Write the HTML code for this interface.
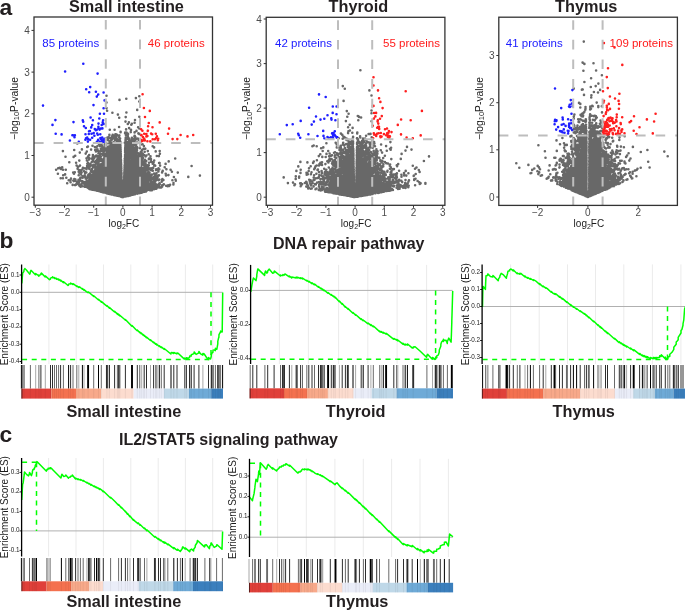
<!DOCTYPE html>
<html><head><meta charset="utf-8"><style>
html,body{margin:0;padding:0;background:#fff;overflow:hidden;}
svg{display:block;will-change:transform;font-family:"Liberation Sans",sans-serif;}
</style></head><body>
<svg width="685" height="611" viewBox="0 0 685 611">
<rect width="685" height="611" fill="#fff"/>
<text x="-0.5" y="14.6" font-size="22.8" font-weight="bold" fill="#231f20">a</text>
<text x="-0.5" y="248.4" font-size="22.8" font-weight="bold" fill="#231f20">b</text>
<text x="-0.5" y="441.8" font-size="22.8" font-weight="bold" fill="#231f20">c</text>
<text x="69.0" y="11.5" font-size="16.3" font-weight="bold" fill="#231f20">Small intestine</text>
<text x="328.5" y="11.5" font-size="16.3" font-weight="bold" fill="#231f20">Thyroid</text>
<text x="555.0" y="11.5" font-size="16.3" font-weight="bold" fill="#231f20">Thymus</text>
<text x="273.0" y="249.1" font-size="16" font-weight="bold" fill="#231f20">DNA repair pathway</text>
<text x="119.0" y="444.9" font-size="16" font-weight="bold" fill="#231f20">IL2/STAT5 signaling pathway</text>
<text x="66.4" y="417.0" font-size="16.3" font-weight="bold" fill="#231f20">Small intestine</text>
<text x="325.8" y="417.0" font-size="16.3" font-weight="bold" fill="#231f20">Thyroid</text>
<text x="552.5" y="417.0" font-size="16.3" font-weight="bold" fill="#231f20">Thymus</text>
<text x="66.4" y="607.0" font-size="16.3" font-weight="bold" fill="#231f20">Small intestine</text>
<text x="326.0" y="607.0" font-size="16.3" font-weight="bold" fill="#231f20">Thymus</text>
<clipPath id="cv0"><rect x="34" y="17" width="178.5" height="188.2"/></clipPath>
<g clip-path="url(#cv0)" fill="none" stroke-linecap="round" stroke-width="2.6">
<path stroke="#686868" d="M132.8 181.5h0m-14.3 13.6h0m8.6-37.5h0m-11.6 36.8h0m-11.9-25.1h0m12 9h0m6.7 15.1h0m-1.4-14.5h0m-1.3 5.6h0m-9.1 4.1h0m13.8-4.1h0m1.9-10.2h0m-7.7 17.1h0m-4.4-20.1h0m17.7 8h0m-15.2-23.7h0m30.6 17.6h0m-32.1-9.6h0m3.9 6h0m-14 17.5h0m-0.5-19.7h0m0.4 11h0m51.4 10.3h0m-46.6 4.5h0m25.8-5.5h0m-28.8-6.7h0m9.8-10.9h0m-7.5-12.7h0m30.8 35.1h0m-35.6-13h0m22.3-26.1h0m-9.7 32.9h0m-9.5 2.1h0m4.3-3.7h0m5.3 9.3h0m11.9-10.9h0m-10.3-2.5h0m14.4-41.1h0m-7.8 48.3h0m-21.6 1.5h0m31.7-5.5h0m-22.9-16h0m-0.3 23.3h0m-2.5-10.6h0m8.4 2.1h0m-2.7 7.1h0m21.6-33.9h0m-12.9 37.2h0m-25.4-9.3h0m22.2 8.2h0m4.5-27.7h0m15.1 24.4h0m-12.3-25.6h0m-2.3-16.2h0m3.3 45.8h0m-35.3-5.5h0m-15.4-3.4h0m29.3-5.2h0m10.7-8.2h0m15.4 15.6h0m17.5-2.1h0m-9.7 5.3h0m-29.3-19.7h0m-9.2-7.6h0m7.3 23.4h0m7.1 6.3h0m-4.6 2.5h0m14.2-35.5h0m-6.5 23.6h0m4.4 12.4h0m6.8-16.6h0m-7.7 8.7h0m-3 2.3h0m-22.4 0.7h0m29.3 2.6h0m-12.5 0.8h0m1.2-5.6h0m12.9-19.8h0m0.2 22.7h0m-19.2-27h0m28.5 26.3h0m-1.5 0.2h0m-21.9-30.3h0m4.3 17.4h0m1-2.9h0m0.9 15.6h0m-17.8-31.3h0m34.6 16.6h0m-37.6-9.7h0m23.4 14.4h0m-5.1-28h0m-9.1 33.4h0m28.4-10.9h0m-20.2 15.6h0m19.1-4.5h0m-13.3-4.8h0m19 9h0m-9.7-3.9h0m-20.6 5.1h0m12.3-15.4h0m-21.7 5.2h0m13.6-17h0m20.5 30.2h0m-45.5-32h0m43.7 5.4h0m-15.9-22.4h0m-1.8 24.4h0m-27.7 14.9h0m47.4 2.5h0m-5.9-32.2h0m-47.8 14.1h0m46.6 9.8h0m-9.9 10.5h0m-22.6-13.1h0m27.5 10.4h0m-16.9 4.4h0m29.7-3.3h0m-14.2-10h0m9.1 1.7h0m-7.6-2.1h0m-8.1-24.7h0m-2.5 11.7h0m13.4 7.1h0m-2.8 2.7h0m1.2-0.3h0m9 10h0m-13.6 13.4h0m-14-7.9h0m-15.9-3.4h0m0.1-0.8h0m21.3 0.3h0m7.4 10.4h0m-1.3-6h0m-16.2-10.3h0m21.8-33.3h0m-5.9 36.6h0m-8.2-18.5h0m9.4-7h0m18.4 23.1h0m-46.9 5.3h0m25.2-13.4h0m16.4 17.7h0m7-9.3h0m-22.2-21.7h0m23 33.6h0m-23.6-14h0m-5.5-7.5h0m-14.3 17.6h0m36.9-35.3h0m-0.2 35.4h0m0.9-27.4h0m-21.3 15.9h0m1.2-10.2h0m23 23.5h0m-40.8-17.5h0m29.9 23h0m-6.8-8h0m2.9 2.3h0m-17.4-9.4h0m0-10.4h0m21.5 7.5h0m0.7 17.1h0m21.3-35.9h0m-18.9 36.3h0m-30.3-8.5h0m23.5-9.8h0m-5.6 10.8h0m-8.8-12.5h0m21.1 1.1h0m-65.4-6.3h0m69 10.5h0m-8.4 15.6h0m13.7-27.7h0m-28.9 20.5h0m14.3-8.3h0m0.1-14.4h0m-12.2 27h0m24.1-23h0m14.7 20.2h0m-25.3-20.6h0m-8.7 23.3h0m-12.1-9.7h0m2.4 6.3h0m1.7-4.5h0m2.7-10.3h0m7.1 16.5h0m-34.9-19.1h0m49.9 2.5h0m-8.4 7.1h0m-0.4-26.2h0m-12.1 9.7h0m20.4 17.8h0m10.6-10h0m-35.9 16.3h0m17-2.8h0m3.4 6.2h0m-47.6-11.5h0m30 3.3h0m8.7-12.5h0m0.4 20h0m-0.3-22.7h0m14.4 24.3h0m-9.2-9.3h0m4.8 6h0m-26.4-10.2h0m17 7h0m5.4-24.2h0m-35.9 18.8h0m6.3-1.8h0m11.3-22.8h0m46.6 31.4h0m-41.1-30.6h0m15.2 24.5h0m7.1-27h0m-47.5 27h0m36.8-11.4h0m-8.9-15.2h0m10.6 5.7h0m-12.7 0.9h0m20.6 19.5h0m-13.8-0.6h0m32.7 7.6h0m-28.4 6.8h0m14.8-7.2h0m-0.4-3.3h0m-12.9 7.7h0m-9.9 1.8h0m1.1-41h0m7.5 22.5h0m1-27.1h0m-18.6 34.5h0m10.8-14h0m-53.6-12.7h0m61.1 14.7h0m-10.5-22.3h0m1.9 40.8h0m12.6-3.2h0m-6.5 0.4h0m-6.4-8.1h0m6.3 10.3h0m4.2-30.5h0m-9.4 18.3h0m16.8-33h0m-26 19.3h0m-15.8 9.1h0m4.1 3.2h0m7.9 14.8h0m9.9-18.1h0m-6.2 17.6h0m10-41h0m9.8 45.8h0m0.5-5h0m-20.1-17.5h0m-9.9-21.1h0m14.8 25h0m11.4-1.4h0m5.6 17.5h0m-6.8-12.7h0m-13.7 13.1h0m20-7h0m-16-33.3h0m-7.3-2.4h0m5.2 29.5h0m27 4.3h0m-26.7 1.3h0m2.5 6h0m13.8-0.4h0m-6.1 4.5h0m21.4-11.4h0m18.5-3.8h0m-50.4-21.3h0m-5.1-19.5h0m20.4 55.9h0m-28.6-12.4h0m37.4 9.9h0m-20.6-18h0m15.8 14.6h0m-11.9-46.9h0m-2.1 17.9h0m14.2 9h0m-10.9 15.8h0m-13.7-3.2h0m31.8-2.6h0m0.5-3.4h0m-57.6 0.5h0m41.3 19.9h0m0.7-14.7h0m-9.9 10.1h0m-0.3-54h0m10.3 40.3h0m7.4 5.4h0m-35.4-2.1h0m32.6-13.3h0m-9.2 10.2h0m3.7 17.7h0m0.5-7.7h0m-9.8-3.7h0m15.8-43.5h0m-20.8 22h0m16.1-5.9h0m14.6 35.6h0m-22-16.7h0m-6.9 9.5h0m8-42.6h0m-5 1.9h0m-19.2 19.7h0m23.2 20.6h0m14.7 5.3h0m-21-22.1h0m18.8 1.9h0m-6.7 22.9h0m-4.4-2.5h0m-8.5-37.4h0m20.6 37.5h0m-21-0.1h0m17.4-29.1h0m-7.7 25.8h0m12.7-25h0m2.3 3.7h0m6.2 12.6h0m-30.8 2.7h0m10.8 1h0m-1 2.1h0m10.4-20h0m-1 26.1h0m-22.8-22.6h0m9.1 25.9h0m27-14.8h0m-25.2-6.7h0m0.2-11h0m11.9 19.7h0m4.2-6.1h0m21.3 4.9h0m-48.6-0.3h0m26.4 11.5h0m-13 1.9h0m-22-5.7h0m34.3 6h0m-14.4-5.2h0m15.2-29.8h0m-1.5 20.5h0m-32.3-3.5h0m-0.9 7.1h0m-12.5-13.1h0m35.3 19.9h0m-21.8-29.1h0m-0.5 10.8h0m33.6 11.8h0m-16.3-3.8h0m2.8-24.2h0m12.3 39.7h0m1-6.9h0m-42.6-1.7h0m43.3-11.6h0m-22.8 19h0m-33.2-11h0m42 13.9h0m5.6-31.5h0m11 14.7h0m-38.6-7.1h0m19.5 14h0m8.8-17.2h0m9.6-20.5h0m-35.1 28.6h0m16.6 9.9h0m28.1-14.2h0m-28.3 22.8h0m-7.4-19.5h0m-14-9.5h0m33.7 25.1h0m-3.4-10.3h0m-13.3-12.5h0m-0.4 0.9h0m-3.8 22.9h0m12.6 3.3h0m15-10.5h0m-14.7-13.8h0m-6.7 16.8h0m6.8-21.9h0m5.6 7.2h0m-2.3 11.3h0m5.8-7.8h0m-15.2-2.8h0m5.8 21.8h0m4.6-34.4h0m13.3 21.8h0m-24-19.5h0m27.2 28.3h0m-12.3-3.2h0m-0.4 3.6h0m-18.2-6.1h0m19.2-7.6h0m-15.6-1.3h0m1.5 10.9h0m4.7-15.4h0m17.4 6.9h0m-18.2-10.4h0m16.9 5.3h0m-25.5 6.8h0m-0.1-24.3h0m37.4 7.7h0m-14.4 11.8h0m-2.6 3h0m18.4 6h0m-30.1 1.6h0m-2.5-3.2h0m3.6 9.5h0m0-29.3h0m-3.1-13.7h0m-5.8 25.1h0m-8.8-23.2h0m22.1 32h0m-13.9-1.5h0m20.1-28.8h0m-11.6 35.3h0m21.6-9h0m-7.2-3.7h0m-9.7 17.8h0m19.9-6.2h0m-58.3-30.5h0m45.6 1h0m21.8 28.6h0m-67.1-36.3h0m15.3 35h0m16.2-13.7h0m6.2 3.6h0m17.4 4.3h0m-27.2 12.9h0m-2.2-35.3h0m-6 28.3h0m6.2-10.5h0m0-6.3h0m6.2 25.6h0m-9.8-28.2h0m18.4 22.1h0m-19.3 3.5h0m16-1.2h0m0.9-1.9h0m-24.9-4.6h0m4.6 3.3h0m42.5-23.2h0m-55.8 15h0m22.8 10.4h0m9.3 4.1h0m8-1.7h0m-29.3-2.9h0m30.4-41.7h0m-36.2 22.8h0m22 9.2h0m-6.6 11.8h0m-2.2-15.6h0m-3.1-9.9h0m26.8 3.1h0m-1.6 20.2h0m5.3-32.2h0m-16.1 15.6h0m-40 1h0m31-0.1h0m-5.1 16.4h0m28.4-27.9h0m-19.1 21.2h0m20.4 4.8h0m-17.8 5.8h0m-0.2-1.2h0m1.9-36.6h0m-12.6 32h0m30.2-3.2h0m2.1-9.9h0m-10.7-15.8h0m4.5 28.8h0m-20.4-17h0m24.6-5.5h0m-23.8 23h0m6.9-12.6h0m-0.9-28.4h0m-13.3 25.3h0m27.2-1.4h0m0.3 15.5h0m-2-15.6h0m-12.4 17.2h0m-21.9-10.4h0m13.3 13.2h0m13.3-1.6h0m-21-15.8h0m24.4 6.8h0m-20.6-3h0m1.8 12.7h0m1.8-36.3h0m21.8 22.8h0m-13.8 6.2h0m26.6-8.8h0m-22 11.7h0m-13.9-6.6h0m26.8-4h0m-50.2 4.7h0m40.7-6.9h0m14.1 8.8h0m-33.7 4.4h0m-12.5-37.3h0m13.9 21.7h0m9.6 23.4h0m-2.3-0.1h0m51.2-8.7h0m-44.1 7h0m9.7 0.2h0m9.7-3.1h0m-7-2.9h0m-6.4 0.4h0m22.1-4.1h0m-18.5 0h0m-39.1 1.7h0m27.6-2.2h0m-6.4-17.5h0m15.2-17.4h0m4.7 44h0m-10.8-1h0m10.7-31.5h0m7.8 28.7h0m-36.5-19.3h0m-6 13.5h0m20.3-6.6h0m-31.4-17.8h0m26.7 2.6h0m15.1-18.4h0m-11.1 1.3h0m5.3 5.1h0m-10.7 42.6h0m19.3-10.1h0m-8.6-25.1h0m-3.8 28h0m14.9-2.5h0m-21.2-0.4h0m-4.7-18.7h0m-15.9 11h0m29.5 20.5h0m35.3-24.9h0m-47.2 11.6h0m-2.2 11.7h0m9.8-25.2h0m-11.1 19.9h0m30.7-8.5h0m-68.6 1h0m56-3.9h0m-8.9 7.9h0m-4.5-8.8h0m17 17.6h0m-9.5 2.3h0m0.2-7.3h0m3.4 8.9h0m-9-7.3h0m40.6-3.7h0m-19.9 6.3h0m-4-22.8h0m-22.5 24.7h0m15.6-15.8h0m-65.5-10h0m78.7-8.6h0m-19.9 32.9h0m-8.4-19.8h0m11.2 17h0m14.6-25.7h0m-22 10.5h0m42.1-4.1h0m-21.3-4.5h0m-10.8 26.2h0m-5.5 3.3h0m6.3-27.8h0m-4.4-6.9h0m4.3 15.5h0m-18-32.3h0m21.9 43.6h0m12.1-14.2h0m2 8h0m-25.8 12.8h0m26.4-4.5h0m-54.9-2.1h0m42 6.9h0m-14.6-9.2h0m1.9-2.7h0m1.5-31.3h0m-6.8 30.9h0m3.9 10.7h0m-11.6-16.4h0m16-9.8h0m0.3 25h0m6.1-31.8h0m-6.1 5.5h0m-2.5 6.1h0m-10.2 12.7h0m-17.5 2h0m27.7-19.9h0m-10 17.6h0m15.7 1h0m-16.6-7.2h0m5.1 6.6h0m5.9 8.1h0m2.4-25.5h0m-12.3 13.3h0m-6.4-33.9h0m26.4 36.6h0m2.7 8h0m-14.1 5.3h0m8.8-14.2h0m-7.2-9.6h0m13 12.2h0m-13.2-7.8h0m-41.3-33h0m34.8 38.3h0m76.2-4.8h0m-62.8 17.4h0m20.6-3.2h0m-27.4-14.8h0m11.1-8.3h0m-10.6-15.5h0m6.6 27.5h0m-18.3 9.2h0m-3.3-25.4h0m20.4 29.7h0m-5.6-4h0m17.9-27.7h0m-7 24.6h0m-10.9 5.9h0m-14.1-0.9h0m20.6-31.1h0m-1.1 32.6h0m6.5-2.7h0m-4.9-21.9h0m-4.8 4.4h0m28.9 17h0m-33.6-14.3h0m7.9-3.2h0m6.7 16.5h0m13.6-37h0m-27.7 29.6h0m-1-6.2h0m2.7 8.9h0m-3.5 1.3h0m19.6 0.1h0m-3.5-6.9h0m-25.2 12.2h0m-12.7-4.2h0m18.3 6.6h0m1.5-14.3h0m36.5 5.6h0m-69-14.2h0m29.9-1.4h0m13.3 19.7h0m-13.3 4.6h0m49.1-9.2h0m-43.6-13.3h0m-11.4-7.3h0m6.7 25.9h0m13.2 0.9h0m-35.3-4h0m27.4-28.7h0m13.7 35h0m-5.6-12.4h0m12.4-12.1h0m1.3 4.2h0m-29.7 21.5h0m17.6 1.8h0m-0.1-47.9h0m-2 26.6h0m3.1 15.4h0m0.7-55.4h0m-21.7 56.3h0m24.6-17h0m-17.6-1.3h0m4.6 19.3h0m-2.4-18.8h0m6.4 18.3h0m34.2-21.6h0m-15-0.7h0m-33.7 6h0m32.2-17h0m-11.2-13.4h0m-9 49.4h0m-29.5-7.2h0m34-4.8h0m-28.6 1.5h0m37 8.9h0m-35.4-19.8h0m5.1 13.2h0m13.1 4.3h0m15.6-45.2h0m-5.5 13.2h0m-9.7 32h0m2.4-0.6h0m-8.7-28.8h0m-40.6 19.9h0m57.1 11.9h0m-7.8-18h0m17.6-1.5h0m-15.1-19.7h0m-1.7 27.2h0m-13.5-31.2h0m13 35h0m15.1 1.4h0m-13.4 0.4h0m7.5-42.1h0m-16.1 41.3h0m-31.7-3.9h0m45.4-22.8h0m2.7 27.5h0m-18.8 4.2h0m26.7-28.5h0m-40.9 27.2h0m25.8 7.5h0m-11.2-9h0m-1.6 3.7h0m19.4-20.6h0m-16.2 16h0m22.3 7h0m-6.8-58.8h0m-28.9 52.7h0m37-21.4h0m1.2 23.9h0m-3.6-3.5h0m-19.3 4.3h0m-3.5-14.7h0m-0.2 2.3h0m22.4 15.5h0m-21.9-52.1h0m6.2 17.1h0m6 37.9h0m-7.1-3h0m-10.5-38.9h0m17 41.8h0m5-26.3h0m1.4 23.8h0m-14.5-1h0m19.2-20.2h0m8.9 18.7h0m6.3-4.8h0m-26.4-8.3h0m13.6 13.1h0m-2.9-19.8h0m10.5-0.1h0m-49.6-14.5h0m19.5 36.9h0m-14.4-7h0m-1.9-11.5h0m28.6-5h0m-22.6 21.1h0m9.9-15.3h0m22.9-12.8h0m-10.5 16.5h0m9.8 8.1h0m-12.2 4.1h0m-29.4-46.3h0m12.2 46h0m30.6-5.4h0m-9.3-44.6h0m-10.5 50.2h0m6.4 4.7h0m-17.9-7.5h0m20.3-7h0m-21.7-0.4h0m-17.9 3.9h0m52.4-5.5h0m-20.2-35.4h0m6.6 51.1h0m7.3-1.5h0m-2.9-12.7h0m-15.8-45.4h0m-7.8 53h0m35.1-2h0m4.1 4.4h0m-36-14.7h0m31.3-8.7h0m-28.2-18.4h0m25.2 38.1h0m7.1-17h0m-4.8-17.5h0m-18.5 38.7h0m21.7-9.4h0m-26.9-18.2h0m19.9 22.7h0m-2.6-32.7h0m-11.5 34.2h0m-23-6.2h0m30.7 0.1h0m-4.1 8h0m-0.1 0.9h0m-22.8-6.6h0m-6.9 2.9h0m16.4 0.8h0m29.7 2.8h0m-11.5-13.1h0m-2.2-16h0m3.2 8.5h0m-9.4-18.4h0m-0.1 31h0m0.9-13.8h0m-12.5-0.9h0m5.9 20.5h0m23.4 1.3h0m0 0.1h0m-28.2-16.4h0m3.2 13.7h0m-7.8 1.8h0m7.6-32.7h0m6.7 7.3h0m2.5 24h0m5-18.5h0m-23.5-10.2h0m27 15.9h0m5.6 2.1h0m-16.5-42h0m13.8 31.1h0m-8.5 0h0m-17.4 4.6h0m4.8-18.1h0m0.7 26.6h0m-15.6 3.7h0m-8.5-16.2h0m22.9 25.6h0m19.7-0.7h0m-14-19.9h0m12.3 18h0m4-24.1h0m17.5 2.2h0m-31.2 17.2h0m-19 6.2h0m39.6-22.9h0m-6.1 10.4h0m4.3 4.8h0m-14.5 5.2h0m-12.6-25.7h0m17.4 21.8h0m8.3-3.8h0m-37.5 1.7h0m3.9-33.8h0m31.7 3.4h0m-28.2 40h0m-46.5-14.7h0m64.2 14.8h0m-17.6-0.9h0m11.2 3.2h0m-11.1-20.4h0m16.4 16.4h0m-5.2-4h0m-2.1-3.2h0m16.5 3h0m-12.1-13.1h0m3.8 19.8h0m-16.3-18h0m5.7-18.8h0m45.1 22.5h0m-32.7-12.3h0m17.7 23.9h0m-19-27h0m-14 7.3h0m29.4 21.2h0m-28-10.9h0m46.4 5.1h0m-46.4 3h0m3.2-36.7h0m9.7 12.9h0m-18.1 8.5h0m18.5 19.4h0m-1.3-18.8h0m-17 3h0m3.7 1.7h0m14.2-5.6h0m5.6 16.2h0m-10.1-22.8h0m13.3 23h0m-12.9-3.4h0m0.2-3.5h0m6.6-7.6h0m-9.5-20.6h0m13.5 23.8h0m-26.4 13.5h0m-3.5-11h0m19.1 4.4h0m3.9 10.2h0m-37.2-10.1h0m42.6 9h0m-13.9-0.5h0m22.9-9.7h0m-19.3-12.1h0m-30.6 6.9h0m42.3-5.9h0m-18.4 16.8h0m-2.6-36h0m39.1 20.4h0m1.1 11.6h0m-38-7.6h0m23.9 4.4h0m-22.5-34.6h0m4.1 22.2h0m-30.5 16.7h0m9.6-5.1h0m32.7-7.5h0m-18.9 6h0m27 7h0m-23 2.4h0m-5.6-0.4h0m58.6-28.9h0m-41 6.1h0m-2.5 20.2h0m28.5-10.7h0m-37.5 7.2h0m0.9-19.1h0m12 7.8h0m-13.9 16.8h0m9.1-13h0m-18.7 10.8h0m11.3-52.8h0m6.6 61.5h0m-26.6-36.6h0m4.3 17.6h0m48.9 11.8h0m-52.2-25.2h0m31.1 2.4h0m-26.2 25.8h0m20.8 3.2h0m4.7-11.9h0m-8.5-42.6h0m4.3 46.5h0m7.2-19.5h0m-31.6-6.8h0m19 33.9h0m-8.7-10.3h0m27-6.9h0m-32.8-4.6h0m41.4 15.8h0m-16.8-16.8h0m31.3-6.4h0m-38.4 21.4h0m3.2-17.6h0m-11.9 13.7h0m15.6 7.5h0m6.6-21.3h0m-24.2 10.1h0m-3.8 3h0m14.3-5.6h0m-10.9-12.4h0m0.3-13.3h0m24.1 31.8h0m-9.2 12.3h0m-5.5-1.5h0m3.9 2.4h0m13-14.6h0m7.2 9.8h0m-1.7-5.9h0m-24.4-1.4h0m2.6-2.6h0m-16.1-3.8h0m13.9 11h0m12.9-22.4h0m11.2 19.5h0m-8.2-5.5h0m-6.4 7.9h0m-23.6 3.4h0m-6.9-29.4h0m-1.1 10.6h0m24.1-1.5h0m5.2-33.2h0m-12.7 47.4h0m-5.8-1.2h0m34.1 8.5h0m-34.2-9.4h0m21.7-6h0m-17.7 15h0m21.6-21.3h0m-24.6-13.7h0m-1.3 15.8h0m-14.8 13.4h0m-12.2-20.9h0m65.5-2.1h0m-29.2 29.8h0m10.3-48h0m22.5 42.4h0m-45.1-18.1h0m9.4-6h0m-19.6 12.2h0m24.8 5.9h0m2.6 14.4h0m-6.4-6.5h0m20-10.7h0m-38.8 0.2h0m33.2-6.2h0m-12.6 22.4h0m-5.3-19.9h0m-4.5 15.5h0m13.6-2.7h0m-9.7 4.3h0m-18.6-23.4h0m74.3 0.1h0m-40.3 7.4h0m9.3 13.8h0m-1.2 3.1h0m22.5-8.4h0m-45.4-6.5h0m21.1 12.6h0m-11.7-0.8h0m-16.9-10.9h0m-9.2-22.9h0m22.3 10.5h0m10.7 22h0m-11.2-25.7h0m-14.2 17.2h0m45.9 6.1h0m-53.1-4.7h0m29.3 5h0m-13.1-19.7h0m42.9-19.9h0m-40 18.5h0m1.7 17.9h0m-2.9-6.1h0m18.2-14.1h0m5.4 6.5h0m8.4 6.3h0m-12.3 14h0m-8.6-1.9h0m25-12.2h0m-28.1-12.7h0m-7.1 28.3h0m10.6 2.5h0m11.6-12.1h0m-20.6 7h0m-4.2-2.4h0m13.7 5.8h0m-7.6-22.3h0m-14.6-7.4h0m5 24.7h0m16.6 8.3h0m-12.4-30.8h0m9.6 20.6h0m-11.5-3.8h0m8.6-5.5h0m13.2 12.8h0m-17.2-34.5h0m15.8 20.9h0m8.3 0.9h0m-0.4 15.9h0m-17.9-3.5h0m-23-4.8h0m35.4 10.6h0m-11.6-27.5h0m8.6 18.2h0m7.1-36.1h0m-37 6h0m33 32.2h0m-40.4-1.6h0m32.9 1.6h0m-8.4-2.7h0m-1.1 5.9h0m24.4 1.3h0m-4.3 0.4h0m-9.1-0.5h0m-24-16.4h0m44.1 10.5h0m-6-22.3h0m9.6 24.7h0m-33.4-18.1h0m21.7 22.5h0m-30.1-23h0m9.6-0.3h0m5.9 5.9h0m13.4 3.7h0m-43.6-21h0m6.9 7.1h0m27 28.2h0m1.2 0.7h0m-8.7-34.7h0m-12.4 17.8h0m-5-2.2h0m46.5 11.9h0m-20.6 0.5h0m-28.3-13.5h0m40.1 14.1h0m-31.2-4.1h0m18.3-19.2h0m7.9 24.6h0m-4.4-9.5h0m-23.5 11.3h0m-19.6-10.5h0m36.9-21.7h0m-15.2 29.5h0m8.3-3.2h0m-16.9-5.5h0m37.6-3.8h0m-7.7 11h0m-16.1-46.7h0m9.2 42.9h0m-9.7 10.7h0m0.3-30.2h0m2.5-7.4h0m25.9 18.2h0m-31 7.1h0m-11.6-9.2h0m24.1 9.9h0m-18 3.2h0m14.7 6.7h0m-12.9-17.6h0m15.4 12.8h0m5.8 7.1h0m-20.8-9.5h0m-6.3-7.1h0m13.7 1.8h0m9.3-21.4h0m6.2-17.4h0m-34.1 42.6h0m11 8.7h0m-5.3-4.3h0m30.8-6.8h0m0 2.2h0m-10.2 3.8h0m-0.2 7.5h0m37.9-9h0m-39.6 11.2h0m-13.5-24.9h0m-0.2 6.7h0m43 11.5h0m-44.5-3.8h0m66.4-3.3h0m-56.7 3.1h0m11.1-22.8h0m-10.3 11.6h0m-11.1 7.4h0m12.1 5.4h0m-3.6-10.1h0m-5.9 10.4h0m18.5-4.5h0m-8.1 12.4h0m-17.4-6.9h0m32.9-32.5h0m-26.9-8.2h0m14.4 45.6h0m-8.7-8.8h0m-15.6 5.6h0m39.9-13.7h0m-20.8-15.4h0m-3.6 28.1h0m2.2-43.7h0m-50.8 28.4h0m64.2 9.8h0m-21.3 3.4h0m-5.4 3.5h0m2.7-26.9h0m-14.1 10.8h0m18.5 13.3h0m20.6-24.7h0m-21-17.2h0m10.9 10.7h0m-25.5 31.8h0m32.8 2.5h0m-6.5-26.7h0m-5.9 21.7h0m12.1-12.8h0m-16.1-8.7h0m-8.3-4.7h0m16.3 21.1h0m-31.1-13.9h0m42.9 26.6h0m-0.4-10h0m-22.9 7.4h0m12.6 3.6h0m24.4-5.2h0m-23.7-6.6h0m3.2 3h0m-23-6.8h0m12.1 14.4h0m29.2-39h0m-22.9 29.8h0m-61.6-10.8h0m33.4 10.9h0m44.2-2.7h0m-44.4-1.4h0m20.5 10.1h0m14.5-3.1h0m-21.9-3h0m-19.8 0.1h0m42.3-1.5h0m-13.8-26h0m4.7 35.9h0m0.1-19.3h0m-15.8 5.3h0m5.6 9.6h0m30.4-2.6h0m-25.3 7.1h0m14.2-11.2h0m-37.3 0.1h0m16.8 8.2h0m6.6-40h0m22.3 28.9h0m-2.7-32.7h0m-4.2 37.7h0m17.7-15.7h0m-29.7 23.6h0m7.9-10.2h0m-3.6-21.1h0m-21.7 27.9h0m22.6-8.8h0m9.1-10.7h0m1.4 6.7h0m-6.8-18.2h0m13.3 11.5h0m-4.1 3.6h0m3.8 4.2h0m-17.3-4h0m6.2 0.5h0m0.5 7.2h0m-3.2-4.5h0m1.9 14.4h0m23.3-4.8h0m-8-29.4h0m-33.8-8.4h0m17.1 28h0m9.1-2.1h0m-9.3 17.1h0m2.5-1.1h0m5.9 2.3h0m-20.7-5.1h0m0.7-2.6h0m9.8 12.6h0m4.8-9.9h0m-0.1-9.9h0m-2.4-3.8h0m34.4 13.6h0m-93.3-9.3h0m58.9-0.2h0m-5 16.3h0m3.9-2.2h0m1.2-10.3h0m42.9 3.9h0m-29 5.7h0m-34.3-14.3h0m35.2-0.6h0m-13-17.5h0m-1.8-7h0m12.5 21.5h0m-7.9-8.2h0m-58.9 13.6h0m65.4 14.6h0m-25.5-6.3h0m20.2 6.5h0m0.9-1.1h0m-18.1-5.9h0m40.1-9.6h0m-77.4-11.2h0m61.1 14.1h0m-26-7.7h0m-13.8-15.8h0m27.9 26.4h0m-21 2.1h0m-12.4-5.5h0m34.8 11h0m-16.7-17.6h0m0.8-9h0m-21.7 0.9h0m24.7 18.9h0m19.2-7.4h0m17.9 6h0m-37.1-16.6h0m9.8 16.5h0m-16.3 4.2h0m13.1 7.8h0m-15.3-3.8h0m-5.4-1h0m4.2-28.7h0m1.7 32.4h0m-4.9-12.6h0m34.6-19.6h0m-18.8-17.4h0m-36.7 34.8h0m43.7 10h0m-26.4-1.6h0m40.1-1h0m-16.1-1.4h0m3.6-23.4h0m-24.9 25.1h0m11.9 0.7h0m6.2-26h0m8-0.6h0m-32.8 28.4h0m21.8 5.8h0m18.1-5.8h0m5.4-24.2h0m-46.1 10.9h0m19.9-1.2h0m7-19.8h0m7.1 13.8h0m-14.9-29.8h0m16.5 57.5h0m9.1-30.4h0m-1.9 10.3h0m-21.7-8.1h0m24.6 17.8h0m-17.1 0.5h0m4 5.9h0m-21.8-30.4h0m15.7 25.2h0m6.1-0.5h0m30.1-0.2h0m9.2-18.1h0m-43.4 11.8h0m-0.3 4.3h0m-3-8.2h0m-10.3 12.2h0m21.2-36.7h0m-17.5 20.6h0m14.8-22.6h0m-5.6 29.3h0m-2.6 7.1h0m2.5-37.5h0m-3.6 32.7h0m-0.6 3.6h0m7.6 1.7h0m-4.3 5.7h0m17.4-4h0m-12.6-14.5h0m-10.1 7.3h0m-12.9 5.8h0m17 6.6h0m12.8-25.1h0m24.5 16.6h0m-14.5-8.3h0m-17.6 20.4h0m-16.3-5.3h0m13.8-14.5h0m-0.6 0h0m18.7 2.6h0m-22.6 16h0m23.7-40.5h0m9.3 24.4h0m-12.5 6.3h0m-24.6 3h0m-5.5-48.6h0m29 44.3h0m-21.8-4.6h0m10.1-3.6h0m-8.8 19.2h0m10.1-43h0m-11.5 36.4h0m22.7-26h0m-31.1 29.8h0m25.3-10.6h0m-26.4-4.4h0m28.2-9.9h0m-11.4 17.2h0m3.9 9.4h0m6.8-51.1h0m22.9 38.5h0m-30.2-22.5h0m-4 8.8h0m24.5 21.2h0m-27.7-45h0m21.2 43.5h0m-23.4-5.1h0m13.9 4.2h0m0.5-28.9h0m-12.6 34.1h0m19.5-27.6h0m-3 16h0m7.2-15.4h0m2 22.6h0m-36.9-21.4h0m-7.5-1h0m28.9 29.4h0m1.7-65.9h0m-17.4 43.3h0m7.2 16.2h0m-49.6-25.4h0m85.1 17.1h0m-19.6-5.1h0m-21.9 18h0m35.8-37.9h0m-32.7-4.7h0m33.9 28.2h0m-18.2 6.8h0m0 6.8h0m-14.8 3.4h0m-2-17.7h0m-7.9 12.4h0m36.9-15.4h0m-29.1 1.4h0m4.2-19.5h0m-5 36.2h0m11.3-17.3h0m-0.5 13.2h0m-14.2-7h0m-20.5 8.1h0m20.9-22.1h0m15.8 17.3h0m-28.6 2.1h0m20.7-23.2h0m-0.3 29h0m3.2-6.8h0m8-35.2h0m3.6 43.7h0m-28.6-18.9h0m25.1 5.6h0m18.3 5.5h0m-30.8 8.9h0m10.9-27.2h0m-15.2-12.8h0m2.3 34.4h0m11.3-1h0m19.1-12.9h0m-48.4 6.8h0m30.8 12.4h0m-20.2-4.6h0m20.5-5.6h0m-3.2 10.1h0m3.2-0.7h0m-26.1-7h0m39.8-37h0m-22.1 35h0m12.2 0h0m-10.1 9.5h0m-1.8-11.1h0m14.3 1.2h0m-19.8 4h0m15.8-42.7h0m-15.4 4.9h0m-15.2 13.7h0m33.8 19.7h0m-30.5-2.8h0m11.8-1.7h0m43.7-4.3h0m-40-20.4h0m-19.2 32h0m15.7 6.5h0m10.5-49.4h0m3.6 43.2h0m6.3-4h0m-5.2 2.6h0m-43.6-8h0m46.8 16.5h0m-12.9-7.4h0m-15.6-29.8h0m-13.6 31h0m29.3-15.5h0m-23.9 5.9h0m36.2-0.6h0m-23.5 11.8h0m15.9-42.3h0m-16.2 26.5h0m-11 1h0m50.1 5.7h0m-11.4 11.1h0m5.9-23.4h0m-27.8 5.8h0m18 12.6h0m-14.5-21.8h0m5.5 18.4h0m-25.7-14.8h0m29.3 18h0m-41.1-9h0m27.4 10h0m14.1-8.5h0m4.5-13.3h0m-27.7 16.9h0m2.3-19h0m-29.1 3.1h0m52.1 2.8h0m18.5 13.7h0m-56.7-17.7h0m32.7 11.2h0m-37 5.5h0m33.3 6.6h0m-6.9-30.2h0m5 27h0m-3.9 8.3h0m5.8 0.9h0m-3-2.1h0m0.6-21.8h0m2.5 25h0m-11.3-34h0m-18 9.5h0m23.7-19.3h0m-14.2 28.5h0m33.6 7.1h0m-71.9-12.5h0m82.1 16.1h0m-19.6-18.2h0m-8.8 16.6h0m18.3 2.9h0m-20.9-2.5h0m13-7h0m-22.3-2.7h0m11.1-23.6h0m12.5 19.7h0m10.2 12.8h0m-52-8.6h0m41.5 6.9h0m-26.8-3.3h0m11.8-10.5h0m26.8 18.7h0m-18.9-17.4h0m7.4-12.8h0m-15.5 24.4h0m-38.9-36.8h0m54.5 45.3h0m-18.3-12.1h0m1.8-30.8h0m-13.5 28.8h0m22.4-2.1h0m-15.1-2h0m18.8 15.9h0m8.5-39.1h0m-38.8 33.6h0m24.2-9.3h0m9.2 14.6h0m-12.4-35h0m20.8 19.6h0m-19.3-12.2h0m21.1 13.6h0m-15.7 14.3h0m0.9 1.6h0m-8.3-48.1h0m-11.7 18.8h0m11 6h0m19.4-11.6h0m2.1 19.1h0m-1-42.9h0m-13.7 28.9h0m10.6-24.2h0m-22.1 37.7h0m18.3 16.4h0m-7.1-35h0m27 29h0m-35.6-17.2h0m-11.8 14.3h0m-4.5 1.3h0m28.1-0.3h0m0 3.5h0m12.4-5.6h0m-11.6 10.5h0m5.9-5h0m-9.5-10.8h0m-8-9.3h0m29.5-14.7h0m-38.5 23.8h0m32.1-14.7h0m-10.1 2.9h0m-4.3 27h0m23.8-10h0m-16-1.2h0m11.1 6.2h0m-11.6-6.7h0m-21.2-7.7h0m23.5 12.5h0m-13.5-1.5h0m2-20.8h0m4.3 8.8h0m-0.2 11.4h0m-24.6-24.3h0m36.8 31h0m-7.1 0.8h0m-19.3 0.6h0m16.8-7h0m-8.1-21.4h0m9.4 26.6h0m4-13.1h0m-10.1 11.7h0m-14.1-19.4h0m17.6-4.4h0m-5.9 28.8h0m-4.5-5h0m21.4-1.5h0m-48.4-23.4h0m14 7h0m22.1 17h0m-16.6-6.2h0m8.2 3.5h0m18.9-9h0m-6.4 17.7h0m-22-40.4h0m15.1 32.6h0m16-25.5h0m-16.9 12.9h0m-20-7.5h0m39.4 21.7h0m-21.2-4h0m2.8-10.4h0m11.2 7.5h0m-30.3-5.6h0m31 5.7h0m-21.4-16.6h0m6 10.5h0m34.1-1.8h0m-43.1 8.8h0m-15.3-24.7h0m37.7 32.1h0m-38.1-30.7h0m1.5 21h0m24.9-25h0m7.3 22.9h0m-11.2-7.7h0m37-7.5h0m-27.3 3.9h0m28.9 21.4h0m-50.4-19.2h0m9.9-17.5h0m-1.3 40.5h0m12.7-32.5h0m-9.3 29h0m10-1.2h0m13.9-1.7h0m-1.5 1.8h0m-33-29.5h0m14.5 20.9h0m5.7 0.7h0m-0.8-12.4h0m-4.4 24.4h0m7.3-40.5h0m-48.3 20.8h0m57.4 8.4h0m-9.3 10.8h0m-25.4-20.2h0m15 8.5h0m-7.6-22.7h0m-2 17.6h0m27 3.5h0m-31.8 3.6h0m-3.1-7.6h0m22.1 8h0m1.7 13.5h0m21.8-14.6h0m-21.2 7.9h0m7.8-10.7h0m-1.2 2.6h0m-9.3 15.1h0m10.4-18.8h0m2.6 16.7h0m-24.1-10.1h0m26.6 7.9h0m-14.8-6.1h0m-14.8 3.4h0m28.8 0.8h0m1.9-15.6h0m-37-4.9h0m19.7 25.7h0m-5.9-22.3h0m-10.5 14.7h0m6.8-28h0m36.5 17.2h0m-28.2-0.1h0m16.9-8.6h0m-41.8-6.6h0m25.9 34.1h0m-4.4-8.3h0m-0.9-7.5h0m20 3.2h0m12.3 4.8h0m-49.9-4.8h0m37.9-29.9h0m-16.4 11.9h0m-14.1 25.3h0m-1.9-9.8h0m35.5 2.3h0m-9.4-23.4h0m-3.2-2.7h0m-11.5 7.7h0m13.9 9h0m-15.9 9.4h0m29.4-10h0m-14.5 15.4h0m-10.6-9.5h0m7.6 4.8h0m-1.8 12.4h0m14-11.1h0m-11.1 5.5h0m-26.1-33.2h0m13.4 34.4h0m-15-42.4h0m57.3 35.9h0m-34.2-21.4h0m-2.1 15.4h0m10.7-2h0m7.5 5.5h0m-8.6 4.2h0m4.8 3.8h0m-17.4-8.1h0m-18.4 6.6h0m14.8-30.1h0m31.4 17h0m-14.5 18.8h0m4.3-9.2h0m-33.7-7.7h0m20.4 3.4h0m15.2 11.1h0m-27.3 0.8h0m16.7-11.5h0m8.8 9h0m-14.5-9.1h0m-12.8 7.6h0m29.1-41.2h0m-8.8 31.3h0m-18.2 9h0m-35.3-3.5h0m64.9-4.6h0m-9.4-36.2h0m13.5 42.7h0m-2.5-2.2h0m-19.5-26h0m-22 1.4h0m-5.2 16.1h0m28.3-15h0m-15.6 30.1h0m24.4 4.2h0m-6-3.9h0m-4.7 1.3h0m2.5-17.7h0m12.1-25.1h0m4.3 37.3h0m-23.7 3.2h0m-16.4-6.7h0m22.9-21.1h0m7.4 21.5h0m-14.2-27h0m13.5 14.6h0m-2.3 10.4h0m-27.9-18.8h0m-1.4 25.8h0m36.4-16.8h0m-41.6 5.4h0m43.3 16.2h0m-53.7-15.1h0m44.5-0.8h0m-6.4 12.3h0m-12-30h0m14.2-8.7h0m-1.6 36.5h0m40.2-8.1h0m-42.2 7.7h0m16.6-1h0m-20.4-2.8h0m3.1 10.4h0m32.8-19h0m-23.7-20.4h0m9.2 11.8h0m0.3 9.7h0m4.3 7h0m-3.7-9.8h0m-22.1 4.6h0m14-6.6h0m-24.8 14.2h0m-0.5 2.8h0m27.6-14.7h0m0.7 17h0m-23.2-30h0m-39.8 22.2h0m78.1-12h0m-27 16.7h0m21.1-4.8h0m-48.1-4.2h0m6.9-2.1h0m4.9 3.2h0m34.4 12.7h0m-42.3-36.2h0m9 26.9h0m42-15.2h0m-25.7 16.5h0m13.8-17.5h0m-17.4 21.2h0m-6.7-35.6h0m-52 15.4h0m57.1 22h0m11.2 3.8h0m-19.8-23h0m24.7 12.2h0m8.9 8.8h0m-19.6-34.3h0m-22.5 29.8h0m25.6 3.3h0m-10.1 3.5h0m21.8-14.4h0m-34.2-3.6h0m28 7.3h0m-13.7-8.5h0m-7.4 7.3h0m18.1-4.8h0m-4.7 6h0m22.9 1.2h0m-44.4-11.7h0m32.6-14.5h0m-35 28.8h0m14.3 6h0m-0.5-27.8h0m5.9 20.4h0m15.5-10.6h0m-1 12.6h0m2.5-51.5h0m-33.8 53.6h0m9.6 0.9h0m10.5-33.6h0m-0.5 30.3h0m-5.8-14.6h0m-13.2-12.3h0m27.8 31.6h0m-39.1-8.9h0m27.4 1.4h0m3.4 2.2h0m4.9 6.7h0m10.2-21.1h0m-18.2 9.1h0m20.6-17.6h0m-17.3 16.7h0m5.7-19.8h0m-22.3 10.4h0m-7.7 10.5h0m-6.2-18.3h0m20.6 22.1h0m-4.4 2.9h0m18.6-1.3h0m5.6-7.2h0m-9.4-2h0m11.2-35.7h0m-21 46.6h0m28.3 3.1h0m-30.4-26.6h0m0 21.1h0m30.9-3.8h0m-13.9 9.3h0m-23.8-7.5h0m29.5-22.2h0m-4.8-6.3h0m-9.5 18.1h0m1.5-11.4h0m7.1 23.3h0m1-38.6h0m-16.2 39h0m24.3 2.7h0m-20.3 3.7h0m-19-6.2h0m29.4-2.3h0m-21.6-6.6h0m24.7-32.2h0m-14.7 38.4h0m6.3-38.5h0m22.1-1.3h0m0.2 47.5h0m-18.9 0.9h0m-1.9-3.5h0m-31.4-4.6h0m20.4-21.1h0m17.9-12.9h0m-1.5 23h0m-13.1 16h0m-9.9-2.5h0m10.9 1.6h0m-37.6-19.9h0m40.7 13.8h0m5.6 8.5h0m-19.3-8.9h0m12.6-16.4h0m11.8 14.9h0m-5.4 15.1h0m-4.5-0.3h0m7.9-41.6h0m-21.9 25.4h0m-16.8 7.3h0m47.1-5.7h0m-31.9-10.3h0m7.3 21.1h0m33.6-28h0m-19.6 21.1h0m24.2 3.7h0m-43.6 1.7h0m8.2-35.6h0m-0.7 16.5h0m30.7 3.2h0m1.3 12.4h0m-4.6-1.2h0m-10.6-2.4h0m-9.4-6h0m-7.7-7.3h0m44.7 8.3h0m-39.4 13.5h0m-8.4-18.5h0m9.7-1.9h0m14.8-20.6h0m-8.9 5.8h0m10.1 21.1h0m-23.5 11.9h0m-10.9-15.6h0m7.1-18.6h0m29 3.1h0m-13.5 37.8h0m-2.6-8.9h0m8.3-15.7h0m-7.2 22.1h0m11.2 0.1h0m-22.5-11.5h0m27.2-4.4h0m-12.9 0.3h0m-10.7-2.5h0m3.5 17.4h0m-8.4-5.9h0m38.8 2.1h0m-35.9-35h0m23.7 27h0m11-0.4h0m-0.7-6.1h0m-26.4 8.6h0m21.9 7.3h0m-26-6.6h0m9.1-13.8h0m-18.9 9.1h0m-14.9-14h0m30.7 22.7h0m2.6-1.7h0m29.6-3.5h0m-33.9 13.2h0m9.2-14.2h0m1.8-51.9h0m-24.5 49.3h0m3.4 1.4h0m23 9.5h0m-5.9 4.6h0m-6.3-34.4h0m26.7 28.5h0m-32.5-28.5h0m3.4 25.3h0m20.8 4.3h0m3.2-15.1h0m-16.6-8.3h0m19.6 24.2h0m-18.5-15.2h0m-12.8 4.3h0m15.1-10.6h0m15.2 2.3h0m-4.5 18.2h0m-13.2-25.8h0m-12 19.6h0m-25.5-25.4h0m45.7 26.7h0m-22.4-17.7h0m53.2-3.2h0m-20 15h0m-37-12.7h0m-9.2 19h0m26.5-18.5h0m31.7 18.5h0m-29.3 3.6h0m-10.2-33.5h0m-29.4 20.6h0m38.6-33.9h0m-10 18.8h0m2.2 12.4h0m-21.8 11h0m-2.1-3.2h0m5.2-1.7h0m31.9-18.4h0m-30.6 7.1h0m-0.9 16.4h0m19.4-1.9h0m12.1-10.2h0m-8.7 23.1h0m4.2-17h0m-15.4 14.1h0m15-24.7h0m-6.3 18.6h0m-11.7-19.6h0m-28.9 17.7h0m43.9-17.5h0m17.8 13.3h0m-23.7 15.2h0m10-6h0m15.9-9.4h0m-47.9-9.3h0m5.3 8.7h0m32.6-25.7h0m-1.6 15.5h0m-17.8-34.9h0m-6.4 30.8h0m12.5 14.4h0m7.7 13h0m10.5-1.2h0m-10.8-11.1h0m-41.7 0.7h0m36.6 10.4h0m-7.5-32.4h0m15.1 8.5h0m-32.8 0.7h0m14.1-6.9h0m31.9 0.5h0m-14.3 25.4h0m6.8-23.5h0m-36.3-5.1h0m20.1 12.3h0m0.7 10.3h0m-3.4-17.4h0m-4.7 17.1h0m6.7 14.3h0m-25.4-8.7h0m-3.9-2.8h0m31.2 12.1h0m-9.6-2.7h0m18.6-9.7h0m3.2 3.7h0m-0.9-13.2h0m-25.6 7.3h0m10.4 13.2h0m17.4-13.8h0m-14.2-1h0m2.6 9h0m0.2-6.9h0m1.2-32h0m12.5 24.5h0m-28.1-19.9h0m16.4 40.3h0m-13.7-5.9h0m4.9-9.2h0m11.6-36.5h0m14.6 5.7h0m-24.4 20.9h0m2 14.7h0m-13.3-35.4h0m16.6 27.9h0m-5.2-14.5h0m-17-15.2h0m28.1 6.1h0m6.1-1.4h0m-5.3 39.7h0m-51.4-38.9h0m39.4 0h0m1.6 40.4h0m-17.8-1.4h0m25.2-1.9h0m-2.4-44.9h0m-34.7 4.8h0m33.9 8.9h0m-4.5-8h0m-23 25.9h0m28.1-37h0m5 51.4h0m-36.8-18.4h0m-5.6-16.2h0m13-11.6h0m-0.4 36h0m-7.7 4.4h0m15.6-2h0m21.9-16.3h0m4.1 23.3h0m-7.9-7h0m4.3 1.5h0m-22.7 7.3h0m-0.9-6.2h0m13-31.5h0m-21.4 30.1h0m31.8-13.6h0m-17.7 19.5h0m3.6-5.9h0m20.8-2.8h0m-7.5-24.9h0m1.2 38.2h0m-26.4-17.4h0m20.7 17.9h0m-37-18.5h0m44.8 17.8h0m-2.6-5.9h0m7.3 1h0m-23.9 1.5h0m5.4 4.1h0m4.4 1.1h0m-2.8-21.7h0m-5 14.1h0m8-5h0m13.6 9.4h0m-33.5-10.9h0m7.5-5.9h0m-1.8 11.5h0m9.7 0h0m-21.9-23.1h0m-8.5 16.5h0m24.2 13.6h0m16.5-20.3h0m-30.3 5.4h0m-4.1-1h0m42.1-21.5h0m-18.3 32.9h0m-3.9-1.9h0m44-5.2h0m-34.4-16.1h0m-14.3-26.5h0m7.5 36.9h0m-17.5-28.4h0m14.5 20.7h0m-8.6 5.3h0m4.7-1h0m1.8-1.6h0m-19.3-1.3h0m20.2 7.3h0m16.3 8.4h0m-10.3-12.8h0m16.1 8.6h0m-53.9 0.2h0m25.3-2.2h0m31.9 11h0m-12.6-0.7h0m2.1-6.9h0m-8.7-36.8h0m7 33.7h0m-4.1 15.2h0m-5-31.4h0m2.8-1.6h0m-17.5 26.3h0m29 3.4h0m0.9-4.6h0m-39.2-1.2h0m36.7-18.6h0m-9.6 26.1h0m-0.7-43.6h0m3.9 22.5h0m-5.1 19.8h0m8.1-4.6h0m-12 5.3h0m40.2-8h0m-23.5-22h0m-11.5 15.3h0m5.7 16.8h0m0.2-6.8h0m-13.5 0.9h0m-6.8-46.6h0m18.8 52.1h0m8.2-12.9h0m-0.4-25.4h0m22.8 20.8h0m-35.5 16.6h0m0.8-10.2h0m29.8 5.7h0m-24 4.5h0m-21-15.7h0m28 14.8h0m-7.6-2.8h0m17.2-26.1h0m-31.9-16.7h0m2.5 33.8h0m-18.3 2.9h0m34.2-30h0m0.1 8.6h0m-26.7 28.3h0m12.5-0.7h0m-4.5-19.3h0m-0.8 21.1h0m-31.8-21.2h0m55.6-4.7h0m-23.8 5.9h0m2.5-4.1h0m21.3 18.3h0m-7-10.7h0m1.3 8.4h0m-10.8 1.5h0m4-3.1h0m2.3-2.2h0m-14.7-8h0m1.6-7.8h0m14.4-15.5h0m7.1 37.9h0m1.2 0.7h0m-9.8 3h0m-18.6-2.8h0m10.8-1.9h0m4 8.9h0m4.4-17.8h0m-4.9 3.1h0m-32.3-17.1h0m49.1 13.7h0m2.1 2.1h0m23.6-7.2h0m-43.3-12.7h0m-1.1 10.4h0m-0.7 7.9h0m-54.1-26.9h0m68.7 23.9h0m7-6.5h0m-26.7-18.2h0m-16.1 37.7h0m21.6-2.1h0m16.8 8.2h0m-32.9-12.2h0m23.5 5.1h0m-23.9-15.3h0m22.9 21.1h0m9.2-13.4h0m0.8 11.3h0m-31.4-13.6h0m-2 8.6h0m0.4-2.1h0m29.8-6.7h0m-15-29.2h0m-6.7 17h0m-2.8 12.1h0m19.2 5h0m8.5-17.9h0m-17.5 4.9h0m5.1 5.6h0m12.4 8.2h0m-13.8-33.9h0m-3.5 29h0m17.6 9.2h0m-22.3 4.1h0m12.7-7.4h0m0.8 12h0m6.3-6.6h0m15.7-2.4h0m-38.9-32.8h0m3.1 27h0m12.7 8.2h0m6.6-16.1h0m-9 21.7h0m15.6-41.4h0m-25.9-10.5h0m-11.4 30.5h0m29.2-14.3h0m2 24.4h0m-13.4-4h0m25.4-15.2h0m-22.4-4.6h0m4.1 3h0m-14.3 31.5h0m10.9-8h0m6.3 5h0m-7.1-13.3h0m4-14.9h0m-5.2 11.9h0m-29.4 7.3h0m34.4-2.6h0m1.7 5.3h0m-51.5-12.5h0m61.4 14.1h0m-9.6 7.6h0m-25.2-17.3h0m11-2.3h0m-0.4-4.5h0m23.3 21.1h0m1.8-23.6h0m-4.8 3.6h0m-13.4 23h0m-12.2-15.7h0m10.6-24.3h0m-3.8 35.4h0m-2.2-17.3h0m8.8 0.8h0m6-0.7h0m-12.9 22.2h0m18.9-13.7h0m16.1 8.3h0m-14.9 1.2h0m-11.2 2.3h0m-25.7-6.7h0m42.1-15.9h0m4 18.8h0m-17-6.2h0m-18.6-23.9h0m17.9 10.8h0m5.3 13.5h0m-8.8-0.2h0m-2.2 13.4h0m19.7-12.2h0m17.5-4.2h0m-36.6-36.1h0m7.2 28.9h0m-16.6 5.7h0m16.2 16.8h0m9.2-7.3h0m-25.7-3h0m10.6-16.1h0m7.9 25.6h0m-15.3-18.5h0m-8.4 13.6h0m34.8-21.9h0m-83.5 2.4h0m60.6 21h0m1.8 2.5h0m-8-19.5h0m22.6-9.9h0m-12.7 24.3h0m14.9-2.8h0m-8.3 0.8h0m-10.6 8.3h0m9.7-25.9h0m14.2 15.2h0m-20.2 11.1h0m4.8-16.7h0m-4.8 14.4h0m5.3 1.9h0m7.5-24.1h0m-17-2.9h0m17.5 25.3h0m1.8-8.6h0m-3.7-30.7h0m-1.4 22.9h0m-5.2-5.1h0m-10.2 23.9h0m8.9-0.6h0m-6.4-1.9h0m-5-42.1h0m40.6 20.2h0m-53.5 4.5h0m22.1-0.7h0m4.5 19.6h0m-24.5-17.8h0m30.7 13.3h0m-22.5-6.4h0m-0.7-7.5h0m7.5-28.4h0m-6.4 43.7h0m20.8-10.3h0m-4.9-35.9h0m17.6 32.7h0m-11-5.4h0m-18.8 20.7h0m-0.9-19.3h0m40.4-5.6h0m-46.1 1.7h0m24 14.4h0m8.3-4.7h0m-11.9-2.4h0m-0.1 16h0m-26.5-16.2h0m34.2 14h0m-17.4-12.8h0m3.2-2h0m11.6-15.6h0m-26.3 21.7h0m-10.8-12h0m15.6-14h0m0.8 25.7h0m33.8 3.4h0m-20.3 2.3h0m26.8-17.1h0m-37.2 17h0m24.8-12.6h0m3.9 1.1h0m-19.7 16.4h0m-9.9-34.4h0m31.6-1.3h0m-46.7 29.6h0m32.8 7.3h0m-6.6-32.7h0m-1.6 32.4h0m-9.1-9.3h0m-27-23.3h0m24.9 22.2h0m4.4-24.4h0m16.8 34.2h0m2.2-0.4h0m14.7-7.7h0m-15.8 9.6h0m-0.8-23.1h0m-8.5-16.8h0m-15.5 31.1h0m42.2-23.1h0m-30.3 27.6h0m3.7-44.6h0m7.6 28.3h0m-39.4 8.3h0m13.7 10.4h0m26.6-46.5h0m-40.8 28.5h0m5.6 16.1h0m21.4-51.6h0m-6.4 40.7h0m-15.1 6.2h0m0.9-8.6h0m44.5 12h0m5.4-16.2h0m-34.4-1h0m4.7 10.6h0m30.2 7.9h0m-46.2 0.5h0m10.2 1.3h0m0.8-16.9h0m22.5-7h0m-35.4 18.1h0m9.6-13.4h0m13.2 5.2h0m-20.7 7.4h0m38.3 4.9h0m0.7-32.4h0m-26.2 6.1h0m13.7-0.8h0m-10.5 32.1h0m37.7-18.1h0m-32.1 15.4h0m-18.3-32.4h0m18.4 33.4h0m-23.3-25.5h0m-0.2 14.5h0m34.1-19.1h0m-14.9 20h0m-1.3 7.4h0m-4.5-30h0m28.9 30.4h0m-20.8 2.5h0m-10.3-5.9h0m29.5-1.2h0m-15.3-15.7h0m-13.8-23.4h0m-0.9 24.8h0m20.3-17.9h0m-20.1 18.5h0m0.1 16.6h0m-16.8-34h0m34.3-12.1h0m-25.4 45.2h0m11.2 5.5h0m9.7-15.5h0m19.9-17.7h0m-17.9 32.5h0m7.2-56.4h0m-14.5 38.8h0m-17.5 12.2h0m2.3-1.3h0m31.6 1.5h0m-23.7-8h0m-8.9 5.4h0m50.6-20h0m-27.4 27.4h0m-49.9-11.6h0m49.5 13.4h0m-17.3-6.1h0m32-2.6h0m-10.9-24.2h0m2.6 21.3h0m-9.8 11.9h0m10.6-5.3h0m-42.3-12.6h0m32.4 15.8h0m6.7-0.8h0m-19-18.1h0m22.7 12.1h0m-5.5-31.1h0m-2.3 35.8h0m-16.4-27.1h0m10.5 15.1h0m27.5-2.3h0m-16.4 17h0m16.4-7.8h0m-1.9-6.5h0m-15.5 11.5h0m3.7-24.4h0m-22.4-20.6h0m31.4 18.9h0m-32 19.5h0m-12-14.3h0m44.8 21.6h0m-29.7-8.1h0m-24.3-5.3h0m49 8.9h0m-13.4-4h0m-1.8-21.1h0m7.6 1h0m1.8 15.7h0m-14.8-9.7h0m5.2-3.3h0m10.8 8.5h0m7.3 13.8h0m-28.8 4.1h0m19.3-24h0m-19.1-5.3h0m11.9 13.7h0m16.4-16.7h0m-29.2 21.4h0m4.8-25.6h0m-0.8 30.9h0m17.7-3.9h0m18.9 5.3h0m-55.2-0.8h0m19.8-33h0m5.7 31h0m0.4-8.1h0m-30.8 1.2h0m13.7 14.7h0m25.5-36.6h0m-2.8 6.9h0m5.7 14h0m-27.3-10h0m8.5 21.3h0m17.6-20.4h0m0.9 23.1h0m-14.8-35.3h0m-1.6 3.3h0m-8.6 34.4h0m6.2-50h0m8.8 47.4h0m-14.2-46h0m9.3 15h0m33.2 20.3h0m-43.5 10h0m30.1-7h0m28.8 2.6h0m-34 8h0m-21.5-36.8h0m33 19.1h0m-3 0.9h0m-15.7-14.6h0m8.3 23.1h0m-20.7 7.1h0m10-2.2h0m-17.5-1.6h0m8-20.1h0m22.9 13.2h0m-38.5-24.7h0m20.9 34.1h0m33.8-3.5h0m-30.7-4.7h0m1.2 0.2h0m-37.6-0.7h0m37.5 11.6h0m-5.7-45.3h0m-4.2 40.8h0m-15.4-0.3h0m24.8-23.9h0m0.4 6.7h0m7.7 7.4h0m16.7 0.6h0m-38.9-1.5h0m-25.9-1.9h0m48.4-1.1h0m24.9-4.4h0m-63.5-4.3h0m24.2 20.7h0m-17.9 2.9h0m1.5 1.3h0m2-18.4h0m14.7 13.7h0m3.4 8.9h0m-9.2-2.2h0m-8.8-8.7h0m-4.6-13.2h0m42.7 4.9h0m-16.2 10.8h0m13.7-1.3h0m-24.2 0.8h0m28.1-0.1h0m-35.1-36.8h0m56.5 23.3h0m-44.5 7.2h0m-11-0.5h0m9.7 0.8h0m-23.2-0.4h0m16.8-30.5h0m11.3 30.3h0m-9.2 4.3h0m-20.8-11.6h0m27 10.4h0m11.2-7.2h0m3.2 13.3h0m-13.9 3.1h0m9.5-35.5h0m-1.3 28.6h0m-3.6-2.7h0m-0.6-44.3h0m14.3 5.5h0m-32.5 45h0m18.6 0.1h0m2.4-30.7h0m-17.6 24.9h0m0.1 8.4h0m29.8-12.4h0m-21.6 6.5h0m8.4 1.8h0m-55-15.6h0m62.2 19.1h0m-14.4-21.9h0m9.3-4h0m-29.4-19.5h0m24.1 34.3h0m-23.8-10.8h0m-3 7.7h0m34.7-17.4h0m-30.9 17.5h0m36 2.1h0m-13.4-6.2h0m28.6 12.1h0m-27.5-2.6h0m-11 1.9h0m31.3 5.8h0m-48.6-2.2h0m46.4-5h0m-2.1 0.5h0m-20.6-10.5h0m6.1-5.1h0m-5.4 18.7h0m-36.1-33.4h0m48.1 34.8h0m-50.2-5.8h0m43.7-25.9h0m0.1 1.9h0m-15.7 34.3h0m12.8-0.6h0m21.1-6.4h0m-44.5-1h0m14.2 9.3h0m35.6-35.3h0m-25.5 35h0m11.8-13.9h0m-10.8-6h0m-8.2-12.7h0m-6.4 4.3h0m-4.3-15h0m-1.5 34.4h0m38.5 6.5h0m-26-8.6h0m2.8 10h0m-4.5 2.2h0m0.2-49.5h0m-6.4 31.6h0m-1.5-0.6h0m31.6-11.4h0m-32.6 21.8h0m6.8-3.5h0m-4-24.7h0m13.2 37h0m-16-44.5h0m6.8 38.4h0m11.5-10.3h0m-33 2.1h0m26.3-35.1h0m-4.9 23.8h0m-2.5 2.2h0m7.1 11.2h0m-23.6-15.8h0m16.4-2.3h0m10.5 30.7h0m18.9-43.8h0m-23.3 30h0m-1.9-16.6h0m27.1 22.2h0m-41.9-5.5h0m35.9 1.6h0m-6.7-5.4h0m11.3-1.7h0m-45.1 13.7h0m11.4-14.1h0m28.6 8.8h0m-24.5-39.1h0m2.8 36.2h0m-32-0.5h0m35.6-0.9h0m-0.9 8.6h0m14.2-2.9h0m-14.7-34.9h0m-10.3 26.7h0m13.3-29.7h0m-2.7 39.2h0m-8.7-24.4h0m30.2-29.9h0m-7.9 46.2h0m-30.1 4.8h0m19.8-13h0m-0.1-7.7h0m-9.4 1.2h0m4.1 14.8h0m-5.9-16.7h0m-14.2 10.3h0m33.4 20.2h0m-25.9-5.9h0m23.7 4.5h0m-14.2 0.7h0m15.9-5.4h0m-12.3-8.7h0m13.9 9.9h0m22.6-42.8h0m-26.4 26.4h0m-1-1.3h0m10.8 21.4h0m7.8-3.5h0m-19.4-19.4h0m-24.9 2.2h0m44.3 5.4h0m-24.9-41.8h0m-5.1 48.2h0m2.7-1.9h0m9 5.4h0m-5.6 6.6h0m-0.3-36.5h0m-16.1 32.9h0m21.7-24.8h0m2.1 29h0m1.6-35.5h0m-8.1 19.4h0m-28.8 5.2h0m48.2-22.7h0m-25-8.3h0m-1.7 16.2h0m5.6 5.8h0m11.9 18.2h0m-15.9-25h0m2.5 20.5h0m24.8 0.5h0m-33.4-20.8h0m17.8 26.2h0m-25.4-13h0m17.7-20.3h0m-10.5 18.8h0m19.4-2h0m22.5 9.2h0m-16.1 2.8h0m-4.3-16.7h0m-16.3 21.7h0m-5.2-2.8h0m16.4-41.2h0m-10.5 32.7h0m4.8-4.4h0m-15.7 9.7h0m10.2-8.3h0m13.8-9.6h0m17 14.4h0m-27.6-8.6h0m-1.4 1.8h0m-4.2 12h0m12.9-14h0m4.2 6.8h0m-6.5 9.6h0m-19.7-4.4h0m6.9-2.1h0m3.7 1.7h0m-0.6-40.2h0m-3.3 34h0m26.2 2.1h0m-9.6-26.4h0m-4.6 36.9h0m-31.8-13.2h0m35.9-29.8h0m-12 1.5h0m7.5-1.4h0m-16.4 2.7h0m12.7 31.1h0m-2.4-36.5h0m11.1 29.9h0m-28.3-12.4h0m43.9 18h0m-17.3 6.1h0m-25.5-8.1h0m13.1 1.8h0m0.8-1.1h0m30.8 4h0m-11.5-5.7h0m-21-17.8h0m16.4-11.4h0m-20 31.1h0m8.2 7.8h0m-1.6-2.6h0m7.1 1.4h0m7.7 1h0m-10.1 2.1h0m27.6-12.9h0m-43.2-5.2h0m22.5-18.3h0m-12.5 27.2h0m32.3-35h0m-6.2 37.8h0m-3.6 5.4h0m-23.5-13.7h0m19.3 12.7h0m-29.8 0.1h0m-22.7-10.8h0m45.6-0.3h0m5.2 14.6h0m-20-28.4h0m41.6-4.3h0m-21.1 25.7h0m-22.7 2.1h0m6.8-21.3h0m6.8 5.3h0m8.4-24.9h0m7.7 23h0m-19.2-22.7h0m36.3 35.5h0m-50.3 5.6h0m29.2-35h0m-36.5 14.3h0m12.8 7.2h0m23.2-24h0m11.1 28.3h0m-19.4 8.2h0m2.3 0.6h0m-28.9-43.7h0m1 40.8h0m20.6 6h0m-31.1-30.1h0m48.7 30.6h0m-31.9-22.1h0m12.2-2.5h0m-2.8-10.3h0m6.5 37.5h0m7.5-0.3h0m3.2-5.3h0m-18.4-19.5h0m14.6-8.2h0m-7.2 30h0m8.8-0.9h0m-2.8-2.7h0m-6.3-40.5h0m-3.5 36h0m7.2 8.5h0m-48.7-7.9h0m60.7 8.5h0m-13.6-0.3h0m7.3-41.1h0m-23.2 40.5h0m18.9-8.2h0m-4.5-31.1h0m13.5-2h0m-5.1 41.7h0m-21.6-23.7h0m38.8 16.3h0m-31.7 8.2h0m23.3-21h0m-6.2 20.7h0m5.4-2.3h0m-6.1-38h0m-3.7 1.9h0m-20.5 36h0m29.5-0.8h0m21.9-5.6h0m-22.6 1.2h0m-30.7 6h0m28.4-14.5h0m-39.8 8.6h0m49.3 1.2h0m-14.6-7.9h0m-29.9-12.7h0m38.7-16h0m-4.3 43.2h0m-28.9-5.3h0m3.6-1.1h0m7.9-19.6h0m5.1 24.7h0m0.4-28.3h0m-4.6 22.2h0m4.5-26.1h0m-6.7 18.9h0m-6.5 4.4h0m-11.8 0.3h0m46.1 6.9h0m-34.3 1.7h0m-5.8-6h0m14.9-9.8h0m-26.3 6.1h0m4 4.5h0m41.9-11.7h0m-25.5 17.2h0m11.7 2.7h0m-15.8-4.8h0m4.1-33.9h0m-13.4 11.5h0m31.5 25.9h0m-14.5-0.9h0m16.7 1.1h0m-3.3-5.6h0m-15.7-1.2h0m12.6-18.1h0m-30.9 13.7h0m33.6-13.8h0m23.5 17.5h0m-24.5-0.6h0m-1.5-14.5h0m-21.3-17.4h0m22.4 0.4h0m-22.7 0.1h0m1.9 36.1h0m19.6-14.2h0m-27.7 2.7h0m37-23.3h0m-4.5 37.1h0m-2.9 2.7h0m4.3-14.1h0m-21.1 11h0m3.3 1.2h0m5.1-6h0m-14.7-34.5h0m3.8 31.4h0m0.5-25.4h0m1.6 32h0m30.9-1h0m0.5-31.9h0m-28.4 15.1h0m5.6 14.5h0m13-21.6h0m-22.7 23.5h0m11.2-7.4h0m2.1 5.5h0m-4.2-8.2h0m12.7 11h0m-13.1-0.1h0m-11.2-2.4h0m29.8-14.7h0m-1.2-0.1h0m-7.3-5.9h0m-15.1 24.4h0m22.7-40.7h0m-24.8 21.7h0m18.3 14.1h0m31.3 0h0m-26.7-5.1h0m0-8.4h0m13.3 9.3h0m-25.1-22.7h0m-30.8 15.6h0m40.6-2.6h0m-39.6 11h0m2.1-19.3h0m35.8-3.6h0m-14.9 25h0m10.9-6.4h0m1.3-6.4h0m-1-22.6h0m-14.7 42.7h0m17.7-8.5h0m-7.2-4.8h0m15.5 2.5h0m-10.5-2.6h0m-12.4 9.7h0m23.9 0.4h0m-36.1-22.5h0m24.3 26.8h0m-15.4-25.1h0m10.3 17.8h0m-22.4 2.4h0m17.7-1.7h0m11.8-50.6h0m-11.5 48.4h0m16.5 5.5h0m1.7-56h0m4.6 25.5h0m-47 10.8h0m50.4 1.6h0m-25.4 21.8h0m2.9-47.2h0m-7.1 12.1h0m13.8 26.8h0m-7.5-34.4h0m-36.6 25.1h0m33.7 8.7h0m-1.7-3.1h0m-15.8-9.2h0m3.9 3h0m22.6-0.4h0m7.5-0.9h0m-15.8-1.1h0m4.4-1.5h0m8.7-12.9h0m-10.3 24.6h0m-8.6-0.6h0m-13.4-5.4h0m23.3 4.6h0m-6.2 7.5h0m11.3 3.5h0m19.8-21h0m-15.8 6.8h0m-16.6-31.5h0m-1.5 23.8h0m-19.5-0.2h0m55.6 1.8h0m-48.1-28.1h0m20.8 32.6h0m5.8-14.7h0m-7.4-13.3h0m-18.4 27.9h0m5.8-3.8h0m17.2 14.8h0m4.4-2.4h0m-23.7-31.8h0m9 19.3h0m-25.8 7.5h0m40-27.3h0m-2.3 37.4h0m2.2-4.6h0m24.7 1h0m-53-7.4h0m35.1-49h0m-52.4 37.1h0m27.5 17.1h0m5-6.5h0m-6.4-6.2h0m10.8-5.2h0m-0.1 20.2h0m22.2-33.2h0m-25.3 34.4h0m1.4-19.6h0m13.9 13.7h0m13.7 6h0m-24-3.9h0m-23.2 2h0m7.1-43.6h0m26.5 37h0m13.4 1.8h0m-24-22.6h0m26.5 23.2h0m-17.3 3.1h0m-5.6-5.9h0m3.6 10.1h0m-37.2-3.5h0m29.3-39.2h0m4.2 43h0m-13.6-34.5h0m25.6 26.5h0m2.5-2.3h0m-21.5 8.5h0m16.3 1.8h0m-21.6-12.4h0m0.9 2.6h0m18.3 2.7h0m8.1-13.2h0m-9.7 19.8h0m6.9-2.7h0m-8.5-29.2h0m-2.3 29.9h0m-0.9-23.1h0m-14.8 2.9h0m15.2 17.1h0m10.6-8.4h0m5.6 4.1h0m-28.1-15.7h0m-3.6 22.4h0m-4.4-39.3h0m19.7 16.1h0m-22.5 13.2h0m10.3 13h0m-1-18.5h0m0.1-27h0m-31.2 40.7h0m52.2 0.5h0m-27.3-19.4h0m11.3-1.6h0m38.9-14.8h0m-23.9-0.1h0m-18.5 37h0m32-39.5h0m-18.2 39.7h0m-22.8-14h0m38.6 8.6h0m-27.8-7.7h0m11.6-21.9h0m-7.9 39.1h0m-1.1-0.5h0m-17.2-41h0m6.5 16.6h0m18.5 13.2h0m-20.4 10.7h0m32.1-17.8h0m-19.5 10.5h0m7.8-43.4h0m2.3 49.1h0m-18.4-9.4h0m16.3-37.7h0m-23.2 42.9h0m-2.5-25.9h0m46.4 29.5h0m-17 6h0m6.8-2.5h0m-17.7-30.7h0m19.3 20.9h0m-25.9 8.8h0m12-4.1h0m11.1-47.2h0m3.8 26h0m-22.6 21h0m10.5-10.6h0m6.5-18.4h0m-6.1 26.2h0m-16.4 6.3h0m51.2-11h0m-40.6-9.7h0m-20-11.3h0m11.1-8.3h0m12.1 20.3h0m-0.6 15.6h0m-11.3 6.1h0m12.3-21.8h0m14.4 16.4h0m-18.5 8.3h0m-18.1-23.4h0m13 18h0m-7.2 3.2h0m27.6-27.6h0m-11.5 18.9h0m-10 7.7h0m-0.6-36.9h0m6.2-10.1h0m-6.6 40.5h0m21.5-2.1h0m-27.9 7.5h0m-0.3-6.4h0m10.3 8.9h0m9.4-10.6h0m-7 3.8h0m7.5 5.2h0m-30.7-19.2h0m39.4 3h0m-5.6 12.2h0m-4.6-47.7h0m-7.1 40.1h0m2.2-21.9h0m11.8 20.8h0m-6.6-42.1h0m-8.9 45.9h0m-3.7-12.2h0m29.9 14.1h0m-11.6-1.8h0m3.8-3.7h0m-31.3 9.8h0m11.9-54h0m-8.4 56.6h0m18.7-45.1h0m-23.6 44.4h0m10.4-32.9h0m29.9 18.3h0m-24.3-0.8h0m-16.5-10.1h0m22 17.8h0m10.8 7.9h0m-17.1-12.8h0m6.9 9h0m0.1 7.9h0m-9.1-16.2h0m14.2-6.5h0m-14.3 7.9h0m1.4 10.3h0m-11.8-5.8h0m-0.6 6.5h0m24-17.8h0m-6.4 21.6h0m-10.6-20.6h0m30.9 8.5h0m-66.4 0.9h0m45-16.3h0m-9.2 24.1h0m-3-2h0m10.5-16.8h0m23 14h0m-49.6-20h0m38.7 18.2h0m-21.4-5.5h0m29.4-18.5h0m-1.9 15h0m-1.1-1.1h0m-27.3-32.3h0m-3.3 47.1h0m10.8-19h0m25.3-1.5h0m-13.6 24.9h0m-17-18.8h0m29.1-1.7h0m-38.3 14.4h0m8.9-15.6h0m9.1 22.4h0m23.7-18.3h0m-11.5-1.8h0m-4.3-2.4h0m-26-4.2h0m7.6 24.6h0m-10.8-16.4h0m19.5 14.1h0m6.9 3.3h0m-3.2 1.7h0m-4.4-52.6h0m-9 22.7h0m18 26.2h0m-11.5-1h0m20.4-1.3h0m-26.1-31.3h0m7.2 31.4h0m25.3-3.8h0m-5.8 5.4h0m-27.1-14.1h0m25.9 7.8h0m-0.9-23.1h0m-13.6 28.3h0m28.8-3.1h0m-37.1-0.9h0m-8.2-17.3h0m14.7-5.4h0m-33.7 9h0m59.7 12.8h0m-26.3 8.7h0m-2.6 0.2h0m39.9-17.8h0m-64.3-11.6h0m35.3-10.6h0m1.7 34.7h0m9.4-6.3h0m-24.6-18.6h0m6.5 19.4h0m5.7-6h0m18 9.6h0m-13.2-41.5h0m7.6 14.5h0m-2.4-0.6h0m-13.9 22.3h0m-0.8-7.8h0m0.9 12.1h0m-17-8.2h0m3.4-6.2h0m26.9 14.5h0m-37.1-6.7h0m43.7-28.7h0m-15.8 25.8h0m-13.9 7.4h0m-10.7-2h0m15.5-2.3h0m8.4-16.6h0m-19.4 25.7h0m13.6-5.7h0m-11.9 0.9h0m21.6 8.3h0m-8.3-38.3h0m-17.8 31.6h0m17.8-34.9h0m-11 42.3h0m6.9-58.8h0m5.1 59.2h0m-18.3-1.8h0m16.5-14.4h0m26.3 4.4h0m-11.3-31.2h0m-27.6 42.5h0m10.7 0.4h0m3.3-21.2h0m4.1-27.4h0m-6.4 46h0m-7.6 3.2h0m-3.8-39h0m29.6 36.1h0m-59.3-8.2h0m28.7-21h0m-2.2-3.4h0m21.9 5.5h0m-5.4 7.5h0m-24.6 1.6h0m15-10.4h0m18 9.9h0m-22.6 9.2h0m4.6 1.9h0m17 11.8h0m-16.3-38.8h0m30.5 33.2h0m-40.9-26.5h0m30.7-0.3h0m2.8 28.3h0m5.2-9.9h0m-24.7 6.3h0m-9.9 2.7h0m31.5-2.5h0m-42-3.5h0m37.4-11.7h0m-7.3 0.6h0m-31.5 2.6h0m14.2-1.7h0m48.8-18.7h0m-45.9 32h0m4.2 2.2h0m-19-1.3h0m-4.2-7.7h0m15.5-1.1h0m31.2-7.1h0m-24.5 3.9h0m1.1 14.5h0m6.5-0.7h0m-2.8-39.8h0m0.2 35h0m17 5.9h0m-11.9 1.7h0m-27.6-22h0m46.6 16.9h0m-35.6 1.7h0m19.5-3.4h0m8.9 4.7h0m-10.4-33.2h0m20.2 32.1h0m-19.9 2.9h0m-11.9-16.2h0m7.3 15.3h0m-2.4-9.8h0m-11.5 6.3h0m13.6-14h0m19.4 9.8h0m-14.7-40.7h0m-22.2 48.2h0m43.8-7.5h0m-35 8.1h0m25.3-7.4h0m-16.7 3.7h0m3.8 5.7h0m15.1-1.7h0m-7.8-17.7h0m0.4-4.7h0m-18.4 18.8h0m31.3-12.2h0m-4.4 15.6h0m3.1-12.2h0m-32-30.3h0m1.7 38.9h0m6-13.9h0m-13.3-7.7h0m7.5 19.6h0m4-19.5h0m-35 0.2h0m44.1 9h0m-38.6 7h0m32.7 6.3h0m-21.9-0.4h0m42.3-22.5h0m-18.2 29.7h0m-34.7-20.3h0m32.8 0.1h0m5.5 18.2h0m-29.7-38.5h0m58.3 32h0m-18.1-31.4h0m-18.9 26.8h0m8.6-13.8h0m3 19.1h0m-30.1-8h0m26.6-12.5h0m-25.6 7.3h0m29.4 17.4h0m-28-23.9h0m24.6 24.8h0m-5.6-10.6h0m-0.9 0.8h0m-9.6 1.2h0m4.4 2.5h0m18.6-16.2h0m-19.2 13.7h0m12.1-4.5h0m-4.9 6.1h0m-8.7 6.7h0m4.8-9.2h0m13.2-22h0m-21.5 9.5h0m49.3 13.6h0m-31.5-16.6h0m-19.7 0.6h0m15.3 26.1h0m8.9-15.7h0m-10.4 9h0m-31.7-1.5h0m14.8 1.9h0m21.1-7h0m4.7 5.1h0m9.8-34.3h0m-25.3 7.5h0m-9.9 26.8h0m15.7 2.8h0m14.7 3.2h0m-3.6-56h0m-15.3-1.6h0m26.2 55.9h0m-14-3.3h0m-19.7-41.3h0m-16.4 34.2h0m63.3-1.2h0m-21.4 6.3h0m-22.6 4h0m13.1-0.4h0m27.8-12.3h0m-34.2-1.4h0m6.3-11.8h0m6.9 29.8h0m-1.7-15.3h0m-19-11h0m10.7 20.1h0m7.7-0.8h0m4.2-3.5h0m10.6 5.2h0m-57.7-10.9h0m33.9-1h0m6-28.5h0m-6.8 6h0m-12.5 24.4h0m37.9-14.4h0m-2.4-11.3h0m3.1 34.2h0m-40-10.6h0m23.6 12h0m2.8 2.4h0m-20-55.2h0m0.8 57.4h0m11-8.6h0m15.8-14.3h0m-28.2 9.1h0m26.6-16.5h0m-9.9 10.3h0m13.6 8.8h0m-21.9-18.9h0m-1.6 16.5h0m14.1-10.6h0m-50.2 12.7h0m38.9-13.8h0m4.2 21.7h0m-10.4-11.4h0m25.5-0.9h0m-15.3 0.7h0m7.6 3h0m-31.8 6.9h0m45.5-10.1h0m-53.1 7.5h0m47.1 0.6h0m-15.8-22.3h0m5.1 7.1h0m5.2-14h0m-23.7 32h0m-4.3-42.6h0m6.8 45.1h0m-12.7-11.7h0m20-0.2h0m6.9 4.5h0m-3.5-0.1h0m8.5 0.8h0m-20.7-2.7h0m-10.3-13.9h0m-21.7 16.2h0m15.3-3.8h0m8.1 11.5h0m16-36.6h0m-14.5 35.8h0m15.1-4.4h0m-5.5 0.2h0m22.2 5h0m-5.3-52.7h0m0.2 22h0m-7.3 23.8h0m-11.7-14.9h0m19.4-0.4h0m-3.7 18.1h0m5.3-1.5h0m15.2-18.6h0m1.7 19h0m-33 0.2h0m28.7-5.6h0m-48.1 8.9h0m6.8-20h0m6.4-25.9h0m18.9 40.9h0m-9.9 2h0m18.2-6.5h0m-27.6 12.2h0m13.1-4.3h0m-12.9-3.4h0m14.1-42.7h0m10.9 39.6h0m-12 0.7h0m-6.8-19.9h0m-18 10.7h0m4.4-4.3h0m-0.4-17.6h0m-8.5 28.5h0m47.7 10.4h0m-11.4-1.3h0m-10.5-13.6h0m-10.9-8.2h0m18.6 23.1h0m-5.5 4.5h0m-17.1-3h0m37.6-1.9h0m-56.5-43.8h0m27.8 42.5h0m-9.4-1.9h0m-7.2-34.3h0m-11.5 24h0m12.1 5.3h0m20.8-5.3h0m5.2-15.9h0m19.1 9.2h0m-12.9-0.7h0m-16.5-0.4h0m5.8-0.6h0m10.4 18.5h0m-16.2-1.2h0m27.2-1.4h0m-23.9-13.2h0m-3.1 13.3h0m13.9-31.3h0m-19.4 35h0m38.1 1.4h0m-6.4-2.6h0m-36.9-1h0m23.1-1.4h0m-0.6 5.9h0m-13.3-11.3h0m23.5-12.8h0m35.5 13.4h0m-39 1.3h0m19 7h0m-18.6-4.6h0m-44.2-7.3h0m16.1-13.6h0m18.8 27.5h0m-14.9-12.9h0m31.7 13.6h0m-22.6-4.7h0m6.6-16.1h0m-8.2-2.6h0m13.7 2.9h0m15.5-9.6h0m-17.1 22h0m-8.8-35.2h0m-8.5 35.7h0m14.4-4.1h0m37.1 5.3h0m-67.1 3.6h0m36.6-17.8h0m-11.9-6.5h0m-3.6 14.6h0m0.1 3.6h0m1.5 7.2h0m-6.3 4.6h0m5.3-0.3h0m13.3-17.1h0m-38 1.4h0m6.9 2.8h0m4.6 9.3h0m26.3-39.8h0m-3.2 41.5h0m4.3-23.6h0m-7.1-16h0m48.3 32.2h0m-41.9-10.4h0m-15.4 15.7h0m4.4-13.3h0m-3.9-5.4h0m5.1 13.7h0m32.5-24.2h0m-33.1 8.1h0m-11.6 18.6h0m11.5 7.8h0m-4.5-24.2h0m-14.6 18.4h0m33-5.2h0m-18.1-29.2h0m-2.6 11.8h0m13.1-1.9h0m-6.6-9h0m6.5-0.7h0m-2.8 28.1h0m-6.3 7.6h0m22.6-11h0m-8.6 6.8h0m-4.7 7h0m4.9-3.6h0m4.6-42.1h0m-40.7 41.4h0m57.2-26.3h0m-44.9 27.8h0m-0.2-31.9h0m9.4 34.5h0m-4.2-14.8h0m-6.5 14.5h0m27.9-41.6h0m-1.6 38.8h0m3.7-18.8h0m-33.8 3h0m5.3-25.6h0m12.3 27h0m7.1 12.6h0m-24.8 2.9h0m18.3-18.7h0m0.3 13.2h0m6.2 3.1h0m-17.3 0.6h0m31.6-11.2h0m-38.1 9.6h0m11.2-8h0m-31.8 1.7h0m75-2.2h0m-33.1 1.8h0m-15.1 10.1h0m29.1-21.4h0m-4.3 3.9h0m7.1 4.1h0m-35.2-40.3h0m21.5 47.7h0m4.2 6.6h0m7.2-19.9h0m-4.6 19.7h0m-16.1-33.4h0m20 28.2h0m-20.4-1.1h0m-10-3h0m21.9 10.9h0m-11.4-45.8h0m25.1 42.7h0m-8.4-21.6h0m-36.7-4.5h0m43.8 20.5h0m-3.9-9.1h0m8.6-24.5h0m-5.3 29.7h0m-19.1 13.7h0m-11.2-18h0m-16.1-20.1h0m28.2 33.6h0m-0.5 2.4h0m-19-38.5h0m0.8 35.7h0m22-16.7h0m-16 15.8h0m17.9-33.9h0m3.7 25h0m-19.2 6.6h0m10.1-3.5h0m-3.7 6.3h0m-6.4 0.8h0m34.7-0.5h0m-38.8-4.1h0m-12.6-29h0m57 27.9h0m-30.2-4.5h0m-2.3 10h0m26.7-6.2h0m-29.6 10.2h0m-15.2-11.8h0m11.8-15.9h0m9.1 12.7h0m-13.7 6h0m24.9-1.9h0m-9.6-19.2h0m-13.4 27.2h0m-0.3-7.1h0m22.8-0.6h0m-24.1-20.4h0m13.3 20h0m14.1-15.6h0m-7.5 6.3h0m-11.7 1.5h0m-18.6 6.8h0m0.8-9.4h0m14 20.9h0m4.9-2.4h0m-0.6 5.2h0m-3.6-10.3h0m-3.8-7.9h0m22.5-2.2h0m11.1 8.9h0m-15.2-12.3h0m-4.2 22.2h0m2-27.4h0m-8.3-17.1h0m41.3 31.7h0m-25.6 7.1h0m3-0.7h0m-29.1-3.7h0m0.2-2.8h0m-1 11.5h0m7.8-13h0m4.3-7.3h0m-5.1 11.1h0m-5.1 1.3h0m9.1-12.8h0m4.8 19.2h0m-1.4 2h0m7.4-44.1h0m-10.2 33.8h0m-12.5-46h0m18.8 26.4h0m1.4 29.4h0m-36.3-3.4h0m27 3.2h0m-2.6-33.2h0m13.4 31.4h0m-4.3-5.4h0m-9.4 9.8h0m20.7-26.9h0m-26 23.6h0m24.1-28h0m-24.1 28.1h0m5.2-10.1h0m-8.3-19.9h0m26.7 24.9h0m-29.8-17.2h0m15.1 15.9h0m18.9-10h0m-21.2-30.2h0m18.5-6.5h0m-15 55.8h0m-31.6-8.7h0m21.5-7.5h0m15.1-10.8h0m5.1-13h0m18.3 34.9h0m-25.3-5.2h0m-13.5 0.2h0m10.4 6.3h0m9.4-19.6h0m4.8 22.2h0m-9.7-40.6h0m-4.3 33.9h0m-4.3-6.7h0m0.1-4.4h0m-3.2 11.8h0m7.1 7.5h0m-19.7-6.3h0m20.5 1.8h0m-7.2-20.3h0m-5.6-0.4h0m6.8-9h0m0.7 31.9h0m-22.3-10.5h0m22.1 2.1h0m-25.5 1.5h0m44.1-30.3h0m-23.4 25.2h0m20.3 12.7h0m-7.3-17.3h0m18.1 0.5h0m-17.8 18.7h0m12.2-26h0m-3 9.1h0m14.6-6.9h0m-34.9 5.3h0m7.7 3h0m5.8 15.9h0m6.6-5.8h0m-15.3-3.9h0m17-42.9h0m-4.8 41.2h0m-2.9 1.9h0m14.4-29.2h0m-15.8 21h0m-37.2-9.6h0m27 19.9h0m-0.9-10.5h0m5.5-0.2h0m-43.9 4.3h0m47.5 6.6h0m-8.9-37.2h0m6.1 33.3h0m11.1-19.8h0m-1.8 4.1h0m9.8 13.9h0m-41.4 5.5h0m26.1-12.4h0m-30.9 1.1h0m42.6-34.3h0m-31.1 45h0m-6.1-31.3h0m1.1 16.9h0m15.4-3.7h0m10.2 13.4h0m-2-10.4h0m-12.3 6.6h0m9 1.2h0m13.1 4h0m-21.6 2.6h0m0.8-4.9h0m16.9 7h0m-16.8 3.4h0m7.9-11.5h0m-35 1.8h0m23.7-4.5h0m-2.5 10.1h0m0.3 1.8h0m20.7-45.8h0m11.2 30h0m-1.4 12.7h0m-34-10.5h0m17.1 4.4h0m7.6-0.3h0m15.9 10.5h0m-28-24.1h0m7.6-6.8h0m-2.9 31.3h0m12.7-1h0m-8.9-4.1h0m7.4 4.9h0m-1-3.3h0m-7.1-29.4h0m-4.5 2.1h0m-17.6 15.1h0m11.8-0.6h0m6.2-14.2h0m-7.6 20.4h0m-1.6-20.4h0m14.7-16.2h0m1.6 36.6h0m-9.8 13h0m19.9-38.7h0m-28.1 5.8h0m-13 15.6h0m38.1 15.7h0m6.9-16.5h0m-37.1-14.9h0m40.6 18.9h0m-7.3-9.7h0m-11.5-17.8h0m-6.5 34.1h0m-18.7-11.9h0m25.8 19.8h0m7.8-20h0m-10.2-15.4h0m11.3 11.7h0m-15.2 10.6h0m15.9-13h0m-23.6 8.6h0m-3.9 9.3h0m8.3 3.6h0m-25-11.2h0m62.2-4.5h0m-34.1-21.2h0m3.1 35.3h0m0.7-21.3h0m-29.9 16.6h0m32.8 10.8h0m-27.3-6.5h0m34.6-20h0m-7.1 12.1h0m-7-0.2h0m14.1 8.6h0m-38.6-15.8h0m17.2 0.8h0m-8 8.3h0m60.6-6.9h0m-52.7 16h0m19.7 1.7h0m30.8-9h0m-52.8 9.9h0m21-10.1h0m-31.8-9.9h0m-2.5 10.1h0m-11.4 1.3h0m49.5 1.8h0m-16-1.8h0m-2-25.7h0m-13.9 26.4h0m3.3 5.3h0m32-13.7h0m-24.2 14.7h0m4.4-6.5h0m-8.5-18.1h0m16.7 27.8h0m-5.9-4.7h0m1 5.7h0m-2.9-10.1h0m-26-2.4h0m15.5-16.1h0m44.5 8.9h0m-27.2 0.2h0m-16.6 9.4h0m33 4.5h0m-36.3-9.4h0m17.9-7.9h0m-0.3 10.8h0m-6.8 6.7h0m-7.3-7.9h0m17.4-19.4h0m-18.7 19.9h0m19.2 9.5h0m-16-11.9h0m27.9 8.2h0m-49-12.6h0m29.1-35.9h0m17 52h0m-20.8-23h0m24.3 14.1h0m-12.8 7.6h0m-17.7-28.5h0m18.3 29.7h0m4.6-5.3h0m3-41.9h0m8.7 29.8h0m-26.1 18.1h0m18.1-16h0m-17 15.7h0m-8.8-30.5h0m18.5 29.9h0m-21.7-6.6h0m17.7-34.1h0m-10.5 37h0m-14.6-1h0m-1-16.5h0m31-2.6h0m-26.8 22.9h0m36.5-2.3h0m-4.6 4.4h0m-8.6-32.5h0m-7.7 21.2h0m-6.3-34.5h0m5 39.9h0m-2.9-10.9h0m16.7-19.7h0m-33.1 31.8h0m1.5-0.4h0m6.4 3.3h0m-27.1-7.9h0m27.7-3.5h0m29.5-0.2h0m-15.2 5.5h0m22.6 0.6h0m-23.2-22.1h0m9.3 14.6h0m-26.6-5.2h0m-3.9 12.7h0m15.8-0.3h0m13.1-38.9h0m0.2 36h0m-7.8-16.7h0m5.2 29.1h0m-17.3-42.3h0m4.8 18.6h0m-21.8-13.7h0m17.5 8.4h0m35 17.3h0m-33.4 0.5h0m-47.8-15.1h0m24.5 17.8h0m49.8-8.2h0m-16 5.4h0m13.3-9.3h0m5.5-27.2h0m-12 42.7h0m-4 3.6h0m-0.1-4.7h0m16-12.3h0m-14.5 15.3h0m-20.4-30.4h0m16.5 24h0m11.1-24.5h0m-12.1 26.5h0m-28.6-13.2h0m15.5 14.3h0m36.8 2.2h0m-15.4-53.3h0m-13 51h0m3.6-48.9h0m-22 38.1h0m23.2-2.4h0m-2.8 5.1h0m5.9 9.9h0m-18.8-7.5h0m-8.6 4.5h0m6.4 1.8h0m2-10.7h0m35.2 5.1h0m-10.4-25.9h0m-24 3.1h0m17.7 35.1h0m3.2-2.3h0m0.6-24.5h0m-5.6 14.6h0m-0.6-16.3h0m-3.6-20.3h0m32.3 39.9h0m-23.1-0.6h0m-27.9 1.5h0m19.9-1.7h0m-40-7.1h0m34.8-27.6h0m-1.4-6.4h0m32.7 42.8h0m-32-40.4h0m-2.2 0.8h0m6.5-7.8h0m-12.8 29.3h0m-6.7 10.2h0m39.3 11.3h0m-17.5-31.1h0m23.2 30.8h0m-13.7-35.2h0m-16.2 32h0m45.9-1.5h0m-40.8-8.9h0m-9.1 15.2h0m10.9-20.2h0m8.2-13.1h0m-38.7 25.8h0m29.3 1.8h0m-12.5-18.5h0m48.6-3.8h0m-27 21.4h0m-48.6-11.5h0m39.6-5h0m-19.1 3.7h0m21.5 1.1h0m16.3-32.6h0m-11.3 45.2h0m-7-3.8h0m-19.6 4.7h0m15.4 2.2h0m1.8-13.3h0m4.1 13.8h0m16-6.8h0m-23.2 8.6h0m-24.1-33.7h0m20.8 10.8h0m81.7-4.2h0m-71.1-9.1h0m-7.3 27h0m14.3-6.3h0m-28.2 7.8h0m-36.4-7.1h0m51.8-29.5h0m-8.3 44.3h0m25.8-3h0m8.6-2.8h0m-36.9-22.8h0m36.3 1.3h0m-18.1 28.6h0m4.2-40h0m-24.3 27.7h0m8.3-16.7h0m7.6 17.6h0m23-2.8h0m-1.6-5.2h0m-22.9 16.2h0m32.4-32.1h0m-27.6 32.1h0m0.1-11.9h0m-32.3 7.7h0m30.9-27.7h0m-6.2 6.3h0m6.3 8.7h0m5.5-9h0m-12.3 5.9h0m-9.3 2.3h0m21.2 18.2h0m9.1-4.5h0m-28.2 1h0m-15.3-10.7h0m27.6-6h0m0.1-14h0m-8.9 35.5h0m-11.4-11.1h0m14.2-18.4h0m6.6 9.2h0m-0.3 12.3h0m14.2-5.5h0m9.4-10.4h0m-5.3 13.5h0m-15.4 10.1h0m-3.2-29.5h0m16.1 2.5h0m-8.4 13.5h0m-4.8-6.6h0m18.2 16.9h0m-5.7-6.7h0m-3-17.9h0m-4.1 17.2h0m-2.5 1.8h0m8.3-15.3h0m-21.8 15.4h0m-9.3 2.8h0m24.8-20.9h0m-5.9 6.7h0m-12.7-16.5h0m13.8 18.2h0m14.8 14.8h0m-16.1 1.5h0m1.1 4.6h0m14.6-19.9h0m-26.5-27.6h0m-8.2 8.6h0m32.2 25.1h0m-27.4-32.2h0m7.9 38.7h0m-2.3-17.4h0m37.9 5.5h0m-12.7 0.2h0m-21.4-0.5h0m3 16.9h0m33-4.9h0m-32.9-39.2h0m-3.4 5.2h0m27.8 6.2h0m-16.3 33.4h0m-5.1 3.1h0m-0.3-35.8h0m-17.1 19.9h0m-9.9-0.7h0m31.2-15.5h0m-50.9 14.7h0m34.6-0.7h0m24.2-11.8h0m0.1 0.1h0m-12.8 20.6h0m-4.3 4.2h0m-1.5-0.6h0m38.7-13h0m-60.1 5h0m48.4-9.6h0m-16-30h0m-49.5 19.5h0m34.4 13h0m14.6-20.4h0m10.4 37.8h0m-27.5-16.5h0m35 11.5h0m-1.2-5.7h0m-16.5-5h0m-3.9 6.5h0m0.3-0.4h0m-6.7-7.6h0m0.8-23.9h0m11.9 40.5h0m1.1-10.4h0m-15.8-0.9h0m6.6-0.7h0m14.8-3.4h0m-2.8 16.3h0m-12.7 1.2h0m-11.5-7.2h0m17.5-9.7h0m-7.6 10.7h0m-4.9-5.6h0m4.9 8.9h0m-9-23h0m-2.3 21.4h0m23.9-18.2h0m-49-0.3h0m43.7-1.7h0m18.2 16.4h0m-14.8-27.5h0m12.3 29.7h0m-16.4 1.4h0m-7.2-27.1h0m20.7 25.4h0m-24.7-44.9h0m2.3 35.2h0m28.9 9.5h0m-25.1-18.8h0m2.3 17.6h0m17.4-7.5h0m-0.7-2.8h0m-24.1 18.4h0m0.9-58.4h0m18.5 23.2h0m-48.4 15.6h0m36.4-4.9h0m10-22.4h0m-11.4-1.8h0m16.6 39.8h0m-24.6-33h0m15.5 42.3h0m-21.3-15.9h0m22.1-7h0m-25.4 17.9h0m37.7-2.2h0m-34.6-16.2h0m32.5 10.9h0m-27.6 2.2h0m4 8.9h0m-6.2-0.9h0m-33-13.5h0m50.1-19.6h0m22.3 20.9h0m-21.5-34.5h0m1.5 32.9h0m-9.7 11.3h0m-18.6-2.9h0m25-11h0m-31-11.7h0m40.5 23.2h0m-10.4 7.1h0m-0.1-1.9h0m-23.8-9.2h0m6.8-10.8h0m33.7-3.1h0m-24.7 19.5h0m-4.4-3.7h0m17.3-3.6h0m-13.1 12.5h0m1-23.7h0m-7.6 21.8h0m18.1-1h0m-10.4-8.2h0m1-24.3h0m6.8 23.1h0m3.4 12.5h0m19.8-24.7h0m-20.1 4.7h0m11.9 13.9h0m-23.2-21.3h0m3.6 26.8h0m1.3-3.2h0m-9.3-22.1h0m24.7 19.8h0m-27.7 3.1h0m-7.7-0.8h0m60.3-3.8h0m-56-6.9h0m29.5-30.3h0m-9.3 33.3h0m1.2-23.6h0m-23.2 20.2h0m24.3-35.3h0m-16.5 42.5h0m22.9-48.4h0m-26.8 29h0m5 23.6h0m-8.5-44h0m21.4 17.7h0m-12.9 9.3h0m30.3-3.3h0m-39 17.1h0m30-10.9h0m-59.8 3.6h0m47.4 11h0m-5.8 1.5h0m6.9 3.3h0m6.4-19.2h0m-29.7 11.7h0m29.4 6.3h0m-9.5-16h0m25.9-1h0m-23.3 3.3h0m-13 11.7h0m4.1-12.8h0m35.3 2.2h0m-3.6-7.9h0m-15.9 14.2h0m-37.7-7.2h0m48.8 4.6h0m-29.2-3.7h0m-4.7-5.3h0m15.6-4h0m-3.3 10h0m2 0.7h0m1.7 2.8h0m5.2-36.7h0m6.3 38.1h0m-20.4 0.2h0m5.6-34h0m-20.2 31h0m33.1 8.3h0m-3.7 0.8h0m-11.2-10.9h0m3.3-26.2h0m12.3 32.2h0m-0.8-8h0m-17.5 10.8h0m26.9-12.3h0m-8.8-16.5h0m-25.6-13.6h0m39.5 38.9h0m-31.6 4h0m22.8-46.6h0m-34.1 37.9h0m0.5-16.6h0m27.1 24.6h0m-13.5 2.3h0m-9.7-17.5h0m12.8-0.1h0m19.1 13.8h0m-14.5-19.6h0m-6 22.3h0m9.5 1.2h0m-11-29.4h0m-16.4 7.7h0m-14.8 9.3h0m38.8-13.7h0m-32.4 13.4h0m32.8-2.3h0m7.7 14.1h0m-35.6-6.3h0m35.7 5.8h0m-22.6-10.4h0m16.5 7.4h0m3.1-22.4h0m-35.3 15.1h0m23.5-29.6h0m28.5 13.2h0m-31.3 20.5h0m16.6 4.8h0m-4.4-30.1h0m-10.3 7.4h0m16.1-22h0m-15.9 22.5h0m-31 2.4h0m32.8-14.8h0m-1.3 30.7h0m19.1 2.5h0m-16.9 0.2h0m-5.6-19.5h0m20.9 5h0m8.1 14.7h0m-27.7-16.4h0m43.2-18.8h0m-48.6 34.4h0m-6.8-28.4h0m11.2 23.7h0m-3.3-1.4h0m15.1-24.6h0m-47.3 22.2h0m39.7 5.4h0m1.7-37.6h0m-14.8 37.2h0m-19.7-18.6h0m57.3 2.5h0m-29.3 18.3h0m12.3 2.1h0m4.6-6.9h0m-13.5 4.7h0m22.7-1.3h0m-23.5 4.9h0m-11.7-2.9h0m12.5-19.1h0m6.7 14.5h0m9.2-3.2h0m-8 8.3h0m-0.4 2.4h0m-7.1-16.5h0m-9.4 5.7h0m-2.8 1.3h0m6.3-27.7h0m45.9 31h0m-16.6-5h0m-21.2-25.8h0m-11.7 9.8h0m7.7 5.8h0m9.2-11.8h0m-1.4 33.4h0m8.5-3.5h0m42.8-30.9h0m-59.3 25.4h0m-16.9-19h0m30.6 11.4h0m-5.1 12.6h0m-2.8-2.6h0m3.1-1.1h0m3-6.2h0m-12.8 11.4h0m12.6 4.8h0m10-52.1h0m-8.2 9.3h0m-21.5 34.3h0m43-1.4h0m-26.5-2.2h0m-6.4-27.2h0m14 17.3h0m19.4 2h0m-15.1 10.3h0m-11.5-8.5h0m-4.3 6.1h0m-0.1 7.5h0m-14.2-4.9h0m33.8-19.5h0m-0.3-4.6h0m3.7 19.6h0m-9 10.1h0m-21 2.9h0m11.7-39.7h0m30.1 28.7h0m-28.4-13.7h0m-2 1.1h0m-27.3 7.8h0m60 9h0m-33-15.1h0m3.4-18h0m-14.4 18h0m29.7-3.4h0m4.1 20.1h0m-35.7-2.7h0m23.5 1.5h0m-37.2-13.3h0m19.9 9.8h0m-2.7 5.2h0m-3.4 1.6h0m12.9-0.8h0m-4.5-1h0m-30.6-20.5h0m29.4-24.2h0m29.4 39.5h0m-24.3 5.7h0m4.8-3.5h0m7.7-15.5h0m-16-14.9h0m-5.9 7.6h0m20 12.9h0m-13.7-4.6h0m-16.4 2h0m0.7-4h0m6.4 23.1h0m36.7-15.8h0m-15 14.9h0m-0.1-42h0m-18.4 40.7h0m28.6-3.4h0m-32-1.6h0m8.2-5.7h0m32.1 8.2h0m-20.4 0h0m-14.7-8h0m-13.9 9.9h0m9.3 4.3h0m17.7-6.9h0m-9.3-12h0m-5.2-21h0m-10.8 15.3h0m4.9 22.8h0m68.5-20h0m-61.9 0.5h0m25.4 16h0m-15.1-10h0m-26.8 5.2h0m3.7 8h0m23.7-4.2h0m-14.1 0.4h0m26.8-20.4h0m-30.2 22.6h0m35.5-18.6h0m-24.5 17.5h0m5.4-10h0m-4.6 10.7h0m5.8-23.2h0m-19.3 14.2h0m9.6 3.8h0m20 0.8h0m-41.7-6.7h0m8.3-2.7h0m33.9-5.4h0m-43.7 6.9h0m35.2-27.4h0m-4.2 20.1h0m-24.5 18.8h0m20.3-35.4h0m3.6 28.6h0m0.7 11.6h0m-13.9-4.2h0m4.1-21.9h0m-5 9.2h0m-3.6-7.4h0m10.8-2.5h0m-14 2.4h0m24.5 23.9h0m-9.3-1.1h0m17.2-10.4h0m-6.7 2h0m-13.8-4.6h0m10.6 9.6h0m16.8-1.3h0m-21.8-7.2h0m12.8 8.6h0m5.9 2.8h0m-20.2-3.7h0m-2.5 1.7h0m8.8-41.9h0m-12.3 19.1h0m-2.5 4.5h0m4.7 4.1h0m-36.5 5h0m29.3-22.2h0m10.9 9.5h0m-37.8 4.1h0m42.8 20.8h0m-2.8-12h0m-16.3 6.8h0m38.7-17.7h0m-16.7 7.8h0m4.5 2.3h0m14.6-24.8h0m-47.4 14h0m-2-0.5h0m27.5 17.1h0m-3.9-28.7h0m1.1 34h0m-12.9-3.4h0m18.9 0.4h0m-8.7-15.8h0m20.3 17.4h0m-23.4-16h0m11.1 0.3h0m-14.6-14.7h0m15-25.4h0m-0.1 53.2h0m-9.3-6.5h0m-20.4-19.2h0m3.8 10.5h0m0.8 3.7h0m18.6-6.3h0m-0.3-0.6h0m-6.2-6.9h0m6.8 14.7h0m21.3-20.2h0m-22.1 26.2h0m-8.7 10.4h0m14.3-11.5h0m-1.4-3.1h0m-11.3 14.2h0m21.9-10.1h0m-1.4 0.1h0m-24.7-15.9h0m29.7 23.5h0m2.8 2.1h0m-16.9-17.2h0m14.8 14.6h0m-0.3-31.6h0m-17.9 32.2h0m-17.4-4.4h0m34.7-1.7h0m-34.9-13.8h0m13.5 16.6h0m16.1-2h0m-6.9 4.7h0m-22.1-15.5h0m23.8 12.4h0m-13.2-24.2h0m-4.9-21.3h0m9 40.1h0m-6.8 6.3h0m-4.8-5.7h0m-22.6 1.3h0m17.8-5.5h0m29.4 10.3h0m5.6 2.4h0m8.9-16.6h0m-4.8-12h0m-32.1 5.7h0m-5.3 21.5h0m36.9-5.6h0m-20.3 8h0m-14.2-2.9h0m-8.9-5.8h0m38.3-12.7h0m-37 3.3h0m10-2.6h0m16.2-6.9h0m17.2 21.5h0m-16.9-30.2h0m7.4 33.2h0m10-5.2h0m-40.1 6.6h0m22.7-12.2h0m4.2 14.6h0m-10.6-0.4h0m-17.8-14h0m1.7 6.9h0m-5.2-13.4h0m8.5 11.1h0m9.8-10.7h0m19.3 17.1h0m0-38h0m4.2 16.3h0m-12.9 11.9h0m8.7 9.1h0m-10.9 6.7h0m0.9-14.1h0m32.6 4h0m-32.2 3.3h0m-5-31.6h0m-24.9-5h0m39.5 17.4h0m-18.7 24.6h0m12.1-0.9h0m7.7-4.2h0m-4.5 3.3h0m8.3-5.8h0m-19.5 6.5h0m-2.3-43h0m18.8 33.4h0m-41.1-12.7h0m12.8 11.3h0m17.5-8.2h0m-23.1-11.2h0m26-0.2h0m-9.4-8.4h0m4.5 24.4h0m-3.6 15.2h0m8.7-8.4h0m-12.7-13h0m16.7 21.1h0m-25.5-19.1h0m16.3 7.5h0m4.7 9.8h0m-4.8-11.4h0m2.6-10.5h0m2.9 8.4h0m-14.3 6h0m-2.5 9.6h0m34.2-7.3h0m-76.6-3.4h0m40.1-1.5h0m32.7-3.5h0m-16.7 1.1h0m-0.7-17.5h0m32.5 23.8h0m-31-35.1h0m-12 21.1h0m20.5-6.6h0m-20.2 20h0m5.1 2.6h0m11.8-18h0m-2.7-7.5h0m-1.9 5.9h0m-28.6 2.6h0m15.2 6.7h0m7.1 15.9h0m-0.8 2.5h0m19.4-10.3h0m-25.2-46.8h0m-11.3 39.6h0m31 1.9h0m-19.9 13.8h0m17.3-20.7h0m-10.8 18h0m-17.8-2.5h0m52.1-11.9h0m-31.2 6.7h0m-16.4-31.2h0m1.9 42.1h0m16.8-8.7h0m-14.5-16.5h0m27.8 20.4h0m-25.2 5.4h0m20.7-35.3h0m-8.7 37.1h0m-5.7-23.5h0m1.9 22.8h0m6.5-38.1h0m-0.5 13.7h0m2.6 18.6h0m0.5-31.7h0m-34.5-6.9h0m38.6 36.3h0m-15.2-1.8h0m3.4-13.5h0m-2.8 19.8h0m2.8-6.8h0m-40 1.9h0m20.3 1h0m6.8 0.8h0m28.3 0.3h0m-7.7-43h0m-5.1 29.6h0m-16.8 14.6h0m-11.8-22.8h0m34.3 11.5h0m-8.1 8.6h0m-28.3-40.1h0m49.2 37.3h0m-34.4-8.6h0m25.3 15.4h0m-11.9-8.8h0m-25.7 3.2h0m33.2 1.9h0m-8.2 8.3h0m4.5-4.2h0m-17.3-8.7h0m-7.7 4.6h0m23.6-24h0m27.8 23.9h0m-44.1 1.4h0m10.9-6h0m-0.9-3.8h0m4.7-3.3h0m-1.1 12.8h0m-28.8 1.7h0m52-22.2h0m-50.4 21.5h0m24.2 0h0m4-29.6h0m-6.1 28.5h0m-9-6.1h0m19.8-12.8h0m-10.9-13.5h0m16.5 2h0m-25.4 33.2h0m16.7-10h0m5.8 2.2h0m-19.4 5.3h0m19.3-25.2h0m-2.8 4.2h0m-17.4 21.9h0m4.8-17.3h0m8.3-13.2h0m4.5 32h0m-21.5-21.2h0m0.9-17.6h0m15 35.3h0m12-20.7h0m-4.3-10.8h0m-20.4 11.1h0m30.1 16h0m-43.2-16.4h0m41.4-23.3h0m-14.4 38.9h0m0.1-10.5h0m-22-16.4h0m30.8 25.3h0m-19.2-6.5h0m-15.3 6.3h0m31.8 8.6h0m-15.1-8.6h0m3 12.8h0m12-4.6h0m-14.8-41.1h0m14.9 3h0m-1.3 35.5h0m-18.7 4.9h0m12.7-21.2h0m6.4 11.7h0m4.9 7h0m-30.7-29.4h0m20.7 19.5h0m-5.5 7.4h0m4.9 5.6h0m-10.9-7.7h0m26.7-29.6h0m-13.2 37.8h0m22.2-5.9h0m-26.4 4.3h0m28.9-6.9h0m3.8-10.4h0m-40.3 13.6h0m19.3 7.1h0m-19.4 0.9h0m20.9-34.7h0m-10.2 27h0m-20.5 3h0m12.2-50.2h0m-17 40.8h0m16.4-27.9h0m-12.8 6.1h0m19.3 17.4h0m-8.9 7.2h0m-8.2-2.5h0m-2.5-2.1h0m22.9 16.1h0m4.4-13.7h0m-24 5.9h0m5.3-14.4h0m-21.6 10.7h0m7.5 1.9h0m17.8 2.2h0m-13.3-0.9h0m33.6-4.3h0m20.5 3h0m-47.6 4.9h0m-4.8-44.2h0m48.8 27.3h0m-66.3-27h0m29.4 48.2h0m4.4-14.3h0m-2.9-14.4h0m8 26.6h0m9.1-47.3h0m-25.9 11.4h0m-9.8 27.2h0m24-0.6h0m-16.5-16.2h0m16.6 18.9h0m10.2-23.1h0m-21.1 8.5h0m4.5 14.7h0m1.5 7.7h0m-3.9-5.5h0m9.3-0.5h0m15.7-0.8h0m-15-9.9h0m19.3 14.3h0m-14.5-5.9h0m-22.8-19.2h0m26.1-15.5h0m-20.5 11.7h0m25.1 24.7h0m-6.7 3.7h0m-17.6 2.5h0m16.5-6.9h0m8-17.3h0m-46.7 16.8h0m52.3 5h0m-30.9-3.5h0m13.4-43.6h0m-2 35.1h0m5.7-11.4h0m-37 21h0m15.5 0.9h0m11.6-45.7h0m-12.5 39.8h0m-8.5 7.5h0m-1.8-13.1h0m37.4 13.8h0m19.5-6.5h0m-25.3-4.7h0m-19.2-2.9h0m4-19.1h0m-4.6 14.5h0m-3.3-13h0m25.1 31.7h0m-3.6-5.9h0m4 7.8h0m18.1-20.8h0m-7 12.4h0m-15.1 7.1h0m10.3-21.4h0m-1.6 6.3h0m-24.5 15.6h0m-1-1.5h0m16.3-44.5h0m-2.2 48.8h0m-23.8-13.2h0m25.8 6.3h0m-28.8-0.9h0m23.1-18.2h0m-18 0.1h0m4.3-2h0m14.1 21.9h0m27.5-5.5h0m-41.8 4h0m48.9-0.8h0m-35.1-24.4h0m5.2 26.4h0m-0.8-1.6h0m-12.4-19.7h0m-0.5 26h0m23.7-15h0m-36.2 11.4h0m15.6 4.3h0m-10.6-4.2h0m19.9-9.5h0m-13.1-12.1h0m-19.9 9.9h0m9.6-2.9h0m18 5.2h0m29.5-18.5h0m-21.6 29.9h0m-3.6-2h0m-14.8 0.2h0m35.8-11.6h0m-39.2-33.7h0m10.1 46.9h0m-6.4-35.8h0m10.4 38.6h0m-0.4-10.5h0m33.4-2.7h0m-32.3 10.6h0m4.2-4.1h0m-13.3-10.4h0m-3.5 3.2h0m2.5-5.6h0m7.2 9.1h0m3.9-1.3h0m10.5-32.6h0m-30.9 37.6h0m28.1-1.2h0m-0.2-25.6h0m16.9 24h0m-14.9-5.3h0m4.4-26.2h0m11.9 35.5h0m-26.6-36.6h0m-15.5 12.6h0m-0.3-21.7h0m-0.3 40.2h0m2.1-31.4h0m43.6 26.3h0m-8.6-14.7h0m-16 30.8h0m-14-31.4h0m7 19.3h0m34.4 0.6h0m-46.6-13.9h0m8.2 21.6h0m-11.8-22.3h0m32.3 6.2h0m-17.4 3.7h0m1.9 0h0m7.4 7.2h0m-6-18.9h0m-16.6 3.2h0m13.5-4h0m11.4 3.5h0m-21.1 18.1h0m25.4-2.8h0m-2.9 9.1h0m-20.3-1.3h0m17.2-28.7h0m3.7-0.4h0m-9.1 31h0m16.8-41.1h0m-15.3 37.6h0m1.7-27.5h0m-0.2-5.7h0m-11.2 20.2h0m23.1 7.6h0m0.2 4.1h0m-26.8-27.4h0m3.9-13.7h0m20.2 40.5h0m4.5-12.3h0m-28 7.1h0m8.4 1.2h0m4.2 5.9h0m-16.6 1.6h0m8.2-6.5h0m-8.6-13.5h0m14.3-11h0m-12.5-13.8h0m30.6 37.5h0m-18.2-16.2h0m11.5-0.3h0m-13.9 10.5h0m0.3 3.6h0m11.8-5.6h0m-19.6 15.5h0m9.8-20.8h0m5.8 13.6h0m-20.1-47.8h0m2.4 23.2h0m50.7 1.4h0m-61.7 12.9h0m32 8.5h0m-17.2-25.5h0m15.3 26.2h0m6.9-40.7h0m-35.5 28.5h0m19.7 18.9h0m-8.1-12.3h0m17.4 8.3h0m-53.2-32h0m27.5 29.6h0m14.6 10.1h0m8.3-7.5h0m-19.5 4.7h0m12.1-0.3h0m27.3-5.9h0m-21.5-4.2h0m10.6 1h0m-10-14.3h0m14.6 21.6h0m-8.6 0.2h0m-4.4 4.4h0m-6.2-20.7h0m-17.3 13.4h0m4.2-11.4h0m0.9 14h0m11.5-3.4h0m-41.5-20.4h0m44.1 24.6h0m-20.6-2.1h0m28 6.4h0m-19.8-14.4h0m30.8-6.9h0m-2.8 6.5h0m-5.5-2h0m-1.9-7.8h0m7.5 20.8h0m-9-14.5h0m14.4 12.8h0m-9-6.9h0m-21.6 8.1h0m1.6-4.4h0m7.4-4.9h0m-14 4.8h0m14.1 3.7h0m-7.3 1.8h0m22.1-13.8h0m-3.1 3.5h0m-41.2 2.4h0m32.1-0.7h0m-2.7 3.6h0m19.8-23.4h0m-52.2 24.6h0m56.3-5.8h0m-18 4.9h0m-1.8 3.1h0m-9.5 0.1h0m9.2-40.9h0m-5.4 26.7h0m-2.8 8.9h0m18.4 8.5h0m-25.3-13.1h0m29.4 11.7h0m-36.1-12h0m23.5-38.8h0m9.1 31h0m-35.7 18.1h0m5.5-19.9h0m36.4 9.8h0m-46.8-12.6h0m40.2 16.1h0m-23.9-4.2h0m13.6-5.6h0m-7.7-25.4h0m-17.4 17.4h0m45.4 15.7h0m-47.8-4.3h0m11.4-0.2h0m30.2 4.4h0m-2-8h0m-47.8 2h0m78.8-1h0m-28.9 11.4h0m-5.1 7.2h0m-4.1-28h0m25.2 23.1h0m-25.1 6.3h0m-42.7-10.7h0m44.7 3.8h0m-28.5-0.6h0m33.1-3.6h0m-45.2-22h0m27.8 6.2h0m1.8 6.8h0m3.1-0.6h0m-12.7 1.8h0m17.2 6.9h0m-55.7-2.6h0m47.4-2.2h0m4.4 11h0m-6.4-8.1h0m21.3 3.4h0m-8.5 0.8h0m-6.5 7.2h0m-20.1-0.9h0m10.8-18.2h0m17.5 14.8h0m-14.7 4.9h0m-0.3-0.5h0m25-4.9h0m-31.8-6.4h0m-6.2 6.7h0m15.7-20.1h0m19 11.8h0m-29.6 2.3h0m19.6-24.4h0m0.4 34.8h0m-6.2-11.8h0m8.8-4.3h0m0.4 7.6h0m-7.3 2h0m7-12.8h0m-16 15.3h0m20.6-18.7h0m-10 14h0m-7.9-40h0m0.6 3.7h0m1.4 40h0m-8.2-5.8h0m11.8-5.4h0m10.7-2h0m-10.9 20.2h0m22-9.5h0m-9.2-17.4h0m-35.4 3.8h0m20.1 24.8h0m7.6-19.9h0m-8.5 7.3h0m5.1 6.5h0m-30.8-29h0m28.5 27.1h0m2.5-20.9h0m6.3 24.4h0m-17.3-13.6h0m-6.2 15.5h0m19.3-52.6h0m9.4 39.9h0m1.2-3.5h0m-9.6-6.5h0m-4.9-15.8h0m7.5-10.5h0m-3 46.9h0m-16.6-31.4h0m31.7 20.2h0m-11-15.7h0m-21.2 10.3h0m-21.5 10.4h0m47.3-2h0m-56.5-33.9h0m53.6 3.9h0m-31.3 29.1h0m16.5 10.8h0m0.9-11.1h0m3.1 6.8h0m-27.4-2.6h0m17.1-27.5h0m-7.4 26.1h0m31.9 7.9h0m-38.7-8.6h0m6.7 2.2h0m25.2-35.4h0m-3.1 33.7h0m-26.2-30.6h0m9.3 33.7h0m-23.2-13.6h0m27.9-35.4h0m13.6 26.3h0m-31.3 7.6h0m26.5-14.4h0m3.7 15.4h0m-19.9 20.2h0m16.8-27.7h0m-29 13.7h0m46.5 11.2h0m-17.1 1.8h0m-7.2-47.7h0m-1.7 14.7h0m-0.6 25.3h0m0.8-25.9h0m-1.1 13.6h0m-0.9 17.8h0m20.8-4.2h0m-0.9-1.3h0m6.4-23.5h0m-15.1-7.8h0m-19.7 28.1h0m34.2 4.8h0m-21.9-4.9h0m15.5 8h0m-15-44.3h0m-0.2 13h0m17.8-20h0m-29.2 37.2h0m28.7-14.3h0m-12.1 33.6h0m-10.9-37.1h0m-2.4 32.2h0m-4.4-25.4h0m3 8h0m-0.1 19.5h0m4.1 2.1h0m3.3-6.9h0m0.3-10.4h0m39.7 8.8h0m-32.5-1.3h0m0.4-36.1h0m-7.8 26.8h0m-21.1-24.5h0m29.8 41.2h0m-5.5-24.5h0m-20.8 3h0m45.8 12.3h0m-41.3-1.5h0m6.6 7.9h0m13.6 1.8h0m27.5-2.5h0m-56.1-10.3h0m36.9-2.8h0m-17.1-37.9h0m11.7 18.5h0m-20.4 5.8h0m32.1-13.9h0m-14.6 32.4h0m-5.2-26.8h0m-4.4 19.3h0m11.6-0.1h0m-0.3 6h0m23.9-0.5h0m-46.9-8.2h0m12.6-3.7h0m-11.9 18.2h0m16-31.6h0m-20.5 17.5h0m59.8-19.3h0m-25.2 39.4h0m2.6-2.5h0m-7.1 4.4h0m-11.4-5h0m6.7 5.5h0m-0.5-12.7h0m4.8 1h0m-10.3 0.7h0m8.7-38.6h0m8.4 47.4h0m-19.8 1.8h0m-0.7 2.7h0m-10.3-5.3h0m19.1 5.5h0m-1.1 1.3h0m1.7-18.5h0m-14.2 4.6h0m12.9 9.3h0m-5.9 3.1h0m-18-29.8h0m25 9.9h0m-14.2 18.2h0m13.4-0.9h0m-3.4-31h0m-26.2 28.1h0m31.1-26.1h0m-12.8-1.6h0m20.8 8h0m-21.4 14.6h0m-1.5 8h0m-2.9-16.1h0m9.1-11.6h0m-9.3 12.9h0m9-20.3h0m-2.9 34.9h0m-4.1-20.4h0m26.4 11h0m4.4 8.2h0m-11.4-9.3h0m15.4-5.1h0m-38.4 6.8h0m7.1 8.5h0m14.3-41.7h0m-3.6 38.9h0m-3.2-14.2h0m-2.8-16.7h0m14.7 34.3h0m-22.9-0.3h0m26-37.7h0m-0.7 24.9h0m-45.7 9.4h0m4.9-5.7h0m42.5-7.5h0m-15.9-14h0m-14.5 31.1h0m4.8-8.4h0m33.5-11.5h0m-7.9-6.8h0m-30 25.9h0m51.6-12h0m-47.9 5.1h0m13.9 6.5h0m3.6-9.5h0m-7.8-26.1h0m-12.5 17.8h0m11.6 7.8h0m-14.1-1h0m7.1-32.2h0m4.8 25.8h0m19.4 5h0m6.8-16.1h0m-12.4 18.6h0m-24.2-29h0m32.4 16.3h0m-3.1 5.8h0m-1 2.9h0m5.3-2.6h0m-9.9-32.3h0m-1.6 50.8h0m19.7-5.9h0m-35.4-11.2h0m34.1 12.4h0m-27.8 4.6h0m13.2-1.3h0m-29.9-27.6h0m69.2 7.1h0m-31 20.4h0m-14.9-8.7h0m1.3 8.9h0m0.3-8.6h0m3.2 9.1h0m-0.8-10.8h0m-9.9 9.3h0m0.2-5.1h0m-9-1.9h0m27.7-0.5h0m-12.6 10.9h0m-0.2-34.5h0m10.5 32.2h0m-32.9-2.2h0m28.9-6.9h0m-1.1-40.2h0m-19 50.1h0m8.7-8.2h0m-19.1-19.8h0m24.2 19.4h0m-10.9-4.6h0m4.7-30.1h0m-13.2 29.4h0m11.8-32.2h0m56.7 32.3h0m-48.6 0.4h0m-30.6 10.2h0m27.4 1.4h0m-7.8-30.2h0m-3.3 22.6h0m18.5 7.6h0m-21.8-25.6h0m25.8 13.8h0m-17.7 15.4h0m-2.2-18.3h0m23.3-2.1h0m-1.8-4.2h0m10 16.1h0m-55.1-10.1h0m40.9-1.4h0m-46.3 11.6h0m43.9 7.4h0m5.5-6.9h0m-10.6-23.9h0m16.1 19.4h0m-6.5-15.7h0m-16.9 22.9h0m25.9-7.9h0m-16.9 8.7h0m3.1-5.7h0m-13.5 3.5h0m2.7 7.1h0m20.2-16.5h0m-27.1 14h0m2.5-18.2h0m18.5-11.6h0m-18.5 31.8h0m9.9-6.3h0m-24.1 0.4h0m26.6 0.5h0m-16.2-9.3h0m29 12.7h0m-14.5-14h0m-31 10.1h0m42.1-11.7h0m10 9.6h0m-17.2 5.7h0m7.8-9.7h0m-1.2-2.3h0m-19.8 9.7h0m29.7-21h0m-24.2 12.7h0m-7.8-2.9h0m-15 8.9h0m24.5 7.3h0m-11.2-35.4h0m24.2 30.7h0m-15.8-14.7h0m-36.3-4.8h0m44-33.1h0m2 51h0m-56.1-15.5h0m43.3 1.6h0m-16.4-0.1h0m3.3 15.6h0m20.6-26.5h0m-0.3 16.9h0m8.9 0.7h0m-0.3 9.7h0m14.1-1.7h0m-39.7-23.4h0m21.5-21.2h0m30.9 8.4h0m-41.6 22.5h0m-20.1-13.3h0m4.4 26.3h0m21.8 5h0m18.2-39.7h0m-41.6 10.3h0m-1 26.5h0m16.5-0.6h0m-0.5-7.8h0m28.5-12.8h0m-28.2 13.7h0m22 4.1h0m-19.2-34.8h0m14.1-1.1h0m-16.2-8.9h0m8.3 26.1h0m1.4 25.1h0m-15.9-55.9h0m8.6 46.8h0m-17.9 1.8h0m32.9-11.8h0m-3.5 18.7h0m-27.2-18.8h0m30.6 15.6h0m-22-34.8h0m4.8 33.1h0m3.1-21.1h0m-7.3 10.1h0m36.2 1.4h0m-24.2 4.6h0m15.1 8.2h0m2.8-4.5h0m-11.9-39.5h0m-0.4 40.3h0m-22.7-29.2h0m19.6 16.8h0m-6.9-21.4h0m-5.5 34h0m-11.1-17.1h0m11.8 23.2h0m20.6-13h0m-20.4 9.9h0m-13.9 0.3h0m11 2.4h0m2.1-13.4h0m0.9 3.6h0m1-28.4h0m21.5 28.6h0m-17.8-8.7h0m-6.1 14.1h0m10.1-4.6h0m-8.9-1.9h0m16.2 6.3h0m-8 3.4h0m-30.7-12.6h0m18.2-32.6h0m16.9 33.6h0m-9.8 11.9h0m-4.9-4.8h0m-5.2-5.6h0m3.9-43.8h0m19.8 54.9h0m-20-39.1h0m-4-15.1h0m25.1 45h0m-5.1-3.8h0m4.2 12.1h0m-6.7-6.4h0m8.4-4h0m-26.6 9.4h0m19.7-12.1h0m-20.2-13.4h0m44.1 9.6h0m-37.7 17.2h0m8-2.5h0m4.4-39.9h0m-7.9 32.8h0m12.8-5.9h0m-12.4-19h0m3.2 29.7h0m3.5-28.5h0m8.3 27.2h0m8.4-5h0m-8.9-17h0m-6.5 20.9h0m-26.5-5.1h0m21-7.4h0m-3.1-5.2h0m4.1 22.5h0m-16.6-10.1h0m5.4-3h0m26.9-0.5h0m-11.4 17.1h0m-24.9-5.3h0m20.4-9.2h0m10.2 7.6h0m-26.6-31.6h0m23.2 24.8h0m1.5-2.7h0m-29.5 11.8h0m3.5-5.2h0m-8.7 3.1h0m55.6-0.4h0m-32 0.6h0m1.7 6.2h0m-19.7-34.9h0m23.9 32.2h0m1.5-4.1h0m7.5 5.6h0m-1.9-6.6h0m-6.4 2.6h0m-5.1-5.6h0m4.2 4.6h0m19.1-7.5h0m-35-21.4h0m11.9-3.8h0m-5 27.5h0m-27-5.8h0m40.1 14.5h0m-46.1-9.2h0m4.2 0.8h0m75.7-4.4h0m-27.7-5.8h0m-20.2 19.5h0m9.6-2.5h0m11.6 2.4h0m-33.9-7.4h0m11.8-33h0m36.9 4h0m-48.6 14.6h0m-2.1 6.8h0m9.8-12.6h0m12.2 31.8h0m-22.7-22.2h0m42-0.5h0m5.4 11.7h0m-56.4-12.6h0m41.6-24.2h0m17.8 20.2h0m-16 17.7h0m-9.9 7.1h0m-27.1-5.6h0m17.9-19.9h0m3.9 25.2h0m18.8-1.6h0m-8.3-11.9h0m-13.5-1.8h0m-10.2-4.8h0m22.6 14.3h0m-5.2 8.7h0m-32.6-14.4h0m30.3 0.9h0m-12.2-13.9h0m13.2 26.3h0m6.5-9.3h0m-13.5 5.6h0m-9.3-10.9h0m16.4-10.2h0m9.6 20h0m-15.5 4.1h0m43.1-26.6h0m-27.4 22h0m9.3-16.6h0m-4.8 16h0m-23.3-27.2h0m17.9 26.5h0m26-1.6h0m-35.6-12.9h0m7.3 20.3h0m2.2-10.8h0m-14.1-16.9h0m-20.7 2.2h0m35.5 14.7h0m-9-0.2h0m-1.1-10.1h0m0.6 13.8h0m-1.6 3.8h0m15.2-15h0m-10.8 14.4h0m-28.9-1.5h0m48.7-43.2h0m-31.6 17.6h0m1 22.3h0m33.4-0.9h0m-43 4.9h0m12.5-17.2h0m3.5 19.8h0m5.8 3.7h0m8.8-40.8h0m-24.7 37.3h0m21.6-0.2h0m14.2-24.4h0m-59.8 10.4h0m56.6 4.4h0m-21.9-28.1h0m-3.2 21.4h0m-1.8-2.4h0m-17.7 12.3h0m15.4 7.9h0m6.2-56.8h0m12.1 54.3h0m-20.6-7.5h0m4.9 5.4h0m1-0.5h0m-25.2-4.3h0m61.4-0.7h0m-23-6.2h0m-20.3 14.6h0m30.7-24.8h0m-25.3 24.4h0m-25.3-12.6h0m-16-6.1h0m57.2-15.6h0m-4 34.6h0m-11.3-5h0m-4.1 0h0m-9.6 2.9h0m33.9 2.6h0m-11.5-1.3h0m-3.2 3.6h0m0.1 1h0m-12.5-5.9h0m18.4-43.5h0m-1.6 21.4h0m13 20.9h0m-29-19h0m22.5 18.3h0m-22.3-14.2h0m8.5 12.4h0m-1.3 9.2h0m0.8-4.2h0m3.9-13.9h0m2.8 12.2h0m22.9-12.7h0m0 13.2h0m-42.6-2.1h0m24.3-2.1h0m22.7-6.7h0m-23.7 9h0m-34.9-7.6h0m39.7-15.8h0m-7.9 28.3h0m-30-26.4h0m31.9-4.2h0m-12.3 12h0m-2.5 8.3h0m33.4-9.9h0m-17.3-28.3h0m-3.5 41.4h0m-40.1-4.1h0m40.6 12.9h0m6.5-24.1h0m-15.4-6.4h0m-1.3 15.2h0m15.9-24.8h0m18.7 19.3h0m-33.5 13.1h0m17.1-26h0m-3.8 29.3h0m9.5-50.4h0m8 36.4h0m-12.9 8.9h0m-19.7 7.8h0m-0.3-18.8h0m6.5-31.9h0m5.7 51.4h0m18.9-18.5h0m-20.5 17h0m26.9-4.2h0m-30.9-32.6h0m11.9 36.8h0m1.4-16h0m-12.1 4h0m-23 6h0m22.4 8.3h0m-3.8-0.1h0m12.4-7.4h0m3.5 5.6h0m-22.2-3h0m6-44.4h0m9.7 47.9h0m-26.5-24.2h0m37.4 10.9h0m-19.7 9.1h0m10.5-4.2h0m-16.9-1.3h0m20 3.8h0m-4.5-6.2h0m22.2-22.7h0m-17.7 15.8h0m-25.8-7.4h0m15.2-0.7h0m-0.4-9.7h0m-2.5 13.9h0m9.6 3h0m6.5 14.3h0m-57.3-3.6h0m28.8-19.1h0m15.9 20.6h0m11.6 2.8h0m-28.9-23.2h0m6 14.6h0m-2.1 11.6h0m-10.6-6.2h0m33.7-9.4h0m-10.7 4.8h0m5.9-3.2h0m2.7 2.5h0m-0.6 11.8h0m-7.9-26.8h0m3.8 20.8h0m19-13.1h0m-23.8 15.8h0m-16.4-7.2h0m26.1 9.7h0m4.2-7.4h0m0.9-6.1h0m65.6-1.8h0m-74.4 10.5h0m-10-7.2h0m-5.6 12.5h0m27.6-13.8h0m-48.6 3.4h0m69.3-5.4h0m-43.1 10.7h0m17.1-4.3h0m0.1-19.2h0m3.1 13.3h0m-21.1 13.7h0m-6.1-7.9h0m21.9 5.4h0m-15.2 3.5h0m-12.5-3.6h0m16-16h0m-16-1.7h0m30 2.2h0m-3.5 5.4h0m-41.3 5.3h0m42.9 10.2h0m-12.4-38.8h0m-20.2 13.2h0m43.8 17.7h0m-1.1-4.2h0m1.2 7.3h0m-30.2-3.8h0m-22.9 2.7h0m3.2-2.4h0m55.4-9h0m-27.7 4.8h0m0.9-14.6h0m6.7 26.5h0m-36.9-3.7h0m55 1.4h0m-23.8-4h0m-23.8 2.7h0m38.2-17.2h0m-28.1-33.7h0m2.5 43.6h0m18.1-36.5h0m-39.3 31.9h0m42.7-22.2h0m-50.2 30.5h0m70.8 1.5h0m-33.3-9h0m13.2 9.3h0m-22.1-0.7h0m-15.4-6.3h0m30 14.7h0m-3.1-5.6h0m-13-11.8h0m25.4-2.1h0m-33-14.9h0m11.7 8.2h0m19.9 16.6h0m-22.3 3.5h0m-11.9 2.1h0m-3.1-1.6h0m2.6-6.5h0m48.8 8.6h0m-42-25.7h0m13.1-15.2h0m9.2 40.1h0m-29.7-1.2h0m72.7-4h0m-39.1 0.9h0m5.6-9.6h0m-19-22.4h0m14.4 8.6h0m-3.5 13.6h0m-14.1-10.2h0m-20.5 24h0m20.8-25.5h0m29.4-9.1h0m-35.4-2.5h0m24.8 37.1h0m-15.2-1h0m-2.1-44.7h0m9 39.4h0m17.9-2.8h0m-16.1 12h0m-22.6-11.8h0m2.2 11.7h0m44.5-3.3h0m-12.5-3.8h0m-31.1 1.9h0m10.8 3.4h0m0.5 5.2h0m20.5-13.5h0m-14.5-21.4h0m15.2 14.4h0m-6.9 8.7h0m21.6-18.9h0m-45.8-1.6h0m18.2 26.3h0m-19.6 2.1h0m21.4-5.8h0m-3-8.7h0m18.6 13.9h0m-39-5.3h0m2.8 7.1h0m1.6-0.4h0m39.9-17.5h0m-24.9 10.9h0m-19.7-11.6h0m-44.3-5.7h0m53.4 16.6h0m21.6-15.7h0m-31.8 5.9h0m14.9 16.8h0m-20.6-7.6h0m41-28.7h0m-11.9-2.1h0m48.3 26.6h0m-35.4-8.7h0m-16.3 23.4h0m-2.9-21.5h0m-15.1-24.9h0m55.9 36.6h0m-31.8-7.7h0m-24.3 5.7h0m18.7-9.4h0m-31.4 6.3h0m28.6 10.1h0m-1.7 5.5h0m-6.5-59.4h0m15.5 57.8h0m-13.8-10.8h0m-14.7-29.8h0m41.2 38h0m-33.9-3.3h0m9.5-24.8h0m9.3 25.3h0m24-1.3h0m-59.8-16.9h0m28.5 24.9h0m-7.5-14.4h0m23.6 3.6h0m-11.6 7h0m22.4-3h0m-42.3-37.9h0m21.1 31.3h0m-6.8-12.4h0m11.2 23.6h0m12.5-3.2h0m-13.1-30.9h0m-0.3 36.2h0m-7.9-11.8h0m-2.7 9.8h0m12.4-37.7h0m-13.8 13.7h0m24-17.3h0m-30.8 23.3h0m37.5 6.1h0m-51.8-12.9h0m10.1-2.2h0m23.6 24.2h0m2.1-1.1h0m-23.6-4.3h0m40.3-3.1h0m-25.3 14.2h0m-15.7-4.1h0m12.7-4.2h0m-7.2-14.6h0m26.3 4.2h0m-5.8 9h0m-4.6 4.9h0m-2.1-14.8h0m-16.3 10.2h0m-0.5 0.2h0m-7.1-7.7h0m22.8 7.2h0m-45.9-1.3h0m52.8-18.8h0m-31.1 22.2h0m12.2 0.7h0m23.6-36.2h0m16.8 9h0m-34.1 5.9h0m-4.4 13.8h0m35.4-12.8h0m-26.5 15.8h0m8.2-2h0m-15.3 12.4h0m-10.1-16.1h0m15.3 15.6h0m10.5-1.3h0m3.1-2.8h0m-29.8-2.2h0m-4.8-1.8h0m17.2-9.6h0m9.9 13h0m-16.3 0.5h0m25.2-13.2h0m-8.3 11h0m4.3-22.8h0m6.7-12h0m-6.5 40h0m0.7-11h0m4.4 6.7h0m-25.9 4.1h0m8.7-4.3h0m0.1 2.1h0m4.6-22.6h0m-23.9 16.9h0m19.4 8.5h0m-17.7-30.6h0m27.4-10.3h0m-5.1 38h0m2.8-36.1h0m18.1 15.2h0m-11.2-8.3h0m30.4 23.5h0m-69.2-7.3h0m42.8-10.6h0m-33.3 13.5h0m21 2.5h0m4.2-9.5h0m-17.3 7.7h0m-7.4-1.8h0m18-15.3h0m-7.5 28.6h0m0.5-13.8h0m6.9-2.5h0m9.2-18.4h0m-0.5 7.2h0m-0.9 20.1h0m14.9-19.1h0m-5.3-6.4h0m-21.2 23.3h0m3.1 7.2h0m-23.1-26.9h0m18.8 10.6h0m-5.4 5.8h0m-19.5 7.4h0m17.4 4.7h0m7-0.9h0m5.4-26.2h0m-21.7 4.9h0m22.3-23.4h0m-32.4 30.9h0m26 10.1h0m7.9-21.4h0m-30.4 22.2h0m34.9-5.3h0m-2.7-15h0m-25.9 0.9h0m28.3 17.9h0m-19.4-12.3h0m1.6-15.7h0m-32.7 12.5h0m28.8-9h0m4.9 24.6h0m10.9-7.9h0m0.1-9.5h0m-12.2-12.7h0m4.3-3.9h0m9.8 3h0m1.6 19.5h0m-18.1-0.7h0m16.3 16h0m-5.6-16h0m23.1-8.1h0m-16.6-24.8h0m4.5 30.7h0m-1.9 8.5h0m-19.6-12.9h0m-11.6-24.4h0m25 42.2h0m8.4 4.2h0m-8.7 2h0m-9-16.2h0m9.3 4.9h0m-22.6 7h0m37.5-6.2h0m-37-14.2h0m28.9 24.2h0m-19.1 1.8h0m-1.9-4.1h0m-2.6-5.2h0m-19.3 2.2h0m-7-2.1h0m24.3-10.1h0m22.1 19.1h0m8.7-7h0m1.8-16.2h0m4.9 17h0m-18-16.1h0m-6.7-29.5h0m-4.4 14.7h0m7.3 6.9h0m-15.6-13.8h0m18.9 31.3h0m6.9-23.4h0m4.5 31.1h0m-24.4-3.2h0m13.3-15.8h0m-2.5 25.8h0m5.5-47h0m7.3 17.6h0m-2.9 8.9h0m-6.3 19.3h0m-7.9-10h0m13.6 3.3h0m-18.9-1.1h0m6.9 7.3h0m39.6-30.9h0m-83.6 17.8h0m50.4-45.7h0m9.3 29.3h0m-24.1 12.2h0m-5.9-5.5h0m20.4-24.7h0m-5.9 48.6h0m-4.9-6.3h0m6-8.9h0m-9-9.3h0m14.3-22.5h0m-9.2 44h0m0.9-22.6h0m22 22.6h0m-22.3-21.6h0m4.7 26.4h0m-15.8-7.3h0m30.2-2.5h0m-11.1 9.2h0m19.1-18.9h0m-37.4-4.8h0m24.2-24.4h0m14.2 40.7h0m-12.3-35.7h0m-7.7-7h0m-9.7 38.6h0m12.4-41.9h0m-7.7 16.2h0m-10.7 11.2h0m26.3-2.4h0m-10.4-16.8h0m1.9 31h0m4.3-7.3h0m-14.9 4.1h0m7.2 9.5h0m-3.1-19.2h0m0.1 24.5h0m7-43.8h0m-6.9 28.3h0m-2.7 10.7h0m16.1-4h0m-30.9 0.9h0m13 8.9h0m-16.4-20.8h0m18.7 6h0m13.3 14.1h0m-18.3-27.7h0m5.8-16.2h0m-3 38.7h0m-0.2 3.6h0m16.8-24.9h0m-15-27.8h0m9.1 48.6h0m-13 4.5h0m25.6-2.5h0m-23.1-36.4h0m7.5 23h0m12.4 4.4h0m-3.3-38.1h0m-19.1 28.2h0m36.1-1.2h0m-16.8-3.9h0m1.1 13.5h0m-7.3 3.8h0m16.2-0.8h0m-1.2 6h0m5.6-21.2h0m-7.2 13.6h0m-11.4-23.4h0m-5.3 28.4h0m-22.1-35h0m17.4 38.2h0m-31.4-32h0m40.7 22.1h0m1 14.1h0m-15.8-30.9h0m-6.6-10.4h0m19.3 37.8h0m-2.4-3.7h0m-16.8 4.6h0m18.3-32h0m-27.6 31.6h0m6.8-6.7h0m-1.4 7.6h0m16.5-27.9h0m-7.5 28.3h0m8.9-3.7h0m5.2-3.1h0m-13 8h0m-6.4-1.8h0m19.1 3.7h0m-7.6-0.4h0m5.2-14.8h0m-3.9 5.7h0m14.8 6.6h0m-2.2-33.8h0m0.7 1.3h0m-7.6 22.4h0m-27.7-19.1h0m6.4 18.1h0m19.7-8.9h0m-50.9-15.1h0m27.8 7.9h0m-13.8-7.3h0m37.5 39h0m-12-21.5h0m-7.1-4.7h0m10.5 8.9h0m2 11.1h0m6.3-24.9h0m-42.6 20.9h0m48.3 2.6h0m-12.1 2.7h0m-10.8-9.1h0m0.1 7.3h0m-18.5-34.7h0m39.1 26.8h0m17.1-1.9h0m-4.9-8.4h0m-23.2 12.7h0m3.8 9.9h0m0.3-15.1h0m-4.9 4.6h0m8.7 12.3h0m-0.9-9.5h0m-5.5 6h0m7.3-3.4h0m-12.2-25.2h0m13.9 30.3h0m-30.5-23.7h0m26.2 23.7h0m-19.5-17.8h0m6.5-11.4h0m19.7 21.5h0m-10.5-20.7h0m0.6 24.1h0m-7.7-5h0m6.5 4.7h0m0.4-24.1h0m-3.4 20.6h0m-1.8 7.6h0m-0.6-0.1h0m11.1-26.3h0m5.4 27.6h0m-3.9-32.6h0m-0.6 20.9h0m6.3-24.4h0m-11.8 32.9h0m-1.6 2.9h0m8.6-20.8h0m-10.5 21h0m-0.7-7.4h0m14 2.2h0m-25.1-1.6h0m19.8 7.8h0m-25.9-12.6h0m27.7 5.3h0m-5.4-18.5h0m-1.3 24.7h0m13.7-5.3h0m15.4 0.3h0m-41-5.2h0m16.8-16.6h0m6.5 18.4h0m-23.1-4.5h0m24.2-21.1h0m-7.4 12.5h0m3.5 22.1h0m-12.4-0.1h0m-26.9-18.6h0m22.5-1.5h0m9.6 15.1h0m12 3.1h0m-6.2-13.4h0m-6.6-33.4h0m7 31.6h0m-15.8 10.7h0m32.1 0.9h0m-26.4-13.9h0m-21.3 0.3h0m21.2-2.9h0m11.9 12.1h0m-4.2-9.4h0m-35.1-9.1h0m49.2 13.9h0m-11.4-2.8h0m15.6 11.7h0m-14.4-15.3h0m-3.7-19.1h0m-3.1 34.4h0m8.8 0.4h0m12.1 1h0m-38.3-17.6h0m12.2 6.4h0m7.8 10.8h0m-30.5-17.1h0m14.1 20.1h0m12.2-11.7h0m-27.5-26.8h0m26.2 36.5h0m-4.1-40.7h0m20.1 22.3h0m-10.1-11.8h0m11 27.6h0m2.6 0.7h0m-24.9-0.2h0m13.5-10.2h0m11.7 8.8h0m-18.4 6.5h0m-33.4-28.5h0m44.6 7.6h0m-20.1 17.5h0m-20.2-4.8h0m5.6-17.4h0m20.7 16.9h0m-6.2-1.2h0m8.7 1.7h0m-10.6 5.2h0m14 1.2h0m3.3-0.8h0m-15 0.5h0m-10.7-10.1h0m20.7 10.2h0m12.1 1.1h0m-48.4-9.3h0m54.9-2.2h0m-16.3-4.2h0m5.3 6.4h0m-5.8 8.9h0m-13.8 0h0m-4.6-43.7h0m19.7 38.8h0m-37.1-13h0m-8.6-14.8h0m24 1.1h0m23.5 30.8h0m18.3-32.7h0m-34.9 32.4h0m0.6-6.2h0m-0.9-29.4h0m-3.4 31.3h0m6.9-6.2h0m24.4 0h0m-19.7 10.9h0m17.3 1.2h0m-14.1-16.3h0m27.3 6.6h0m-17.5-34.3h0m-2.7 33h0m-17-1.1h0m13.1-1.4h0m17.9 6.4h0m-11.9-14.8h0m0 15.5h0m-27.6-39.6h0m14.2 42.7h0m2.7-8.5h0m27.1 8.4h0m-4.1-6.1h0m-18.9 0.3h0m-46.8-0.7h0m54.1-0.4h0m-15.7-12.5h0m1.8 14.6h0m-2.1-20.2h0m20.1 12.2h0m-40.4-5.2h0m7.5 19.7h0m-10.4-14.9h0m17.7-8.1h0m-0.1-4.7h0m-4.4 24.3h0m18.9-0.4h0m19-12.4h0m-30.5 13.4h0m5.6 5.6h0m6.3-1.7h0m15.7-29.5h0m-11.8-1.7h0m-10.1 30h0m-24.2-2.1h0m41.8-0.6h0m3.2-5.1h0m2.5 8.4h0m1.2-10.7h0m-14.8 0.4h0m8.3 1h0m3.5 5h0m-11.5 5.4h0m-16.5-1.6h0m-0.4-6.3h0m13.3-14.4h0m-3.9-15.9h0m3.9 32.5h0m4.9-1.5h0m-19-27.4h0m43.8 14.6h0m-27 14.1h0m-3.2-4.6h0m-17.6 1.6h0m23.2-0.2h0m-14.6 4.3h0m-7-17.4h0m9.2 12.3h0m-5.6 0.4h0m1.4-33.2h0m-11.1 35.1h0m9.5-4.4h0m6.7-18.3h0m14.6 1.4h0m-20.1 19.9h0m19.2 6.6h0m18.1-4.2h0m-31.2-5.8h0m-12.4-14h0m6.6 9.8h0m1.4 6.7h0m24.8 4.1h0m-26.9-5.1h0m28.7 1.9h0m-15.3-42.8h0m13.3 50.8h0m-44.1-3.1h0m27 5.1h0m-0.6 0.8h0m8.1-37.1h0m-21.9 33.3h0m10.3-18.4h0m6.4 3.7h0m4-38.2h0m5.8 53.8h0m-30.7-8.2h0m26 9.7h0m-8.6 2.5h0m-18.2-10.7h0m5-2.3h0m-14.2-4.1h0m33.2-19.1h0m-5.6 21h0m-1 4.4h0m-41.1-15.8h0m33.6 22h0m-50.3-24.8h0m51.2-2.9h0m24.4 17.4h0m-0.9 6.1h0m-25.2 4.6h0m-15.2-18.8h0m15.1 13.3h0m-16.7-39.9h0m5.2 26.9h0m29.5 0.2h0m16.4 17.4h0m-30.9-34.3h0m15.9 28.6h0m-25.1 1h0m-3.2-8.1h0m-8.2 8.6h0m30-15h0m26.4 9.1h0m-26 5.3h0m8.9 6.8h0m-31.4-4.2h0m22.5-20.2h0m4.7 0.4h0m8.8 17h0m-29.8 6.5h0m2-33.3h0m51.6 26.9h0m-65.6 0.2h0m20.5-16.7h0m-17.3 9.5h0m29.9-4.7h0m-5-8.8h0m45.9 3.6h0m-53.1-6.5h0m-24.7-5.6h0m8.2 22.5h0m6.2 5.8h0m-4.4-36.3h0m-0.7 33.4h0m-14.2 4.5h0m29 4.3h0m21.2-3.1h0m12.8-29h0m-36 15.1h0m26.5 1.7h0m-32-12.5h0m22-1.9h0m-14.8 3.2h0m8.5-3.2h0m-10.5-26.5h0m2.2 11.3h0m26 36.2h0m-31.7-37.3h0m9.1 8.1h0m37.4 15.5h0m-52.5 13.1h0m9.9 8.4h0m-12.6-4.8h0m39.7-7.6h0m-25.8-21.6h0m-6.6 0.1h0m-2.7 36h0m6.9-21.7h0m-21.8 0.1h0m40.3 19.2h0m-16.3-27.8h0m13 24.2h0m-24.9 4.6h0m24.5 3.1h0m-22.3-9.4h0m19.5-12.9h0m-0.9-8.6h0m-18 24.7h0m55.7-17.6h0m-28.8 12.6h0m-3.6 11.9h0m-2.4-22.1h0m-10.1 18.8h0m2-15h0m8.8 0.8h0m2.1 15h0m-32.5-34.2h0m30.8 35.2h0m-16.4-16.8h0m14.6 15.3h0m-13.6-4.6h0m24.3 1.1h0m-16.8-15.3h0m3.3 3.2h0m-2.6 16.1h0m24.5-26.1h0m-45.2 20.1h0m56 0.4h0m-53.2-0.8h0m-7.7 0.2h0m31.4-9.2h0m7.3 10.3h0m-15.1-45.7h0m8.3 41.9h0m-8.6 8.8h0m8.5-7h0m-20.2-19h0m-21.7 11.6h0m39.1-30.4h0m-0.5 27.6h0m-44 2.1h0m43.9 10.6h0m6.9-8.4h0m-1.3-12.1h0m-3.5-11.4h0m-18 25.3h0m-18.3 6.5h0m33.3 4.3h0m-4-21.5h0m13.6-2.3h0m-31.7 14h0m14 8.3h0m-1.9-26.7h0m17.2 27.5h0m-3.1 1.7h0m-6.4-2.5h0m-9.2 2.4h0m7.6-2.5h0m54.1-13.9h0m-37.9-28h0m-9.3 45.6h0m-11.5-11.6h0m28.4 2.7h0m-27.6 8.9h0m-0.5-10.9h0m-14.1-39.4h0m34.7 27.5h0m4.7 17.8h0m-7.2-28.5h0m-46.7-0.6h0m48.6 19.2h0m-11.2-1.8h0m4.4 14h0m0.2 3h0m-21.6-11.6h0m20.3 2.6h0m19.3-9.1h0m-16.7-20.6h0m21 27.5h0m-43.4-36.2h0m23.9 23.7h0m-4.2-5.4h0m-10.1 20.1h0m3.9 10.3h0m-12.6-8.4h0m1.6 5.7h0m30.6-27.9h0m-46.1 21.7h0m-6.2-11.4h0m27.8 7.7h0m11.2-22.1h0m15.9 29h0m-32.3-42.4h0m16.2-1.6h0m-31.3 16.9h0m8.5 19.5h0m19.4 5.2h0m4.5 5.7h0m-2.8-55.9h0m-4.6 32.2h0m-8 0.1h0m7.6 0.3h0m-7.4 9.5h0m8.9 14.9h0m7.5-3.8h0m0.9-3.9h0m-16.5-6.4h0m6.6 11.7h0m9.6-9.4h0m-26.6-34.4h0m37.1 3h0m-14.4 40.2h0m-2.5-5.3h0m11.7-28.2h0m-0.9 29.9h0m2.3-12.4h0m-33.6 2h0m3.1-82.1h0m5.9 16.9h0m12.7 20.6h0m-5.9-15.6h0m8.7 18.5h0m11.4-39.9h0m-21.4 18.3h0m-4.4 27.8h0m22.4-44.3h0m-4.6 26.6h0m0.3 14.3h0m7.7-37.5h0m-32.2 9.2h0m19.4 21.8h0m8.5-12.5h0m-0.4 2.7h0m-9.5 10.6h0m10.3 4.3h0m3-4.2h0m-13.6 9.3h0m-18.3-34.6h0m10.9 32.9h0m7.8-8.4h0m-15.8 2.3h0m0.4-5.1h0m16.5-31h0m-5.7 32.9h0m-4.7 4.9h0m16-12.9h0m4.6 7.2h0m-19.7 8.4h0m20.4-29.4h0m-30.7 28.2h0m13-38.2h0m8.3 24.1h0m3 8.1h0m-16.9 5.8h0m1.2 0.9h0m4-11.8h0m10.1 13h0m-22.7-37.5h0m6.2 32.4h0m8.3 8h0m4.5-21.3h0m13.8-4.8h0m-1.2 10.4h0m-28.4 10.6h0m16.4-8.4h0m-0.4-12.3h0m2.3 16.7h0m-1.6-21.3h0m2.2 30.1h0m0.3-20.2h0m-14.3 7.4h0m24.7-1.3h0m-20.6 14.2h0m20.6-3.3h0m0-5.3h0m-5.3 7.5h0m-13.4-9.4h0"/>
<path stroke="#1f1fff" d="M98.5 128.4h0m-12.7-0.4h0m-20.7-56.5h0m27.1 66.2h0m-6-48.4h0m2.6 44.7h0m8.8-60.4h0m-22.7 61.7h0m15-4.3h0m8.3-36.5h0m6.1 45.8h0m-2.6-15.3h0m-13.6 14h0m-4.8-75.3h0m21.3 36.7h0m-18.6 37.8h0m4.1 1.6h0m-20.2 0.7h0m34.1-0.9h0m-3.6-1.6h0m0.4 0.9h0m-6-9.8h0m-11.6-7.4h0m-4.4 20.2h0m12.4-14.5h0m5.4 2.5h0m-44.1-5h0m21-2.8h0m31.2 17.3h0m-7.8 2.4h0m6.7-49.3h0m-14.4-0.3h0m3.7 28h0m-20.5 15h0m13.1-1h0m-42.5-28.6h0m41 20.7h0m5 5h0m14.6 10h0m-48.2-21.2h0m48.2 3.8h0m-0.3-0.2h0m-5.2 16.2h0m5.9-26.1h0m-2.1 27h0m-27.4-3.5h0m19.9-1.5h0m6.9 2h0m-3.5-3h0m-9.9 6.8h0m15.7-33.3h0m-6.4 25.2h0m4.1 6h0m-28.4-4.2h0m20.8-2.2h0m-10.9-12.7h0m2.6 19.4h0m-29.7-6.1h0m45.8 5.9h0m-2.2-21.1h0m4.8 23.3h0m-1-21.5h0m-2.8 13.9h0m-0.4-20.4h0m-0.2 28.1h0m-3.8-50.1h0m5.2 47.4h0m1.1-1.7h0m-10.7-3.7h0m4.3-3.5h0m-3.6-5.2h0m-2-38h0m8.2 39.8h0m2.5 1.6h0m1.8-6.1h0m-0.3 6h0m-3.9-4.8h0m-1.7-27h0m7.7 42.2h0m-17.3-1.2h0m6.3-32.5h0m-31.9 29.3h0m29-16.9h0m9 12.1h0m2.6 12.4h0"/>
<path stroke="#ff1f1f" d="M142.4 130.8h0m1.5-22.8h0m49.3 27h0m-43.4-24.1h0m-3.4 23.2h0m-1.4-17.1h0m5.3 24.4h0m-1.5-18.4h0m9.4 15.7h0m-10.8 2.6h0m40.1-4.9h0m-46-1.3h0m-0.4-5.8h0m18.6-6.9h0m-16.8 14.7h0m0.7 2.7h0m12.6-1.7h0m-11.4 2.4h0m-4-0.6h0m7-9h0m29.5 8.2h0m-25.1-4.9h0m-5.8 2.2h0m34.2-1.4h0m-11.5-6.4h0m-21-2.4h0m19.9 7.6h0m-23.5 5.7h0m-2.3 1.4h0m10.3-13.7h0m-11.5 14.6h0m15.9-5.5h0m-9.5-0.2h0m-5.6 4.6h0m10.9-1.5h0m-4.8-8.4h0m-5.3-36.6h0m12.3 45.1h0m17.7-0.2h0m-31.4-3.9h0m2.9 3.3h0m-0.6 1.8h0m7.6-6.7h0m6.8 6.7h0m-13.7-6.5h0m11.6 0h0"/>
</g>
<line x1="105.8" y1="20" x2="105.8" y2="205.2" stroke="#bdbdbd" stroke-width="2" stroke-dasharray="9.6 10"/>
<line x1="140.0" y1="20" x2="140.0" y2="205.2" stroke="#bdbdbd" stroke-width="2" stroke-dasharray="9.6 10"/>
<line x1="34" y1="142.9" x2="212.5" y2="142.9" stroke="#bdbdbd" stroke-width="2" stroke-dasharray="9.6 10"/>
<rect x="34" y="17" width="178.5" height="188.2" fill="none" stroke="#333" stroke-width="1.3"/>
<line x1="31.5" y1="197.2" x2="34" y2="197.2" stroke="#333" stroke-width="1"/>
<text x="29.7" y="200.8" font-size="10" fill="#4d4d4d" text-anchor="end">0</text>
<line x1="31.5" y1="155.5" x2="34" y2="155.5" stroke="#333" stroke-width="1"/>
<text x="29.7" y="159.1" font-size="10" fill="#4d4d4d" text-anchor="end">1</text>
<line x1="31.5" y1="113.8" x2="34" y2="113.8" stroke="#333" stroke-width="1"/>
<text x="29.7" y="117.4" font-size="10" fill="#4d4d4d" text-anchor="end">2</text>
<line x1="31.5" y1="72.1" x2="34" y2="72.1" stroke="#333" stroke-width="1"/>
<text x="29.7" y="75.7" font-size="10" fill="#4d4d4d" text-anchor="end">3</text>
<line x1="31.5" y1="30.4" x2="34" y2="30.4" stroke="#333" stroke-width="1"/>
<text x="29.7" y="34.0" font-size="10" fill="#4d4d4d" text-anchor="end">4</text>
<line x1="35.3" y1="205.2" x2="35.3" y2="207.7" stroke="#333" stroke-width="1"/>
<text x="35.3" y="216.4" font-size="10" fill="#4d4d4d" text-anchor="middle">−3</text>
<line x1="64.5" y1="205.2" x2="64.5" y2="207.7" stroke="#333" stroke-width="1"/>
<text x="64.5" y="216.4" font-size="10" fill="#4d4d4d" text-anchor="middle">−2</text>
<line x1="93.7" y1="205.2" x2="93.7" y2="207.7" stroke="#333" stroke-width="1"/>
<text x="93.7" y="216.4" font-size="10" fill="#4d4d4d" text-anchor="middle">−1</text>
<line x1="122.9" y1="205.2" x2="122.9" y2="207.7" stroke="#333" stroke-width="1"/>
<text x="122.9" y="216.4" font-size="10" fill="#4d4d4d" text-anchor="middle">0</text>
<line x1="152.1" y1="205.2" x2="152.1" y2="207.7" stroke="#333" stroke-width="1"/>
<text x="152.1" y="216.4" font-size="10" fill="#4d4d4d" text-anchor="middle">1</text>
<line x1="181.3" y1="205.2" x2="181.3" y2="207.7" stroke="#333" stroke-width="1"/>
<text x="181.3" y="216.4" font-size="10" fill="#4d4d4d" text-anchor="middle">2</text>
<line x1="210.5" y1="205.2" x2="210.5" y2="207.7" stroke="#333" stroke-width="1"/>
<text x="210.5" y="216.4" font-size="10" fill="#4d4d4d" text-anchor="middle">3</text>
<text x="123.9" y="227.2" font-size="10" fill="#1a1a1a" text-anchor="middle">log<tspan font-size="7" dy="2">2</tspan><tspan dy="-2">FC</tspan></text>
<text transform="translate(17.8,108.5) rotate(-90)" font-size="10.3" fill="#1a1a1a" text-anchor="middle">−log<tspan font-size="7.5" dy="1.5">10</tspan><tspan dy="-1.5">P-value</tspan></text>
<text x="42.3" y="47.0" font-size="11.5" fill="#1a1aff">85 proteins</text>
<text x="147.8" y="47.0" font-size="11.5" fill="#ff1a1a">46 proteins</text>
<clipPath id="cv1"><rect x="266.2" y="17.3" width="178.7" height="188.0"/></clipPath>
<g clip-path="url(#cv1)" fill="none" stroke-linecap="round" stroke-width="2.6">
<path stroke="#686868" d="M347.7 171.2h0m-1 2.2h0m-20.2 14.8h0m39.7-36.9h0m16.9 31.4h0m-22.4 7.7h0m4.7-25.8h0m-1.3-22.3h0m-11.1 30.9h0m16.7 13.6h0m-22.6-1.6h0m32.2-27.3h0m-15.3 22.3h0m26.1 3.2h0m-16.4-5.4h0m-22.4 10.1h0m24.6 4.7h0m-32.1-4.7h0m3.6-9.5h0m14.4-13.4h0m-8 12.3h0m0.1 7.3h0m-34.3 3.8h0m21.4 1.3h0m19.9-14.8h0m-12.5 19.4h0m8-11.4h0m16.8 4.1h0m-15.9-31.4h0m-3.9-0.2h0m-21.4 8h0m34.8 29.2h0m26.2-9.6h0m-41.5 10.3h0m-12.9-7.4h0m13.9-5.9h0m63.2-6.2h0m-52.9 12.2h0m4.1 6.1h0m-24.2-12.5h0m26.2 12.8h0m-9.4-5.2h0m6 4.4h0m-23-9.7h0m4.3 6.8h0m-6.6-14.3h0m13.1 10.4h0m-0.8-16.4h0m0.2-14h0m49.5 27.5h0m-53-0.4h0m34.8 8.2h0m-35.2 2.8h0m28.3-17.1h0m-24 20.7h0m9.6-10.1h0m42.5-3.1h0m-72.1-19.9h0m37.9-1.3h0m-12.6 3.3h0m-20.3 19.6h0m2.8-30.3h0m17.2 38.8h0m-13-40.4h0m-3.5 27.2h0m3.4 2.1h0m11.3 6h0m-28.7-8.6h0m39.7 14.2h0m-15.9-2.6h0m10.3-5.4h0m-16 0.8h0m10.8-2.1h0m1.5 11.5h0m-8.9-27.2h0m4.6 21.3h0m-3.6-4.6h0m8.4-11.3h0m1.1 20.8h0m-14.7-4.1h0m13.1-16.2h0m-22.5 15.4h0m6.7-35.8h0m8.3-10.5h0m16 51h0m-15.8-13.3h0m-18.5-9.5h0m20.8-30.6h0m0.9 38.5h0m-0.3-1.2h0m8.6 5.3h0m-9.2-22h0m-12.6 3.8h0m-12.4 11.4h0m32-2.9h0m-13.5 12.3h0m-16.1-17h0m18.2 24.7h0m-33.1-5.1h0m54.4-46.6h0m-1 23.3h0m-34.5 17h0m48.1 4.5h0m-12.7-43.4h0m-26.3 20h0m1.4 16.9h0m18.1 7.5h0m1.9 5.1h0m-11.5 0.8h0m-2.5-2.1h0m-2.2-50.3h0m22.8 51.9h0m-15.3-5.8h0m-10.2-37.5h0m10.9 21.5h0m-13.2 14.4h0m20.1-8.3h0m-23.9 1.5h0m23.8 12h0m-14.8 0.9h0m10.8-7.2h0m1 6.6h0m-32.1-16.1h0m-7.9 14.6h0m35.8-2.5h0m3.9 7.7h0m8.1-3.2h0m-0.6-8.2h0m-7.7 5.9h0m-23.4-26.5h0m9.4 20.9h0m4.9-10.8h0m1-18.4h0m-29.6 34.1h0m20.9-1.7h0m-6.7-23h0m24.3 6.5h0m6.7 9.6h0m-20.9 11.2h0m6.1-34.3h0m-13.1 36.1h0m29-0.2h0m-3.7-24.1h0m-5.4 18.7h0m-25.2-13.5h0m11.7 14.2h0m4.8-6.3h0m-11.2 2.1h0m19.6 3.1h0m-3 2.6h0m-8 3.5h0m10.4-23.5h0m4.1-9.1h0m17.4 14h0m-16.1 9.9h0m-25.1 8.3h0m5.1-4.6h0m23.8 0.4h0m-11.2 7.1h0m-18.9-26.6h0m7.4 0.8h0m18.5 2.6h0m-11.4 15.6h0m-4 6.3h0m-29.6-39h0m78.1 21.4h0m12.1 2.7h0m-36.6 0.8h0m-18.3 14.5h0m4.9-4.6h0m-9.1 3h0m23.6-40.3h0m-9.4 12h0m-7-18.5h0m6.1 45.2h0m-16.4 2.7h0m6.3-2.5h0m-38.1-8.5h0m33.7 10.3h0m-14.9-25h0m-21.2 13.9h0m49.2-13.7h0m-12.7-20.8h0m-12.4 39.7h0m25.8 0.9h0m18.1-19.9h0m-42.9 11.4h0m27.4 12.5h0m-6.5-22.7h0m-14.8 5.5h0m29.3-12.7h0m-22.9 19.2h0m-13.1-20h0m6 28.3h0m26-5.2h0m6.4-15.4h0m3.3 22.1h0m-33.6-16.6h0m35.3 9.4h0m-29 5.6h0m17.3-20.5h0m17.5 19.1h0m-32.6 6.7h0m3.2-31.5h0m4.5-3h0m-32.4 15.4h0m9.4 7.7h0m12.7 11.6h0m4.1 0.2h0m37.7-6.5h0m-28.7-20.3h0m-25 15.2h0m40.8-7.5h0m-8-10.2h0m2.4-23.7h0m-15.4 20.3h0m3.1 13.3h0m-4.8-25h0m44.3 1.8h0m-42.6 33.9h0m-0.4-4.3h0m-11.6-13.8h0m-5.2 13.3h0m22.1-3.2h0m2.7 7.6h0m-14.8 7.9h0m11.6-18.7h0m17 7.9h0m-10.3-18h0m4.2 26h0m23.6-12h0m-53-19h0m-2.4 8.4h0m9.2-7.1h0m-8.5 0.6h0m26.2 9.5h0m-31.5 17.6h0m19-7.8h0m-0.3-9.4h0m-4.6 7.3h0m4.6-7.8h0m18.6 15h0m-26.6-43.9h0m-4.5 28.5h0m17.8 2.8h0m5.8-11.7h0m-21.7 26.5h0m13-25h0m-0.2 9.4h0m-6.4-30.2h0m-6.1 46.2h0m15-12.9h0m37.4 4h0m-46.4-12.9h0m1.4 7.8h0m5.2 15.5h0m-65.9-9.3h0m59-5.3h0m-44 8.2h0m50.8-43.9h0m-6.1 43.2h0m29.1-17.4h0m-30.7 13.9h0m7.7 13.1h0m31.1-25.6h0m25.2 16.4h0m-28.3-34.5h0m-90.4 20.2h0m14.5 3.3h0m39.5 15.8h0m-1.8-13.5h0m20.1 5.2h0m-6.8-34.5h0m8.7 25.7h0m-0.5 15.6h0m-4.3-34.5h0m-9.3 29h0m10.8-14.5h0m-2.2-6.2h0m-19.5-5.6h0m31.2 32.7h0m-14.6-0.4h0m16.3-13.9h0m-13.3 3h0m-18.8 11.7h0m22.9-4.5h0m0 7.7h0m-4.3 0.8h0m-12-10.4h0m-40.7-1.7h0m41.7 4.2h0m-6.3-11.6h0m-7.9 5.6h0m-7.1 7.2h0m13.5-2.4h0m10.7 3.9h0m26.2-9.7h0m8.7 10.7h0m-16.6-0.7h0m-8.3-31.2h0m-12.4 35.7h0m2.8 1.8h0m-1.4-1.8h0m35.6-22.5h0m-25.5 5.9h0m-22.1-7.6h0m7.7-25.7h0m-2.4 38.8h0m11.2 10.9h0m9.4-3.5h0m26.5-7.6h0m-42.3 12h0m-36.9-11.5h0m59.7-16.9h0m-32.1 25.6h0m5.9-13.3h0m17.6 14.7h0m10-20.3h0m-25.6-19.1h0m-0.1 37.6h0m9-35.8h0m-9.7 38.9h0m-7.8-15.1h0m12.1 13.7h0m1.6-49.8h0m-15.2 40.9h0m25.6 3.9h0m-11.3-28h0m14.4 25.5h0m-7.7-25.2h0m3.3 13.3h0m49.7-5.7h0m-62.5 20.8h0m-7.2-30.1h0m-2.6 6h0m7.3 27.8h0m25.6-5h0m-46.5-8.8h0m22.3-4.7h0m11 15.3h0m-35.7-10.5h0m28.9-2.9h0m7.9 17.5h0m-7.4-25.6h0m-10.9 24.4h0m14.6-4.5h0m29.7-4.6h0m-20.7 4.8h0m6.6 0.5h0m-52.5 1.3h0m18.7 4.3h0m7.8-22.2h0m-2.7-8.6h0m16.2 30.8h0m-18.2-27.2h0m-0.8 1.4h0m25.1 22.7h0m4 2.6h0m-5.6-1.4h0m-21-7.8h0m12.2-5.5h0m0.3 17.7h0m-10.6-5.4h0m-2.9-3.4h0m6.4-20.4h0m-4.2 27.5h0m11-24.5h0m-12.7-6.5h0m6.6 23.9h0m3.6-19.8h0m20.2 14.5h0m-22.5 14.3h0m-2.6-2.1h0m0.7-23.1h0m4.9 24h0m-10.2-16h0m19.1 4.1h0m-13.6-6.8h0m17.1 18.1h0m-1.8-21.4h0m-4.5 16.9h0m-1.4-2.9h0m-22.1 0.8h0m21.1-33.5h0m6.6 29h0m-16.5 13.3h0m7.6-10.8h0m-6.6-18.8h0m19.2-27.1h0m-18.5 36.8h0m6.8 14.1h0m-12-2.5h0m-5.1 4.5h0m17-11.7h0m2.9 5.9h0m3.9-17h0m3.6 0.4h0m-10.3 12.1h0m-2.8-13.7h0m-16.6 11.3h0m8.3-19h0m13.9 33.1h0m-11.6-5.6h0m5.7-35.3h0m0.4 13.2h0m-0.5 26.8h0m-5.7-14.9h0m19.5-8.9h0m2.6 17.1h0m-1.8-2.8h0m-8.2 8.6h0m5.4-30.4h0m21.9 23.4h0m-26.9 6.6h0m-5 0.9h0m-1.8-1.5h0m-19.1-12.3h0m13.5 9.4h0m-9.8-38.8h0m9.2 30.4h0m-1.4-22.7h0m7.5 24.8h0m6.2 10.5h0m-11.4-28.2h0m26 24.4h0m-34.5 6.1h0m26.9-61.1h0m-10 46.5h0m13.6 7h0m-22.7 3.4h0m14.1-18.9h0m6.7 18.3h0m-19.8-11.7h0m15.2-13.1h0m-36.5 15.3h0m55.4 1.7h0m-8.7 7.4h0m-31.9-1.8h0m7.4-36.8h0m-23.1 31.3h0m1.9-9.1h0m16.6 16.2h0m23-52.4h0m-10.4 51.2h0m21.4-0.5h0m19.7-1.5h0m-60.7 6.3h0m11.2-27.4h0m14.7 28.1h0m-9-13.4h0m-44.9-2.4h0m18.8 1.6h0m-2.8-6.7h0m41.9 19.4h0m-4.1-6h0m-30.6 6.7h0m14.8-4.8h0m2 7.7h0m2.6-10.6h0m8.8-3.2h0m-26.3 2.2h0m24.2 7h0m7.8-32.8h0m-10.2 37h0m-7.1-4.5h0m25-2.5h0m-29.5-3.3h0m10.7-31.6h0m-3.8 40.1h0m26.7-22h0m-19.6 1.6h0m-25 14.4h0m29 7.2h0m1-42.7h0m-15.2 29.7h0m12 6.6h0m-5.3-15.3h0m-20.9 20h0m23.1-6.1h0m-1.3-24.8h0m7.7-2.8h0m-9.5 23h0m-32.1 8.1h0m26.6-33.6h0m16.3 3.3h0m-21.4 7.5h0m26.9 15.9h0m-30.9-3.6h0m46.3-5h0m-27.5-14.4h0m-17.4 31.6h0m15-9.2h0m1.9 10.5h0m-10-60.5h0m7.4 49.3h0m-14.2-4.9h0m22.1 14.6h0m-10.4-1.6h0m-11.6-6.6h0m7.3-20.1h0m-15.5 23.5h0m1 5.2h0m19.7-0.1h0m-7.1 3.8h0m10.2-9.4h0m14-14.2h0m-2.2-6h0m-5.6 24.6h0m-29.3-0.6h0m30.7-3.9h0m-38.2 1.9h0m31.2-5.5h0m2.4 9.9h0m-15.2-3.2h0m-41.6-27h0m46.4 24.8h0m10.6 0.6h0m-23.9-22.6h0m10.2 30h0m13.5-3.6h0m4.3-32.3h0m-6.1 8.7h0m7.2 25.4h0m-3.4-30.3h0m-33.7 26.6h0m47.4-9.4h0m-26.6-11.7h0m17.5 0.8h0m-13.1 22.4h0m9.4-15.2h0m10.2-19.3h0m-3.7 35.5h0m-10.8-9.2h0m3.1-38.2h0m-6 50.4h0m20.1-10.4h0m-23.5-3.5h0m-3.3-20.4h0m23.6 25h0m-3.1-35.6h0m-40.2 41.2h0m22.8-0.2h0m22.7-5.3h0m-1 1.6h0m-16 5h0m-17-11.8h0m25.4 9.2h0m-31.7-36.9h0m36.1 33.4h0m-2.9 1.8h0m-11.4-21.2h0m1.6-12.1h0m-7.6 40h0m7-1.7h0m-8.8-37.4h0m1.2 30.8h0m-3.7-22.4h0m-5.1 1.3h0m24.4 27h0m-9-4.5h0m-18 1.1h0m48.4-22.4h0m-14.9 21.3h0m-43.7-3.1h0m6.7-10.8h0m13.3 9h0m-10.3-14.6h0m3.2 16.6h0m6.1-20.1h0m-44.6 7.9h0m46.8 20.4h0m-10.5-6.7h0m13.4 0.4h0m-3.7-31.2h0m-0.3 36.6h0m-0.5-5.3h0m-6.6 6.6h0m9.2 1.4h0m11.6-1.9h0m-2.8-9.7h0m-4.8 7.6h0m31.5-43h0m-32-9.2h0m-0.8 52.8h0m-23-6.3h0m17.3 9.4h0m5-20.4h0m15.5 6.1h0m-10.2 10.4h0m-52.6-11.9h0m50.2 13.7h0m-34.8-18.9h0m42 17.5h0m-1.9 0.7h0m1.6 0.6h0m0.1-15.1h0m-26 14.5h0m12.2-17.1h0m7 11.2h0m-22.8 6.7h0m15.3-4.9h0m-15.1-4.3h0m16.4-6.1h0m3.6 6.6h0m11.7-3.2h0m-56.3 0.6h0m49.8 2.4h0m2.7-10.2h0m1.3-9.7h0m-18.7 30.9h0m4.9-7.7h0m-4.4-24.2h0m-26.4 7.4h0m35.8 17.8h0m-9.5-19.4h0m12.7 24.7h0m-10.2-9.2h0m-18.8 0.8h0m32.3 2.3h0m-7.2-24.6h0m24.5 27.6h0m-35 1.4h0m11-30.8h0m-6.6 24.3h0m45.8-8.1h0m-31.2-4.1h0m-13 4.9h0m0.6-6.7h0m30.9 11.5h0m-17.3-3.9h0m-13.1-24.7h0m-4 14h0m26.2-10.1h0m0.3 26.1h0m0.4-2.4h0m-18.7-2.9h0m-4.8 6.1h0m-10 0.7h0m16.7-18.1h0m-2.3-24.3h0m-8.3 51.3h0m32.8-33.9h0m-12.5 7.2h0m-7.3 20.9h0m1 6h0m3.8-38.8h0m-40.8 18.4h0m27.9 19h0m6.4-43.1h0m7.1 18.5h0m-6.5 17.7h0m-3.4 6.2h0m-4.4-38.1h0m-0.8 25.2h0m4.4 7h0m5.9-2.7h0m-28.3-2.9h0m7.9 12.8h0m-3.1-0.8h0m5.3-27.4h0m6.5 4.8h0m2.6 9h0m13.6-27.4h0m-27.6 6.1h0m-40.1 17.5h0m58.6 20h0m0.7-22.4h0m-10.9-8h0m0.6 21h0m18.6-14.3h0m0.6-21.4h0m-18.4 42.3h0m4.1-37.6h0m12.3 31.1h0m-4.4-7.1h0m0.8 11.1h0m6.7-8.9h0m-10.3-12.6h0m-13.8-3h0m12.8 3.8h0m-21.4-3.6h0m17.6 4.7h0m-17.4-0.1h0m15.6 15.6h0m1.3-2h0m8.3-38.2h0m19.3 29.7h0m-26.9 19h0m-8.3-1.3h0m11.3-18.3h0m4.4-14.1h0m7.4 10.3h0m-7.5-13.2h0m-7.3 13.1h0m-3.5 22.7h0m-6.5-2.1h0m4.6-11.4h0m19.3 2.6h0m-8.3 6h0m21.5-3.9h0m-59.5-1.7h0m62.2 2.1h0m-16.7-1h0m-13.7-25.7h0m17.2 27.8h0m-39.9-2.2h0m23.2-21.6h0m7.4 2.4h0m-1.8 22.1h0m-20.4-11.5h0m-2.6 13.2h0m20.4-16.5h0m-2.7 16.2h0m10.9-3.1h0m3-32.1h0m-14.4 19.3h0m-5.7 3h0m-15.2-5.7h0m8.3-20.5h0m-27.6 12.4h0m46.9 22h0m-6.4-15.2h0m-30.3 13.4h0m45.9-4.7h0m-33.2 0.9h0m16.1-11.6h0m0.8 24.7h0m15.4-44.6h0m3.7 45.3h0m-9.9-6.9h0m4.9 7.8h0m-10.4-7.9h0m20.1-12.1h0m-20.1 4.7h0m-1.7 17.1h0m11.5-12.7h0m-5.9-4h0m-1.1-16.8h0m-6.2 0h0m-5 17.5h0m12.5 1.8h0m-3.2 11.2h0m-14-36.4h0m28.3 23.2h0m-9.9-20.7h0m36.3 5.2h0m-39.1 19.4h0m-4.4 11.2h0m9.4-36.3h0m-14.8 5.6h0m-0.1 25.7h0m2.4-4.9h0m17.6-34.9h0m6 36.6h0m-29.2 8.3h0m7.7-3.3h0m-0.1 5.4h0m16.3-7.9h0m-16.1-12.3h0m14 14.1h0m7.8-7.8h0m-28-31.2h0m14.9 25.4h0m-28.9 15h0m37.9-5.8h0m-26.7-9.4h0m22.1 11.7h0m-16.9 0.6h0m-14.9-29.6h0m21.3 23h0m-8.4 9.2h0m-1.2-35.8h0m17.1 28.4h0m-3.5-27.4h0m5.6 14.4h0m1.3 18.6h0m-3.4-13.4h0m5.4 14.3h0m-25.2-1.7h0m15.9-1.3h0m2.9-27h0m-18 19.7h0m15.2 13.2h0m32-11.9h0m-33.8-34.6h0m-5 36.8h0m-1.7-1.6h0m41.4-5.6h0m-39.6 3.7h0m3.5 12.4h0m-0.3-7.5h0m-0.7 8.7h0m2.7 1.4h0m-11.7-2h0m17.3-3h0m-1.3-27.3h0m-9.7 21.3h0m-6.8-11.3h0m24-16.2h0m-19.6 37.8h0m26-17.3h0m-32-12.1h0m32.9 15.1h0m-13.2 14.4h0m-5.1-4.6h0m-15 3.3h0m4.4-37.3h0m15.7 33.5h0m11.9-16.7h0m-19.9 5.1h0m3.7 3.5h0m-26-2.7h0m16.4 12.9h0m-13.6-20.6h0m27.2 9.8h0m-11.5 0.1h0m-7.5 5.3h0m14.4-1h0m-11.2-45.8h0m3 53.7h0m2.2-4.5h0m-1.1-27h0m1.4 22.1h0m12.4 9h0m-16.7 0.7h0m3.4-13.8h0m6.3-10h0m22.1 21.4h0m-24.7-0.2h0m10.3-3.8h0m-17.8-7.8h0m23.2 11.7h0m2.2-1.2h0m-20.4 2.7h0m8.3-9h0m-22.2-8h0m21.5 13.2h0m-1.3-10.3h0m16.9-1.9h0m-18.4-4.5h0m-16.2 18.1h0m22.8-29.6h0m-6.6 22.7h0m-6.1-1.8h0m0.6 14.8h0m-14.8-42.9h0m29.4 30.6h0m19.8-20.8h0m-21.4 30.7h0m-5.6-36.2h0m7.7 35.1h0m2-6.8h0m-17-19.8h0m-0.1 14.4h0m-3.8-8.4h0m3.1 10.7h0m52.2 1.3h0m-86.2-7.4h0m33.2 19.3h0m0.3-1.4h0m7.5-26.8h0m-9.5-9h0m6.7 30.7h0m-19.6-14.7h0m19.3-2.7h0m2.1 22.6h0m6.3-9.8h0m-6.5-12.9h0m-23.4 10.6h0m8.5 1.1h0m18.8 7.6h0m-3.2-11.6h0m-5.7 4.5h0m-7.1-23.6h0m-5.3 30.6h0m36 0h0m13.2-6h0m-12.7 7h0m-20.2 1.4h0m-13.7-3h0m36-26.6h0m-34.6 30.8h0m15-17.1h0m6.3 14.2h0m-20.5-1.4h0m11.5-3.3h0m-13.1 7h0m18.2 0.4h0m-2.1-13.7h0m27.8-4h0m-32.1 17.8h0m-18.3-15.7h0m5.9 13.2h0m3.9-24h0m9.2 3h0m28.7 2.6h0m-37 0.2h0m12.1 7.2h0m-16.6-14.1h0m30.1-7h0m-8.3 17h0m-13.1-12.5h0m-3.5 11.5h0m7.1 3.5h0m-3.9 15.6h0m17.7-17.2h0m-3.1 6.9h0m52.7-1.4h0m-44.3-5.4h0m-18.8-5.3h0m-9.8 12.1h0m-3.6 6.2h0m21.8-19.3h0m-3.8 18.3h0m-1-7.7h0m-20.3-0.1h0m12.3 5.9h0m-0.8-6h0m9.3-17.3h0m-7.2 4.7h0m26.3 20.4h0m-39-3.7h0m15.3 9.1h0m-4.5-20.3h0m-3.7 9.7h0m14.9 0.3h0m-22.5-27.2h0m13.6 27.9h0m-28.3-3.6h0m14.5-3.6h0m9.5-2.1h0m2.1-6.8h0m2 17.7h0m7.6-21.7h0m-8.9-15.7h0m9.2 45.3h0m1.3-2.1h0m0.7-16.7h0m-15.7 5.2h0m-2.4-15.8h0m17.3 29.2h0m8.5-23.4h0m-18.4 21.4h0m21.4-5.2h0m-20.6-6.2h0m13.4 11.3h0m20.4-2.7h0m-33.6-2.7h0m7.5-13.8h0m-4.4-5.6h0m-6.7-8.9h0m-7 24.9h0m28.9-24.5h0m-20.4 8.7h0m-8.4 20.2h0m14.5 5.1h0m17.6-9.1h0m-25.5 10.5h0m-21-6.8h0m-7.7-13.1h0m18.4-0.1h0m16.8-8.1h0m-12.9 23.7h0m44.4-12.5h0m-39 15.1h0m4.6-9.7h0m7 9.7h0m-9.4-3.2h0m9.8-4.7h0m13.5 2.2h0m-18.3 3.4h0m7.9-52.2h0m11.5 50.3h0m-24.1-33.8h0m-9.7 27.8h0m17.9-0.4h0m-10.3 8.1h0m12.1-23.1h0m-5.1 22.4h0m-2.1 2.3h0m9.1-16.7h0m-12.5 10.3h0m11.4-6.8h0m-32 7.9h0m-5 2h0m37-6h0m-2.6 11.3h0m-29.8-12h0m19.7-18.1h0m4.5 26.8h0m9.8-10.5h0m-11.7-16.4h0m-27.3 7.3h0m11.6 12.8h0m29.2-9.6h0m-14.1-14.6h0m9.6-17.4h0m0.2 35.4h0m47 3.1h0m-56.6-4.6h0m7.5 3.1h0m37.5 5.4h0m-36.5 2.5h0m0.3 7.9h0m-11.7-3.2h0m5.3 3.2h0m3.5-11.6h0m-3.5 8h0m13.1 2.6h0m-18.1-12.7h0m28.5 5.4h0m-19.1-18h0m7.2-23.1h0m3.7 35.4h0m-25.9-37h0m4.8 17.2h0m13.6-21.1h0m-21.1 47.9h0m10.6-47.7h0m30.4 49.5h0m-12.9-6.8h0m1.4-6.3h0m1.8-18.8h0m-12.5 20.4h0m-19-9.8h0m26.9 22.8h0m-26.3-9.9h0m20.4 12.5h0m46.5-7.6h0m-44.3 8.2h0m-6.6-22.5h0m2.5 10.7h0m-17.3 5.2h0m32.4-35.8h0m-11.5 27.1h0m49.3-14.3h0m-52.9 27.8h0m-9.1 1.4h0m29.4-3.8h0m-32.1-9.8h0m2.1-16.1h0m1.3 9.9h0m5 20.6h0m-6.3-30.1h0m6.9 27.3h0m4.9 0.8h0m-10.5-19.5h0m6.8 12.4h0m-5.2-1.9h0m-1.3 10.5h0m-12-31.8h0m6.5 14.1h0m7.2 12.1h0m-0.6-28.3h0m-11 8.6h0m5 20.9h0m23.9-4.6h0m-6.3-1.3h0m-16.9 8.2h0m34.8-27h0m-16.7 27.5h0m-4-18.4h0m3.3 18.5h0m-22.9-4.8h0m1.2 0.1h0m10.6-1h0m-9.4 2.5h0m12.8-15.2h0m-0.3 15.8h0m1-33.9h0m-4.1 32h0m-5.6 6.2h0m56.1-8h0m-28.5-20h0m5 23h0m-36.9-4.8h0m18.1-5h0m-53.4-9.7h0m65 8.2h0m-31.2 1.1h0m10.3 15.6h0m11.3-5.4h0m-18.5-28.6h0m-38.5 22h0m92.1-4.2h0m-17.7 12.5h0m-24.8-18.3h0m4.3 16.7h0m-8-5.9h0m-5.9-16.4h0m18.5-12.1h0m-17.4 37.8h0m10.1-22.7h0m21.8 7.6h0m-26.4-4.5h0m-5 10.8h0m-4.8-21.8h0m10.3 29h0m-0.5-5.2h0m0.2 1.7h0m19 4.6h0m-37.7-32.6h0m17.9 22.3h0m30.1-25.2h0m-44.6 14h0m-16.1 6.6h0m35 13.1h0m-25-29.8h0m42.7 27.8h0m-18.2 1.3h0m-9.8-8.9h0m18.7 10.6h0m-6.6-12h0m-13.2 14.5h0m39.9-4.3h0m-11-13.4h0m-13.9 17.8h0m-22.8-6h0m15.6-4h0m6.1 2h0m-1 5.1h0m-22.7 0.6h0m-7.7-2.5h0m42.2 3h0m-14.3-13.2h0m-7.7-20.8h0m-5.4 17.8h0m24-25.3h0m-22.9 32.1h0m-14.9-30.6h0m23.8 21.6h0m-13.7-2.5h0m20.9 21.9h0m8.2-13.8h0m-20.5-24.7h0m8.9 35.7h0m1.3 3.7h0m-38.8-10.9h0m43.2 8.2h0m-6.2-24h0m-11.4 23.1h0m10.8 1.6h0m5.9-4.4h0m-21.6-41.6h0m12.6 31.1h0m-12.1-21.9h0m7.4 34.8h0m4.6-43.6h0m-5.7 33h0m-5.2 8.6h0m16 3.7h0m-21.7-15h0m26.6-27.9h0m12 41h0m-13.2-17.5h0m-28.8 6.4h0m24-5.1h0m5.9 19.7h0m-0.6-4.6h0m7.1-1.6h0m-16.8-2.2h0m4.7-25.6h0m9.8 6.8h0m-31.4 25.2h0m21.6-36.1h0m-26.6 28.6h0m46.6-10.2h0m-32.4 14.6h0m-3.4-30.4h0m16.1-3.6h0m0.7 29.9h0m-5.3-13.6h0m-9.1 18.9h0m4 5h0m5.1-35.1h0m6.2 10.3h0m-20.9-9h0m14.4 17.5h0m11.3-10.6h0m-43.1 12.9h0m5.3-7.9h0m31.9 10.8h0m10.6 7.3h0m-6.7 1.2h0m-16.4-29.6h0m12.1 8.5h0m3.9 13.6h0m-1-3.3h0m9.3 6.5h0m-22.5 2.6h0m12.3-10.5h0m-13.1-23.8h0m-0.5 31.7h0m18.4-43.7h0m0.3 40h0m-8-3.5h0m5.8 13.9h0m-5.5-24h0m0.9-6.3h0m-11.8 9.5h0m-5.9 17.2h0m6.6-3h0m10.5-29.8h0m-0.6 36.8h0m-9.3-10.6h0m-1.5-6h0m12.5-30.1h0m-6.9 19.8h0m-18.5 21h0m45.8 1.5h0m-10.6-8.3h0m0.2 7.2h0m-33.6-33.5h0m8.4 14.5h0m27.7 13.9h0m5.7 0.8h0m-17 0.9h0m16.8-37.8h0m-20.8 46.5h0m-6.7-25.2h0m7.4 19.6h0m-20.2 0.8h0m25.1-32h0m-53.4 15.2h0m64.3 11h0m-20 11.3h0m12.7-7.4h0m-22.5-9.7h0m29.2 8.1h0m-26.8-4.4h0m30.8-30.2h0m-14.7 15.3h0m-4 20.3h0m-47-6.8h0m66.6-3.5h0m-24.1-6.2h0m10.5-28.9h0m0.9 47.2h0m-13.2-23.5h0m11.2 23h0m3.8 4.4h0m-6.8-1.2h0m7-7.4h0m-6.4-42.8h0m-11.3 46.7h0m35.3 2.2h0m-24.6-17h0m60.6 7.5h0m-62.8 3.5h0m-15.7 4.4h0m24.6-0.6h0m-20.1-16.1h0m8.6 10.3h0m-6-31h0m3.8 4.8h0m24.7 12.8h0m-18.9 20.3h0m-4.7-10.5h0m24.9 10.3h0m-12.2-2.7h0m-49 0.8h0m49.4-8.4h0m10.2-28.1h0m-46.9 27.3h0m41.4 2.8h0m-32.7-28.4h0m10.9 7.4h0m-18.4 31.2h0m23.2 1.2h0m14.9-17.5h0m1.1-5.7h0m-16 15.7h0m23.8 6.5h0m-29.5-2.7h0m16.6 4.9h0m-25.3-1.1h0m12-6.6h0m27.8 1.4h0m-27.5 1.1h0m5.1-16.3h0m15.2 19.8h0m-18.4-38.2h0m-0.2 8.4h0m-27.6 19.8h0m37.1 10.8h0m-1.3-16.1h0m-0.2 9h0m-50.5 2h0m88.8-2.9h0m-42.5 3.9h0m-4.1-33.7h0m19.3 37.2h0m-65.6-10.9h0m56.9 11.5h0m-7.1-9.9h0m-8.8-39.9h0m4.6 23.8h0m1.1-16.3h0m4.7 40h0m0.7 2.6h0m-8.7-12.4h0m-4.2 10.5h0m-25.4-29.5h0m28.8 18.3h0m15.1-1.4h0m12.1 0.6h0m-15.5-16.6h0m-7.7-7.7h0m-12.2 30.8h0m1.2-5.4h0m47.2 9.5h0m-30.6-2.6h0m-15.2-22.3h0m5.2-11.2h0m1.9 34.7h0m2.6 3.9h0m-0.9-33.2h0m-21.4 20.6h0m48.2 11.3h0m3.7-1.8h0m-22.5-33.9h0m-6.7 27.7h0m-15 7.7h0m2.5-6.2h0m15.6-7.9h0m12-6.2h0m-11.8 5.5h0m-4.3 19.4h0m-24.4-7.7h0m42.6 5.7h0m-18.2 1.9h0m15.3-17.5h0m-17.3 16.5h0m-0.4-10h0m-2.6 6.8h0m27.4-27.9h0m-31.1 28.6h0m18.4-13.8h0m-16.6 15.5h0m13.9-19.8h0m-18.1 3.1h0m15.1 6.8h0m-26.2 5.9h0m47.3-3.1h0m-34.8-17h0m0.6 12h0m-16.3 6.8h0m39.5 3.8h0m-31.1-4.7h0m12.9-12.7h0m12.9 19h0m-13.9-16.2h0m30.2 8.9h0m-28.4 5h0m11-2.9h0m3.6-47.7h0m-7 27h0m11.3 21.6h0m-20.7-2.2h0m0.7 4.9h0m26-5.7h0m-12.6 1.9h0m10.3 2.7h0m-13.9 3.5h0m-0.2-21.6h0m14.7 16.9h0m-15.3 5.6h0m16.8-41.5h0m-17.6 27.2h0m24.3-0.6h0m32.9-5.4h0m-59.7 16.6h0m-4.9-20.1h0m-7.1 8.2h0m14.8-19.2h0m-6.4 34.2h0m26.6-15.4h0m-10.9-34.1h0m22.9 43.1h0m-44-3.6h0m-4.1-16.2h0m21.6-17.4h0m-5.2-19.4h0m12.3 59.3h0m-18.6-34.2h0m-2.4 10.5h0m-4 16.3h0m12.8-37.6h0m-1.3 44.1h0m11.3-4.1h0m-10.6 2h0m-3.1-10.8h0m0-4.3h0m-2.3 17.9h0m-9.5 2.7h0m17.1-7.4h0m-15.7 6.4h0m-2.5-32.7h0m32.7 28.1h0m-24.4-19.3h0m28.6 0.1h0m-28 25.4h0m15.7-34.4h0m-20.8 7.5h0m18.7 8.1h0m30.3-1.6h0m-50.1 16.7h0m-2.5-42.8h0m16.7 0.1h0m8.7 18.7h0m-5.6 26.5h0m-20.3-2.8h0m80.1-7.8h0m-83.2-1.7h0m19.9 6.5h0m-4.6-14.6h0m-12.2-16.1h0m25 15.9h0m-3.5 16.8h0m-0.2-3.8h0m9.6 2.4h0m-31.1-2.8h0m36.1-2.3h0m-30.6 1.1h0m10.4 7.8h0m32.1-8.3h0m-65.3-0.2h0m17.6-9h0m16.4-6.2h0m-8.2 22.7h0m9.1-3.1h0m-53-5.3h0m61.7-9h0m-2 16.9h0m-6.6-26.8h0m-10.8 26.4h0m13.2-37.3h0m-8 4.3h0m1.1 3.7h0m12.1 30.2h0m-7.9-16.4h0m-1.2 10.9h0m0-0.4h0m-11.3 2.8h0m39.9-8h0m-23-21.1h0m-12.7-9.8h0m29.2 38.9h0m-24.9-14.3h0m-3.9-12.7h0m31.6 8.2h0m-16-12.4h0m-25.5 32.4h0m17.3-20.8h0m-42.8 11.2h0m58.5-2.2h0m-40.7 5.2h0m27.3 12.1h0m5.5-12.8h0m-17.2-23.1h0m19.6 29h0m-18.3-13.7h0m-4.7-3.7h0m1.7 21.2h0m-0.2-23.2h0m34 1.5h0m-26.8 11.6h0m-2.2 9.9h0m-1.6-0.3h0m-2.9-13h0m23.4-23.8h0m-13 42.2h0m2.2-15.4h0m-24-0.7h0m5.4 7.2h0m11.5-4.3h0m-0.4-20.5h0m2.2 27.6h0m18.1-28.1h0m-11.2 13.8h0m-25.6 8.8h0m30.7 6.1h0m-26.2-17.1h0m9.1-32.1h0m-2.8 34h0m-2.2-14.1h0m6.3 5.8h0m-25.7 16.2h0m63.1-1.4h0m-18.4 2.9h0m-6.6-5.5h0m-2.3 6.8h0m-16.4-5.9h0m-16.9-6.7h0m22.1-23.8h0m8.7 43.8h0m7.3-16.9h0m-12.8 16.2h0m9.2 0.4h0m2.9-15.1h0m-36.7 5.6h0m29.8 0.4h0m-9.4 7.1h0m-39.6-3.5h0m27.6 2.6h0m-16.3-27h0m31.2 3.7h0m21.7 19.9h0m-23.9-17.9h0m13.3 13.4h0m14.4-26.9h0m-31.8 25.6h0m13.4-19h0m-13.9 30.6h0m38.2-40.8h0m-20.2 42.1h0m-4.3-23.2h0m-5.6 16.3h0m0.2 2.1h0m6.9-5.6h0m10.8 6.5h0m-40.5-4.9h0m-5.8-2h0m55.4-4.6h0m-3.2 3.8h0m-19.3 9h0m34.9-20h0m-4.3 11.8h0m-18.7-26.5h0m18.8 31.2h0m-22.7-2.2h0m0.5-25.7h0m-11.3 9h0m23.1 3.3h0m-23.6-23.8h0m3.4 34.5h0m-3.7 1.1h0m11-0.1h0m-15.5-5.4h0m-0.9-13.4h0m4.7 25.2h0m1.1-9.3h0m36.5 3.8h0m-49.1-0.1h0m10-0.4h0m20.6 7.5h0m-50-3.4h0m26.4-12.4h0m9.6 10.1h0m1.6-28.4h0m-9.7 15.4h0m47.7-0.5h0m-38.8 5.4h0m-3.7 16.7h0m22-12.5h0m-12.8 9.5h0m9-13.7h0m-13.7-2.1h0m24.1 14.6h0m-35.9-16.6h0m6.6-5.3h0m-9.7 20.2h0m-3.5-10.4h0m38 9.1h0m-24.6 1.8h0m-10.5 3.1h0m16.5-30.9h0m-2.3 32.2h0m24.9-32.9h0m-25.8 19.9h0m23.6 9.9h0m-10.3-17.3h0m-25.1 11.1h0m-4.9-9.6h0m13.2-18.9h0m4.7 27.6h0m-5.3-38.7h0m5.2-4.6h0m-10.6 39.8h0m22.8-6.8h0m-6.1 18h0m-34.5-13.1h0m14.4-3.6h0m6-4.1h0m19.6 21.2h0m-27.9-2h0m42.6-8.9h0m-30.7-22.1h0m-0.6 26.1h0m21.3-43.5h0m-28.7 14.8h0m-23.6 16.4h0m49.2-29.4h0m2.9 38.7h0m-19.7 10.4h0m4.8-22.9h0m-4.6 23.9h0m3.3-32.9h0m19.9 16.3h0m-21.1 1.2h0m-6.2 13.1h0m10.9-6.4h0m-17.4-0.7h0m0.9-36.1h0m7.7 16.7h0m-10.5 4.9h0m-6.3 17h0m12.9 6.2h0m3.1 1.8h0m13-2.7h0m3.1-1.1h0m-32.1-0.9h0m21.9-1.6h0m5.7-47.2h0m-4.3 14.2h0m-6.5-9.7h0m1 44.4h0m9.9-1.6h0m12.3-29.9h0m-26.9 13.2h0m-12.2-14.3h0m0.2 32.9h0m27.1 0.2h0m-2.5-1.7h0m13-4.8h0m-25.3-1.3h0m-6.6-3.2h0m-0.2-22.2h0m-1.8 24.2h0m8.2 3.8h0m19.4 0.9h0m-10.1-35.8h0m13.8 41.8h0m-20.2-2.9h0m12.1-1.7h0m-3-17.4h0m12.6 10.4h0m-15.2 7h0m-8.4-21.7h0m41.1 16.7h0m-49.2 1.9h0m12 7.5h0m-11.8-9h0m33 3.2h0m-45.2 4.9h0m24.3-2.5h0m-1-42.5h0m-2.1 32.6h0m19.1 0.2h0m3.1 5.5h0m-12.4-4.7h0m-14.9-0.6h0m-1.4-34.7h0m-4.4 46.1h0m5-8.3h0m1.8 11.8h0m14.5-0.1h0m3.9 0.4h0m-25.6-8.4h0m11.2-42.6h0m15.4 34.9h0m-6.5 5.2h0m-8.9-13.8h0m0 20.7h0m1 1.2h0m-14.5-29.5h0m16 28.5h0m8.1-2.1h0m-19.4-30.6h0m20.8 5.9h0m-5.6 5.7h0m-6.6 18.5h0m-2 4.9h0m-7-2.1h0m21.4-26.7h0m24.7 6.3h0m-49.4 14.7h0m12.9-15.6h0m30.6 3.2h0m-31.4 13.9h0m8.4 1.4h0m-14.2 1.6h0m12.4-3.9h0m2.5-16.8h0m-0.7 5.4h0m-11.7 20.8h0m17.2-25.2h0m-7 24h0m-16.3-28.8h0m-5.9 23.3h0m12.2 0.4h0m23.4 5.2h0m-30.6-7.3h0m64.4-0.2h0m-0.7-0.9h0m-62.5-10h0m15.2 10.2h0m-13.4-33.2h0m-5.5 12.3h0m28.1 27.8h0m-21.2-27h0m-35.3 2.3h0m39.3-2.8h0m21.3 25.3h0m-7-29.4h0m-3.8 25.7h0m14.2-26.4h0m2 29.8h0m-17.5-28.8h0m0.1 26.2h0m-45.9 0.6h0m83.1-5.8h0m-33.7 3h0m-24.6 2.6h0m32.7-9.6h0m21.5-28.9h0m-29.5 40.2h0m5.3 2.7h0m-9.7-21.2h0m-12.3 9.6h0m4.4 11.6h0m3.2-20.2h0m-34.2-2.9h0m40.4 6.9h0m-0.7 18.4h0m2.1-6.6h0m-17.6-0.9h0m20.7 3.4h0m-1 2.5h0m-2.9-8.9h0m24.2 7.1h0m-13.9-23.1h0m-36.5-6.9h0m29.2 24.9h0m-51.6-2.7h0m58.8 7.7h0m-41.5 0.5h0m25.4 3.5h0m5.9-12.8h0m45.2-7.2h0m-51 9.8h0m10-3.4h0m-6 8.7h0m15-48.6h0m-36.2 28.8h0m25.3-10.4h0m-13.1-7.1h0m-49.8 13.2h0m33.6 11.6h0m15.6-21.4h0m1.4 31.6h0m18.1-0.9h0m11.1 5.6h0m-25.9-2.5h0m9.5-31.7h0m-15.3 35.4h0m28.1-34.8h0m-26.8 7.8h0m60.7 6.2h0m-25 14.6h0m-34.5-5.7h0m-3.1-5.3h0m7.6 19.2h0m18.4-29.2h0m-3.5 21h0m-35.2-16.9h0m19.4 6.5h0m32.4 0.9h0m-26 15.4h0m-14.2-29.9h0m-7.7 27.6h0m22.1-32h0m-7.2 16.2h0m-12.9 3.1h0m6.5 15.9h0m-4.9-18.2h0m0-2.1h0m11.2-4.4h0m4.4 18.7h0m8.2 0.8h0m-19.4-9.7h0m-4.9 6.4h0m3.8-8.8h0m4.6 6.2h0m18.7-9.2h0m5.1-17.1h0m-10.6 3.9h0m4.5-9.4h0m-13.4 34.6h0m9.7 9.1h0m5.7-37.8h0m-16.6 36.4h0m-10.5-6.9h0m27.7-15.7h0m-7.5-10.4h0m-0.9 4.3h0m-18.9 28.8h0m23-8.7h0m-13.3 10.8h0m21.2-27.1h0m-15.6-9.1h0m-22.3 22.3h0m18.1-30.7h0m25.2 27.4h0m4.8 0.9h0m-31.2 15.6h0m7.3-5.5h0m-16.4-55.2h0m17.7 50.3h0m-19.4-0.8h0m6.4 0.7h0m53.5 1.5h0m-41.5-18.9h0m3.1 16.6h0m-4.4 9.8h0m12.8-6.3h0m-25.9-10.9h0m14.7-31.1h0m-1.7 50.2h0m18.1-39.5h0m-15.6-20.3h0m-38.2 50.6h0m35.7-0.8h0m7.5-5.3h0m-2.6 7.3h0m27.6-23.5h0m-39.4 13.9h0m28.7-9.2h0m-47.8-10.2h0m26.4 30.7h0m-12.6-12.1h0m3.6 1.2h0m-11.2 5.2h0m2.8 2.7h0m35.1 2.1h0m-12.3 0.1h0m-52.7-22.6h0m46.9-16.4h0m-58.5 27.8h0m52.9-10.8h0m-6.1 11.7h0m5.5 15.5h0m-2.2-51.1h0m23.5 32.5h0m-21.6-7.6h0m5.9 16.1h0m-7 0.4h0m14.5-14.1h0m-28.4 22.3h0m10.9-7.4h0m14-26.7h0m9.8 31.5h0m2.1-3.5h0m1.5-10.4h0m-17.5 15.9h0m-17.9-2.8h0m20.6-12.7h0m2.7 17.6h0m-31.9-9.4h0m22.4-40.2h0m-18.1 17.9h0m22.2 26.2h0m-9-32.6h0m14.2 25.7h0m-13 1.4h0m-12.7 10.5h0m32.1 0h0m-33.3-0.2h0m10.9-17.1h0m2.3-3.3h0m15.1-13.6h0m-30.1 33.8h0m20.8-0.9h0m2.9-32.6h0m-30.4 28.8h0m41.1-17.8h0m-10.2 7.6h0m6 12.7h0m-13.4 1.2h0m19.3-9.3h0m-23.9 9.8h0m17.8-11.1h0m7.3-3h0m1.8 6.5h0m29-8.3h0m-43.2-4.5h0m25.7 14.2h0m-9.2-0.1h0m-9.9-24.8h0m-19 23.5h0m10.7-0.3h0m19.3-2.3h0m-13.4 2.6h0m-5.5 4.9h0m-15-10h0m3.7 3.5h0m8.9 11.7h0m13.1-5.8h0m-15.6-45.6h0m4.3 50.7h0m5.7-38.2h0m2.9-9.5h0m-0.3 44.9h0m-3.3-16.1h0m-16.3 5h0m31.1 3h0m-15.3-0.1h0m21.3 2.9h0m-74.9-13.4h0m46.6 19.7h0m11.6-17.9h0m3.8-19.1h0m19.7 30.5h0m-48.7 7.3h0m36.5-3.4h0m-38.8-42.8h0m37.4 32.1h0m-17.5 9.2h0m17.8-5.1h0m-44.5 5.7h0m21.2 7.3h0m1.4-7.9h0m28.4 1.3h0m-29.2-12h0m-14.5 4.4h0m11 11.8h0m-0.2-26.1h0m29 14.6h0m-26.8 5.3h0m1.1-13h0m14.4 14.7h0m-22.1 0.5h0m18-3.6h0m7-20.7h0m-37.3 1.7h0m37 16h0m59.4-27.1h0m-76.1 34.1h0m17.6-1.8h0m-31-38.8h0m17.5 38.8h0m-19.7-1.7h0m-1.1-0.9h0m6.7 4.6h0m33-4.3h0m-46.3-27.6h0m44 11.4h0m-22.5 19.1h0m-8.5 1.3h0m11-21h0m4.1 12.2h0m6.9-25.4h0m-18.3 33h0m5.3 3.5h0m-6.8-55.3h0m11 56h0m18.5-22.7h0m-4.8 4.9h0m-12.4 4.5h0m15.5 11.7h0m-22.5-14.4h0m3.9 15.3h0m3.1 3.8h0m17.6-9.9h0m39.6-7.6h0m-73.2 8.3h0m17.5-1.6h0m17.8-10.1h0m-9.7 0h0m-7.4-11.1h0m-10.1 25h0m8.1-24.2h0m-4.5 0.9h0m-6.9-14.8h0m15.2 24.7h0m-16.5 3.4h0m2.9 14.8h0m2.1-42.5h0m-14.6 36.2h0m26.5-19h0m-7 24.6h0m-11.1-16.1h0m9 10.4h0m12.1-0.7h0m25.5-1.1h0m-26.1 6.6h0m-36.7-11.6h0m57-1h0m-30.4-2h0m8.7 1.5h0m-17.4 13.6h0m29.4-23.2h0m-17.8 17.6h0m14.4-12.9h0m-60 10.5h0m50.3-8.5h0m3.6-10.9h0m-11.3 15.1h0m13.7 2.6h0m-20.4-19.7h0m17.7-17.6h0m-12.8 28.4h0m6.5-27.6h0m4.1 44.3h0m-17.7-16.1h0m16.2 13.6h0m-25 2.1h0m30.5-7.2h0m-16.2 10.2h0m-2.6-10.6h0m-4.8-39.1h0m5.8 39.1h0m5.1-4.3h0m17.5-3.9h0m-45.6 2.6h0m35.1 15.6h0m16.4-5h0m-15.8 2.6h0m-7.9-25.4h0m-1.8 25.2h0m2.1 0.9h0m-6.1-23.8h0m-7.6 25.5h0m12.7-14.3h0m0.1 14.8h0m5.3-10.5h0m-15.8-2.6h0m-1.5 6.3h0m24.6 3.1h0m14.7-22h0m-9.4 19.3h0m-2.3-31.1h0m2.2 10.4h0m-12.3 11.4h0m-4.6 15.3h0m21-12.8h0m-16.6-15h0m14.4 19.5h0m8.5-16.2h0m-21.3-5.2h0m-1.2 13.7h0m-16.2-9.5h0m-0.2 0h0m26.5 25.1h0m-17-46.1h0m8.2 37.1h0m-1.8 1.1h0m-35-5.9h0m39.1 15.9h0m-5.6-2.7h0m17.3-49.5h0m-7.5 6.7h0m-9.7 31h0m3.3 4.2h0m-3.8 1h0m-15-13.3h0m4.3 22.4h0m22-3.1h0m-10.7-5.2h0m-17.9 6.5h0m-14.7-24.5h0m43.8 23.9h0m8.9-15.3h0m-23.9 18h0m0-24.9h0m3.9-13.1h0m6.3 9.5h0m-20.3 22.1h0m18.1 1h0m8.6 1.8h0m-24.6-23.2h0m12.1-0.2h0m16.4 24.3h0m-10.6-23.4h0m-41.8-21h0m30.5 44h0m0.9-26.8h0m0.5 22.8h0m3.9-14.6h0m-35.6 10.1h0m25.6-5.1h0m29.6 11h0m-41.2-21.9h0m21.9 9.8h0m-4.3-36.4h0m8.7 27.2h0m16.5-2.2h0m-18.3 3.7h0m-14.1-4.3h0m-14.1 5.9h0m20.8 18h0m-1-42.1h0m2.2 45.9h0m3.4-33.9h0m10.3 30.9h0m-13.5 0.6h0m-12-8.9h0m14.9 0.1h0m-23.7 9.9h0m27.3-4h0m-18.9-19.8h0m24.2-5.6h0m-19.7 31.6h0m2.9-7.2h0m36.1 1.2h0m-9.7 0.9h0m-9.1-53.4h0m-3.1 57.6h0m-8.9-3.6h0m-1.5-6.2h0m17.9-1.3h0m-1.3 0.1h0m-14.7 12.1h0m2.4-20.9h0m-16.2-27.7h0m8.4 18.5h0m7 26.4h0m-22.8-14.5h0m39.4 1h0m-22.4 17.8h0m10.5-11h0m-12.9-36.9h0m3.4 30.5h0m2.4 4.6h0m1.5 14.6h0m6.6-38.9h0m-12.4 32.2h0m16 0.5h0m-20.1-32.2h0m-11 34.1h0m17-19.8h0m22.2-27.2h0m-13.6 49.6h0m-4.2 1.4h0m7.3-13h0m4-15.2h0m-20.4 26.2h0m23.5-13.1h0m1.3 12.4h0m17.7-12.3h0m-31.5 10.5h0m-10.2-11.3h0m-15.8-4.9h0m31.4 10.2h0m-13.2-6.5h0m15.4 7.9h0m-1.9-19.9h0m-29.3-6.6h0m-6.9 11.2h0m36.6 0.7h0m17.2 14.4h0m-30.9-31h0m10.4 37.1h0m-15.3-34.3h0m2.9 9h0m22.1 13.8h0m-4.2-7.3h0m1.9-1.9h0m-15.6-31.5h0m-15.7 49.4h0m25.2 5.3h0m-23.2-2.7h0m28.2-10.1h0m-14.4-16.9h0m13.1 14.8h0m-3.2 6.4h0m-10.7-5.1h0m9.2 6.2h0m-0.1-6.8h0m-14.5 9h0m29.9 0h0m-19.9 0.9h0m1.4-2.4h0m-14 5.1h0m12.7-4.7h0m7.6-43.6h0m1.5 49.3h0m-20.5-1.2h0m11.9-28.9h0m-3.2 2h0m-7.5 27.5h0m12.1-11h0m-15.8 7.5h0m14.4 1.2h0m-8.8 0.7h0m3.9-13.6h0m-38.2 7h0m47.9-1.2h0m-18.5-8.4h0m52.4-2.6h0m-39.6 21.4h0m4.1-19.2h0m-10.3 17.8h0m2.9-3.8h0m10-14.7h0m-39.2-28.3h0m31.1 46.6h0m-3.7-42.6h0m3.2 44.6h0m3.3-21.6h0m11.5 19.3h0m-25.5-51h0m0.1 50.1h0m7.2-26.5h0m6.1 1.2h0m-5.8 16h0m5.4 1.7h0m-11.7-20.3h0m11.2 29.9h0m-2.3-41.4h0m9.6 5.6h0m7.4 35h0m11.7-15.9h0m-24.9-28.6h0m9.4 2.8h0m-16.6 23h0m6.9 3.2h0m-20.5 13.1h0m14.5-12.7h0m-11.3-1.6h0m0.5 2.7h0m22.7-4.5h0m2.6 3.6h0m-6.7 15.5h0m-17.1-2.2h0m11.8-6.2h0m17.3-34.1h0m-32.5 36.5h0m28.9-13.3h0m-5.8 18h0m-10-3.4h0m2.6-3.6h0m20.2-15.5h0m21.7 8.8h0m-95.1 6.7h0m83.5-0.3h0m-22.7-8.2h0m4.5 9.7h0m-26.5-16h0m24.7 0.7h0m-17.4 16.4h0m43.6-0.3h0m-44.9 1h0m6.1-14.3h0m12.2-7.7h0m-4.4 24.8h0m-2.3-20.8h0m27.3 14.9h0m-28.3 5.9h0m-4.9 4.4h0m-22.5-4.2h0m17.5-26.2h0m29.9 8.1h0m-16.1 20.8h0m-14.3-23.7h0m22.4 7.1h0m-3.5-22.1h0m-7.1 37.6h0m-3.7-13.4h0m-8.5 13.6h0m24 0.3h0m-26.5-10.8h0m6.9-6.8h0m11.6-27.9h0m-0.8 43h0m26.4-1h0m-15.1-0.5h0m-14-20.7h0m-14 10.9h0m5.6-3.2h0m16.6 7.2h0m-2.5-8.8h0m-0.8 18.2h0m-6.4-6.2h0m-15.9-0.7h0m-46-1.8h0m55.1 1.1h0m11.3-5.7h0m0.5-15.2h0m8 7.4h0m-7.8 19.2h0m-13.5 1.3h0m-12.3-2.9h0m-2.6-11.3h0m25.2 13.8h0m-12.6-22.6h0m11.3-5.1h0m15 23.6h0m-14.9 1.8h0m4.5-14.3h0m15 10.5h0m-23.5-27.6h0m4.6-20.2h0m4.7 53.3h0m-4.5-9.2h0m-16.5 6.3h0m3.5-5.7h0m56.5-9h0m-73.8 15.8h0m-18.8-3h0m39.1-5.3h0m22.1-7.7h0m-11.3 2h0m-8.6 15.7h0m3.6-16.4h0m14.6 4.7h0m3.6-12.6h0m-3.1 23.9h0m-4.2 2.2h0m-39.6-2.5h0m56.4-24.8h0m-27.5 20.5h0m18.8-3.9h0m6.3 6.8h0m-2.5-13.4h0m-38.4 15.3h0m18.4-18.8h0m-7.3 6.2h0m19.4-13.9h0m-15.4-6.8h0m19.5 28.1h0m-9.3 4.1h0m18.1-13.5h0m-20.4 14.2h0m4.6-6.4h0m-19.1 6.5h0m10-10.3h0m8.9-8.3h0m-5.5 16.6h0m-21-23.5h0m26 24.1h0m1.8 0.6h0m-16.8-22h0m-8.1 18.6h0m23.3-4.4h0m14.9 6.8h0m-53.7-46.8h0m15.2 20.4h0m-8.4 6.9h0m28.4 22h0m-9.2-22.8h0m0.9 6.5h0m53-0.6h0m-55.9 17h0m21-3.3h0m-1.3-43.5h0m-7.2 33.3h0m-17.4 14.7h0m37.5-18h0m-39.4-10.4h0m13.3-5.8h0m-5.2 20.8h0m6.6 8h0m5.7 6.5h0m23.9-6h0m1.2 0.4h0m-31.6-25.8h0m-10.2-5.3h0m20.2 16.2h0m-31.7 12.6h0m14.4-4.9h0m1.4 11.7h0m-9.6-9.7h0m16.8 12.2h0m-2.4-7.3h0m20.6-12.7h0m-14.2 4.7h0m-17.6 10.3h0m3.9-9.3h0m-19.2-4.5h0m11.4-16.2h0m9.8 30.5h0m7.2-9.1h0m-27.5-26.8h0m21.3 26.7h0m-7.7 5.4h0m56.2-3h0m-46.9 11.1h0m-20.7-32.4h0m11.3 20.4h0m22.5-12.4h0m32.3-0.9h0m-51.1 15.1h0m-1 2.8h0m9.9-34.3h0m-11.1 37.2h0m12.1-12.7h0m16 2.9h0m-27.8-1.5h0m5.5-5.2h0m40.3 13.9h0m-26 2.3h0m-5.1-8.4h0m23.7 5.1h0m-17.4 5h0m-4.7-20.9h0m3.8-11.9h0m-9.7 18.7h0m-10.7 7.3h0m19.6 7.5h0m-23.5-4.1h0m-58.2-12.2h0m50.6 1.4h0m14.6 10.3h0m15-13.2h0m-10.9-12.2h0m-8.8 17.3h0m21.3-3.8h0m7.3 14.6h0m-16.4-0.2h0m15.5-2.4h0m17.9-23.5h0m-33.6 24.7h0m-2.7-22.5h0m-8.5 21.5h0m15.6-31.5h0m21.6 2.8h0m-42.4-13.2h0m19.8 36h0m-5.7 3h0m-0.4 8.3h0m9.1-20.5h0m6-0.8h0m-21.4-3.5h0m-13.4 17.6h0m8.6-15.7h0m24.9 16.4h0m-28.1-3.7h0m37.1-7.5h0m8.1-5.3h0m-28.4 21.4h0m-2.4 2.3h0m-23.9-23.9h0m26.6 15.8h0m-4.1 7.4h0m-17.2-28.8h0m-22.6-19.7h0m39.1 46.3h0m10.2-13.4h0m-5.5 11.3h0m-30.5 0.7h0m18.5-16h0m6.4 12.8h0m9.3-8.2h0m-6 16.2h0m-14-18.5h0m44.2-0.1h0m-26.4 13.8h0m13.9-21.7h0m-9.7 23.6h0m-15.5-22h0m16.9 18.6h0m-19.4 2.3h0m15.7-10.4h0m-6.3 2.9h0m-9.5 7.8h0m26.2-11.5h0m2.3 7.9h0m-11.4-19.9h0m-7.1 14.1h0m8.5 6.6h0m-4.2-27.7h0m-12.1-1.3h0m10.6 7.5h0m-0.1 3.1h0m22.2 1.8h0m-25.2 12.5h0m-18.5-33.1h0m27.3 23.1h0m-9.3-4.4h0m17.8 14.9h0m-14.5 1.8h0m-5.1 4.5h0m66.4-11.2h0m-75.3-8.6h0m-3.8 14.9h0m-16.7-14.8h0m26.4 8.8h0m0.7 7.5h0m4.6-8h0m2.7 13.3h0m-8.9 0.3h0m44.6-17.1h0m-45.3 10h0m-3.8-37.5h0m14.9 28.8h0m1.1-32.7h0m1.6 48h0m0.8-18h0m-10.5 20h0m-4.6-3.5h0m7.3-22.5h0m27.1-8.7h0m-15.1-15h0m7.9 46.3h0m-10.5-27.7h0m-8.7 29h0m5.9-39.8h0m-14.4 28.9h0m2.8-11.8h0m15-1.3h0m-10.3 10.7h0m6.9 9.2h0m-15.9 4.8h0m13.1 0.2h0m-23.1-19.8h0m18.1 15.6h0m4.1-0.4h0m-8.4 5.2h0m9.6-17.6h0m-3.6 12.3h0m-26.3-13.4h0m22.8 19.6h0m3.3-12.6h0m-3.4 7.3h0m10.8-33.7h0m23.8 32.6h0m-21-0.3h0m-10.6-26.5h0m25.6 24.9h0m-20.2-25.8h0m-12.2 25.7h0m34.5 3.7h0m-29.4-8.7h0m33.6-1.4h0m-31.2 11.3h0m-20-39.9h0m31.4 0.7h0m-20 8.3h0m27.3 32.2h0m8.9-4.5h0m-12.6 1.7h0m20.6-10.1h0m-33 10.5h0m22.7-10.7h0m-9.6 11.4h0m-15.6 1.6h0m37.2-34.8h0m-47.8 20.5h0m12.9 8.7h0m-6.4 5.3h0m6.8-23.3h0m-68.9 12.8h0m85.5 7.9h0m-28.2-23.2h0m25.7 20.6h0m20.6 1h0m-7.2 0h0m-7.4-33.1h0m-10.9 37.8h0m-8.1-13.8h0m-0.8-20.4h0m13.2 28.2h0m-0.9-5.2h0m-21.8 1.4h0m10-13.3h0m-18.4 15.3h0m19.6 4.9h0m-6.3-7.8h0m17-27h0m-9.4-7.8h0m-11.7 38.1h0m-2-21h0m-1.4 26.2h0m11.7-10.5h0m-9.7 8.7h0m-5.6-25.6h0m8.8-2.1h0m-5.9 12.7h0m7.4 1.1h0m9.2-24.7h0m-13.9 33.5h0m10.4 11.7h0m-10.1-2.6h0m0.9-4h0m-4.3-17.6h0m15.1 21.8h0m5.6-10.7h0m-11.1 6.4h0m-1.7 2.6h0m-5.4 2h0m22.9-8.4h0m-15.4 1.4h0m-0.1 4.7h0m5.6 2.4h0m-19.8-34.1h0m17.9 32.4h0m25.1-4.6h0m-31-5h0m11.2 10h0m-20.1-1.2h0m32.7-38h0m-28 40.9h0m-3.1-13.4h0m13.4-24.2h0m25.4 16.5h0m-41.1 20.7h0m8.1-17.5h0m-15.1 15.6h0m54.7-13.8h0m-32.9-3.2h0m-0.2 18.1h0m-15.2-23.3h0m-3.7 17h0m19.8-38.8h0m-0.8 19.6h0m-28.3 13.1h0m28.9-5.4h0m21.5-0.8h0m-25.3 13.9h0m0 2.7h0m19.4-0.7h0m-19.9-38.1h0m-8.3 37.8h0m15.8-8h0m-14.2 7.1h0m-1.6-13.4h0m33-0.7h0m9.5 13.4h0m-49.2-3.4h0m10.9 0.4h0m11.3 5.7h0m-11.9-15.3h0m-4.7 15.7h0m13.1-1.9h0m1 2.5h0m9.6 1.1h0m-3.8-5.3h0m6.8-0.9h0m-6.8 3.9h0m2.2-5.1h0m1.2 6h0m-4.1-11.7h0m5.6-11.2h0m28.7-3.6h0m-90.8 20.4h0m58.3-13.2h0m-16.3-15.8h0m4.2 22.7h0m6.7 6.7h0m-14.7 3h0m8.7-34.9h0m7.9 26.9h0m0.2 9.6h0m-13.2-10h0m18.2-11.2h0m-4.2 23.9h0m-4.2-16.3h0m-4.7-18h0m-3.7 22.9h0m19.2 3.1h0m-2 3.1h0m19.1-5h0m-38.7 5.5h0m2.2-8.5h0m4.2 8.6h0m-7.2 1h0m13.1 1.8h0m-21.7-4.2h0m2.4-19.3h0m26.6 19.5h0m-17.9 3.2h0m15.5 3h0m-3.3-1h0m-13.2 1.6h0m23.9-17.4h0m-48.2 2h0m45.9-24.4h0m-12.9 23.1h0m2.9-19.7h0m9.1 17.7h0m-28.7-7.4h0m17-2h0m-6.3 10.5h0m19.7 14h0m-16.7-8.5h0m20.5-12.3h0m-26.2-24.7h0m9 29.2h0m1.5 20.4h0m-3.5 0.1h0m3.5-2.1h0m12-2.8h0m-18.3 3h0m-4.5-0.1h0m14.7-0.6h0m3.1-28.8h0m-8.5 31h0m-18-9h0m4.7-19.2h0m34.9 23h0m-29.3-45.6h0m-7.7 40.9h0m28.5-6.8h0m-2.5 5.7h0m-18.2 9.5h0m-15.9-12.6h0m50.4 5.7h0m-24-27.9h0m10.1 34.4h0m0.5-15.2h0m-7.6-27.7h0m1.4 14.1h0m-10.6 30.4h0m-11.8-1.5h0m5.2-2.5h0m5.5-14.9h0m17.7 16.1h0m-19.3-38.1h0m-18.3 33.5h0m32.6-15.9h0m-49.3 12.5h0m40.3 7.6h0m5.9-6.3h0m-40.2 2.5h0m30.3-2.4h0m-25.6 2.3h0m26.8-9.6h0m-3.3 14.7h0m22.4-0.8h0m-6.4-52.4h0m-13.8 49.9h0m1.4-15.2h0m19.7 17.5h0m-14.9 3.5h0m16.1-9.3h0m-33.3-13.4h0m42.6 14.5h0m-9.8 0h0m-23.3-23.2h0m-0.3 12.2h0m1.1-26.3h0m-12.2 29.8h0m17.6-9.2h0m6.8 9.7h0m-24.3 8.9h0m36.1 0.3h0m-34.7-19.2h0m4.1-4.4h0m53.7 14.5h0m-51 7.1h0m35.4-10.7h0m-11.6 13.4h0m-17.9-18.9h0m23.7 19.9h0m-19.3-5.5h0m2.7 5h0m6.3-18.8h0m-14-25.5h0m-12.5 40.8h0m16.2-8.4h0m-6.9 3.3h0m6.1 10.1h0m16.8-13.5h0m-24.4 12.7h0m-32.8-25h0m58.6 14.6h0m-38-5.3h0m16.3-9.6h0m-3.2 19.2h0m20.5-3.8h0m-25.1 5.2h0m39.7-5.8h0m-31.7-6.4h0m16.3-7.3h0m-17 17.9h0m24-4.2h0m-1.9-14.5h0m-16.1 13.8h0m-9.7-47.3h0m-1.2 17.3h0m6.1 4.6h0m-4.2 11.6h0m18.6 20.5h0m9.9-0.5h0m-47.6 1.6h0m27.1-4.9h0m17.3 3.1h0m-21.8 1.1h0m1-24.9h0m-17.2 8.3h0m18.2 24.4h0m3.3-49.6h0m-22.1 37.1h0m9.1 0h0m14.9 5h0m-7.4-7.6h0m-19.6 6.8h0m-7-12.8h0m27.9 9.7h0m4.7 5.8h0m7 3.8h0m7.7-28.9h0m-12.1 15.4h0m-7.5 0.1h0m8.5-35.5h0m16.6 46.4h0m-26.9-0.3h0m23.6-14.9h0m-15.4-3h0m-0.8-3.5h0m-8.2 11.9h0m16.9-8.1h0m-17.1 11.1h0m14.9-1h0m8.9-0.2h0m-13.7 9.3h0m2.7-1.7h0m6.2-34.5h0m-12.4 1.6h0m30.8 24.9h0m-31.4 1h0m-30.1-13.8h0m43.5-6.5h0m-17.2 22h0m-3.9-16.9h0m2.2 26.8h0m2.2-0.4h0m0.7-5h0m-27.6 0.2h0m22.1-15.1h0m33.8 16.6h0m-48.6-30.9h0m19.6 3h0m15.6-4.2h0m-5.7 16.6h0m34.7 4.8h0m-56.5 9.5h0m-27.5-44.8h0m22-2.7h0m41 16.6h0m-18.4 35.3h0m-11.4 0.9h0m30.3-7.3h0m-28.8-35.7h0m4.9 8.2h0m-3.1 19h0m-3 7.9h0m11.8 1.9h0m1.1-0.5h0m-6.5-22h0m2.1 27h0m4.3-2h0m-6.4-13.8h0m-24.6-5.5h0m48.3-21.7h0m-24 21.8h0m11.6-5.9h0m-3.8 14.6h0m-4.7 5.8h0m14.8 5.5h0m-11.3-13.1h0m-0.9-6.4h0m5.8 19.1h0m0.7-34.9h0m-0.5 11h0m-8.2 21.4h0m-61.1-11.1h0m46.3 4.3h0m18.4-8h0m-11.4-13.4h0m8.8 27.4h0m1.9-1.5h0m-10.4-2.2h0m11.7 0.7h0m7.5 6.7h0m-5.7 2.4h0m4.7-17.8h0m-32.1-10.4h0m8.3-2.7h0m-15.8-2.6h0m28.8 34.4h0m-11.2-14.6h0m7.5-14.7h0m-2.1 1.4h0m38.7 14.9h0m-29.3-0.5h0m-15.2 6.9h0m15.7 6.2h0m20-23.1h0m-30.7 22h0m33.1-28.3h0m-61.2-1.5h0m26.3 25.1h0m10.8 1h0m-8.2 3.8h0m5.7-11.5h0m-49.9-8.6h0m54.6-7.3h0m15.3 14h0m-9.4 4h0m-5.1 1.4h0m2.6-11h0m-42.4-18.9h0m34.4 19.4h0m0.3-26h0m-9.1-10.1h0m24.9 15.6h0m-11.8 37.7h0m-2.2-47.6h0m3.3 25.3h0m-20.3 21.4h0m21.2-24.4h0m-26.1 16h0m-2.6 6.2h0m51.5-15.3h0m-33.3 15.6h0m-4.3-1.7h0m-19.3-28.9h0m-27.6 25.1h0m44 2.8h0m20.8-25.9h0m-4.3 31h0m14.2-3.8h0m-28.5 4.6h0m17.6-7.4h0m-1.9 3.9h0m-9.7-28.3h0m19.2 29.6h0m-19.2-33.3h0m0.3 26.6h0m4-7h0m7.3 8.6h0m-22.1 8.1h0m1.9-0.3h0m5.6-23.4h0m12.5 19.5h0m-0.5 0.7h0m11.9-0.5h0m-58.4-12.5h0m15.4 2.9h0m32.1-12.1h0m2.8 14.1h0m52.5-13h0m-59.4-7.9h0m-18.9 30.4h0m7.6-21.8h0m-1.7 22.7h0m20-11.1h0m-3.4 6.6h0m27.4-46.9h0m-32.3 4.7h0m0.5 41.4h0m-5.3-10.7h0m-11.2-23.4h0m-6.7 35.5h0m18.2-12.4h0m-10.6 7.4h0m11 3.9h0m-0.1-1.9h0m-17-6.8h0m29.8-12.3h0m-10.3 23.8h0m0.9-1.5h0m-14.6 4.6h0m10.9-24.9h0m-9.1-10.1h0m39 29.1h0m-15.6-0.5h0m-30.1 2.8h0m19.1-19.1h0m-5.7 22.4h0m10.2-52.1h0m-14 12.8h0m10.3 18.1h0m-4.7 17.6h0m-21.8-5.9h0m6-29.9h0m13.3 1.1h0m16.6 34.8h0m-43.5-13.6h0m41.4-24.9h0m-20.8 7.3h0m-15.1-3.2h0m23.6 37.8h0m10-27.1h0m-9.3 28.6h0m14.1-13.6h0m-3.5 6.1h0m-47.3-41.7h0m39.9 22.5h0m6.2 0.6h0m-9.5-13h0m9.3 26h0m-23.2-19.1h0m-17.4-1.1h0m31.4 14.2h0m23.8 9.9h0m-36.5 7.3h0m19.1-26.9h0m4.1 28h0m-10.7-8.7h0m5-15.9h0m-13.6 21.8h0m46.5-44.1h0m-30.3 27h0m-14.6-0.2h0m5.6-11.5h0m-17.8 23.6h0m11.1-2.3h0m11.5-16.9h0m-15.1 25.9h0m28.4-5.6h0m-23.3 5.3h0m17 1.7h0m-27.9-18.9h0m24.9 3.8h0m2.1 6.7h0m-33.5 2.9h0m-0.3 0.8h0m33.2 1.1h0m-0.1-7.5h0m-6.4 10.5h0m9.9-5.2h0m-11.5 5.8h0m19.7-8.4h0m-8.2-6.9h0m26-3h0m-47.7 13.3h0m7.7-28.9h0m3 34.1h0m-8.1-0.5h0m7.9 0.7h0m3.8-9.8h0m-35.1 3.8h0m30.4-20.7h0m36.8 8.5h0m-46.3 16.6h0m10-5.3h0m18.7-19.8h0m4.1-13.5h0m-20.2 31.4h0m-3.3-8.9h0m6.1-14.2h0m13.1 7.8h0m-16.2 23.1h0m7.7-7.7h0m8.5-7.9h0m-28.5-17.1h0m26.9 17h0m-8.7-30.2h0m-10.4 42.9h0m18.3-3h0m-55.1-20.1h0m41.5 14.8h0m9.8 0.1h0m-3.4-7.2h0m-2.2 19.4h0m-11.7-18.6h0m7.1 18h0m-1.1 1.9h0m8.7-16.1h0m-6.9 9.9h0m10.4-9h0m-4.4 2.8h0m20.9 7h0m-19-39h0m-10 43.3h0m-1.4-13.3h0m9.7-16.9h0m3.5 2.8h0m-14 4.3h0m20.8 9.1h0m-38.7 10.9h0m19.2-2.4h0m7.3-5.5h0m-23.7 7h0m8.5-9.1h0m17-18.2h0m-5.6 12.8h0m8.8 17.5h0m-23.6-4.3h0m8.4-5.8h0m-11.2 9h0m25.8-28.5h0m-17.6 29.3h0m23.1-1.5h0m-4.8-18.7h0m-1 5.5h0m-51.9-16.7h0m57.1 5.3h0m-16.8 27h0m27.3-44.7h0m-23.8 25.9h0m-12.1 3.1h0m-7-24.1h0m3.4 10.5h0m22.8 6.8h0m-20 12.7h0m6.2 7.4h0m-4.3-25.8h0m44.8 7.5h0m-33.4 9h0m-20.4-8.2h0m23.4 14.7h0m-3.7 5.1h0m26.5-29h0m-26.6 11h0m-3.5 11h0m-7.1-20h0m7.6 5.2h0m12.2 22.1h0m-17.7-14.8h0m8.4 5.8h0m-0.1-8.6h0m8.7 15h0m-11.6-24.5h0m-7.2 4.3h0m-4.8 10.4h0m16.2 13h0m-9-17.6h0m4.1 14.8h0m-6.3-12.3h0m-2.2 7.4h0m18.2-27h0m-8.1 33.5h0m14.4-6.8h0m-6.5-5.9h0m-13.3 12h0m4.1-24.4h0m-1.1 6.2h0m1.9 17.6h0m6.5 1.7h0m21.9-3.3h0m-40.8-8.9h0m18.5 8.7h0m11.5-7.4h0m-18.1-10.7h0m-7.3 21.7h0m-17.4-21.2h0m37.3 17.9h0m-15-31.9h0m6 9.6h0m-17.9 2.8h0m-10 6.8h0m28.1 9.5h0m28.3 1.7h0m-51.7-1h0m9.1 3.8h0m-16.2-9.1h0m14.7 7.4h0m17.2-12.3h0m5.1 10.4h0m-6.3-11.3h0m4.2 10.1h0m-20.6-9.9h0m16.5 7.8h0m35.1-5.9h0m-27.7 6.5h0m-2.3-33.7h0m-1.2-2.8h0m13 39.1h0m-26.2-7.5h0m27-19.2h0m-36.3-2.5h0m42.5 16.2h0m-28.3-21.4h0m3.8-4.9h0m9.7 37.2h0m3.1 5.4h0m-17.9 0.2h0m0.9 1.6h0m0.8-14.9h0m2.7 13.3h0m-19.5-48.4h0m28.6 24.7h0m-18.8 11h0m21.5 4h0m-3 1.1h0m-20.2 9.3h0m43.1-6.7h0m-47.1-36.2h0m18.3 44.2h0m10.7-17.6h0m24.1 8.1h0m-12.8-41.9h0m-12.6 48.8h0m23.7-18.8h0m-57.6 11.7h0m52.8-2.5h0m-15.5-9.3h0m-20.8 0.3h0m13.7-15.7h0m-18.7 1.5h0m17.5 30.6h0m-15.7-4.5h0m-10.7 0.1h0m35.2 5.6h0m-4.6-33.3h0m-8 33h0m29.8-3.9h0m-7.4-10h0m-26.1 16.3h0m-11.6-1.3h0m2.7 1.3h0m16-3.4h0m2.2 2.9h0m-16.4-3.3h0m21.1-25.9h0m-16.9 2.9h0m18.4 14.6h0m-21.5 5.9h0m10.7-37.2h0m8.1 43.5h0m14.5-30.1h0m-36.5 27.8h0m30.5-38.4h0m4.4 18.4h0m-40.2 22.6h0m15.4-29.8h0m22.8 15h0m-48.5 12.1h0m25.3-1.5h0m-40.2-16.8h0m32.6-13.6h0m66.5 18.6h0m-61.7 6h0m4.1 11.8h0m30.4-14.9h0m-10.8-18.4h0m-9.4 27.7h0m5.4 1.7h0m10-3.4h0m-30-4.3h0m11 9.5h0m-18.1-12.4h0m-2.2-9.6h0m31.1-5.6h0m-17.8-8.2h0m-4.9 37.8h0m25.5-7.5h0m-19.7 7.2h0m0.2-7.5h0m-9.4-11.2h0m18.5 5.1h0m-27.6-7.8h0m18.7-18.8h0m-41.3 14.1h0m35.8-20.9h0m33.8 37.3h0m-29.1-28.2h0m8.3 19.4h0m-4.1 5.9h0m-20.9 4.4h0m2.4-15.4h0m0.3 18.9h0m22.1-24.6h0m-34.7 25.7h0m19.2 3.3h0m8.6-38.3h0m-3 29.6h0m17.7-16.6h0m-22.8 0h0m-7.9 6.5h0m3.2 12.1h0m15.3 5.7h0m-2.6 0.8h0m-34.2-17.1h0m2.1-5.7h0m50.5 14.9h0m14.1 1.2h0m-51.9-1.2h0m5.1 6h0m2-26.8h0m4.1 27h0m5.8-18.6h0m-24.2 9.3h0m27.6-1.8h0m2.3 1.9h0m2.6-6.8h0m-13.9-15.5h0m12.9 21.4h0m-22.5-25.5h0m16 18.2h0m-5.5 1.3h0m-33-5.7h0m71.6 18.3h0m-9 0.6h0m-17.1-3.6h0m-36.8-5.8h0m17.3 11.2h0m27.1 0.8h0m-17.7 0.6h0m-2.8-0.9h0m-2.7-9.4h0m8.4 6.8h0m-24.7-16.3h0m13 3.5h0m6.1 8.7h0m4.8 2.7h0m6.1-23.6h0m2.9 7.3h0m6.1 4.1h0m-5.1 9.5h0m-5.8-6.3h0m2.9 13.3h0m-10.9-14h0m12.4 10.1h0m-8.7-9.9h0m-7.1 13.2h0m12.3-19.6h0m1.2 13.5h0m-6-14.8h0m-5.9-8.1h0m8.1 23.5h0m-23.2-1.8h0m38.4 4.9h0m0.4-28.7h0m-15 2.7h0m4.3 26.4h0m-12.4-15.9h0m4.9 1.2h0m-7.4-13.7h0m8.7-4.6h0m16 28.3h0m-2.2-11.2h0m-30.8 19.4h0m7.8-8.4h0m-7-14.5h0m-11.3 2.3h0m13.9 8.3h0m4.8 10.8h0m-2.6-6.4h0m-3.6-33.9h0m10.7 38.8h0m0-21.6h0m-14.2-12.9h0m17.2 34.1h0m14.2-12.9h0m-17.1 3.6h0m-31.5 7.2h0m40.5-13.2h0m-27.5-9.8h0m18.4 25.4h0m22.6-5.1h0m-23.9-8h0m25.8-10.9h0m-9.1 14.1h0m-25.9-20.5h0m35.6 27.2h0m-29.1 0h0m-18.4-7.4h0m13.8-10.7h0m0.6-13.1h0m37.4 19.8h0m-26.3 12.4h0m20.1-11.9h0m-38.8 11.4h0m25.3-42.3h0m-12.1 35.1h0m21.6 5.9h0m-19.4-30.9h0m9.4 17.5h0m31.2 7.6h0m-43.9 6.1h0m-2.2 0.4h0m16.6-13.9h0m-19 9.5h0m41-20.4h0m-26.2 5h0m16.6-7.8h0m-50.8 31h0m52.5-2.4h0m-5-17.1h0m-13.7 4h0m2.2 15.2h0m-9.4-12.8h0m-0.7 0h0m5.4 3.3h0m21.4-17.3h0m-21.9 16.9h0m-5.1 10.7h0m4.9-21.6h0m-19.6-17.2h0m20-0.8h0m25.8 36.8h0m-22.8-2.5h0m-14 8.5h0m-6.5-5.7h0m17.6-27.3h0m24.6 0.2h0m-25 27.4h0m-7.4-10.1h0m-6.8-11.3h0m-41.7 1.3h0m19.6-5.3h0m36 30.9h0m5.1-14.4h0m2.2-27.6h0m37.2 5.6h0m-46.9 23.9h0m0 10.7h0m7-0.5h0m1.8-6.7h0m10.6-13.4h0m-1-16.5h0m-18.6 36.2h0m12-7.1h0m-27.9-9h0m31.1-0.4h0m-16.3 9.3h0m16.9-6.8h0m20.1 1.4h0m-19.7 1.8h0m-6.6-17.9h0m-24.1 12.7h0m19.9 18.9h0m-2.2-8.4h0m0.7 0.3h0m-12.1-13.1h0m8.1 1.5h0m-2.6 18.1h0m10.4 0.3h0m-39.1-11.9h0m29.1 5.8h0m35.1-6.4h0m-12.1-5.8h0m-10.5-23.3h0m-2.8 28.4h0m17.5-5.2h0m-22.2 12.9h0m-55.9-15.8h0m51.5-32.5h0m4.8 19.8h0m35.6 29.3h0m-42.8-5.5h0m75.8-0.9h0m-68.3-23.2h0m-0.2 15.2h0m26.6 8.8h0m-26.9-1.8h0m-13.2 3.2h0m15 10.2h0m-13-6h0m7.5-6.9h0m5 5.7h0m-8.5-6.9h0m-17.6 10.4h0m18-10.5h0m10.7 8.9h0m-3.5-3.2h0m-13.2 4h0m18.7-27.6h0m34.9 22.9h0m-36.5-8.1h0m-35.6 11h0m80.4-18.3h0m-57.3 10.6h0m0.9-21.4h0m8.9 25.8h0m8.5-11.5h0m-16.3-15.9h0m17.3 19.1h0m-10.5-39.4h0m-0.8 42.2h0m-10.6 2h0m-6.3-13.3h0m0.4 17.9h0m19.1-23.2h0m9.5 12.8h0m-9.9 5h0m22.5 0.3h0m-17.6 2.1h0m8.5-5.8h0m-27.6 14.9h0m16.3-19.4h0m-10.5 11h0m-2.1-18.8h0m28.1-7.9h0m-24.2 20h0m-8.1 16.9h0m7.8-15.5h0m5.1 12.6h0m-8.9 0.8h0m-4.1-8.9h0m5.1 10.5h0m-22.7-4.6h0m24.7-9h0m2.7 5.3h0m-10.4-9.2h0m28.4 16h0m-2.9-38.9h0m28.6 31.2h0m-57.7 8.6h0m-31.4-6.3h0m32.5-2.4h0m-5.5 6.4h0m14.6 4.1h0m32.4-15.6h0m-25.3-18.4h0m1.1 9.8h0m-4.5 10h0m0.4 10.3h0m26.5-10.4h0m-11.3 10.4h0m-8.3-10.4h0m14.9 11.8h0m-27.8 2.5h0m1.4-19.6h0m9.4 13.1h0m-2.8 4.7h0m6.8-1.7h0m-10.4-3.7h0m12.4-4.1h0m-4.9 8.6h0m4.7-16.4h0m-28.7-4.2h0m17.7 18.3h0m10-10.8h0m-37.7 11.9h0m22.6-0.5h0m17.9-6.7h0m-4.8 3.1h0m9.6-8.4h0m-7.9 14.9h0m-24.3-6.6h0m14.7 4.5h0m21.2-10.1h0m-22.6 0.9h0m9.7 11.9h0m-8.7-13h0m6.3 2.6h0m1.2-19.6h0m-23.8 22.6h0m1.8-5.7h0m12.5-19h0m-6.6 16.7h0m13.5 13.2h0m1-13.4h0m11.4 7.2h0m-18.5-8.9h0m-11.7-4.6h0m1 14.4h0m12-1.3h0m4.1-12.7h0m-17.6 21.2h0m11.5-8.1h0m-8.2 4.3h0m0.4-22.9h0m20.3-7.4h0m-27.9 27.7h0m25.4-13.4h0m-2.4-4.9h0m-8.7 26.5h0m6.1-10.7h0m-5.4-4.5h0m-0.3-36.8h0m28 40.5h0m-17.8 0.3h0m-16.4-28h0m-10.1 27.8h0m43.5-0.4h0m-7.5 4.9h0m-19.1-1.9h0m29-17.3h0m-16.6 21.2h0m-6.7-27.1h0m0.8 31.9h0m-20.5-7.1h0m-2.6-16.6h0m10.5 22.3h0m15.4-0.4h0m-0.1-14.9h0m5.7-36h0m-20.9 49.7h0m20.9 1.4h0m2-8.1h0m46.1-6.5h0m-77.9 5.1h0m20.2 4h0m3.5-2.8h0m-15.2-7.6h0m7.1-2.7h0m-10.1-6.8h0m10.9 0.6h0m-26.1 12.9h0m26.7 10.3h0m-11.4-2.6h0m3.7-7.8h0m-13.8 1.9h0m20.8-32.4h0m36.3 36.3h0m-28.6-6.7h0m44-6.8h0m-52.7 2.7h0m-32.4 7.2h0m37.4-14.7h0m9.4 14.7h0m-16.6-1.5h0m1.4-1.5h0m-13.4-10.1h0m19.8-3.1h0m-8.7-9.7h0m36.5 29.7h0m-14.4-41h0m-1.6 20.3h0m-9.5 9.7h0m8.3 12.9h0m36.2-17.3h0m-58.6 2.4h0m14.1 0.5h0m-14.6 8.2h0m27.5-4.4h0m-8.2-17.7h0m9.1 17.2h0m-23.7-5.7h0m29.5 10.4h0m-44.2 2.7h0m22.5-30.4h0m2.3 17.7h0m-24.8 17.1h0m23.3-0.3h0m30.9-0.2h0m-38.2-34.7h0m23 33.2h0m-12.6-0.6h0m8.4-24.6h0m-9.3 18.4h0m45.1 5.6h0m-45.1 1.5h0m5.2-2.7h0m-25.7 3.5h0m31.6-15h0m-36-6.5h0m18.1 4.9h0m15.8 17.9h0m0.8-3.2h0m-18.2-45.1h0m-14.4 47h0m18.7-1.4h0m-2.9-15.3h0m21.6-27.2h0m-1.5 35.4h0m-24.2-32.6h0m-11 12.9h0m8.3 11.2h0m5.5-10.6h0m-2.6-15.7h0m-7.2 41.2h0m47.5-6.7h0m-38.4-2.7h0m-6.3 4h0m16.4 9.1h0m13.3-11.5h0m-2.7 11.7h0m-13.1 1.8h0m-1.5-7.2h0m14.7 4.2h0m1.1-2.8h0m-19.9-18.9h0m-2.1-16.1h0m-4.4 34.9h0m3.6-28.5h0m-9.9 22.2h0m-20.2-2.5h0m22.6 0.3h0m36.5 12.6h0m-19.6 1.6h0m11.5-21.4h0m-20.6-18.6h0m14.4 21.9h0m-5.8-8.2h0m60.2 4.6h0m-66.1-8.4h0m29.5 13.2h0m-30.6 0h0m7.1 3.8h0m14.2 1.2h0m-23.3 14.3h0m13-33.2h0m-10.4-20.3h0m4.1 33.8h0m-7.1 14.6h0m21.2-6.7h0m-10.1 9.5h0m-66.1-9.3h0m67.3-22.2h0m-6 31.3h0m-0.5 0.5h0m-3.1-35.6h0m-6.2 28.9h0m-2.6 2.4h0m18.9-17.6h0m0.1 21.4h0m-6.1-38h0m7.7 23.8h0m-22.3 15.5h0m20.7 0.7h0m-9.3-18.6h0m4.8 19.5h0m-4.8-15.1h0m0.4 7.5h0m14.3 1.5h0m-11.3-8.3h0m6.8-26.4h0m-7.4 27.5h0m-39.7-17.6h0m19.9 1.1h0m26.9 19.7h0m-15.9 3.6h0m18.2-2.1h0m-10.9 9.1h0m-7.2-1.1h0m28.1-8.1h0m-22.5 8.3h0m-3.1-0.9h0m-17.5-17.8h0m37.1 12.6h0m-21.6 5.5h0m8.3-14.4h0m5.4 1.8h0m32-13.7h0m-27.9-20.7h0m-2.5 38.3h0m-21.2-21.3h0m23.3 24h0m9.3-25.6h0m-30.2 29.5h0m16.7-33.1h0m-1.5 29h0m-40.9-2.6h0m6.4-22.5h0m41.3 30.6h0m-6-37.9h0m6.6 35.5h0m-6.1-4.8h0m9.8-31.4h0m-17.1 27.1h0m0.6 11.5h0m-52.4-10.7h0m63.3-12.7h0m-22.7-32.6h0m4.9 28h0m19.2 27.7h0m-14.1-26.3h0m38.8 14.8h0m-37.1 10.4h0m-5.3-12.6h0m-10.5 0.6h0m27.3 5.8h0m-8 4.4h0m-0.7 0.4h0m-4.5 2.4h0m-3-19.1h0m8.7-15.5h0m-7.1 10.5h0m-15.3 0.6h0m36.9 5.5h0m-32.1-14.3h0m21 1.1h0m-60.8 20.2h0m44.8-0.9h0m34.5-1h0m-37.4 10.2h0m25.7-37.9h0m-24.9 32.1h0m17.7-2.3h0m27.3 0.6h0m-40.7-32.7h0m3.2 42.3h0m16.6-17.3h0m-4.3 11.6h0m-4.6-12.5h0m12.1 16.2h0m-33.4-18.1h0m15.7-11.4h0m20.5 22.9h0m4.1 3.2h0m-29.8-12.1h0m11.4-18.5h0m-8.7 23.6h0m-11 6h0m13-2.2h0m14.4 7.1h0m-19.5-11.3h0m48.9-6.2h0m-49.6 16.9h0m21.4-42.1h0m-18.3-7h0m-0.7 23.1h0m10.5 27.8h0m-34.5-8.1h0m22.4 2.7h0m9.9-15.6h0m-13.3 9.8h0m16.2-12.9h0m5.4-20.9h0m-24.5 18.2h0m15.8-19.5h0m-7.1 44.1h0m-3.4-38.4h0m18.3 36.5h0m6.3 1.5h0m0.9-18.3h0m3.7 19.6h0m-16.9-34.2h0m-2.5 36.1h0m-7.6-11h0m-17.2 1.4h0m41-1.9h0m-1.6-6.9h0m-3.3 16.2h0m-6.8-3.5h0m-3.6-25.1h0m4.4 24.4h0m-9.1-4.4h0m-12.3 6.2h0m15.9 1.8h0m0.3-9.5h0m36.3-2h0m-25.4-14.6h0m-14.2 10.4h0m-11.5-2.5h0m24.4 19.7h0m-12.6-10.8h0m17.7-4.1h0m-23.7 1.9h0m17.6-2.9h0m-16.2-28.8h0m-2 29.9h0m11.2-18.3h0m-8.1 32.7h0m31.8-1.3h0m-15.5-12.3h0m-12.8 7.3h0m7.9-13h0m-5.8 22.1h0m-32.7-18.6h0m25.4 15.8h0m24.2-7.3h0m-9.2-0.1h0m-23.4 6.3h0m19.3-6.9h0m13.1 2.7h0m-20.3 4.4h0m23.9-22.5h0m-16.2-16.6h0m-10.1 29.6h0m2.4-41.7h0m16.8 51.6h0m-1.8-0.1h0m-26.9-16h0m3.8 14.1h0m11.7 5h0m-13.4-12.2h0m14.3 7.3h0m-50.2-17.2h0m46.7-4.3h0m-0.2-13.8h0m4.8 37.9h0m-13.6-7h0m-5.8 6.1h0m10.2-7.8h0m9.5 6.1h0m14.6-42.2h0m-11.5 45.6h0m11.4-21.7h0m-14.8 16.8h0m-6.5-7.3h0m13.6 7.9h0m-7.4-2.2h0m-10-5.4h0m-3.1 13.5h0m-9.7-18.7h0m27.9 3.8h0m2.8 13h0m2.8-0.7h0m-4.4-44.5h0m-4.5 39.2h0m-21.5 1.2h0m20.4 3.2h0m-7.4-7.8h0m9.3-26.4h0m-26.5 33.8h0m11-9.1h0m14.9-14.1h0m2.9 0.4h0m-11.9 26.4h0m-3.5-4.2h0m3.3-22.2h0m2.6 25.2h0m44.1-11.8h0m-52.6 9.9h0m44.7-1.1h0m-38.1-22.8h0m17.2 25.2h0m-16.1-13.2h0m5 15.3h0m-8.6-1.2h0m8.3-26.9h0m4.3 21.1h0m-10.4-9.9h0m9.3 4h0m8.3-28.9h0m-8.8 23.7h0m-7.1-23.4h0m38.2 18.8h0m-18.6 12.9h0m-42.5-6.5h0m76-28h0m-38.3 37.1h0m-5.6-4.8h0m-19.2-16.6h0m8.6 20.7h0m-8.6-2.5h0m18.1-35.9h0m-29.5 32.8h0m19.1 8h0m-3 1.3h0m-12.1 0.1h0m43.1-6.2h0m-24.8-16h0m6.8 13.2h0m-1.5-27h0m-7.3 41h0m10.8-2h0m-8.7 2.9h0m-39.6-35.2h0m32.9 32.1h0m50.1-28.2h0m-43.4 27.2h0m12.9-5h0m-19.1 1.6h0m12.9-39.8h0m-18 12.4h0m2.9 16.8h0m23-6.9h0m-9.2 17.2h0m-15.4-37.7h0m4.8-1.5h0m13.6 32.1h0m-20.4 8.7h0m56.6-1.6h0m-41.2 1.6h0m-9.1-39.6h0m11.3 15.1h0m-21.8 17.7h0m15.7-19.7h0m23.7-9.7h0m-20.4 35.4h0m1.2-39.1h0m11.3 30.7h0m-6.7 10.8h0m-8.7-34.2h0m11.9 36.3h0m-4.7-13.9h0m2.4-25.1h0m-14.3 10.6h0m2.9 0.8h0m9.5 27.3h0m-13.4 0.5h0m26.4-11.4h0m-22.1-8.4h0m1.9 17.2h0m14.6-10.4h0m13.9-4.8h0m-11.9 9.8h0m10.7-0.8h0m-21 6.7h0m3.6-6h0m-29.5-20.7h0m9.9 28.3h0m12.8-37.1h0m-5 39.6h0m4.9-22.6h0m24.1 13.1h0m-16.2 7.3h0m3-2.5h0m-15.1-10.6h0m-3.1-22.3h0m-5.4 35.8h0m13.6-22.2h0m12.4 20.3h0m-17.3-46.2h0m-0.7 43.8h0m-24.8-2.3h0m40.5-22.8h0m11.5 27.4h0m-9 0h0m-12.5-27.6h0m38.6 17.4h0m-43.1-31.6h0m34 21h0m-34.1 2h0m-21.2-4.8h0m31.8-5.2h0m51.2 4.9h0m-57.8-12.5h0m0 37.4h0m-7-42.1h0m3.2 8.5h0m-0.3 4.9h0m3.5 22.4h0m-21.2-9h0m5.1-25.7h0m19.7 42.5h0m-1.2-2.5h0m-11 2.1h0m15.2-2.5h0m-14.4-17.9h0m-15.2 7.8h0m31.5 12.3h0m21.2-4.6h0m-38.8-16.9h0m29 5h0m-27-0.9h0m9.1-17h0m19.3 31.3h0m-37.6-16.7h0m17.5-12.5h0m-9.8-8.6h0m5.8 37.2h0m-7.5 3h0m21-2.6h0m-1-21.5h0m-25.1 9.6h0m-2.1 13.9h0m9.1-22.4h0m24.6 14h0m-21.3-2.9h0m-12.4-20.5h0m68.6 21.9h0m-36.6 7.3h0m-22.4-4.8h0m22.5-33.5h0m14.9-6.1h0m-33.5 17.6h0m22.5 5h0m-42.6 19h0m28.1-15.2h0m-17.8 13.8h0m25.7 6.5h0m-17.1-21.4h0m19.1 18.3h0m-29.9-2.3h0m16.1-14.3h0m-33.3 11.5h0m35.3-4.5h0m10.3 7.7h0m-25.7 1.6h0m32.2 2.2h0m-4.3-13.1h0m-21.9-3.9h0m15.1 19.6h0m-24.5-6.2h0m25.8-13.6h0m-12.5 20.9h0m7.9-4.1h0m11.8-12.1h0m-32.7-7.8h0m12.8 10h0m-0.2-42.7h0m14.6 55h0m-9.2-47.3h0m14.5 30.9h0m-30.9-1.7h0m19.2 14.7h0m5.3-2.2h0m-14.3-2.9h0m19 8.7h0m-17.6-16.1h0m19.5 1.4h0m3.4-28.4h0m-56.7 32.4h0m26.9-32.7h0m21.6-8.1h0m-21.5 41.2h0m-2.6 10.6h0m9.2-1.1h0m-9.8 1.1h0m13.8-19.4h0m-4.4 20.6h0m-7.6-47.1h0m16.5 30.5h0m-9.9 8.3h0m1.6 0h0m-6.9-47.1h0m-5 52.5h0m19.7-25h0m-1-23.8h0m-25.5 42.7h0m33.4-2.9h0m-38.3-4.7h0m4.1 5.8h0m40.9 8h0m-16-2.4h0m2-31h0m0.2 33.5h0m-40.7-38.3h0m30.5 32.9h0m8.2-12h0m6.4 11.8h0m11.1-17h0m2.6 15.1h0m-21.7-9.1h0m0.4 18.2h0m-0.4 0.2h0m-2.7 0.5h0m12.5-19.3h0m-7.4 13.7h0m-3.5-2.8h0m22.2 2.7h0m-29.8-17.7h0m13.6 7h0m-13.7 0.1h0m0.1 5.1h0m-9.3 8.2h0m25.3-0.9h0m-11.3-14.4h0m-23.6-15.9h0m17.2 10.4h0m-7.9 13.5h0m23.2 10.6h0m4.3-34.3h0m-5.8 21.4h0m-0.1 9.5h0m12.5 0.7h0m-15.8-7.3h0m16.1 0h0m-11.5 5.9h0m-25.6-16.3h0m14.9-20.1h0m19.4 25.1h0m-33.4 12.3h0m25-5.5h0m14.6-18.8h0m-15 15.4h0m-8.8-6.5h0m-9.2 16.2h0m22.2-14.3h0m-31 11.4h0m47.3-12.2h0m-13.1 6.8h0m-9.7 7.5h0m-7.4-8.3h0m51.5 3.5h0m-64-7.3h0m35.8-10.1h0m-34.6-1.7h0m9.6 22.5h0m2.6-6.6h0m-0.8-30.9h0m-2 35.5h0m15.2 2h0m-23.6-4.4h0m41.9 5.5h0m27.7-42.2h0m-55.9 46h0m8.6-34.2h0m-10.4 32.9h0m3.9-4.4h0m-32.3-0.5h0m43.3-3.9h0m-15.7-34.8h0m-5.1 11.8h0m1.6 24.1h0m44.2-0.6h0m-41.2-28h0m-4.3 30.7h0m19.4 3.7h0m-4.6-5.3h0m-5.8-1.4h0m23.5 6.4h0m-44.6 0.9h0m26.3-26.3h0m-6.6 26.6h0m-2.1-2.2h0m-14.1-12.8h0m33.3 4.9h0m-31 7.3h0m17.5-14.4h0m21-10.5h0m-45.6 26.9h0m8.6-26.3h0m27.7 24.1h0m-1-0.6h0m19.6 0.8h0m-42.5 1.6h0m-9.5-0.3h0m12.1-5.3h0m-2.8 3.1h0m13.4-3.2h0m-16.2 5.7h0m21.5-15.4h0m0.7 17.1h0m-9.7-31.9h0m-11.1 4.8h0m3.4 29h0m27.4-4.1h0m-0.6-6.3h0m-44.3 0.9h0m18.9 6.4h0m-2.9-4h0m9.5-37.8h0m1.6 0.5h0m-9.7 19.2h0m11.8-5.8h0m2.2 22.2h0m-6.7-2.5h0m5.6 5.4h0m7.1-15.3h0m-18.8-7.8h0m0.6 27.3h0m-4.2-55.4h0m23.4 46.8h0m0.1-32.9h0m-25.1 41.9h0m19.6-7.2h0m-24.9 2.8h0m20.9-35.4h0m0.1 40.3h0m-7.2-9.8h0m0.2-2.5h0m4.8-30.5h0m-0.1 34.9h0m-9.6-23.3h0m-5.4 0.6h0m4.2 19.2h0m-6.6 8.5h0m8.3-6.1h0m7.4 5.4h0m-12.7-4.9h0m-10.6 3.6h0m17.9 2.8h0m-18.3-28h0m20.4-6.5h0m-6.1 16h0m4.4 15.5h0m37.4-12.1h0m-35.3 1.8h0m-15.9 13.7h0m21.4-27.1h0m-9.5 28.9h0m7.3 1h0m1.3-0.5h0m-19.8-7.2h0m46 0.6h0m-22.9 3.5h0m-5.2-11h0m69 2.4h0m-51.3 4.3h0m-8.5-10.6h0m-4.5 3.1h0m-7.9-12.2h0m18.9 18.9h0m-13.7 2.3h0m4.6 5.4h0m-6-5.1h0m13.8-31.3h0m3.5 34.1h0m-21.7-0.9h0m4.5-2.3h0m-6.4-12.5h0m-1.5-2.4h0m-4.5 19.2h0m1-3.9h0m6.9-6.7h0m-1.2-34h0m13.3 29.6h0m-33.5 10.8h0m12.6-3h0m-4.7 4h0m11.3-3.2h0m1.7-2.2h0m-5.4-7.9h0m15.3 16.8h0m-3.6-10.1h0m6.9 8.1h0m-7.2-27.7h0m4.1 25.5h0m-4.8-47.4h0m-4.4 39.1h0m21.3 11h0m24.8-4.9h0m-47.4 3.7h0m23.2-4.1h0m-21.4 1.8h0m4.5 6.5h0m14.1-3.2h0m-14.9-23.8h0m-18.7 25.3h0m10.9-7.8h0m57 0.1h0m-57.4-14.9h0m13-5.5h0m-3.2 6.9h0m-26.5 11.3h0m28.3-20.8h0m14.3 18.4h0m-33.1-26.2h0m9.7 34.1h0m45.1-1.7h0m17.3-12h0m-56.7 8.4h0m9.6 2.8h0m-3.9 8.6h0m-9.8-52.4h0m-2 32.8h0m11.7-7.1h0m-18.8 4.8h0m2.3 19.1h0m16.4 1.7h0m-39.1-7.2h0m32.9-2.3h0m-11.7 9.8h0m16-0.9h0m14.3-0.6h0m-21.9-4.3h0m7.4-2.8h0m3.5-11.1h0m-4.5 0.6h0m12.6 11.5h0m-18.6-9.7h0m23.2 7.5h0m0.9-1.8h0m-24.9 5h0m7.5-10.1h0m-36.6 10.6h0m33.3-11.1h0m-34.7 12.3h0m30.1 5h0m-14.1-10.7h0m36.6 5.8h0m-20 7h0m-10.5-33.7h0m13.4 13.8h0m16.2-6h0m-37.9-8.3h0m-16.8 12.3h0m33.5-2.2h0m0.2-10.1h0m31.9-0.8h0m-31.6 9.4h0m8.2-15.2h0m12.4 34.9h0m-22.7-4.6h0m1 9.8h0m-4.5-19.2h0m-20.8 13.9h0m41.7-57h0m2.2 59.3h0m-0.4-9.4h0m-9.8 2.3h0m-18.4 7.8h0m17.5-26.1h0m6.3 20.7h0m-65.6-26.7h0m47.2 22.7h0m17.8-5.3h0m-17.1 0.1h0m-30.4-1.4h0m50.6 4.7h0m-18.1 11.4h0m12.7-14.4h0m-19.5 5.8h0m3.8-28.6h0m-18 17.2h0m29.3 21.9h0m-6.1-30.8h0m5.9 9.7h0m-39.5-9.4h0m42.9 28.7h0m-33-4.4h0m47.1-5.9h0m-39.5-21.1h0m53.5 23.3h0m-22.6-11.7h0m-16.1-8.3h0m10 27.5h0m-7.7-13.7h0m7.1 16.1h0m-0.3-26.7h0m-32.8 20.1h0m33.9-3h0m-1.5-8h0m-3.1-28.1h0m-10.9 37.1h0m11.3-16.9h0m9.6-17.6h0m-29.3 28.6h0m-26.1-9.2h0m45.9 21.6h0m-0.6-11.4h0m8.1 8h0m29.9-12.7h0m-52.9-4.8h0m11.9 15h0m17.1-10h0m-23 12.8h0m15.6 2.3h0m-4.9-8.6h0m-12.1-1.6h0m15.1-10.3h0m6 13.3h0m-7.7-4.1h0m-35.1-9.3h0m36.5 18.6h0m-2.3 1.7h0m18.1-25.6h0m-26.8-15.1h0m21.1 15.9h0m-44.5 13.9h0m29.6-2.4h0m-15.4-8.1h0m39 10.8h0m-31.4 10.6h0m7.1 0.8h0m1.5-37.1h0m5.2 24.8h0m-1.3-14.4h0m5.5-8.9h0m-13.1 12.6h0m-10.9 9.3h0m23.3 3h0m-8.9 13.2h0m4.6-1.7h0m-5-4.1h0m2.9-28.6h0m-7.1 26.6h0m7.5-5.8h0m26.6 2.9h0m-32 10.4h0m13.9-5.8h0m-40.8 1h0m29-22.2h0m1.1 6.4h0m33.5 13.7h0m-37.5 5.8h0m18.4-30h0m-24-4.8h0m65.7 15.8h0m-55.8-14.9h0m7.2-4.8h0m-24.4 38.5h0m9.4-8.7h0m55.2-5.7h0m-40.4-0.1h0m-3.7 10.5h0m-12.8-23.9h0m0.3 9.3h0m21.4-2.7h0m-18.8-0.8h0m11.6 12.1h0m-1.8-11.3h0m-13.6 12.1h0m3-7.3h0m15.1-2.2h0m1.4 14.8h0m-2.9 1.4h0m-6-26h0m-39.5 24h0m31.2-14.8h0m25 13.9h0m-14.9 4.5h0m-10.9-24.6h0m25.2-0.2h0m-6.4 21.6h0m-23.3-1.9h0m5.2-11.3h0m11.7-32.1h0m-0.6 3.6h0m-8.2-4.4h0m7.2 29.8h0m63.9-13.1h0m-44.3 18.8h0m-34.9 6.3h0m18.5-19.6h0m-0.7 11.1h0m-16.4 16.2h0m-4.4-33.6h0m28.9 23.5h0m-0.5-15.2h0m-21.8 27.2h0m5.4-24.1h0m-27.2-17.7h0m55.3 29.6h0m2.7 3.3h0m-27.9 8.6h0m-15.5-7.3h0m40-18.1h0m-0.3 18.5h0m-11.5-9.4h0m-4.8-8.7h0m-2 15.6h0m-24.1-1.6h0m5 0.9h0m16.9-24.3h0m22.9 18.8h0m-13.3 12.1h0m0-25h0m-37.1 24.6h0m40.5-13.2h0m-14.1 2.5h0m-3.3 14.1h0m26.4-3.3h0m-53.2-1.1h0m24.6 3.1h0m7-21.5h0m-26.8 1.9h0m8.7 12.9h0m22.6 1.5h0m-8.7 5.5h0m27.9-18.7h0m-31.4-11.4h0m-3.7-7.4h0m7.4 38.6h0m0.2-12.8h0m6.1-14.1h0m-26.2-20.7h0m20.1 45h0m-8.3 1.9h0m3.7-28.6h0m10.1 26.7h0m5.6-2.7h0m-1.7-21.9h0m4.2 23.5h0m-28.8-2.9h0m9.7 3.9h0m-4.9-0.6h0m11.9-4h0m1.6 7.1h0m19.9-3h0m-51.1-24.3h0m21 14.5h0m26.2-8.2h0m-22.7-10h0m42.3 14.2h0m-53.1 0.8h0m-3.5 8h0m3.2 7.6h0m8.8-11.8h0m-9.4-32.5h0m25.2 37.8h0m41.9-2.1h0m-63.8 7.5h0m15.8-6.4h0m1.7-23.4h0m-14.2 0.7h0m16.8 31.1h0m-2.3-17.8h0m-6.2 3.7h0m2.2 11h0m8-34h0m-11.1 36.5h0m10.8-14.6h0m-13.7-10.6h0m24.8-18h0m-14.7 43h0m7.5-6.4h0m-35.8 3.1h0m36.1-28.9h0m-14 20.5h0m-3.9 8h0m-7.7-15.1h0m-9 17.3h0m5.7-11.6h0m28.3 7.6h0m7.6-9.7h0m-21.8 13.9h0m0.6-2.2h0m-0.2-0.1h0m-8.7-0.3h0m-15.4-35.3h0m33.6 27.3h0m3.3 8h0m-30.2-4.8h0m23-13.3h0m3.4 0.4h0m-5.3 5.3h0m1.6-8.6h0m-8.9-6.9h0m5.1 19.4h0m-19.6 5.8h0m25.2 0.8h0m-15.4-2.8h0m6.4 7.3h0m5.5-25.5h0m-24 15.2h0m60.8-6.6h0m-27.5 17.1h0m-17.7-12.4h0m-7.6 13.4h0m2.4-50.4h0m17.9 48.1h0m-20.2 1.4h0m-17.2-16.5h0m30.3-3.1h0m-4.1-29.4h0m-15.6 40.7h0m17.1 9h0m-0.6-19.3h0m-0.1 4.3h0m-15.2 9.2h0m28.8-17.8h0m-9 17.4h0m0.6-7.5h0m-7.9-11.2h0m2.2-7.3h0m13.6 5.7h0m-15.8 7.3h0m8.5 14.2h0m5.1-32.5h0m-40.7 24.1h0m24.2-0.6h0m8.5 11.7h0m-9.2-28.3h0m10.9 20.4h0m33.8-0.8h0m-45.9 9.3h0m39.7-13.8h0m-32.5-2.3h0m-4.9-17h0m-4.2 24.2h0m27.3-11.8h0m-14.4 21.9h0m42.4-4.9h0m-24.6-12.1h0m-79.2-0.5h0m30.1-2.9h0m42.6 13h0m-15.4-1.3h0m-1.7-19h0m29.2 19h0m-24.1-1.4h0m-3.6-1.9h0m-4.3-5.7h0m21.6-3.5h0m-17-11.5h0m-4.1 31.4h0m-10.9-11.9h0m-1.7 8h0m40.4-2.3h0m-46.4 3.7h0m42.5 0.1h0m-4.5-17.2h0m-32.6 8.8h0m41 6.4h0m8 0.9h0m-70.8-13.6h0m70.5-2.5h0m-52.9 14.3h0m5-11.4h0m15.3 11.3h0m26.6 4.4h0m-14-18.7h0m-36.4-21.7h0m12 27.2h0m32.5-2.7h0m-12.2 0.4h0m1 20.1h0m3.4-3.4h0m-48-32.3h0m36.4 34.6h0m-0.3-19.6h0m-1.1 17.5h0m-11.3-10.9h0m-9.9-4.8h0m34.2 4.6h0m7.1-12h0m-14 20.3h0m-1.3-15.5h0m-12.6 7.8h0m32.5 4.9h0m-41.4-1.5h0m0.8-9h0m26.5 16.9h0m2.4 1.6h0m3.8-2.8h0m-5.9-30h0m-2.8 22.9h0m-2.3 8.9h0m-29.3-31.7h0m19.4 15.7h0m5.5-17.8h0m0.5 23.9h0m3.1 9h0m-32.3-19.8h0m10.4-18.2h0m30.7 33.4h0m-0.7 4.4h0m-5.2-9.2h0m-13.1-3.6h0m11.8 10.8h0m48.5-44.2h0m-49.1 49.7h0m39.3-15.9h0m-1.4-5.2h0m-43.3 16.3h0m20.7-2.6h0m-16.1-25.5h0m17.8 16.9h0m-14.7-32.2h0m23.9 29.7h0m-16.7-18.8h0m-19.1 29.5h0m17.3-12.8h0m-8.6 1.8h0m-3.4 5.3h0m6.2 6.9h0m-18.5 3.4h0m15.1-7.2h0m-5.5 7.1h0m11.7-14h0m-2.1 8.5h0m8.1-34h0m-6.7 31.6h0m-21.9-9h0m17.1 6.1h0m14.5-20.9h0m-10.2 17.5h0m-47.8 0.9h0m43.5-19.6h0m30.6 22.5h0m-81.5-1.2h0m21.1-20.5h0m23.7 9.6h0m9.3-33.3h0m11.8 56.4h0m-15.2-26.7h0m6.3 18.2h0m-15.3 2.6h0m15.7-0.3h0m-25.6-22.8h0m29.2 26h0m-13.7-16.7h0m-5.8 17.6h0m10.1-12.7h0m-5.1-24.1h0m24 24.1h0m-33.4 6.6h0m1.4 3.7h0m-1.9-12.8h0m35.4 5.3h0m-9.5-6.2h0m-1.5-7.8h0m-32-4.3h0m10 30.7h0m-9.4-3.5h0m41.2-17.7h0m30.3 11.4h0m-50.4-24.7h0m3.3 27.5h0m-12.7 5.1h0m3.3-40.8h0m-3 37.8h0m18.9-22h0m3.4 8.7h0m-69.9 7.3h0m68.3 9.9h0m15.1-2.2h0m-23.5-26h0m-10.5-17.8h0m17.9 29.5h0m-17.5 10.8h0m10.9-0.1h0m-20.6 6.4h0m30.3-23.7h0m-37.1 16.7h0m-19.3-17.6h0m37.7-14.1h0m13.1 33.4h0m-11.1-1h0m28.2-2h0m-25.1-37.7h0m-11 45.1h0m22.1-15.5h0m7.3-8.5h0m-21 26.1h0m-5.8-9.9h0m-25.9-34.2h0m18.7 27.9h0m12.2 7.7h0m14.4 2.8h0m-28.5 2.6h0m9.2-3.8h0m4.6-35.3h0m7.2 22.2h0m-19 11.7h0m30.8-6.6h0m-20.7 13.5h0m-22-10.1h0m32.5-20.1h0m0.2 18.8h0m-25-4.4h0m9.9-23.6h0m-27.3 28.1h0m60.5-22.2h0m-23-17.2h0m-18.5 47.2h0m14.1-28.3h0m20.9-3.4h0m-41.1 33.7h0m18.6-13.4h0m-11.3-7.9h0m50.9 5.8h0m-34.5-3.6h0m-37.4 9h0m17.9 5.4h0m3.8-40.4h0m20.3 17.1h0m-24.8 27.6h0m23.4 1h0m11.7-21.4h0m-10.3 17.7h0m-17.8-3.2h0m18.9 4.2h0m2.8-38.6h0m-12.6 35h0m46.2-2.8h0m-10-4.8h0m-35.1 3.4h0m-9.8 9.5h0m45.4-11.7h0m-22.9 5.1h0m-21.1-2.4h0m-34.5-2.5h0m50.1-6.7h0m-7.1 20.9h0m23.8-28.1h0m-5.3 27.1h0m-25-11.4h0m19.7-10.7h0m8.6-10.3h0m-13.9-13.7h0m-10.4 5.3h0m18 41h0m-12.1-15.5h0m-4.5 18.3h0m-2.8-8.1h0m6.9 5.2h0m33.5-5h0m-22.5-0.1h0m-28.7-3.5h0m-3.4-9.6h0m16.6-2.1h0m-5 21.3h0m0.1-6.4h0m14.1-9.3h0m-3.2 13.5h0m-4.4-1.6h0m22.6-5h0m-40.5-14.6h0m14.1 10.6h0m35-26.1h0m-33.4 38.8h0m51.7-6.7h0m-1.8-6.9h0m-44.3 3.5h0m-11.5 4.5h0m19-34.4h0m-32 32.1h0m51.2-2.7h0m-30.7-13.5h0m29.8 13.9h0m-29.1 11.9h0m-9.5-50.6h0m3.8 39.9h0m-3-0.2h0m13.8-22.4h0m-7.3 29.2h0m19.9-6.9h0m-10.9-23.8h0m-18.4 32.4h0m14.7-29.7h0m18 19.7h0m-25.7-5.2h0m7.6-15.5h0m6.1-23.3h0m-13.9 49.7h0m14.6 1.3h0m-12.4-8.1h0m17.7 3.6h0m-15.4-22.1h0m6.6 22.5h0m5.2 7.4h0m-5.1-24.2h0m-9.1 20.4h0m8.2 4h0m-2.2-51.4h0m-1.4 53.8h0m0.8-11h0m2.5 6.5h0m4.8-17.9h0m-21 17.3h0m24.7-1.8h0m-3.4-0.2h0m-5.6 2.8h0m11.9 0.5h0m-3.9-52.1h0m-8.8 54.4h0m34.8-25.9h0m-36.5 24.1h0m1.9-0.4h0m-4.1-4.6h0m-0.1 5.7h0m2.4-2.6h0m12.8-27.5h0m11.9 26.3h0m-40.6 0.1h0m5.9 0.2h0m10.4-17.4h0m-3.5-0.7h0m4.2 23.1h0m-0.3-25.3h0m-20.4 13.3h0m31.3 3h0m-24.7 0.8h0m3.5 2.4h0m-8.4 1.6h0m25.3-7.7h0m-18.1-30.1h0m7.2 14.6h0m-7.1 23.3h0m8.2-19.6h0m-9.2 6.6h0m41.6 8.6h0m-13.8-33h0m-4.3 32h0m-3.7 2.3h0m3.8-24.8h0m-16.8 31.7h0m44-12.9h0m-11.5-2.9h0m-34.5 1.4h0m8.4-19.3h0m12.4 22.1h0m-28.2 9.3h0m42-1.9h0m-32.2-33.3h0m-2 32.1h0m0.2-23.9h0m-14.7 20h0m-2.8 5h0m33.2-6.7h0m-2.5 6.9h0m-12.5-19.7h0m16.7 2h0m16.8-1.2h0m-12.6 21.6h0m5.8-2.8h0m-31-0.9h0m-3.6-4.4h0m11.9 8.3h0m4.2-40.1h0m11.7 25.3h0m-24.4 16h0m24.4-6.4h0m-13.3-13.8h0m-8.5 17.4h0m28.1-22.3h0m-18.5 21.5h0m-25.9-18.2h0m20.6 10.6h0m-7.6-2.3h0m23.6-28.8h0m25.1 32.7h0m-32 0.5h0m-29.3-12.9h0m10.4 19.9h0m4.3-2.1h0m-21.8-34.1h0m27.4 31.6h0m-1.6-3.8h0m11.1 9.8h0m-4-16.3h0m0.9 15h0m-7.4-5.9h0m-3.9-21.7h0m-8.4 25.5h0m27.5-14.7h0m-22.9 4.3h0m48.3 5.2h0m-41.2-25h0m-4.2-44.2h0m15.7 21.8h0m-10.4-10.7h0m-9-27h0m27.9 12.4h0m0-2.8h0m0-15h0m-26.7-6.8h0m13.5 31.5h0m0.8-3.3h0m-11 10.4h0m21.3-36.9h0m-4.3 48.1h0m-24.2-4.9h0m1.9-47.5h0m14.2 52.3h0m-10.2-27.3h0m1.6 20.2h0m23.1-10h0m-21.6 9.2h0m11.2-13h0m-12.5-3.7h0m11.8-43.6h0m-3.2 63.3h0m-11.3-12.4h0m3.8 3.6h0m8.1-8.7h0m-14.4 20.6h0m-4.7 1.7h0m14.4-1.4h0"/>
<path stroke="#1f1fff" d="M325.7 97h0m-2.5 33.9h0m8.3-11.3h0m5.8 17.6h0m-0.6 0.4h0m-20.7-21.1h0m-4.3 8.1h0m19.6-6.3h0m1.7 19.5h0m-0.3-24.9h0m-8.3 25.3h0m10.4-6.9h0m-25.7-23.6h0m24 28h0m-19.2-14.1h0m-15.7 12.2h0m0.6 1.4h0m25.5-16.5h0m6.6 18.7h0m6.2 0.1h0m-36.9 0.3h0m32.6-31.3h0m1.7 28.4h0m2.1-28.4h0m-19.1 29.5h0m-16.8-15.1h0m-20.9 13.4h0m39.2-39.9h0m17.5 19.9h0m-0.5 22.2h0m-1.2-1.1h0m-1.2-2.5h0m-6.1-17.6h0m4.6 18.1h0m3.3-13.2h0m-14.9-0.6h0m-27.8 4.6h0m30.8 11.7h0m4 1.1h0m1.1 0.7h0m-41.8-12.6h0m21.6 9.2h0"/>
<path stroke="#ff1f1f" d="M420.7 135.4h0m-43.7-1.7h0m3.3 2.6h0m0.5-3.3h0m-2.5-9.4h0m9.6 13.4h0m-11.7-1h0m3-7.1h0m-1.2-38.5h0m-4.5-4.9h0m27.6 34h0m-3.3 5.4h0m-21.7-12h0m10.9 15.6h0m1.6 4.1h0m-10.8-12.4h0m6.1 13.9h0m-10.1-0.8h0m17.7-1.2h0m-9.7-16h0m-2.7-17.9h0m33.7 40h0m-25.7-4.8h0m18.6-42.1h0m-24.1 45.3h0m-1.2-34.7h0m-6.5 16.7h0m2.4 16.2h0m24.7-0.4h0m-23.4-13h0m12.3 15h0m32-25.5h0m-43.4 22.3h0m-0.1-6.3h0m10.8 11h0m-16.4-31.9h0m0.3 32.2h0m4.1-10.5h0m11.7 3.4h0m-8.9-12.3h0m-6.5-41.5h0m0.6 35.7h0m4.9 13.7h0m27.6 10.8h0m-20.5-2.3h0m-13.3-9.5h0m2.6-9.3h0m5.2 20.9h0m4.4-8.1h0m3.3 6.4h0m-14.8-29.7h0m7.3 31.2h0m1.8-29h0m28.1 12.2h0m-36.6 14.3h0"/>
</g>
<line x1="338.0" y1="20.3" x2="338.0" y2="205.3" stroke="#bdbdbd" stroke-width="2" stroke-dasharray="9.6 10"/>
<line x1="372.2" y1="20.3" x2="372.2" y2="205.3" stroke="#bdbdbd" stroke-width="2" stroke-dasharray="9.6 10"/>
<line x1="266.2" y1="139.2" x2="444.9" y2="139.2" stroke="#bdbdbd" stroke-width="2" stroke-dasharray="9.6 10"/>
<rect x="266.2" y="17.3" width="178.7" height="188.0" fill="none" stroke="#333" stroke-width="1.3"/>
<line x1="263.7" y1="197.2" x2="266.2" y2="197.2" stroke="#333" stroke-width="1"/>
<text x="261.9" y="200.8" font-size="10" fill="#4d4d4d" text-anchor="end">0</text>
<line x1="263.7" y1="152.6" x2="266.2" y2="152.6" stroke="#333" stroke-width="1"/>
<text x="261.9" y="156.2" font-size="10" fill="#4d4d4d" text-anchor="end">1</text>
<line x1="263.7" y1="108.1" x2="266.2" y2="108.1" stroke="#333" stroke-width="1"/>
<text x="261.9" y="111.7" font-size="10" fill="#4d4d4d" text-anchor="end">2</text>
<line x1="263.7" y1="63.6" x2="266.2" y2="63.6" stroke="#333" stroke-width="1"/>
<text x="261.9" y="67.2" font-size="10" fill="#4d4d4d" text-anchor="end">3</text>
<line x1="263.7" y1="19.0" x2="266.2" y2="19.0" stroke="#333" stroke-width="1"/>
<text x="261.9" y="22.6" font-size="10" fill="#4d4d4d" text-anchor="end">4</text>
<line x1="267.5" y1="205.3" x2="267.5" y2="207.8" stroke="#333" stroke-width="1"/>
<text x="267.5" y="216.4" font-size="10" fill="#4d4d4d" text-anchor="middle">−3</text>
<line x1="296.7" y1="205.3" x2="296.7" y2="207.8" stroke="#333" stroke-width="1"/>
<text x="296.7" y="216.4" font-size="10" fill="#4d4d4d" text-anchor="middle">−2</text>
<line x1="325.9" y1="205.3" x2="325.9" y2="207.8" stroke="#333" stroke-width="1"/>
<text x="325.9" y="216.4" font-size="10" fill="#4d4d4d" text-anchor="middle">−1</text>
<line x1="355.1" y1="205.3" x2="355.1" y2="207.8" stroke="#333" stroke-width="1"/>
<text x="355.1" y="216.4" font-size="10" fill="#4d4d4d" text-anchor="middle">0</text>
<line x1="384.3" y1="205.3" x2="384.3" y2="207.8" stroke="#333" stroke-width="1"/>
<text x="384.3" y="216.4" font-size="10" fill="#4d4d4d" text-anchor="middle">1</text>
<line x1="413.5" y1="205.3" x2="413.5" y2="207.8" stroke="#333" stroke-width="1"/>
<text x="413.5" y="216.4" font-size="10" fill="#4d4d4d" text-anchor="middle">2</text>
<line x1="442.7" y1="205.3" x2="442.7" y2="207.8" stroke="#333" stroke-width="1"/>
<text x="442.7" y="216.4" font-size="10" fill="#4d4d4d" text-anchor="middle">3</text>
<text x="356.1" y="227.2" font-size="10" fill="#1a1a1a" text-anchor="middle">log<tspan font-size="7" dy="2">2</tspan><tspan dy="-2">FC</tspan></text>
<text transform="translate(250.0,108.5) rotate(-90)" font-size="10.3" fill="#1a1a1a" text-anchor="middle">−log<tspan font-size="7.5" dy="1.5">10</tspan><tspan dy="-1.5">P-value</tspan></text>
<text x="275.0" y="47.0" font-size="11.5" fill="#1a1aff">42 proteins</text>
<text x="383.0" y="47.0" font-size="11.5" fill="#ff1a1a">55 proteins</text>
<clipPath id="cv2"><rect x="498.8" y="17.2" width="178.6" height="188.2"/></clipPath>
<g clip-path="url(#cv2)" fill="none" stroke-linecap="round" stroke-width="2.6">
<path stroke="#686868" d="M601.8 135.9h0m-6.8 25.7h0m-23.9 23.5h0m8.9-3.5h0m9.8-38.6h0m-0.4 34.5h0m-8.7-0.1h0m14.5-24.7h0m-9.9 36.3h0m0.9-41.7h0m32.4 15.9h0m-45.2 12.9h0m17.5 0.7h0m-9 5.7h0m-3 3.9h0m18 5.9h0m2.3-28.3h0m-34 13.9h0m37.2 4.9h0m3.3-20.8h0m-20.1 33.5h0m18-32.2h0m-20.5 5.6h0m2.3 24.5h0m-13.8-15.2h0m28.2-3.1h0m-9.9 15.3h0m-5.1-2.5h0m-7.4-17.4h0m7.8-28.7h0m4.1 45.3h0m8.7 4.1h0m-1.5-33.2h0m0.8 24.7h0m21-25.5h0m-23.7 30.3h0m-17.4-2.2h0m-0.1-27h0m24.4 28.9h0m-8.7-1.7h0m11.8-4h0m-12.5 9.3h0m8.2-18h0m-26.4 12.2h0m9.8 7.3h0m24.4-55h0m-11.3 52.4h0m1.5-18h0m-12.1 8.1h0m-10.6-31.2h0m39.1 29.2h0m-23.8-9.8h0m-35 12.7h0m22.5-16.7h0m7 19h0m13.9-11.4h0m-13.9 13.3h0m16.7-30.4h0m-18.1 2.3h0m1.3 32.6h0m0.7 0.4h0m3.3-6.2h0m-3.6 10.7h0m4.3-33.8h0m15.3 25.7h0m-24.7-32.3h0m21.3 36.5h0m-16.6-4.1h0m0.4-0.8h0m7.3 8.7h0m-13.4-6h0m25.6-3.6h0m-25.5-13.4h0m6.5-30.5h0m9.7 16h0m16.9-4.7h0m-34.8 37.5h0m3.3-41.8h0m-13 13.9h0m22.2 18.4h0m23.7 2.5h0m-16.3 9.6h0m-3.7-5.5h0m-4.3-24.8h0m5.9 18.2h0m18.8-1.9h0m-28.7 9.4h0m19.7-20.3h0m-12.5 15.8h0m-0.2 2.9h0m-6.9 1.2h0m-1-5.9h0m6.4 1.1h0m5.9-25.7h0m-11.2 24.4h0m4.1-31.8h0m-26.8 21.2h0m33.1 9h0m-7.3 11.3h0m-3-15.1h0m3.2 7h0m6.8-24.7h0m-20.1 27.5h0m31.7-17.9h0m2.5-1.5h0m-17.3 26.7h0m-8-17.9h0m5.9-2.8h0m-26.7-8.6h0m27.9 15.4h0m2.1-37.9h0m-1.9 40.7h0m2.4 10.8h0m-4.2-9.4h0m7.2 3.3h0m-30.4 1h0m23.7 4.6h0m3.5-4.3h0m-14.7 1.4h0m2.1 1.1h0m8.6-25.1h0m5.7 12.1h0m16.1-14.3h0m-22.5 3.7h0m5.8 14.7h0m0.9-13.6h0m-40.1 5.6h0m36.9 9.4h0m-7.2-36.5h0m17.3 26.1h0m-11.9 2.1h0m76.2-18.1h0m-86-16.5h0m9.6 15.8h0m-5 26h0m15.2-10.5h0m-28.8 10.5h0m17-9.4h0m0-12h0m-5.6 33.8h0m7.8-30.3h0m-8.3-11.5h0m24 8.1h0m-18.3 12.3h0m0.2-9.5h0m9.6 15.4h0m-14.5 15.8h0m34.9-56.9h0m-29.4 39h0m0.5 10.5h0m7 3.4h0m-22.7 1.4h0m7.6-40.6h0m27.5 22.9h0m-1.4 11.7h0m-19-0.7h0m-12.1-31.6h0m11.9 37.1h0m-4.3 4h0m11.3-14.8h0m-10.5-44.9h0m-8.6 38.1h0m14.7 18.8h0m-5.7-27.5h0m-9.4 19.3h0m2.5-10.3h0m4.6-7.6h0m17.6 17.9h0m-19.6-15.4h0m20.7 0.6h0m2.2 15.4h0m-19.1-3.7h0m11.8 7.2h0m0.3-9.5h0m-5.3-24.2h0m-2.6 24h0m10 11.2h0m0.1-9.9h0m-10.2 16.3h0m7.5-26.6h0m-6.5 21h0m16.1-9.2h0m-22.6 1.9h0m23-2.8h0m-16.1 12.9h0m6.9-8.4h0m-29-8.5h0m-16.3-6.1h0m22.3 13h0m9.2-12.4h0m6.2 16.7h0m11.7-6.8h0m3.4 4.1h0m-10.8-6.6h0m-17.1 1.2h0m29.3 6.8h0m-25.3-1.2h0m14.2-0.7h0m-11.2-9.1h0m1.1-1.4h0m9.8 13.1h0m-5.4-47.8h0m-16.9 49.3h0m34-1.8h0m-17.9 9.5h0m-0.2-44h0m0.2-3.3h0m7.9 42.3h0m-32-23.4h0m29.4-2.4h0m16.8 0.9h0m-26.6 20.8h0m15.2-35.6h0m3.2 23.6h0m-0.2 6.9h0m5-0.1h0m-17.3 9.8h0m1.8-14.8h0m-11.3-0.6h0m-7.6 2.6h0m21.9-13.1h0m0.4 25.8h0m-3.5-30.8h0m-1.5 21.8h0m-6.2-26.3h0m0.9 30.1h0m22.5 0.6h0m-0.9-0.2h0m-6.2-39.8h0m-11.9 39.5h0m10.5 3.7h0m-27.2-35h0m23.4 19.3h0m-6.4 15.6h0m14.4-5.9h0m-29.1-9.8h0m-4.9 5.8h0m20.8 7.3h0m-0.1-14.4h0m0.1 13.8h0m-1.4-2.2h0m-3.7 4h0m6.2-7.7h0m13.8-15.2h0m-14.8 11.9h0m4.8 15h0m-3.3-34.6h0m5.4-7.5h0m0.6 39.2h0m-0.1 3.4h0m-8.1-28.9h0m-13.3-1h0m16.5-4.3h0m-1.6 25.6h0m-24.4-11.6h0m33.5 14.9h0m-11.6-25.5h0m5 29.7h0m-4.8-12.1h0m-8.1 10.2h0m5.2 2.3h0m2.4 2.6h0m1.4-14.1h0m-1.1 3.2h0m0.3-24.6h0m9.2 18h0m-10.2 18.2h0m-23.4-9.6h0m18.9 0.7h0m-11.5-20.7h0m19.7-15.3h0m-9.7 0.2h0m14.7 37.5h0m-30.1-0.4h0m28.7-8.5h0m-10.3-4.5h0m3.9 6.7h0m11.2 6.3h0m-27.8-3.3h0m13.4-49.6h0m8.9 24.5h0m-13.7 32.1h0m15-13.7h0m-4 8.1h0m0.6 3.6h0m-9.3-4.1h0m-3.4 1.8h0m-10.6-11h0m36-19.5h0m-4.8-2.6h0m6.2 35.1h0m-25-2.6h0m20.7 1.7h0m17.6-37.4h0m-40.9 22.3h0m10.1-1.6h0m-0.4 7.7h0m7.9-5h0m-8.7 21.4h0m10.7-51h0m-13.6 50.3h0m2.9 0.6h0m-2.2-23.5h0m3.5 17.6h0m0.8-11.7h0m-11.3 7h0m2.9-0.5h0m-15.9-0.9h0m16.2-30.8h0m21.5 17.3h0m-31.9 9.7h0m12.1 11.9h0m23.3-22.2h0m-17.5-4.7h0m-5.6-2.8h0m1.9 25.1h0m3.4-59h0m-20.1 29.9h0m9.3 8.7h0m19-4h0m-40.8 14.8h0m46.2 1.7h0m-55.8-0.9h0m54.3 5.3h0m3.5-21h0m-26.8 5.5h0m15.2-20.4h0m10.4 11h0m-28.8 22.1h0m14.8 9.4h0m9.1-25h0m5 1.3h0m1.9 18.3h0m-15.2 10.3h0m-8.5-55.7h0m13.3-4.8h0m3.4 51.9h0m-49.5-20.8h0m25.8 7.1h0m33.1 5.7h0m-35.2 6.6h0m10.4-49.5h0m-1.1 58.6h0m-8.3-3.5h0m34.3-21.7h0m-34.4 5.6h0m7.8-9h0m-4 15.6h0m3.4-22.3h0m-4.9 19.6h0m38.2 5.5h0m-23-3.6h0m-9.2 10.4h0m6.8-32.8h0m12.5 30.8h0m-0.4-44.3h0m0.2 12.3h0m-10.8 31.9h0m-20.6-25.7h0m1.3-20.5h0m23.6-3.3h0m-1.8 50.7h0m-18 0.9h0m-6-6.7h0m3.9-15.3h0m7.3-11.7h0m35.2 25.5h0m-18.5 5.5h0m11.6-8.5h0m-12.6 0h0m-18.3-0.9h0m12.8 17h0m-13.3-17.4h0m16.9-39.5h0m-5-0.2h0m0.1 47h0m-5.5 3.1h0m-4.9-5.6h0m50.1-9.5h0m-53.2-8.8h0m17.5 7.9h0m-2.5-6.6h0m-13.5 4.6h0m6.7-4.8h0m-8.3 22.3h0m18.4-36.6h0m-25.6 2.4h0m25.7 19.9h0m5.3-5.7h0m-39.9 16.9h0m38.5 5.4h0m-11.8-27.9h0m8.9-10.3h0m11.8 21.1h0m-28.5 7.6h0m17.2-10.8h0m-18 11.1h0m37-3.8h0m-30.1 13.9h0m-11-31.9h0m8.6 25.6h0m12.9-52.5h0m-5.5 15.5h0m26.2 32.1h0m-7.2-13.8h0m-25.2 13.2h0m-4.2-3.8h0m5.7-15.2h0m-0.7-34.3h0m13.1 28.7h0m-6.8 37.7h0m-4.9-19.9h0m14.5-0.1h0m-8.3-7h0m-1.6 23.9h0m-13.4-4.8h0m6.2-11.1h0m14.4 4.3h0m-15.8-4.2h0m-11.6 3.6h0m19.3 7.5h0m1.1-1.1h0m-6.1 9.7h0m6.1 1.6h0m-10.1-22.7h0m1.8 0.4h0m-1.9 16.4h0m9.1-1.2h0m-7.9-6.1h0m-3.5-43.9h0m16.2 52h0m12-11.3h0m-15.9-9.3h0m-21.5 14.6h0m23.4-26.2h0m-1.9 33.2h0m-1-39.8h0m-7.2 28.1h0m38.7-3.3h0m-31 8.6h0m3.6-18.7h0m-34.3 11.7h0m32.3-5.5h0m6.7-16h0m-22.8 5.9h0m24 29h0m-13.4-62.2h0m5.7 53.6h0m-0.9 11.6h0m12.5-11h0m-13.8-14.9h0m-7.8 16.8h0m8.4-36.4h0m-4.1 32.7h0m-4.4-16.6h0m-2.7 26h0m15.5 0.8h0m1-3.3h0m-4.9-13.9h0m-22.3 9.8h0m15.5 11.1h0m7.1-21.4h0m6.8 5.1h0m-21.3-27.3h0m23.2-9h0m30.6 30h0m-45.3-39.8h0m12.8 49.2h0m-4.9-35.5h0m-12.3 38.7h0m9.4 5.1h0m36.7-10.2h0m-44.1-6.2h0m4.1 1.6h0m-0.9 0.3h0m-7.6 9.6h0m-4.9 0.5h0m8.1-39.9h0m29.4 16.7h0m-17.6-32.6h0m-18.9 28.9h0m40.1 20.6h0m-23 15h0m-4.5 1.8h0m-0.3-19.9h0m-2.4 16.2h0m2-11.3h0m15.7-13.3h0m-17.6 22.2h0m-12.4-2.9h0m7.7-36.9h0m24.3 25.6h0m-13.9-22h0m8.6 0.4h0m-6.8 27.2h0m-5.5-16.1h0m11.5 22.9h0m-13.9-15.6h0m6.6-14.9h0m3.5 26.6h0m-3.3-18.4h0m-10.7-33.3h0m-1.4 60.5h0m7.9-34.4h0m6.7-9.4h0m1.6 28.6h0m1.8 10.4h0m-7.7 7.7h0m-2.5-13.9h0m-4 11h0m14.7-2.1h0m-13.7-2.8h0m-17-10h0m26.7-44.7h0m-31.1 49h0m35.3-15.8h0m-5.9 22.5h0m-7.2-8.1h0m1 9.3h0m-13.7-10.3h0m30.9 10.5h0m10.3-20.4h0m-31 20.6h0m26-6.2h0m-22.4-0.7h0m-4-5h0m11.1-2.6h0m-1.9 10h0m0.6-27.1h0m0.9 17.8h0m-0.2 8.8h0m-1.9-15.8h0m-0.1-8h0m-3-16h0m-2.8 44.5h0m5 3.3h0m-2.6-1.5h0m-2.3-4.7h0m10.7-4.6h0m18 1.1h0m-20.3-5.6h0m3 7.1h0m-4.2-37.3h0m8.7 37.3h0m-17-33.9h0m-6.5 39.6h0m18.3-4.6h0m-15.7-7.7h0m13.9 6.5h0m0.3-23.7h0m-11.7 16.9h0m8.3-37.2h0m19.1 18.3h0m-22.7 8.3h0m12.7-16.1h0m-19.8 21.6h0m10.6-1.4h0m-6.3 22.8h0m17.7-10.5h0m8.9-15.6h0m-25.6-9.7h0m2.3-10.2h0m8.1 25.6h0m-1.2 10.7h0m21.9-3.8h0m-29.7-2.7h0m5.5 13.4h0m27.4-12.5h0m-36.3 11.4h0m14.2-22.3h0m-4.8 9.6h0m-1-23.7h0m-11.7 26.6h0m10.9-55.8h0m-3.8 54h0m-4.6-25.9h0m18.4 21.9h0m-9.7-17.8h0m-3.7 19.7h0m-13.3-5.5h0m12.8 11.3h0m11-36.7h0m7.9 27.9h0m-14.9-4.6h0m10.8-34.5h0m13.7 30.8h0m-40.4 16.1h0m15.5-12.5h0m-0.1 19.5h0m-16.2-3.5h0m16.6-23.9h0m-6.8 4.9h0m24 10.7h0m-13.2 1.1h0m2.7 2.3h0m-3.9-44.4h0m2.1 29.8h0m14.6-19.1h0m-14.2 40.4h0m-4.6 0h0m0-18.2h0m-10.3 21.7h0m-8.3-45.5h0m8.4 26.3h0m-5.5 10.8h0m2.6 8.9h0m13.6-10.9h0m-1.2-28.6h0m11.1 28.1h0m20.7-1.4h0m-31.6-7.1h0m-16.6-32h0m16 14h0m-4.8 37.9h0m-8.7-1.6h0m6.2-33.3h0m-3.2 36.7h0m19.3-3.9h0m-6.7-18.8h0m10-21.7h0m-0.3 24h0m-15.3-12.3h0m8.8-4.7h0m8.2 5.7h0m-31.8 25.6h0m23.3 5.4h0m-14.9-17h0m15.2 11.9h0m-5.3-6.1h0m-20 6.8h0m16.7-30.3h0m-3.7 6.2h0m14.4 14.1h0m-10.6 3.1h0m3.4-9.1h0m16.9-9.5h0m-15.1 17.4h0m1.4 10.8h0m-6.2 2.5h0m17-22.6h0m6 16.9h0m-1.6 0.4h0m-33.5-22.2h0m7.2-19.8h0m-2.1 43.5h0m-15.1-3.5h0m15.6-2h0m56.3-7.8h0m-50.4 3.9h0m3.4 2.1h0m-13.9-49h0m46.2 27.5h0m-27.8 32h0m15.3-55.6h0m-23.7 14.2h0m7.1 28h0m-6.3 6.2h0m17-9.1h0m-16.1 17.4h0m14.7-11.3h0m-12.2 3.6h0m-4.4-1.6h0m-4.8-5.9h0m-0.3-43.3h0m0.4 6.2h0m13.3 43.1h0m7.4-28.1h0m-1.5 15.8h0m-24 9.9h0m7.1 1.2h0m15.2-22.4h0m21.8-6.9h0m-30.4-1.8h0m-3.1 35h0m-0.5 2.2h0m8.6-40.9h0m-10.8 17.2h0m2.5-12.5h0m6.5 30.6h0m-21.5-21.2h0m31.9 24.9h0m-7.6-23.5h0m-10.6 21.8h0m-1.1-0.8h0m1.9 9.6h0m16.9-11.1h0m-10.5 10.1h0m-17.1-14.1h0m17-9.5h0m-23.4 12.2h0m7.4-14.3h0m34.5 10.2h0m-26.9-31.2h0m-2.6 37.3h0m3.7-10.1h0m6.9 20h0m5.3-60.4h0m-0.7 36.8h0m-10.5 19.5h0m3.6-14.6h0m-8.6 1.1h0m34.4-15.5h0m-25.7-17.1h0m-11.6 23.2h0m-0.2 22.6h0m13.7-0.2h0m-1.5-19.5h0m-9.8 14.6h0m1.4 4.4h0m19.2-2.4h0m-10-56h0m-4.5 24.8h0m0.4 39.9h0m11.1-31.1h0m6.8 20.3h0m-22.8-0.6h0m5.1 9.4h0m-0.4-54.4h0m7.1 54.2h0m-9.4-0.8h0m6.5-28.8h0m4.7 22.7h0m0.5 4.2h0m-22.2-19.3h0m8.2 16.5h0m19.4-1.3h0m-19.6 5.2h0m25.3-53.2h0m-33.2 10.7h0m12.8 30h0m-6-16.1h0m2.9 22.3h0m14.9-29.9h0m-6.7 29.5h0m-9.4 3.6h0m23.3 0.5h0m-9.3-16.1h0m6.4-10.1h0m12.4 10.7h0m-20.6 11.2h0m-19.4 5.1h0m2.2-9.3h0m0.6-6.3h0m24.8-10.5h0m-6 22.5h0m-10.1 0.3h0m7.5-51.4h0m1.5 31.6h0m-12.6-12.1h0m8 25.4h0m-5.3-5.7h0m5.3-20h0m-4.5 28.3h0m-2.6 3.3h0m15.2-17.7h0m-33.2 15.6h0m20-39.3h0m8.8-14.6h0m-15.1 55.8h0m22.1-7.2h0m0.5 6.2h0m14.3-0.9h0m-24.7-3.5h0m-7.1 10.7h0m-0.3-5.3h0m2.1-4.3h0m0.1-0.5h0m-0.5 15.1h0m4.8-24.1h0m-25.2-3.5h0m31.9 7.9h0m-22.1 5.4h0m18.8 3.1h0m-4.6-10.2h0m0.6 3.1h0m-7.5 4.3h0m3.6 2.1h0m17.8-5.1h0m0.5-13.9h0m-15.1 24.8h0m8.9-16.9h0m-23.7 14.2h0m4.5-7.5h0m26.9-2.9h0m0.1 3.9h0m-19.2 15.5h0m-4.6-49.5h0m21.9-11h0m-14.8 25.1h0m-21.2 27.8h0m22.2-35.4h0m5.3 23.8h0m-8.6 17h0m17.4-20.7h0m-36-15.8h0m30.3 7.3h0m-3.2 9.6h0m2.3-8.1h0m-14.8 11.7h0m11.7-3.8h0m-12-35.8h0m-16.7 46.6h0m22.4 11.1h0m-10.6-16.2h0m7.1-37.3h0m-16.4 44.3h0m21.5-12.8h0m-5.8-0.3h0m0.7-8.7h0m4 29.8h0m-5.8-8.1h0m-1.2-19.3h0m65.4-17.5h0m-55.1 25.8h0m-29.3-10.8h0m13 18.2h0m0.9 8.1h0m12.6-65.3h0m-15.8 61.4h0m17.5 4.6h0m9.1-34.3h0m-0.3 33.8h0m-5.7-0.1h0m-4-2.7h0m1.1-43.5h0m12.3 27.1h0m-11.8 16.8h0m-12.1-8.8h0m38.8-2h0m-9-10.3h0m-28.4-7.8h0m18 8.3h0m7.1-30.2h0m-21.5 34.5h0m0.5 23.1h0m-12.7-50.1h0m-6.2 17.9h0m25.3 4.7h0m-23.5 3h0m23.9-0.5h0m4.4 19.9h0m-17.2-35.1h0m0.7 38h0m4.9-19h0m-24 10.8h0m34.6-16.3h0m-9.8-29.9h0m29.2 42.5h0m-19.2-29.5h0m-4.6 36.7h0m26.5-7.1h0m-24.6-21.4h0m7.9 5.3h0m-0.3 13.1h0m-6 12.2h0m-22.5-4.1h0m21.5-8.6h0m-7.9 4.9h0m24.7-0.5h0m-20.9-28h0m7.7 36.8h0m-17-1.1h0m27-34.2h0m-8.6 25.8h0m-37.6-3.2h0m15.4 3.6h0m9.7-44.9h0m3.8-4.1h0m-11.7 25.7h0m13.5-14.6h0m-5.6 35.3h0m15 4.8h0m-5.9-3.1h0m-18.4 8.6h0m40.3-21.3h0m-11.1 2.6h0m-21.6-22.4h0m1.7 46.1h0m-10-12h0m11.5 13.2h0m7.4-3.9h0m-8.6-51.1h0m-8.2 40.2h0m11.2-1.3h0m28.8-2.2h0m-49.1 1.7h0m12.4 3.5h0m4.9-8.8h0m-5.4-27.1h0m-5 36.2h0m9.9-11.9h0m14.1-6.3h0m-61.6-20.1h0m44.2 38.7h0m6.9 4.3h0m5.6-2.1h0m-19.1-14.2h0m7.4 16.8h0m11.5-4h0m-9-2.2h0m-7.6 4.8h0m23.8 3.1h0m-26.7-15.2h0m34.8 11.6h0m-25.1-1.7h0m25.1-14.1h0m-9.4 11h0m4.7-18.4h0m-31.8 25.7h0m15.7-14.3h0m-12 7h0m8.6 10.7h0m27.3-10.5h0m-36.4 1.3h0m8 4.6h0m14.9-2.4h0m-16.2-2.6h0m-0.4-7h0m10.9 15.8h0m6.9-41.6h0m-15.3-0.5h0m-11.9 15.1h0m7.2-3.5h0m11.3 33.1h0m-1.1-13.2h0m-18.1 6.7h0m4.4-8.8h0m5.1-18.9h0m7.6 32.6h0m-1.6 1h0m10.8-48.8h0m7.6 37.9h0m-31.3-3.8h0m19-23.8h0m-8.2 16.9h0m5.8 15.8h0m-8.1-30.5h0m-14.9 20.4h0m7.9 0.3h0m8.3 3.3h0m-5.1-26.2h0m-4.6 32.2h0m20.7-8.1h0m-23 3.1h0m12.2 2.9h0m17.9-20.8h0m-9.3 22.7h0m4.2-15.7h0m6.6 16.3h0m-7.6-12.7h0m6-21.7h0m-18.3 24.9h0m-12-8.7h0m2.1 20.8h0m3.6-23.9h0m6.1 26.4h0m5.8-42.6h0m-4.3 18.8h0m-0.2 20.3h0m8.3-6.9h0m1.8-9h0m-17.2-0.3h0m9.8 19.3h0m8.8-34.3h0m-2.4 30h0m5.1-18.9h0m-14.3 18.9h0m-9.1-0.5h0m6-12h0m15.8-20.4h0m-1.4 5.3h0m35.4-14h0m-36.7 27.5h0m-4.7 11.2h0m5.1-13.6h0m-12.1 22.6h0m12.2-2.7h0m-6.3-1.6h0m-5.9 0.1h0m-1.9-21.8h0m14.3 18.4h0m1.7-60.8h0m-14.7 43.3h0m-16.5 11.8h0m22-6.1h0m12.3 4.4h0m-15.4 13h0m-5.2-11.4h0m4.7-16.7h0m0.1 16.3h0m-5 8.5h0m2.4 1.7h0m-15.2-12.9h0m31.9-24.7h0m-9.5-15.9h0m5.4 26.7h0m-32.1 8.7h0m31.4-21.7h0m-0.4 32.2h0m-11.5-14.4h0m-16.9 13.8h0m34.9-5.6h0m-10.3 12.6h0m-1.4-23.6h0m-12.1 13.8h0m-13.8 4.3h0m36.6 6h0m3.3-11.6h0m-10.8 16.2h0m-8.3-27.6h0m30.2 2.5h0m-22.7 17h0m1.4-3.8h0m-8.1 2.2h0m5.5 7.3h0m-0.9-36.8h0m-11.3 30h0m6.8-8h0m-5.3 14h0m4 2.5h0m12.4-19h0m-7-1.9h0m12.6 15.5h0m-5.3 3.1h0m-26.4-7.9h0m7.3 6.5h0m5.5 3.4h0m12-16.2h0m3.5-8.2h0m-6.7 7.2h0m-13.5-18h0m20.8 26.4h0m-0.9-3.5h0m-7.7 12.8h0m-13.3-10.1h0m31-26.9h0m-23.6 16.2h0m5.4 7.7h0m-14.3-3.3h0m7.5 15.8h0m-3.3-10.3h0m-2.3-15.9h0m8.3-0.2h0m20.8 9.3h0m-12.8-37.7h0m2.6 36.8h0m-15.3 16.1h0m7.2 2.9h0m-8.3-14h0m5.8 1.8h0m-17.1-18.3h0m25 18.2h0m12-10.6h0m-13.6 13.5h0m-16.3 5.6h0m8.2-1.8h0m2.1-37.5h0m8.6 2.7h0m-5.7 34h0m-9.3 4.7h0m14.4-10.3h0m-8.6 9.4h0m-5.5-27.1h0m4.1-1.4h0m2.7 32.6h0m12.1-6.9h0m-39.6-22.1h0m18.9 21.3h0m13.3-3.2h0m3.1 3.1h0m-13.9-6.3h0m-5 1.3h0m-29.3-4.8h0m43.2-0.7h0m11.2 6.7h0m-34.1 2.8h0m22.6-63h0m8.9 37.1h0m42.3-9.6h0m-56.6 31h0m5.2-4.2h0m-6.1 15h0m2.5-34.2h0m-6.2 7.3h0m20.4-32.7h0m-24.6 18.7h0m10.4 31.6h0m-3.5 8.8h0m12.2-5.2h0m-4-47.6h0m4.2 48.4h0m-8.5-39.9h0m13.3 28.3h0m-16-16.8h0m6.7-4.1h0m-4.4 25.5h0m-9.2 7.7h0m24.7-54h0m-16.6 24.7h0m-5 17h0m-2.3 14.3h0m17.6-20.4h0m-17.1 18.5h0m3.3-9.3h0m3.3-2.7h0m5 12.7h0m7.6-34h0m-7.3 25.4h0m-5.9-1h0m2.8 15.6h0m15.9-65h0m-16.4 12.8h0m-6 37.1h0m9.5 13.4h0m-3.8-11.8h0m26.4 3.2h0m-15.8-18.4h0m-3.5 27h0m9.1-38.5h0m-11.7 34h0m7-21.7h0m-8.5 24.2h0m4-72.9h0m-6.8 50.5h0m23.4 16h0m-54.4-8.6h0m49.9-4.1h0m-1.7-4.9h0m-4.9 22.7h0m22.5-44.8h0m-35.9 11.9h0m4.7-24.5h0m-17.2 47.6h0m16.5 12.9h0m2.6-45.1h0m-27.2 31.8h0m-1.3-0.4h0m17.6-22.6h0m17.8 19.7h0m-5.2 4.3h0m-15.1-54.1h0m17.5 64.4h0m-6.4-41.4h0m-6 1.2h0m-9.5 31h0m35.8-10.9h0m-27 17h0m18.6-7.8h0m-11.5-38h0m-18 28.8h0m19.1 22.9h0m-9.1-27.5h0m-2.8-12.8h0m7.5 38.7h0m8-55h0m25.6 24.8h0m-32.1 33.4h0m15-9.5h0m-6.9-39.3h0m-10.8-7.3h0m-12.7 33.4h0m13 13.9h0m-3 2h0m29.8-39.5h0m-20.6 25.6h0m-5.6 2.9h0m5.7-10.5h0m-19 13.5h0m25.2-3.2h0m-14.7-3.6h0m3 15.7h0m13.6-26.2h0m-13.5 20.2h0m27.6-4.3h0m12.1-23.8h0m-34.5 33.2h0m-1.9 1.5h0m-9.2-5.3h0m-17.6-30.3h0m27.4 38.8h0m-4.9-12h0m-0.6-6.1h0m-1.8 17.6h0m5.9 1.6h0m11.8-35.4h0m-25 24.1h0m24.3 2.8h0m-9.8 5h0m-9-0.2h0m5.3-2h0m-6.6-57.1h0m17.4 33.3h0m-5.1-7.4h0m4.8 24.1h0m-14-1.8h0m-7.5 9.9h0m13.9-26.7h0m-6.6-16.3h0m3.5 12.1h0m5.5 32.6h0m-19.6-13.3h0m5.6-18.2h0m2.5 20h0m6 5.5h0m16.8-21h0m9 13.1h0m-28.3 4.1h0m5.7-43h0m2.1 39.8h0m-2.2-27h0m-19 17h0m5 15h0m25.4-4.6h0m-8.4-10.1h0m1.7 18.2h0m-8.1-22.9h0m6.9 19.8h0m-6.6-16.4h0m-2.1 16.2h0m20-7.3h0m-4.3 2.8h0m1.4 7.1h0m-9.1 2.8h0m0.1 4.2h0m-12-34.3h0m13.9 33.6h0m-7.7-6.7h0m-0.4-33.8h0m3.4 10.6h0m-10.2 11.5h0m6.8 11h0m-0.9 6.6h0m6.8-1.9h0m21.6-6.8h0m-21.4 7.7h0m-3 1.1h0m-1.2 3.3h0m-9.9-10.1h0m26.7-38.7h0m-29.7 31.5h0m8.9-2h0m17.5 5.4h0m-24-18h0m5.7 28.6h0m-7.4-29.7h0m29.4 8.7h0m-22.5-17.2h0m21.7 33.2h0m-66.1-14.2h0m30.7 13.9h0m38.8-33.5h0m-16.2 16.3h0m-13.7 20h0m6.4 1.9h0m1.7-45h0m6.9 30h0m-10.2-47.7h0m-8.9 56.9h0m15.2 5.7h0m28.7-9.3h0m-13.1 2.2h0m-5.6-12.5h0m-22.7-2.8h0m30.3 9.7h0m-20.6-2.4h0m-9.7 13.8h0m13-11.7h0m-5.6-1.9h0m13.9 14.7h0m-2.7-28.6h0m-14.5 5h0m9.2-30.4h0m-5.2 55.5h0m23.5-19.8h0m-11.1 1h0m-7.5 18.7h0m-7-1.2h0m0.4-33.1h0m10.1-11.4h0m-50.8 27.1h0m44.7 20.3h0m-8.4-16.2h0m7.7 10h0m6.6-10.3h0m-6.7-38.9h0m9.1 8.2h0m-3.5-18h0m-6.9 51.3h0m0.5 1.8h0m1.2-5.7h0m3.3 11.2h0m-9.6-51.3h0m-12.4 18.1h0m18.7 2.1h0m3.5 23.4h0m1.5 9.1h0m8.4-37.1h0m-30.3 33.8h0m12-16.3h0m5-10.7h0m-22.7-3.9h0m14.2 30.8h0m24.1-14.9h0m-7.3-5.7h0m-16.2 12.6h0m4.8-4.8h0m20.2-37.1h0m-10.8 15.6h0m9.8 37.5h0m-6.8-9.3h0m15.6 4.7h0m-21.1 9.5h0m7.8-13.6h0m-9.2 13.2h0m10.8-22h0m-18.3-5.7h0m18.8 20.3h0m-16.3-17h0m1.4-4.3h0m20.6 7h0m-14.7 2.4h0m12.9 14.1h0m-19.3 3.9h0m13.7-7.9h0m-15.4 7.1h0m7.5-27.7h0m-1.1 1.7h0m-5 5.1h0m-17.3 5.2h0m32.4-36.7h0m-8.3 24.5h0m16.7-28.6h0m-16.3 28.4h0m-0.9-19.9h0m-5.8 23.9h0m-1.8 7.9h0m6.5 6.9h0m4.3 6.4h0m-19.5-26h0m18.6 9.8h0m16.6 11.4h0m-33.5-7.7h0m7.8-29.9h0m-12.8 40.1h0m15.2 0.5h0m-0.3-8.5h0m-10.2 8h0m16.7 6.8h0m1.2-11.7h0m-7.3-3.2h0m24.6 7.1h0m-30.6 1.9h0m5.8-42.5h0m3.6 32.8h0m-4.2-14h0m-13 25h0m56-36.2h0m-27.8-5.5h0m-31.5 39.1h0m23.8-18.9h0m-14.2-20.7h0m-3 3.8h0m19.4 24h0m3.3-13.7h0m-1 22.8h0m-7 9h0m9.1-44.4h0m-7 40h0m-6.3-1.6h0m-29.9-6.3h0m23.9-35h0m-2.1 39.1h0m-2.4-21.4h0m14.2-4.9h0m-15.3 11.1h0m43.2 11.1h0m-3.8 0.7h0m-25 11.1h0m-3.2-27.4h0m3.4 13.2h0m-9-23.8h0m17.9 4.1h0m-1.3 30.6h0m2.8-47.7h0m-15.3 51.9h0m5.6 1.7h0m-5.7-18.3h0m1.6 7.6h0m8.8 8.7h0m-4.2-4.8h0m-6 1.8h0m23.5-8.3h0m-22.7 8.5h0m-18.7-10.3h0m31.8-11.9h0m-5.3 3.1h0m8.1 6.7h0m-2.9-8.4h0m3.1 9.5h0m-4.7-6.7h0m-19.8 11.8h0m13.6 10.1h0m10.4-13.6h0m-28.1 5.3h0m11.4-8.2h0m-3.5 11.3h0m16.4-4.6h0m-5.9-10.6h0m5.3-4.8h0m-17.2 8.7h0m1.3 11.7h0m8.9 2.4h0m0-2.7h0m-9.7-11.4h0m-5.9-18.2h0m27.3 3.2h0m-11.9-5.6h0m-3.1 14.2h0m13.3 2.9h0m-4.2 14h0m-5-17.4h0m19 13.6h0m-44.5-10.3h0m34.4 12.5h0m14.7-0.7h0m-32.3-12h0m17.6-22.4h0m-20.3-3.5h0m-50.6 16.7h0m64.4 18.3h0m-24.6 3.7h0m5.1-15.4h0m-7.5 7.9h0m41.8-36.2h0m-30.8 42.8h0m-13.2-4.8h0m36.5-1.3h0m-20.8 11.6h0m12.5-9.5h0m-2.5 2.7h0m-4.8 6.5h0m7.5-19.9h0m21.8 6.8h0m-31.4 0.7h0m3.7-24h0m4.5 24.5h0m-4.5 15.4h0m-1.1-8.5h0m27.2-48.4h0m-33.6 41.5h0m21.6 10.3h0m-3.9-0.5h0m-2.4-6.4h0m-4.5 7.2h0m0.4-18.9h0m0 12.3h0m-18.1-35.9h0m11.6-0.6h0m3.2 36.4h0m21.9 1.7h0m-27.5-4.6h0m3.6 9.1h0m8.3-17.2h0m-9.1-13.5h0m-4 4.4h0m0.2 28.8h0m11-12.7h0m-0.8-27.7h0m-5.4 5.6h0m1.2-23.2h0m-11.1 56.5h0m16.7-12.5h0m-11-2h0m10.6-9.3h0m-9.3 23.2h0m-7.1-2.1h0m9-10.5h0m15.9-13.7h0m-18.5 29.7h0m22.1-28h0m-17.5 1.6h0m15.7-19.2h0m-11 32.3h0m0.5 12h0m-9.5-12.3h0m15.3 9.4h0m-6.9-18.2h0m-0.2 17.5h0m-3.5-30.6h0m-0.5 21.6h0m0.6-9.5h0m-25.4-11.1h0m23.6 30.6h0m-15.4-34.5h0m14.9 25.1h0m18.4-11.7h0m-15.5 25.6h0m-10.9-34.9h0m20.1 11h0m4.6 14.1h0m-27.4-20.5h0m61.7 7.1h0m-71 16h0m25.5-12.9h0m5.2 6.5h0m-9.6 10.6h0m10.3-19h0m-11.1 12.5h0m1.9-23h0m14.2 21.5h0m-14.7-2.5h0m-4.4 13.8h0m1.3-0.5h0m-4.2-13.2h0m13.1-24.5h0m8.5 8.1h0m-1.3 14.8h0m-7.8 12h0m26.9-8.7h0m-16.7 6.6h0m-9.6 1.2h0m-5.9-11.6h0m-6.9 2.3h0m17-17.4h0m-17 16.8h0m30.7-13.9h0m-29.1 14.3h0m14.9 4.2h0m-20.5-12.2h0m11.5-9.4h0m-2.7 31.4h0m-4-2.3h0m-3.5-3.9h0m17.6 3.4h0m3.7-5.9h0m-3.4-25.2h0m8.3 22.1h0m-12.4 12.2h0m4.2-27.6h0m-4.4-16.8h0m-9.6 40.2h0m18.2-44.4h0m-12.2-1h0m0.5-2.1h0m-2.8 48.1h0m-5.6-34.6h0m16.8 36.8h0m-11.8-16.1h0m6.5-26.5h0m3 5.8h0m-6.3 1.9h0m13.4 20.6h0m-5.6-18.9h0m16.3 3.3h0m-35.9 24.6h0m3.1-6.8h0m13.6-15.5h0m-6.2 18.8h0m4.6-14.2h0m5.7-30.1h0m-15.7 1.8h0m3.8 29.7h0m26.7 5.3h0m-24.9 1.8h0m4.5-14.4h0m-7.4-12.1h0m-4.1 13.7h0m10.6 27.7h0m0.7-54.1h0m3.4-4h0m-2.6 5.2h0m10 37.8h0m-0.6-13.2h0m-4 1.4h0m-5.5 9.8h0m-4.9 0.3h0m5.8 14.8h0m-6.3-23.2h0m21.3-20.1h0m-16.7 42.5h0m2.7-29.5h0m-6.1-9.6h0m16 38.3h0m-15.5-2.6h0m-0.8-2h0m11.9-46.9h0m-8.5 53.8h0m23.8-14h0m-56.7 1.2h0m52.7-8.7h0m-22.5-11.8h0m-10 32.4h0m4.6-26.9h0m19.6 16.1h0m47.7-19h0m-63.4-3.6h0m10.7 6h0m-11.2 10.8h0m10.2 18.8h0m-13.3 0.3h0m-3.3-53.2h0m5.6 50.7h0m-0.4-17.3h0m13.8-12.2h0m-19.7 11.8h0m17.7-45.6h0m-5.1 60.7h0m-11.3-3.9h0m30.6-28.3h0m-23.8 32.5h0m-16.9-0.9h0m21.7-38.2h0m-7.2 44.4h0m13-14.2h0m-6.4-16.9h0m3.2 25.5h0m-9.1 0.3h0m-3.2-18.8h0m5.9 13.8h0m-1.7-23h0m1.7 23.5h0m4.1-25.5h0m-5.8 13.5h0m10.6 15.9h0m-4.3 1.9h0m-8.5-5h0m9 7.8h0m15.8-10.1h0m-9.9-1.7h0m-19.2 2.3h0m11.4-32.7h0m-3.5 13.2h0m7.1 24.3h0m3.6 4.3h0m-7-30.4h0m-0.5 33.4h0m-7.8-6.1h0m10.1-35.2h0m7.7 23.7h0m-12.9-12.2h0m-8.6 20h0m1.2-16.3h0m-4.6 0.5h0m20.2 11.2h0m11.5-19.6h0m-1.3 22.8h0m-27.1-3.2h0m2.6-53.8h0m4.9 55.3h0m6.5-6.2h0m3.5 15.5h0m-7.8 3.3h0m-23.1-14.4h0m33.9 0.7h0m-15.2-2.6h0m-7.9-37h0m2.3 47.7h0m5.1-5.3h0m6.9 1.3h0m-3.8 9h0m10.6-49.5h0m-19 25.4h0m8.2-3.6h0m7.5 27.5h0m21.7-30.6h0m-28.3 27.7h0m2.7 1.3h0m-20.6-18.3h0m10.4 14.1h0m13.8-28.7h0m7.1-26.2h0m-5.5 24.5h0m-3.8-15.3h0m-11.4-2.5h0m22-18.2h0m-4.7 11.5h0m1 9.5h0m3.5 34.5h0m-15.4-9.3h0m6.4 26.3h0m-7.5-10.2h0m2.4 10h0m37.7-20h0m-33.6 18.4h0m-20.4-5h0m-13.5-25.5h0m34.6 0h0m-5.2-23h0m6.7 54.2h0m-3.5-29.6h0m18.8 23.7h0m-26.5-0.9h0m7.7 5h0m-19.5-4.8h0m16.6 4.1h0m-2.5 2.7h0m0-63.3h0m16.6 19.4h0m-15.1 27.7h0m-21.4-30.3h0m30.3-2.9h0m-2.9 27.9h0m-7.5-41.7h0m2.5 53h0m-2.1 4.6h0m7.3-8.9h0m-0.5 3h0m-8.7-19.5h0m15 12.7h0m-6.2 9h0m-2.9 10.4h0m4.2-15h0m-19.7 10h0m12.8-15h0m11.5 6.5h0m4.9 2.2h0m-17.3-39.5h0m-52.6 25.3h0m57.2 22.3h0m-10.5-47.3h0m0.5 39.2h0m20.8-12.1h0m-10.8-13.8h0m-11.3 0.2h0m13.8-7.6h0m-7.8 43h0m2.8-1.4h0m45.8-20.7h0m-41-14.7h0m20.8 22.9h0m-31.4-15.5h0m2.7 15.7h0m-5.1 11.1h0m2.9-20.8h0m-4.2 14h0m-2.9-40.9h0m-8.7 7.7h0m33.7 34.8h0m-7.8 1.5h0m-6-2.6h0m8.1-11.4h0m-1 11.3h0m-4.2 9.9h0m4.3-4.1h0m-11-1.4h0m3.6-11.3h0m4.5 0.3h0m2.4 14.6h0m-9.8-27h0m-26.8 3.8h0m35.2-8.5h0m-35.4 4.4h0m30.8-1h0m-6.4 26.3h0m3.6 2.2h0m6.5-19.8h0m-4.3 17.6h0m3.4 1h0m-21.9-6.3h0m22.8 3.7h0m-10.7-29.5h0m18.5 23h0m13.3-25.2h0m2.1 12.3h0m-20.7-39.5h0m-0.3 62.9h0m18.8-23.2h0m-26.2 9.9h0m18.3 0.5h0m-13.5 6.2h0m16.5-4.4h0m-21.2-50h0m0.4 59.2h0m0.7-10h0m-7.8-3.3h0m1.1-10.9h0m6.1-35.4h0m0.9 28.9h0m3.8-1.5h0m4.4 29.8h0m3.6-6.9h0m-4.5 11.3h0m-14.1-37.7h0m2.8 33.6h0m7-1.7h0m19.3-16.7h0m3.9 8.4h0m-18.3-24.7h0m-7.9 35.2h0m8.7-25.4h0m-5.3 18.2h0m-11.5 1.3h0m13.9-22.4h0m11.8 28.1h0m-0.8-46.7h0m-15.9 51.5h0m18.4-5.4h0m-25.6 0.1h0m1-12.9h0m-11.5 7.9h0m-0.7-5.3h0m19.8 17.5h0m6-10.2h0m-13.9-39.2h0m10.9 34.9h0m-5.8-42.3h0m26.8 32.7h0m-34.1-27.3h0m10.7 35.5h0m1.5 10.2h0m3.9-20h0m-39.3-12.8h0m58.7 6.3h0m-8.7-0.2h0m-21.2 22.7h0m9.4-9.3h0m-11.7-30.1h0m-6.3 24.4h0m14.3-19.1h0m-6.1 23.7h0m6.1-21.4h0m-11.4 24.8h0m7.3-31h0m-8.9 38h0m14 5.1h0m-6.4-0.3h0m9.7-3.2h0m2.9-6.4h0m-28.7 3.9h0m17.7-37.5h0m-1.7 22.7h0m2.4 25h0m-0.8-16.6h0m6.6 2.6h0m-3.2-15.9h0m-2.9 17.2h0m4.5 6.5h0m3.8-8.3h0m-10.5-9.1h0m-2.3 1.4h0m-2.2-28.2h0m5.9 42.7h0m-4.9-22.3h0m17.4 15.8h0m-14.1 8.4h0m22.6-30.5h0m-16-22.3h0m-11.7 54.2h0m-0.1-7.2h0m28-1.3h0m-11.4 2h0m-2.3 1.8h0m-10.2-51.1h0m-7.3 10h0m26.9 42.5h0m-3.1-23.3h0m-6.3 19h0m-16 1h0m17.4-5.5h0m12.1-2.6h0m-23.3 1.3h0m13.5-12.3h0m-11 12.7h0m6.8 4h0m-6.7-7.2h0m-6.4-17.6h0m11.1 22.6h0m5.1-25.7h0m-11.4 22h0m-3 0.4h0m-8.9-27.7h0m7.2 12.5h0m1.4 19.8h0m19.6-0.7h0m-21 10.9h0m20.4-10.3h0m-19.1-0.3h0m11.8 13.3h0m0.3-0.1h0m-14.3-15.9h0m14.4-0.1h0m-6.2 16.9h0m14.4-26.9h0m-23.8 19.9h0m22.1-34h0m-13.3 3.1h0m-4 9.4h0m12.1 12.1h0m-22.4-10.8h0m20.4-8.1h0m-9.3-19h0m1.3-5.2h0m20.2 52h0m-15.6 3.5h0m-5.3-1.4h0m6.3-4.1h0m-12.2-5.7h0m-7.3-7.6h0m22.2 14.1h0m1.8-11.4h0m-1.1 16.5h0m-1.4-28.7h0m-12.8 12.9h0m23.3 9.3h0m-21-3.3h0m29.7-0.9h0m-15.8 6h0m-10.3-13.1h0m-2.3 1.7h0m-6.8-5h0m-12.5 15.1h0m25.3 9h0m18.5-9.1h0m-20.8 5.5h0m-0.3-35.6h0m7.7 35.2h0m-12.8 3h0m9.8-23.2h0m1.2-19.8h0m-10.1 2.6h0m9.9 12.1h0m0.7-1.1h0m-10.4-27.7h0m7.8 24.9h0m-5.7 11.5h0m-20.1 7.8h0m21 15h0m3.6-1.3h0m0.7-0.7h0m6.3-0.6h0m-10.2-12.6h0m10.2-8.5h0m3.3-13.8h0m-29.9 3.3h0m40.1-4.3h0m-2.9 2h0m-25.3 15.5h0m4.3-24.4h0m0.6 27.6h0m-3.4 12.9h0m2.1-2.7h0m18.2-28.7h0m-18.4 30.2h0m-2.3 4.4h0m-1.3-5.3h0m5.4-20.2h0m27.6 6.5h0m-27.8 13.7h0m8.3 1.6h0m-4.4-14.4h0m-0.6-9.6h0m2.6 8.3h0m21.8 8.2h0m-31.8 2.7h0m4.1-3.5h0m19.4-5.7h0m-31 14.2h0m11.3-70.2h0m10.5 70.9h0m-2.5-24.1h0m-4.2 13.9h0m13.4-8.7h0m-7.1-4.3h0m-12.1 5.3h0m-14.3 3.4h0m26.6-9.4h0m11.2-12.2h0m-4.9 10.7h0m-19.7 14.3h0m5.8 13.6h0m2-51.7h0m-11.2 28h0m16.8 14.7h0m15.4-6.8h0m-19.4 3.9h0m-7.9-5.9h0m13.8-4.2h0m-3.6 15.2h0m3.5 2.5h0m-1.8 4h0m-6.5-26.1h0m20.7 2.4h0m-21-3.6h0m-16.1 17.3h0m16.4 5.5h0m-17.7-37.2h0m23.2 7.5h0m-7.7 35.6h0m-21.9-18.7h0m14.1-22.1h0m19 15.3h0m4 2.5h0m15.3 4.9h0m-37.2 13h0m4 1.1h0m4.7-42.1h0m5.8-11.7h0m-10.5 48.9h0m1.3 2.4h0m10.8-50h0m-12.2 42.4h0m-6.2 7.7h0m7.7 2h0m-19.3-5.5h0m17.6-3.1h0m13.6-7h0m-1.8 8.1h0m3.3 1.5h0m-16-20.6h0m7.3 25.2h0m-5.3-15.8h0m-0.2 22.6h0m-3.2-32.1h0m-11.6 20.4h0m27.3 5.4h0m-3.8-0.8h0m-14.8-5.1h0m-3.1 5.6h0m9.3-60.6h0m0.7 45h0m0.4 22.1h0m12.1-17.9h0m-1.7-8.2h0m-15.3-6.9h0m10.7 4.8h0m-16.8 16.5h0m10.5 6h0m10.8-40.2h0m-11.3 27.6h0m-5.4-40.5h0m-8.8 52.6h0m56-10.2h0m-59.8-0.2h0m28.7 6.7h0m-6.8-32.9h0m10.6 7.7h0m-25.1 15h0m18.6 12.8h0m5-13.7h0m-3.5-3.4h0m3.2-37.8h0m-6.4 21.4h0m-1.1 21.3h0m0.4-10.3h0m1.6 9.5h0m8.2 5.3h0m-0.1-18.9h0m-15.3 33.2h0m8.4-14.4h0m-16.1 11.4h0m26.7-18.8h0m-18.3 10.7h0m-8.9 8.4h0m15.6-19.8h0m-13.6 13.2h0m-6.7-0.7h0m11.5-22.3h0m-5.4 8.2h0m4.7 1.6h0m10.2-24.9h0m-26 13.7h0m30.6 3.4h0m-20.5 22.9h0m16.9 5.9h0m-0.3-9.2h0m3.3-0.9h0m-12-15.5h0m20.3 17h0m-1.4-15.6h0m-22.6-32.8h0m25.6 43.6h0m-22.5 14.9h0m8.1-13.4h0m-8.2 13.2h0m22.1-40.2h0m-6.3 1.8h0m-13.8 36.6h0m-4-22.8h0m1.2 16.5h0m-3-4.4h0m-1-8.8h0m25.7 8.3h0m-19.8 5.8h0m-1.9 7.4h0m-16.9-9.3h0m16.1 1.6h0m2.7-14.5h0m0 12.8h0m-18.7-27.7h0m22.5 36.7h0m14.7-14.1h0m-18.3-23.8h0m-7.7 31.5h0m2.9 0h0m-17.5-2.1h0m18.2 8.2h0m9.7-15h0m0.4-28.2h0m-6.5 0.7h0m0.4 2.7h0m-4.8 33h0m-1.4-11.7h0m14.3 9.4h0m-8.7-26.7h0m-5.6 24.4h0m5.4 3.6h0m24.7-12.3h0m-41.1 3.9h0m4.6-38.5h0m31.9 46.8h0m-11.4 4.2h0m-8.5 3.5h0m-4.9-51.8h0m20.6 22.7h0m-19.6-7.8h0m8.9 13.6h0m34.1-34.6h0m-34 45.7h0m28.4-2.7h0m-99.8-11.5h0m59.1 20.4h0m28.5-15.6h0m-16.6 0.5h0m-9.4-4h0m2.8 15.5h0m19.7-2.8h0m-6.3-11.8h0m-14.8 13.8h0m17.6-35.5h0m-8-17.7h0m9.7 55.6h0m-22.1-30.2h0m34.5 27h0m-4.9 4h0m-22.7-26.6h0m-1.1 6.6h0m12.8 13.1h0m13.4-20.4h0m-20.7-27.6h0m-9.2 48.3h0m15.6-32.5h0m-11.1 35.6h0m3.3-24.6h0m11.3 22.9h0m-4.8 7.1h0m-9.5-38h0m0.6 44.1h0m-8-9.9h0m5.8 1.2h0m8.4-1.1h0m8.3-23h0m-2.6-30.4h0m1.4 51.3h0m-18.3-10.3h0m14.1 18h0m-11.1-28.5h0m-11.6 22h0m16.4 4.9h0m0.4-0.5h0m-11.2-6.3h0m14.5-17h0m12.2 23.2h0m-15.8-19.8h0m14.1-6.3h0m-19.7 29.5h0m29.9-7.6h0m-22.7-7.2h0m-9.2 4.7h0m-9.5 5.9h0m17.6 6.9h0m-4-27.7h0m-4.6 22.9h0m-3.6-3.1h0m12.5 5.8h0m-5.5-0.9h0m10.6-7.4h0m-4.9-6.2h0m9.1-6.3h0m-10.7 15.9h0m-15.4-27.9h0m27.1 19.4h0m-10.9-37.4h0m9.1 22.7h0m-4.1-30.3h0m-9 5.3h0m3.8-5h0m-11.1 19.4h0m-4-5h0m7.2 42.5h0m4.4-9h0m-0.5-25.3h0m-6.4 31.8h0m17.1-6.1h0m-6.9-13.1h0m1.1 3.7h0m-36.5-15.6h0m22.1 6.3h0m6 29.8h0m9.1-2.8h0m-5.3 0h0m9.4-9.2h0m-9.6 10.5h0m4.9 0.6h0m-6-9.5h0m0-7.8h0m-3.5-10.3h0m-27 3.7h0m45.8-12.7h0m-20.8-0.3h0m-8.5 29.2h0m15.1-35.8h0m-22.7 10.2h0m18.5 32.5h0m14.3-6.4h0m-6.6-0.4h0m0-51.3h0m-3.7 21.2h0m13.6-2.4h0m-24.4-13.4h0m17 0h0m-1.4 54.9h0m-16.5-3.9h0m19.9-5h0m-16.1 0.1h0m6.8-16.3h0m1.3 8.8h0m-5.7-6.7h0m14.6 13.6h0m12.1-28.4h0m-20.6 11.5h0m7.6-19.6h0m-12.4 35.8h0m14.6 8.1h0m-22.6-11.1h0m-9.6-38h0m22 20.6h0m0.2 22h0m-9.4-6.9h0m-0.5-8.6h0m10.1-21h0m-0.6 14.6h0m8.5 18.6h0m-9.7 6.1h0m16.5-2.1h0m-9.1-25.1h0m-1.4 30.4h0m-10.6-34.7h0m-2.9 5.7h0m38.5-8.7h0m-26.3 13.8h0m4.9 5.4h0m-0.5 12.9h0m-13.5-32.3h0m17.4 4h0m-11.3 27.8h0m-10-12.5h0m1.6 19.1h0m6.8-51.3h0m1 38.6h0m-2.9-29.3h0m3.2 39h0m-1.5-11.2h0m-16.4-4.4h0m17.8 11.2h0m0.1 2.5h0m28.3-18.2h0m-27.8-1.8h0m7.5 18.1h0m1.5-38.9h0m-16.7 21h0m20.9 13.2h0m3.5-12.5h0m-19.6 19.1h0m2.7 2.8h0m-8.1-3.8h0m4.1-3.3h0m4-11.9h0m4.7 6h0m13.3 4.4h0m-29.2 7.8h0m19.6 1.1h0m0.1-5.8h0m-21.8-1.3h0m10.1-9h0m5.4 21.1h0m7.3-9.7h0m-9.3 2.5h0m-2.6 3.9h0m-3.3-23.9h0m3 17.5h0m-1.6-10.8h0m21.4-5.3h0m-7.6-28.8h0m-28.3 12.7h0m33.7 31.6h0m-13.7 10.3h0m3.8-69.2h0m-8.3 56.6h0m12.9-18.3h0m-9.7 20.9h0m-6.9-26.6h0m-5.1 30.4h0m10.4-16.6h0m1.1 13.3h0m17.9-15.1h0m-3.8 12.8h0m-10.4 4h0m2.7-18.5h0m-12.2-5h0m-0.2 23.1h0m3.4-6.5h0m1-2.5h0m-0.9-53.6h0m3.1 45.4h0m14.2 7.3h0m-36.9 1.5h0m9.6 5.1h0m16.3-10.4h0m5.3 12.8h0m-0.5-10.4h0m3.7 7.3h0m11.8 0.7h0m-23.3 11.1h0m7.5-8.4h0m-4.7 1.7h0m-4.3-11.1h0m4.5 1.6h0m-0.2-7.9h0m10.1 19.3h0m-10.1-16.6h0m-2.9-8.3h0m0.4 26.4h0m-3.9-12.6h0m14.2-4.9h0m-34.9 10.1h0m28.2-41.9h0m1.9 39.3h0m-3.7 12.2h0m1.9 0.9h0m-0.9-27.2h0m-33.2 13h0m33.1-1.3h0m13.4-2.1h0m21.7-14.7h0m-32.7 30.3h0m0.7-23.4h0m-9.8 23.5h0m11-23.1h0m-10.1-5.9h0m11 30h0m-10-52.5h0m0.7 10h0m7.2 32.2h0m-3 11.1h0m2.5-3.1h0m21-12.9h0m-23-43.8h0m-8.7 54h0m-2.2-0.9h0m-5.4 2.5h0m22-20.1h0m-3.1 11h0m-6.7-13.8h0m14.4-29.5h0m-7.4 48.3h0m11.6-4.7h0m-4-2.7h0m-9.4 12.8h0m0.7-2.7h0m7.3-23.7h0m-20.8-5h0m4.3-9.9h0m9.6 22.5h0m23.7-4.5h0m-30 10.5h0m7.1-27.3h0m-18.8 14.9h0m23.1-7.3h0m-7.3 33h0m4.1-3.2h0m-8 5.6h0m23.7-27.8h0m-20.4 24.9h0m5-34.8h0m-5.2 16h0m-12.6-2.4h0m13.1-1.2h0m-4.5-9.7h0m-6.4 31.4h0m-3.7-17.6h0m8.4 13.9h0m2.1-26.3h0m6.5 25.8h0m-9.2-0.3h0m0.4 6.1h0m9.8-27.6h0m10.7 23.9h0m-3.5-1h0m-23.3-37.7h0m2.7 22.7h0m1.8-0.7h0m13.5 21.5h0m-28.5-14.5h0m26.6-28.3h0m-17 24.9h0m4.4 11.8h0m8.8-55.9h0m2.8 56.3h0m8.5-5.4h0m-7 5.4h0m2-36.7h0m-1.5 41.7h0m-9.9-19.1h0m12.8 9.7h0m-7.3-19.4h0m-8-34.7h0m4.4 54.2h0m-5 7.9h0m21.3-9.7h0m4.4 6.6h0m-9-15.3h0m-14.6 19h0m2.6-2.6h0m11-3.6h0m-48.2-9.5h0m37.3-2.4h0m14.3-9.1h0m-4.5-37.7h0m3.5 64.3h0m-27.8-56h0m18.1 57.2h0m6.4-57.5h0m-9.6 50.1h0m11 4.5h0m-25.6-12.5h0m9.9 4.7h0m-2.1-3.4h0m-1.5-39.5h0m-9.5 48.7h0m14-1.7h0m8.9 7.7h0m-23.1-8.7h0m26.9-24.8h0m-36.7 18.3h0m36.3 1.3h0m-11.9-20.4h0m13.8 21h0m-19.2 11.3h0m8.8-4.9h0m0.1-10.7h0m21.3-3.6h0m-27 12.5h0m13-27.4h0m5.6-8.7h0m-8.6 25.2h0m5.8 9.1h0m-2.6-5.6h0m-9.2 12.4h0m4.5-23.1h0m-2.8-19.7h0m4.8 36h0m-5.4 4.9h0m-14.3-14.7h0m23.2 1.9h0m-1.8 11h0m-17.7-18h0m13.5 23.9h0m-4.2-29.9h0m11.9 21.7h0m-10-8.5h0m7.1-31.7h0m2.6 19.1h0m2.6-15.9h0m-12.7 35.7h0m-14.5 3.4h0m26.1 0h0m0.9-4.3h0m-9.3 3.1h0m-3 5.2h0m9-22.5h0m1.5 8.1h0m-14.5 0.3h0m7.5 3.9h0m-8.7-40.2h0m24.1 34.7h0m-15.3-8.4h0m-13.3 12.2h0m6-43h0m9.7 32.7h0m-2.6-22.6h0m-14.2 39.8h0m17.3 7.9h0m2.1-6.9h0m-25.4-18.3h0m16.8 9.4h0m12.3 3.5h0m-2.2-23h0m-35.1 24.3h0m40.9-7.9h0m-6 11.5h0m-23.9-13.3h0m14.1-6.3h0m19.1 11.8h0m-12.9 2.5h0m-6.4-28.5h0m13.8 38.3h0m-13.8-1.5h0m9.7-29.4h0m-6.3 14.6h0m-6.7 11.4h0m3.7 7.3h0m-1.8-44.7h0m7.6 37.4h0m-8.5-3h0m2.4 5.8h0m-0.5-44.8h0m4.1 31h0m6.2 9.2h0m-9.7-16.1h0m-13.6 9.7h0m9.6-2.1h0m9.9 6.1h0m10.2 5.5h0m-10.3 1.8h0m7.4-48.6h0m3.7 41.3h0m-3.4-14.6h0m-2.7 19.1h0m1.3 0.8h0m0 5.6h0m-5-27.3h0m-22.3 10.4h0m28.3 7h0m9 0.6h0m-14.4 8.4h0m-17-24.7h0m4.5-13.4h0m20.5 5.7h0m-11.4 30.6h0m-0.6-54.7h0m3.8 27.8h0m7.2 24.7h0m-12 8h0m-2.8-16.8h0m11.6 8.4h0m-8.2-11.5h0m0.2-8.9h0m10.5 12.3h0m-10.9-30.5h0m5.2 28.6h0m-27.5 2.1h0m25.7 14.7h0m-22.3-6.8h0m18.9-25.4h0m20.3 7.1h0m-9-42.5h0m-7.4 68.2h0m-7.9-37.4h0m9.5 13.6h0m0.2 16h0m-11.7-25.7h0m2.1 15.2h0m3.7-28.6h0m-18.3 37.3h0m12.4-14.1h0m15.5-18.8h0m-7 16.1h0m-0.8 15.5h0m2-7.3h0m13.5-14.3h0m-37.4-0.4h0m16.5 10.6h0m-3.5 5.4h0m15.9-7.8h0m-14.8 16.5h0m-6.8-18h0m12.8-24.4h0m11.2-12.9h0m-18.5 40.6h0m5.1 24.5h0m16.3-24.9h0m-17 4.2h0m11 1.6h0m-13.1-14.6h0m-0.2-3.6h0m7.2 12.3h0m-1.5-16.6h0m-3.4 4.6h0m-6.5 17.9h0m-5.4-15.7h0m44.5 18.8h0m-24 8.2h0m10.2-16.1h0m-32.3 16.2h0m16.6-17.5h0m2.2-38.1h0m-24.4 52.1h0m27.4 8.3h0m-9.9-18.6h0m12.2 9.1h0m-29.8 0.3h0m25.2-42.9h0m-13.8 44.9h0m7.3-4h0m22.2-34.4h0m3.5 8h0m12.3-8.3h0m-20.3 7.6h0m-3.9 23.2h0m-14.5-46.7h0m3.5 63.3h0m-2.5-20.3h0m5.8 0.5h0m3.3 12.2h0m-12.1-50.8h0m16.2 20.6h0m11.4 22h0m-11.8 4.2h0m-9.6-2.9h0m-39.1-6h0m36 12.2h0m-46.3-17.1h0m56.3 20.2h0m-10.8-1h0m-0.5 3.7h0m-2.6-16.2h0m8 15.5h0m-11.8-5.2h0m13.1-5.4h0m10.4 8h0m-15.6-10.3h0m6.9-6.5h0m-1.5 0.3h0m-13.9 16h0m13.6-16.4h0m-12.3-13.8h0m16.3 27.1h0m-14.1 8.7h0m30-17.7h0m-21.9-57.2h0m-3.3 25.8h0m5.8 23.6h0m2.3 18.7h0m-8.5 6.7h0m0.5-3.5h0m4.8-45.2h0m-6.1 42h0m1.6 3.8h0m-3.4-13.5h0m-1.7-17.3h0m37.6 9.3h0m-33.8 8.3h0m7.2-6.5h0m0.8-6.7h0m1.2 23h0m18.8-27h0m-18.9 24.2h0m-2.5-9.2h0m3.1-15.6h0m-29.6 20.9h0m32.4 10.2h0m27.7-17h0m-36.2 15.6h0m12-18.8h0m-10.1 21.6h0m-6.3 2.9h0m13.8-14.5h0m-12.4 8.9h0m-6-46.2h0m11.5-10.9h0m-16 50.2h0m3.9-12.5h0m9.9-1.9h0m-3.5 16.5h0m-8-65.8h0m13.7 63.3h0m-15.6 1.6h0m15.2 4.6h0m-6.6-53.4h0m0.3 55.5h0m-28.6-9.6h0m30.2 12.7h0m-3.8-12.5h0m8.4-10.8h0m6.8 17.6h0m-1.2-17.6h0m1.5 20.6h0m-18.7-12.7h0m-2.2 11.8h0m33.4-28.7h0m-4.9-9.7h0m-12.4-19.2h0m-3.9 38.9h0m3 22.1h0m-1.2-3.3h0m-12.3-18.5h0m10.1 18.8h0m10.9-2.6h0m-19.1 3.9h0m8.3-32.9h0m-4.7 29h0m-0.2-35.6h0m15.5 4.7h0m-7.1 3.3h0m-31.1 25.2h0m28.6 7.7h0m-15.5-8.2h0m16.1-25.9h0m14.9-16.7h0m-9 44.4h0m-10.6-4.4h0m-3.3 8.2h0m6.4-2.6h0m-5.1-16.2h0m10.8 8.1h0m-2.5 10h0m3.6-14.2h0m-14.3-0.7h0m3.9 14.6h0m6.2-6.8h0m-7.5 8.3h0m5.8-2.3h0m9.4-8.1h0m-32.1 0.5h0m10.9-20.4h0m7.4-4h0m7.4-10.1h0m-24.3 23.2h0m32.7 1.6h0m-7.8-7.2h0m-1.8 25.7h0m-13.5-31.3h0m2.6-30.8h0m-4.6 46.4h0m9.4-0.7h0m19.3-2h0m-13.8 6.1h0m7.4 12h0m-12.7-3.3h0m-3.9-23.8h0m31.5 22.5h0m-29.8 6.4h0m-26.6-9.7h0m25.2-8.5h0m-2.8-12.9h0m28.2 24.7h0m-18.5 6.3h0m10.3-9h0m-13.5-40h0m6.9 32.4h0m-42.3 5.6h0m40.3-15.6h0m-6.9 27.4h0m2-2.2h0m-9.3-11.3h0m5.3 8.6h0m17.3-23.7h0m-12.9 28.7h0m-8.8-19.5h0m13.4 2.9h0m-1.3 12.1h0m6.5-0.2h0m-7.6 3.7h0m-12.5-36.1h0m12.8 38.9h0m-11.1-17.7h0m6.5-13.8h0m0.6-13.6h0m5.2 42.9h0m-8.4-52.3h0m23.1 45.8h0m-12.7 1.3h0m-14.9-30.3h0m-17.5 26.3h0m39.6 7.2h0m-16.6-48.7h0m26.7 30.6h0m-16.2 7.2h0m2.9-5.5h0m13.6 13.2h0m-25.4-9.5h0m20.2 4h0m-11.7 11.3h0m-3.5 0.8h0m-0.1-8.8h0m0 10.4h0m-7.9-18.8h0m-6.4 8.9h0m9.4-50.3h0m13.6 36.8h0m-12.7-1.1h0m15.2 8.7h0m-24-49.8h0m21.4 16.2h0m25.6 22.4h0m-15.9 19.9h0m4.5-2.8h0m-36.5-6.8h0m8.7-17.8h0m21.5 21.4h0m-13-14.7h0m12.3-11.7h0m-15.4 25.2h0m-13-48.7h0m19.7 13.6h0m-21.2 40.6h0m-0.2-22.2h0m10.3-18h0m-4.1 32.2h0m9.1-18.3h0m0.3 35.6h0m9.5-19.9h0m-14.6 11.4h0m-2.4 5.5h0m10.6-14.5h0m-10.8 8.9h0m16.3-13.1h0m-7.4 17.4h0m0.3-11.8h0m-18.9-7h0m24.8 18.2h0m-8.4-12.4h0m-11.7-11h0m5.8 25.1h0m10.7-10.1h0m-8.3 5.1h0m-8.3-11.2h0m12.7 2.5h0m10 9.3h0m-2.9-49h0m-13.5 55.3h0m-8.9-13.8h0m-16.4-2.2h0m39 14.5h0m-2.2-5.3h0m-3.5 3h0m-1-0.3h0m23.6-5.7h0m-31.2-19.4h0m-4.3 24h0m10.4 1.1h0m5.4-7.4h0m6.1 3h0m-16.6-21.3h0m-12.6 8.2h0m27.9 6.6h0m-24 11.3h0m10.3-1.2h0m9.9 0.1h0m-14.1-1.5h0m1.7 2.9h0m22.5-6.7h0m-44.1-6.2h0m38.9 1h0m-14.9-27.1h0m-14.5 24.2h0m-3.7 9.2h0m8.3 6.1h0m7.2-33.9h0m-4.7 27.5h0m0.2-17.7h0m-5.5 12.2h0m-14-18.8h0m9.2-7h0m16.1 30.4h0m6.6-11.5h0m-0.6 3.5h0m-10.8 14.8h0m22.2-9.7h0m-7.9-18.3h0m-26.1-3.3h0m11.2 19.9h0m3.9-42.3h0m6.5 54.7h0m-15.5-7.3h0m25.9-50.8h0m-14.2 6.6h0m8-8.9h0m10.4 42.3h0m-22.9-11.1h0m4.7 17h0m7.2-0.2h0m-4.1 12.8h0m-13.9-14.8h0m14.1-54h0m-5 44.2h0m11.5 21.1h0m-4.7 1.1h0m-17.7-3.7h0m15.6 2.7h0m0.4-28.2h0m-6.1 3.8h0m19 2.4h0m-20.6-4.8h0m10.6 20.4h0m-6.4-14.6h0m10.7 18.7h0m-14-62.6h0m-14.3 56.1h0m16.9-16.1h0m10 25.6h0m1 1.3h0m13.4-16.2h0m-38.1 9h0m21.7-20.1h0m-10.4 17h0m13.5 8.2h0m-13.8 1.4h0m3.9 6.2h0m-0.5-9.9h0m3.6-12.8h0m4.5 6.2h0m-0.8-2.3h0m-13.6-5.6h0m27 17.2h0m-16.7 4h0m-10.6-21.2h0m15.5 21h0m-1.2 1.2h0m-15.5-18h0m7.9 8.8h0m-6.4-7.8h0m9.9 5.9h0m7.7 4.4h0m-7.7 1.7h0m-3.6-52.2h0m33.9 35.5h0m-33.8-4h0m-21 13.6h0m33.8-20.2h0m25.6 7.8h0m-41.2 19.1h0m18.3-19.1h0m-11.8 11.6h0m-7.2-9.1h0m3.5-3.2h0m21.6-2.5h0m-18.3 22.5h0m1.8-4.4h0m-8-42.4h0m14.3 39.3h0m-7 11.1h0m-12-20.3h0m7.2 19.5h0m3.7-2h0m-13.5-13.8h0m8.7-36.2h0m12.9 39.6h0m-8.2-10.5h0m-11.1 23.7h0m-5.3-5.4h0m21.4-6.5h0m-10.1 6.7h0m9.2 1.9h0m-17.5 1.3h0m13.5-2.7h0m5.8-13.6h0m-10.5-18.5h0m-13.2 29.9h0m9.6-42.8h0m-7.3 42.9h0m18.9 2.2h0m-2-13.3h0m4.3 15.4h0m-4.3 3.3h0m3.6-19.3h0m-10.4-22.7h0m-5.7 22.8h0m15.5-11h0m1.3-18.4h0m-16.8 27.3h0m16.2 4.2h0m-1.1 9.8h0m-7 5.7h0m-1.7-8.1h0m6.8 11.6h0m13.3-38.2h0m-12.9 23h0m-14.1-12h0m-2.3 2.2h0m14-26.7h0m13.9 33.6h0m-21.7 7.2h0m3.9-27.5h0m-2.8-10.7h0m9.2-4.5h0m-0.3 36.7h0m-8.6 14.5h0m27.1-9.9h0m-35.7-16.7h0m25.2 11.2h0m-18.4 10.3h0m16.3-23.8h0m2.9 27.3h0m-22-19.6h0m31.7-0.2h0m-28.1 22.7h0m23-18h0m-4.3-20.3h0m-2.4 6.5h0m-27.3 23.7h0m14.4-11.9h0m-1.8-3.3h0m13.8-23.1h0m-0.3 17.2h0m-7 30.7h0m0.8-14.4h0m-0.1-0.2h0m-5.6-12.5h0m-18.3 17h0m18.1 10h0m10-15.4h0m-15.3 7.1h0m20.6-18.9h0m-17.2-10.7h0m8.6 28.2h0m-5.6-48.8h0m5.7 43h0m-5.8 11.6h0m-6.4-36h0m9.5 33.5h0m1.1-27.1h0m-9 24.5h0m8.5-24.6h0m-4.1 16.4h0m-1.7-4.6h0m12.8 9h0m-7-44.9h0m3.5 46.4h0m-19.1-9h0m-2.3 11.2h0m13.2-8.8h0m-0.3-43.4h0m5.1 37.5h0m0.8 16h0m-6.3-47.2h0m0.8 17.3h0m4-11.9h0m2.5 44.2h0m-22-30.5h0m19.7-6.9h0m0.2 33.8h0m-12.3-24.1h0m20.5 18.3h0m-3.7 7.8h0m-8.1-2.3h0m-10.6 1h0m20.6-25.8h0m-10.4 27.6h0m-13.7-10h0m47-15.6h0m-22.7 20.2h0m-14.9 0.5h0m1.1-32.1h0m-4.7 10.5h0m24.6 14.9h0m-9.5-18h0m-3.2 18.7h0m7-6.9h0m13.3 2.7h0m-18.9-18.1h0m-6.8 28.8h0m5.5 4.3h0m-3.5-8.2h0m5-10.3h0m-8-12.1h0m-2.4 32.1h0m19.9-0.1h0m-24.2-3.7h0m24.1-20.7h0m-15.5 25.3h0m6.3-15.8h0m-14.3-17.3h0m24.2 15.3h0m-9-32.2h0m-15 38.5h0m7.1 14.3h0m0 0.7h0m7.1-8.1h0m-13.7-22.5h0m11 28.2h0m-8.5-4.6h0m9.8 1.5h0m-6.3-45.6h0m5.9 46.2h0m-3.5-8.4h0m7.3-14.3h0m17.9 15.1h0m-31.2-19.6h0m25.9 16.8h0m-31.7-33.4h0m10.9 47.9h0m-1.6-6.1h0m5.6-10.2h0m1.8-31.6h0m-12 47.2h0m7.3-13.5h0m5.1 13.8h0m6.6-1.3h0m6-14.2h0m-0.2-5.9h0m-12.2-5.8h0m-17.6 8h0m4.1-1.4h0m5-24.3h0m18.7 5.2h0m-4 34.7h0m33-12h0m-52.6-0.2h0m-47.9-3.2h0m65.4 9.6h0m-6.6-13.1h0m-32.6 7.3h0m34.4 10.5h0m-6.7 2.1h0m18.3 1h0m-4-25h0m-12.4-8.3h0m-3.3 25.5h0m11.8-13.7h0m-4.3 15h0m-13 4.1h0m3.6-22.9h0m4.3 18.7h0m12.5 5.4h0m9.4-5.2h0m-27.8-45.1h0m0.6 29.7h0m44.4-7.3h0m-35 23.5h0m-10.6-9.7h0m19.2-6h0m-22 2.7h0m16 12.8h0m-15.6-54h0m12.8 47.8h0m-5 14.9h0m-0.4-9.4h0m0.6 4.8h0m-5.6-1.1h0m9.9 6.5h0m6.8-58.7h0m-6.1 0.5h0m-3 19.4h0m-16.8 7.3h0m5.7 18.5h0m10.9 9.5h0m29.3-11.1h0m-0.4-11.4h0m-4.2 0.3h0m-24.5-0.9h0m20 20.7h0m-20.6 2.9h0m10.6-2.3h0m-24.4-13.4h0m14.2-37.8h0m0 7.7h0m3.5-4.5h0m9.2 50.2h0m-1.9-50.5h0m-14.6 40h0m18.6 2.9h0m-29.2 2.3h0m22.6-6.2h0m-15.8 3.8h0m-7.4-14.3h0m19.8 22.4h0m8.8-51.9h0m3.4 10.9h0m-21 18.3h0m0.9 15.2h0m7.7-14.1h0m-6-30.3h0m6.2 52.7h0m-17-53.3h0m12 25.9h0m-13.6 23.8h0m17.8 0.5h0m20.9-12.6h0m-42.3 4.7h0m31.1-16.6h0m-2 20h0m0.8-16h0m-9.5 6.2h0m3.4 9.4h0m3.9-8h0m-12.2 17h0m15.3-30.2h0m-8.7-0.8h0m-7.9 25.6h0m9.6-31.3h0m-6.4 33.6h0m7.4-46.5h0m0.8 42.7h0m1.8-14.5h0m-18.7-23h0m11.7 40.2h0m-9.4-18.7h0m-8.2 9.7h0m15.6 14.2h0m2.1 1.8h0m-6.6-8.6h0m3.4-13.7h0m6.1 11.8h0m-5.1 9.2h0m-0.3-2.1h0m14.3-17.6h0m-60.5 0.6h0m66.7 10.8h0m-17.7-10.4h0m0.9 5.5h0m-5.9-6h0m7.3-17.5h0m0.1 35.1h0m-17.4-4.7h0m19.7-42.9h0m-18.4 8.8h0m16.8 35.5h0m-8.1-23.8h0m5.4 15.8h0m-12 0.7h0m14.1 9.2h0m11.4-30.6h0m13-4h0m-38-8.1h0m7.8 19h0m-6.4 17.6h0m9.6-11h0m1.7 9.6h0m1.4 1.5h0m20.2-10.8h0m-27.3 0.9h0m-1.1 3.9h0m1.8 13.1h0m4.2-20.4h0m-0.4-12.3h0m2.1 0.6h0m3.4 5h0m2.6-14.9h0m-7.4 44.4h0m-13.9-47.3h0m23 38.4h0m-16.1-3.6h0m21.4 6.9h0m6.2-32.3h0m-41.7 29.1h0m31.1-42h0m-14.7 21.4h0m19.3 6.5h0m-6.5 16.5h0m-7.1-4.4h0m1.6 4.5h0m-3.6-8.3h0m-12.7-35.5h0m23.7 19.1h0m-8.3-13.9h0m-11.7 42.5h0m1.3-12.7h0m-8.8 7.4h0m16 8.4h0m-0.7-0.8h0m-3.6-50.6h0m19.7 37.4h0m-20.5-10.7h0m17.5 3.2h0m12 8.7h0m-10.9-2.4h0m2.2 4h0m-11.1 2.8h0m1.8-11h0m-1.5-6.1h0m-8.6 16h0m10.8 4.8h0m23.2-11.1h0m-16.7 6.7h0m-6.3-23.6h0m-4.1-5.6h0m-6.3 30.8h0m-4.2-9.8h0m-7.6 12.1h0m42.7-45.1h0m-6.9 41.4h0m-29.1 5.7h0m4.6-34.3h0m-4.8 29.2h0m33-14.3h0m-21.5-17.2h0m5.8 32.5h0m-12.5 1.7h0m6.6-10.4h0m-6-3.8h0m3.4 17.5h0m-6-24.3h0m-35 1h0m37.5 14.1h0m3.2-29.3h0m10.6 29.4h0m-14.5-16.3h0m20.5 1h0m-22.8-5.5h0m0.3-4.1h0m6.1 29.1h0m-8.4-53.5h0m-4.4 45h0m20 3.9h0m-10.3 6.4h0m-7.1-26.2h0m11.7-35h0m17.6 47.4h0m-12.2-51.1h0m-21.6 63.9h0m8.7 1.1h0m13.6-14.3h0m-6.9 0.4h0m-10.1-6h0m22.7 9.2h0m-17.7 0.1h0m16.3-2.4h0m-15.2 2.8h0m11.6 8.6h0m1.5-17.1h0m-1.7 18.2h0m-19.3-19.7h0m27.9 5.8h0m-9.1 3.2h0m-5.5-27.6h0m-8.4 42.5h0m25-11.1h0m-7.8-3h0m5.3 0.8h0m5 2.1h0m-27.9 1.7h0m-4 7.4h0m-5.1-67.7h0m21.9 57.2h0m-50.2-24.2h0m32.2 24.3h0m4.2 3.3h0m-1.2-53.1h0m23.9 48.1h0m-27 2h0m8.4-33.4h0m28.4 20.6h0m-15.2 18.6h0m-13.2-14.7h0m-0.9 15.1h0m4.9-45.2h0m2.4 48.4h0m19.6-12.8h0m-17.9-21.5h0m2.7-15.1h0m-13.4 41.8h0m6.7 8.1h0m14.9-15.4h0m-19-8.2h0m-8.7 6.5h0m52-14.5h0m-33.1-12.4h0m-6.9 43.5h0m-3.6-16.4h0m3.6 17.6h0m24.9-27.6h0m-27.8 7.3h0m31.2 4.7h0m-18.9 4.1h0m-1.9-2.8h0m-10.8-22.6h0m24.5-11.9h0m-20.6 50.4h0m23.1-28.2h0m-27.9 28.3h0m-3.7-38.6h0m31.9 20.4h0m-32.1 10.1h0m3.6 4.6h0m14-33h0m-4.5 29.6h0m-4-48.7h0m-6.3 55.7h0m8.9-45.7h0m-0.7 31.8h0m-19.5 8.9h0m19.1-16.3h0m8.7 5.5h0m-14.8 2.1h0m-0.4 5.3h0m8.5-1.2h0m-7.3-14.5h0m9.4 11.4h0m-6.9 11.7h0m-6.1-7.4h0m19.7 4h0m-12.6-40.1h0m-22.7 6.9h0m25 34.9h0m-8.7-25h0m2.8-3.2h0m-3.4 25.7h0m3.3-22.3h0m5.2-24.4h0m14.1 21.4h0m-10.6 22.4h0m12.7-6.7h0m-23.9 5.7h0m6.7 8.2h0m-5.6-16.7h0m-12.6 0h0m14.2 12.8h0m-0.8-4.1h0m-5.5 5.6h0m16.7-15.2h0m2.5 11.5h0m-15 4.8h0m7.4 0h0m-1.9-11.5h0m2.1-40.7h0m-7.6 47.3h0m34-14.2h0m-16.3 5.9h0m-15.6 16.9h0m8.1-10.7h0m-14.3-26.5h0m-4.8 29.3h0m9.1-10.5h0m2.8 17.8h0m9.2-5.7h0m-4.1-12.1h0m5.7 12.8h0m4.1-39h0m-15.8 39.6h0m1.8 4.9h0m3.7-15.9h0m7 8.1h0m-15.2-5h0m2.8 9h0m-1.8-22.9h0m0.6 16h0m-7.2-34.7h0m16.2 42.3h0m-19.6-9.7h0m2.4-6.4h0m20.1 9.1h0m-5.4 8h0m5-43.4h0m2 19.6h0m-61.2-4.3h0m46.4 11.5h0m13.5-0.2h0m-11.9 14.6h0m4.1-52.2h0m1.7 23.4h0m-1.8-12.9h0m0.1 7.5h0m5.7 20.9h0m1.7 7.3h0m11.6-23.8h0m-13.3 13.2h0m13.6-5.4h0m-17.9 18.6h0m13.4-9.1h0m-17.5 16h0m-15.2-13.2h0m32.5 0.9h0m-11.7 0.3h0m-7.4-25.2h0m-9.6 31.4h0m10.3-42.7h0m7.4 42.7h0m-9.2-20.7h0m18.9 15.7h0m-17-25h0m2.4 35.2h0m3.1-6.1h0m-1.3-56.7h0m4.5 29h0m-9.2-1h0m-14.4-18.8h0m29.2 29.4h0m-14.5-18.1h0m-12.8 35.9h0m17.3-28.4h0m-5.1 22h0m6.7-20.7h0m-0.6 22.6h0m2.2-0.3h0m7.9-57.6h0m-14 70.6h0m11.4-10.9h0m-1.6 5.7h0m-20.5-9.8h0m-8.3 2.3h0m25.3-13.2h0m-0.6 11.5h0m-17.9-3.5h0m17.3-6.7h0m-7.2 8.5h0m-15.2 8.1h0m34.9-6.6h0m-18.6 9.6h0m2.7 4.8h0m-13.3-5.2h0m19.6-2.2h0m-2 3.8h0m-12.1-30.8h0m12.6 30.7h0m-4.5-12.9h0m-5.8-41.7h0m-15.9 18.3h0m32.7 32h0m-5.9 3.5h0m9.3-4.5h0m-5.6 2.4h0m11.9-2.4h0m-20.9-8.7h0m4.5-62.5h0m-14.4 69.2h0m-1.4-11.9h0m39.3-26.7h0m-39.1 12.4h0m-2.6 1h0m27.3 9.8h0m-9.4 23.9h0m6.4-8.9h0m0.3-33.4h0m-14.3 22.4h0m-0.2 13.3h0m0.9 5.1h0m-0.1-26.9h0m3.2 24.1h0m13.2-12.4h0m0.4 12.8h0m-13.7-39h0m2.9 31.5h0m-16.1-1.3h0m3 8.7h0m-18.8-12h0m21.8 15.4h0m3.8-6.8h0m13.8-24.6h0m7.2 17.6h0m-13.2-12.3h0m-0.7 27.3h0m2-32.2h0m10.1-8.3h0m-0.8 22.6h0m-11.5-9.1h0m1.9-1.3h0m-19.9-5.9h0m4-21.3h0m20.6 48.5h0m-4.8-6.5h0m26-2.9h0m-34.7 10.7h0m9.1 1.8h0m4.6-66.7h0m-35.4 61.5h0m27.2-22.7h0m-32.2 2h0m4.5 17.9h0m38.2 0.8h0m-12.6 4.7h0m2.4 3.3h0m-8.4-4.9h0m-11 3.9h0m18.9 2.6h0m21.2-9.4h0m-16.5 7.9h0m-12.3 1.8h0m-3.7-1.7h0m9 0.3h0m-7.6-8h0m3.6-28.1h0m-7.1 31.4h0m23.2-24h0m-4.2 17.7h0m-10.7-17h0m9.8 3.6h0m2.8 1.8h0m-8.4 18.2h0m-5.5 3.5h0m8.5-9.7h0m-4-47.5h0m17.4 48.1h0m-20.9-0.4h0m-6.8 3.8h0m10.3-22.7h0m-18.8 16.2h0m29.9-20.3h0m-14.6 23.9h0m-6.6-41.6h0m0.7 31.8h0m15.7-0.4h0m53.7-4.6h0m-66.3-9.5h0m2.2 24.4h0m15.1 6.2h0m-16.8-21.8h0m0.5 5.9h0m0.5 22.9h0m-21.2-35.1h0m36.7 19.7h0m-7.3-49.9h0m-29.5 49.3h0m19.8-22.1h0m16.4 31.9h0m20.4-6.2h0m-33.8-33h0m6.9 35.1h0m4.1-30.2h0m-20.3 3.3h0m-16.9 23h0m38.1 2.2h0m-8.5-50h0m-6.6 21.7h0m24 29.2h0m-25.6 0h0m-13.1-8.2h0m31.4 8.9h0m13-4.3h0m-21.2-5.6h0m-20.5-28.6h0m19.1 46h0m-3.8-5.2h0m-1.2-3.1h0m9.1 6h0m-13.6-4.5h0m23.4-16.1h0m-13.8-34h0m2.5 44.5h0m-11.2 11.1h0m7 4.1h0m-2.3-13.5h0m-0.2-4.3h0m-2.7 5.7h0m5.8 12.9h0m0.6-4.1h0m-9.9-0.4h0m18.2-4.8h0m-7.1 8.3h0m-7.4-8.7h0m7.4-21.6h0m-12.6-24h0m5.9 44.4h0m5.1-14.4h0m3 18.9h0m-2.2 4.1h0m-7.4-9.7h0m2.2 10.1h0m13.7-18.9h0m-18.7-15.9h0m-8.6-10.7h0m-5.2 38.8h0m11.4-51.5h0m5.6 47h0m-17.9 1h0m31.6-7.9h0m-11.7-13.2h0m-7.2 24.4h0m6.8-1.3h0m5.2-2.1h0m-3.6-15.8h0m-7 23.1h0m6.8-10.4h0m15.5-5h0m-5.3 16.1h0m4.7-16.9h0m-24.7-10.6h0m17.9 27.2h0m-10.4-9h0m2.5 9.9h0m10.5-13.5h0m1.4 7.7h0m-4.6-2.1h0m-1.1-22.1h0m-2.9-0.7h0m11.4 18.8h0m0.3-10.1h0m-18.1 13.3h0m10 0.4h0m-5.7 12.1h0m4.4-18.7h0m4.6 5.2h0m-0.2-18.9h0m-6.9 23h0m-4.8-49.9h0m17 29h0m-5.6 4.7h0m-28.2 15h0m13.6-30.7h0m5 12.3h0m4.3-24.3h0m3.6 25.5h0m0.1 20h0m-4-11.2h0m5.1 12.9h0m-5.6-21.8h0m-4.8 19.4h0m4.5-40.1h0m-4.4 42.2h0m5.7-9.4h0m-8.2-13.7h0m-9.9 12.6h0m33.2 0.5h0m-28.8 9.4h0m-11.4-19.1h0m12.8 8.7h0m4.2-8.5h0m-6.3-16.3h0m18 39.3h0m-25.4-30.9h0m12.5 10.5h0m4.6-25.4h0m-18.7 8.5h0m25.9 14.9h0m-4.7 22h0m-4.7-1.1h0m30.8-10.6h0m-25.3 0.5h0m5.6 8.2h0m-3.5-7.9h0m6.1-9.5h0m-15.6-0.4h0m4-36.7h0m-0.1 60.5h0m-5.6-3.4h0m8.2 0.7h0m-7.1-61.7h0m-5.5 55.2h0m10-12.7h0m10.6 3.9h0m1.3-36.1h0m-2 43.2h0m-21.9-5.6h0m22.3-18.3h0m-18.1 22.2h0m-1.4 0.8h0m16.3 0.2h0m1.6-42.5h0m24.1 35.5h0m-43.2 14.3h0m10.1-19.1h0m-0.5-17.1h0m-4.2 34.2h0m4.7-7.9h0m9.9-29.1h0m-3.9-1.3h0m3.7 36.9h0m-15.8-1.2h0m26.9-0.9h0m3.1-38.8h0m-27.2 31.2h0m14.4 3.1h0m-19.2 3.6h0m17.6 5.5h0m-29.8-27.3h0m34.6 11.4h0m-21.6 8.7h0m21.9-38.3h0m-4.6 34.2h0m-5.3-12.7h0m4.9 21.7h0m-10.6-4.4h0m18.6-6.3h0m-9.3-41.2h0m-8.1 42.3h0m3.7 3.2h0m-16.2-13.5h0m23.6-11.3h0m-15.5-12.8h0m12.9 3.7h0m-4.7 35.2h0m2.9-2.6h0m-11.8-8.5h0m18.9 11.1h0m2.6 1.6h0m-9.1 6.4h0m15-15.8h0m-23.8 12.8h0m15.1 0.8h0m-9.1-9.2h0m4.4 8.1h0m2.3-21.2h0m-10.9-6.6h0m19 26.4h0m-10 0.9h0m-5.2-8h0m11.3 5h0m-17.5 6.1h0m2.1-6.8h0m3.2 7h0m0.1 3.9h0m4.6-3.5h0m-1.4-5.2h0m5.2 3.7h0m-26.7-16.5h0m21.6 6.4h0m-6.7-4.4h0m4.7-1.6h0m0.4 20.7h0m-14.6-5h0m10.1-24.4h0m15.5 8.4h0m-15.5-3h0m-0.9 14.6h0m-0.6 1.9h0m10.7-49.7h0m-12.5 26.9h0m6.2-3h0m-20.7 12.4h0m20.8-0.1h0m-9.9 2.4h0m2.4-9.2h0m-17.3-16.4h0m27.8 19h0m11 6.3h0m13.1-25.4h0m-34.7 34.1h0m-0.6 4.6h0m9.1-40.8h0m-4.1 23.7h0m11.2 12.8h0m-7.9-21.6h0m-3.4 31.4h0m3.2-26.9h0m-3.1 19.4h0m4.8-5.2h0m-2.3 12.8h0m8.2-6.6h0m-7.8 2.5h0m7.6-31.8h0m-9.6 37.4h0m26-55.2h0m-28.1 49.4h0m-8.3 2h0m8-37.4h0m47.5 23.4h0m-62.3 6.9h0m10.8-50.9h0m-1.4 0h0m-0.6 24.2h0m5.9-3.8h0m13.6 34h0m-13.1 4.3h0m-16.4-13.2h0m16.8-1.1h0m14.8 4.4h0m-6 4.1h0m-18.1-9.8h0m20-23h0m-9.8 11.1h0m19.1 22.7h0m-33.9-6.1h0m38.4-4.6h0m-20.3 5.5h0m3.8 6.2h0m-3.6-7.1h0m9.7 10h0m8-5.4h0m-8.1-26.7h0m-24 21.9h0m14.1 4h0m-3.5 9.9h0m10-9.7h0m-33.9-0.9h0m-2.9-17.6h0m8.7 13.4h0m22.4-55.3h0m10.2 44.3h0m-11.3 3.5h0m-6.3 19.5h0m23-25.8h0m-4 18.2h0m-6.5-35.7h0m-5.8 29.4h0m0.2-1.6h0m3-15.1h0m-13.6 5.5h0m0.9 15.3h0m-12.9 4.7h0m36.3-25.7h0m-20.3 6.8h0m10.1-13.8h0m-4.6 39.6h0m-1.5 1.1h0m8.2-37.5h0m2.2 32.1h0m18.1-15h0m-24 2.4h0m8.2 8.8h0m-10.5 2.2h0m0.8 0.7h0m4.9-28.7h0m-14.1-7.3h0m17.5 35.7h0m-16.3-38.9h0m11.4 37.2h0m0.7-12h0m-11.1 10.6h0m1.6-5.5h0m-7.3 11.1h0m11.5-0.3h0m-8.8-0.1h0m14.1-7.2h0m-5-42.5h0m-12.7 21.9h0m2.1 28.1h0m0.2-5.5h0m20.6-0.3h0m18-20.9h0m-34.6 27.5h0m-6.2-10.7h0m3.9 5.2h0m5.1-38.3h0m11.4 40.3h0m-11.9-9.7h0m4.3 9.8h0m1.7-7.8h0m-2-11h0m-8.8-17.7h0m-18.1 30.9h0m27-22.1h0m-6.9 12.1h0m15.2 5.7h0m-13.8 10.2h0m2.1-34.4h0m-4.2 24.8h0m-1.2-12.6h0m10.5-27.7h0m-6.9 50.3h0m30.5-22.6h0m-16.1 19.1h0m-20.9-15.9h0m-3.6 20.9h0m0.3-30.5h0m8.9-0.6h0m5.7 30.9h0m-10.7-10.5h0m7.9-20.4h0m-5.2 16h0m2.6 7.5h0m19-5.1h0m-10.1 15.2h0m-16.7-9.4h0m9.7 11.6h0m3.7-10.5h0m1.2-22h0m-7.8 9h0m34.8 9h0m-31.4 7.3h0m3.7-16.6h0m0.7 18.8h0m-21.9-12.7h0m36.2-6.6h0m-21.1-11.4h0m2.2 6.6h0m-2.2 10.6h0m5.8 10.7h0m6-6.4h0m-5-15.1h0m4.9 26.9h0m8.5-42.4h0m-18.1 24.8h0m3.6-37.3h0m-8.1 37.5h0m4.5 6.9h0m-13.7-5.6h0m13.7 7.3h0m-0.9-35.7h0m23.2 32.8h0m-21.8-2.7h0m-1.2 12.7h0m-11.8-2.9h0m28.9 0.1h0m-17.8 3.9h0m15.1-13h0m-9.3 2h0m1.2-15.1h0m-27.2 2.7h0m29.2-3.2h0m15.3 8h0m-18.2 20.2h0m-16.4-13.9h0m8.5-5.9h0m6.9 17.6h0m-7.4-28.7h0m2 25.3h0m-4.4-41.6h0m-7-6.9h0m13.4 26.9h0m-11.2 1h0m14.4 23.1h0m0.9-42.1h0m-0.9 41.5h0m-24.5-12.5h0m21.6-12.1h0m16.6 10.9h0m-22.3-20.6h0m3.5 22.1h0m-0.3 9.1h0m16.5-4.7h0m-7.7-9.8h0m-3.2 16.5h0m-12.3-22.8h0m9.3-3.6h0m-0.1 9.7h0m5.9-36.9h0m-16.6 52.9h0m16.8-38.3h0m-0.1 27.9h0m-7-7.6h0m4.1 7.7h0m1.1 13.5h0m34.8-28.9h0m-10.2 0.9h0m-32.2-17.4h0m10 42.5h0m-7.9-43h0m17.5 34.9h0m-19.9-6.5h0m25.4-7.5h0m-27.3-11.5h0m5 23.9h0m7.2-7.3h0m25.9 5.3h0m-30.7 18.5h0m-7.1-2.7h0m10.7-4.6h0m-20.1 0.6h0m11.2-4h0m7-24.2h0m-19.8 16.9h0m24 1.1h0m5.3 8.8h0m-13.6 5.2h0m8.2-19.8h0m-11.9-0.8h0m12-1h0m2-4.3h0m-3.6 12.7h0m-47.6-28.8h0m49.9 9.9h0m-16.2 16h0m7.3-3.8h0m-15.5 6.7h0m5.3 9.5h0m20.6-5.1h0m3.5-6h0m-2.5 0.1h0m-20.2 3h0m5.6-5h0m6.6-23.9h0m-14.7 37.9h0m-2.6-20h0m26.6 14.1h0m-13.3 9.9h0m12.9-33.5h0m-6.3 5.8h0m2.5-9.5h0m-11.2 29.1h0m-1.8-25.9h0m5.1 3.3h0m15.6-18h0m-6.9 36.5h0m-8.9-25.5h0m3.8 7.1h0m2.6 21.3h0m-20.6 4.3h0m26.8-14.7h0m-17.8 6.2h0m5.3-4.8h0m12.2 16h0m-4.4-35.9h0m-7.8 18.5h0m4.6 7.8h0m-11.3 5.1h0m12.9 7.2h0m-1.2 0.4h0m0.1-46.2h0m-9.7 44.2h0m13.3-26.2h0m-0.9 3.3h0m-13.1 12.5h0m5.9 10.5h0m-2.9-12.5h0m1 7.2h0m10.4 1.6h0m-0.1-29.2h0m-9-1.2h0m13.6-7.2h0m-35.2-6.9h0m26.5 25.8h0m8.3-17.6h0m-35.8 23.6h0m21.4 6.8h0m24.5-0.4h0m-17.6-1.1h0m1.6-28.5h0m-15.2 21.8h0m2 17.3h0m28.4-13.2h0m-22.5 13.7h0m-1.3-1.6h0m1.1-22.9h0m-0.8-1.3h0m-8.6 13.5h0m16.7-2h0m-7.4 7.9h0m3.1 5.7h0m-2.7-21.3h0m-1.2 22.3h0m30.5-9.4h0m-19.3-33.7h0m-7.1 36.5h0m25.3-3.7h0m-21.7-27.8h0m-8.4 30.8h0m-4.1-0.7h0m9.3 3.1h0m-3.3-47h0m-2.4 51.3h0m14.4-24.3h0m-2.9 5.6h0m-23 16.1h0m17.1-8.6h0m4.6 11.5h0m0.7-14.4h0m8.2 9.1h0m-5.5 1.3h0m-13.6 2h0m10.8-18.1h0m-11.3 20.3h0m34.9-42.7h0m-35 1.5h0m-11.3 30.9h0m17.1-55.5h0m0.4 42.8h0m-17.9 19.5h0m17.8-2.3h0m3.4 1.8h0m5.9-19.2h0m-8.2 5.3h0m-8.4 16.4h0m3.9-3.5h0m3.1-21.1h0m-3 9.7h0m7.3-4.2h0m-16.2 19.1h0m18.6-9.2h0m-38.6-10.2h0m29.1-4.6h0m4-6h0m1.4 17.6h0m-5.4-19.4h0m8.5 25.3h0m-13-10.3h0m3.4 4h0m4.7-27.4h0m-3.1 40.8h0m-3.4-0.8h0m10.7-9.1h0m-3.7 4.9h0m-12.9-29.9h0m-0.5-13h0m15 46.6h0m5.6-22.2h0m-25.7 0.9h0m23.3 5.3h0m-22.5 14.6h0m4 0.2h0m6.9-7.7h0m7.3-9.6h0m-6.8 8.6h0m19.7 4.6h0m-5.1 4.3h0m-25.7-33.1h0m26.5 23.7h0m-9.6-12.7h0m-9.6 7.6h0m4.8 18.8h0m-2.2-39.3h0m-6.1 35.7h0m15.3-19.2h0m-54.9-0.8h0m-3.1-2.7h0m57.7 23.1h0m4.9-3.4h0m19.7-22.3h0m-18 8.5h0m1.8 0.6h0m-15.7 3.8h0m4.4 13.7h0m24.1-39.1h0m-31.6 0.4h0m-42.4 18.6h0m39.6-11.9h0m18.6 25.6h0m-25.8-22.9h0m10.9 24h0m12.8 4h0m-1.9-4.1h0m10.4-2.1h0m-28.4-3.5h0m18.4 6.1h0m-13 2.2h0m-12.2-7.7h0m21.2-19.1h0m-0.2 12.1h0m8.4 2.1h0m4 7.5h0m-10-5.8h0m0.7 12.8h0m-8.3-17.1h0m-0.3 4.6h0m20.2 7.3h0m-34.2 2.4h0m33.9-33.2h0m-12.5 38.1h0m-6.2-10h0m20.6-24.5h0m-12.4 16.3h0m-2.7 17h0m13.5-29.9h0m-27.8 25.3h0m19.3-7.8h0m-22.5 6.8h0m10.1-32.8h0m3.4 39.6h0m12.7-24.7h0m-7.3 6.8h0m-10.5-5.7h0m8.8-31.8h0m-0.6 33.7h0m13.4 13.3h0m-40-8.7h0m30.5 3.3h0m-1.6-16.6h0m-6 0.1h0m-4.6 27.7h0m4.8-38.5h0m10.3 30.4h0m-22.2 8.3h0m31.1-51.8h0m-16.4 52.5h0m-18.9-20.1h0m-5.6 9.8h0m11 1h0m13.9-2.9h0m2.5 13.8h0m-8.4-17.1h0m17.1 2.4h0m-16.3-2.1h0m0.7-21h0m9.6 29h0m17.6-21.4h0m-6.6 8.4h0m10.5-6.6h0m-23.7-17.5h0m-3.3 31.6h0m-3.8-3.9h0m0.4-12.1h0m-2.8-15.8h0m19.1 25.3h0m-34.1 9.4h0m27.1 7.5h0m-21.2-11.6h0m-9-33.3h0m6 41.4h0m23.8-31.6h0m1.8 15h0m-19.4 19.8h0m14.7-5.9h0m-13.1-36.3h0m11.4 31.2h0m0.4-18.6h0m1.9 19.4h0m8.1 2.2h0m-14.3-7.7h0m4 3.7h0m9.1 14.4h0m3.3-7.1h0m-34.5 2.4h0m17.6-8.6h0m4.1-39.8h0m-8.3 34.3h0m14.2-21.2h0m-6.3-19.7h0m18.9 53.6h0m-17.7-10h0m1.7-11.3h0m-6.7 9.5h0m8.9-31.4h0m6 4.9h0m-1.9 35h0m-14.3 2h0m2-53.8h0m8.5 57.4h0m-13.1-11.8h0m-0.1-3.3h0m24.9 11.9h0m-17.2-5.7h0m-19-18.3h0m-4.9 7.6h0m26.7 21.9h0m-5.6 5.7h0m-0.2-27h0m-4.7 3h0m-3.7 1.9h0m7.5-26.9h0m-10 33.2h0m24.7-6.4h0m-0.7-20h0m-7.1 15.5h0m8.7-19.7h0m-30.8 26.7h0m19.1-23.2h0m0-21h0m15.4 55.9h0m-16 6.6h0m32.2-24.1h0m-5-18.6h0m-9.4 23.8h0m-13.5-7.7h0m-6.9 1.2h0m7.1 7.9h0m-6.1 16.8h0m10.6-16.3h0m1.2 13.4h0m-2.9-10.7h0m-11.8 13.8h0m-19.9-21.6h0m35.5 15.9h0m-21.9 4.3h0m8.3-37.4h0m10.2 28.6h0m4-4.7h0m-6.1 5.6h0m-12 2.6h0m7-20.4h0m7.8 4.8h0m-11.2 10.2h0m24.4 3h0m-25.1-47.4h0m-18.5 25.7h0m31.6 18.2h0m-8.9 3.7h0m-6.4 6.5h0m22.7-38.7h0m-24.8 32h0m-5.8-39.5h0m5.8 40.6h0m-10.8-9.2h0m11.4 14.4h0m36.2-10.2h0m-14.3-22.6h0m-14.2 26.7h0m-11-16.3h0m-5.8 17.8h0m21.6 6.8h0m6.9-38.8h0m-7.7 3.6h0m-6.8 31.6h0m-3.7-14.6h0m2.2 19.7h0m-19.4-30.2h0m32.7 14.3h0m7.6 3.9h0m-16.2-4.6h0m-2.7 15.9h0m4.3-20.9h0m15.4-4.4h0m-17.6 25.4h0m-2.9-23.7h0m-11 20.7h0m7.3-0.9h0m1.6 3.2h0m11.7-44h0m-5.8 38.8h0m-8.6-7.1h0m-13.2 6.9h0m16.5-2h0m-10.7-15.5h0m15.9 6.7h0m-12.5 3.3h0m0.6-4.7h0m18.2 1.4h0m-5.3 17.1h0m-15.2-13.4h0m46.5-12.7h0m-51.7 18h0m1.9-10.4h0m13.8 3.8h0m24.2 6.5h0m-16.9-36.8h0m-7 27.5h0m-7.2 2.1h0m4-23.8h0m7.7 28.4h0m-6.2 9.4h0m5-48.2h0m-10.9 27.5h0m11.7 21.5h0m-24.9-36.2h0m30.6 5.4h0m-9.9 29.9h0m-15.2-18h0m12.1 17.5h0m2 0.8h0m-16.1-11.8h0m21.1-13.9h0m-5.9 23h0m7-35.9h0m0.6 26.6h0m-0.1 12.1h0m-14-2.1h0m27.7-9.2h0m-22.9-1.2h0m6.4 14.2h0m-3.3-2.4h0m4.9-36.2h0m10.7 6.6h0m3.3 10.8h0m-27.7 14.3h0m26.2-4h0m-7 1.2h0m4.1-6.4h0m-25.1 10.9h0m23.6-11.5h0m-9.5-7.2h0m0.4 11.5h0m-6.8-25.9h0m16.4 21.4h0m-26 11.4h0m11.9-45.9h0m0.8 21.3h0m9.8 11.5h0m-12.7-16.9h0m24.7-16.8h0m-27 37.9h0m22.1-17.8h0m-19.1 30.2h0m-0.4-10.3h0m-0.4 11.8h0m7-18.7h0m4.9-16.8h0m-8.9 30.4h0m3.7-2.6h0m15.3-5.4h0m-19.2 0.5h0m-10.9 4.3h0m21.2-29.9h0m0.7 34.7h0m5.3-16.9h0m-4.4 13.8h0m-16.9 0.1h0m1.4-0.5h0m8.7 6.8h0m-11.3-7.2h0m-5.2-5.5h0m11.4 3.3h0m-1.2-12.5h0m-3.6 13.8h0m8.6 7.6h0m0.8-11.6h0m4.2-5.5h0m5.4 9.1h0m-10.3-16.4h0m-21.7-13.4h0m20.9 36.9h0m-8-3.7h0m-24.1-38.6h0m48.2 38.5h0m-19.7-35.4h0m55.4 13.7h0m-51.4-18.3h0m-3.9 2.1h0m-1.4-11.7h0m-12.7 22.3h0m9.2 5.3h0m16.7-4.4h0m-16.1 6.4h0m5.8 25.1h0m12.9-5.8h0m-14.2-22.8h0m-6.2 23.5h0m-5.6-42.4h0m4.2 45.4h0m18.3-2h0m-5.3-21.3h0m-1.5 8.8h0m27.8-8.5h0m0.8 12h0m-22.2-7.4h0m2.1-30.8h0m-8.3 47.5h0m-5.8-61.6h0m0.4 59.1h0m5.5 2.7h0m-3.4-25.9h0m7.7 24.9h0m4.2-24h0m-12.2 8.6h0m-12.8-9.1h0m20.1 22.9h0m-6.4 4.2h0m14.8-13.7h0m-25-0.5h0m14.1 17h0m8.1-29.2h0m-20.7 21.8h0m-9.5-31.6h0m12.4 21.1h0m-7.1-7.5h0m12.3-12.6h0m-0.2-5.5h0m5.1 34.2h0m4.2 0.7h0m-24.9-13.2h0m32.5 6.1h0m-12 0.4h0m0.8-6.8h0m-12.5-27.4h0m2.4 11h0m13.8-29.6h0m-20 17.4h0m2.7 45.3h0m7.3-41.7h0m-2.4 14.8h0m3.2 11h0m-17.8-11.6h0m14.9-4.8h0m5.9-35.1h0m-9.5 38.4h0m21.9 15.7h0m-4.5-9.3h0m-20.5 8.1h0m25.9 2.2h0m-5-18.1h0m-18 0.2h0m1.2 19.7h0m22.7-5.8h0m-11.2 19h0m45.1-23.8h0m-21.2 12.7h0m-34.7-43.7h0m2.3 34.3h0m-3.8-17.1h0m20.3 19.5h0m-2-24.8h0m-23.1 33.1h0m25.7 8.4h0m-0.1-31.9h0m-14 36.1h0m-21.9-18.4h0m33-43.1h0m-25.7 41.9h0m13.6 12.3h0m5.6-58.5h0m-8.7 32.7h0m8.9 29.3h0m3.3 0.9h0m-12.5-10.8h0m7.2 0.8h0m-5.4 10.8h0m21.6-13.3h0m-22.2 6.5h0m-8.9 4.9h0m14.7-32.6h0m-13.8 14h0m10.6-2.8h0m-23.8 13.7h0m30.5 0.6h0m-6.5 7.7h0m10.1-41.6h0m-21.8 11.8h0m-4.3-0.2h0m7.1 16.7h0m14.5-45.6h0m10.1 40.4h0m-10.8 9.9h0m3.3 4.6h0m-1.8-57.7h0m-3.2 54.5h0m-14.4 3.6h0m6.1-25.9h0m2.3 24.5h0m10.2-50.6h0m4.2 38.7h0m-11.8 17.9h0m12.6-7.7h0m-31.3-0.1h0m13.3-7.6h0m-1.5 15.2h0m12.7-1.4h0m-1.8-24h0m-8.2 22.9h0m13-6.1h0m4.6 7.1h0m-8.3-6.3h0m-11.8-17.5h0m6.4 16.7h0m-3.9 4.1h0m19.1-2.1h0m-17.1-1.5h0m-0.2-9.6h0m8.1 8.4h0m-2.6-23h0m-19 28.6h0m19.2-8.8h0m-15.5-12.6h0m17.3 25.8h0m41.2-19.8h0m-33.6-9.9h0m-16.5 21.9h0m16.8-5.9h0m10.4-1.4h0m-7.2-26.6h0m-8.8 32.5h0m-7.6 1.8h0m4.9-19h0m0.5 27.2h0m-21.7-5.6h0m28.8 1.6h0m-50.4-12.4h0m56.8 3.2h0m-10.8 10h0m32.9-35.6h0m-30.3 18.6h0m7.3 11.2h0m-9 0.3h0m-12.1-6.9h0m16.2-3.1h0m-12.7-11.9h0m12.3 21.3h0m-17.1 1.9h0m-10.7-9.1h0m25.1 11.8h0m-5.1-5.4h0m0.7-6.6h0m-2.2-25.1h0m5.7 1.3h0m-11.7-5.2h0m-7.5 21.8h0m-10.7 10.4h0m19.8-7.4h0m-6.6 15.8h0m-2.1-12h0m10.1 15.9h0m0 0.6h0m3-32.3h0m12.1 25.6h0m-15 9.2h0m-1.5-9.3h0m-1.7-32.4h0m-4.8 35.9h0m7.6-8.6h0m0-8.8h0m0 15.9h0m8.4-23.9h0m4.5 10.3h0m-13-3.9h0m25.7 0.5h0m-15.3 18.7h0m-25.7-14.8h0m23.5-16.1h0m12.4 28.4h0m-42.4-22.3h0m32.6 17.1h0m17.2 2.9h0m-28-3h0m10.1-18.6h0m10.5 16.1h0m-13.7 13.3h0m-24-13.5h0m12 13.2h0m13.4-16.6h0m-12.7-19h0m3 30.4h0m10.9-40.5h0m9.7 26.1h0m-22.8-3.1h0m0.3 18.3h0m6.9-11.6h0m2.8-22.2h0m39.4 23.3h0m-24-20.8h0m-11 34.3h0m-2.9-4.9h0m-2.1 6.2h0m-11.9 0.4h0m-3.7-5.2h0m-11.7-9.1h0m15.3-39.3h0m18.9 39.8h0m-17.1 13.3h0m16.3-1.3h0m-14.3-8.9h0m6-19.3h0m-3.3 25.8h0m-5.8 3.2h0m9.8 2.6h0m-10.6-33.4h0m-1.7 8.8h0m12.7 1.5h0m-7-15.5h0m-2.5 26.2h0m2.9-0.3h0m14.2 2.6h0m-15.5-18.3h0m16.2-10.5h0m-10.2 35.5h0m3.1-22.5h0m-13.6-10.6h0m-10.6 22.5h0m21.9-20.8h0m3.7 1.5h0m-8.5 16.1h0m-3.1-32.3h0m3.5 22.2h0m3 27.2h0m4.8-23.6h0m-7-37.4h0m2.8 57.8h0m0.4-15.5h0m-6.3 18.1h0m1.4-6.9h0m5.2-15.6h0m7 18.8h0m-18-1.1h0m14.5-12.5h0m-12.1 4.3h0m27.2 5.3h0m-21.1 8.1h0m-10-20.6h0m5.2 18.6h0m9.5-16.8h0m-21.4-39.7h0m14.8 57.3h0m10.6-30.4h0m-6.2 25.6h0m-24.3-12.5h0m43.7 1.2h0m-21.5 18.7h0m-11.9-14.8h0m23.9-3.7h0m-8.2-4.3h0m2.2 14.1h0m-1.8-0.7h0m12.6-14.7h0m-22.4-9.2h0m8.9 5.4h0m1.3-32.8h0m-5.6 2.2h0m0 52h0m-13.3-9.9h0m12.6 10.4h0m3.8-0.8h0m13-3h0m-3.5-10.3h0m0.6-18.5h0m4.1-5.8h0m-11.4 17.1h0m-10.2 20.1h0m6.7 3.4h0m-17.8-26.1h0m19.7 17.3h0m8.6-36.3h0m-31.5 41.1h0m29.7-5.5h0m6.7-6.4h0m-8.8-9.5h0m-79.2-3.8h0m79.6 16.3h0m11.8 0.2h0m-22 9.5h0m-5.4-6.7h0m2.7 4.4h0m6.4 4.7h0m16.3-13.9h0m-15.4 2.8h0m4.7-30.6h0m-2 23.3h0m11.3 12.5h0m-7-9.7h0m-15.4-2h0m3.4-4.6h0m-8.6 3.9h0m0.1 9h0m17.6 3h0m-25.8-26.8h0m23.8 31.4h0m-0.4-20.4h0m-15.7-28.4h0m9.3 45.9h0m8.8-7.9h0m-14 11.2h0m29.3-4.9h0m-13.9 4.8h0m-5.6-1.8h0m28.6-4.7h0m-15.4-19.1h0m-17.2 19.8h0m-6-49.7h0m-5.7 52.3h0m22.2-29.5h0m-15.4 29.7h0m10.1 2.3h0m-2.1-6.2h0m9.5-2.4h0m-15.1 13.2h0m18.9-19.4h0m-13-4.2h0m4.3 11.4h0m24.1-2.6h0m-28.7 9.3h0m6.6-7.1h0m-15.9-26.1h0m2 21.8h0m26.9 10.1h0m-5.7 0.6h0m-17.1-19.3h0m-1-0.2h0m0.6 10.2h0m-4.9-4.8h0m22 2.4h0m0.9 5.9h0m-22.4 11.6h0m17.1-25.9h0m-35-4.9h0m42.3 8.3h0m-16.3 10.4h0m-12-33.2h0m17 29.2h0m-12.8 10h0m15.3-0.3h0m-11.7-3h0m-2.2-5.2h0m2.5-7.2h0m-1.8 12.4h0m13.4-31.8h0m6 36.8h0m-12.9-7h0m-9.8-44.6h0m17.4-4.3h0m-18.7 32.3h0m18.3-6.2h0m-14.2 24.3h0m3.3 0.2h0m13.5-5.7h0m0.7 7.9h0m-10.6-40.6h0m-4.6 48.6h0m0.5-17.2h0m10.9-49.9h0m-10.7 15.2h0m-5 47.1h0m-0.4-22.7h0m-2.4 8.8h0m15.6-30.5h0m-14.6 41h0m-5.7-48h0m20.7 53.6h0m5.9-49.6h0m-24.3 45.9h0m-4.9-17h0m21.6 3.1h0m-0.5-31.4h0m-10.6 28.3h0m41.9 9.4h0m-46-54.8h0m13.1 19.4h0m7.4 46.7h0m-1.9-2.9h0m-22 0.7h0m-6.1-2.9h0m26.5 7.1h0m-16.4-23.7h0m30.2 14.2h0m-8-17h0m-18.1 16.5h0m-3.2-18.1h0m7.2 5.9h0m18.5-6h0m-48.2-25.1h0m33.1 22.5h0m4.4-4.6h0m-3.3 27.4h0m5-4.5h0m-32.7-3.2h0m20.6 8.2h0m2.6-54.5h0m5.5 49.6h0m-14.6-9.7h0m17.9 0.9h0m-3.6-1.3h0m-1.9 5.2h0m-9 12.8h0m-2.7-32.3h0m32 22h0m-24.6-1.3h0m-3.9 6h0m8.2-9.3h0m4.8 16.5h0m6.8-9h0m-21.3-5.4h0m6.3-15.2h0m-17.8 20.6h0m33.6-19.4h0m-4.8 23.8h0m-6.5-15.6h0m-7.6 13.4h0m17.4-33.5h0m-8.3 2.4h0m-6 42.8h0m3.3-8.1h0m10.7-37.1h0m-3.2 15.8h0m4.1-23h0m-18.1 15.7h0m13.7 28.6h0m10.6-27.7h0m-23.5 32.7h0m0.5-7.4h0m14.2-23.9h0m-2.7 29.8h0m-6.1-18.3h0m-10.6-5.7h0m-11.1-0.7h0m23.8-23.9h0m16.3 44h0m-4.8 2.4h0m-27.9-4.9h0m9.7-2.9h0m0-5.8h0m5.4 4.8h0m-8.2 14.1h0m12.4-15h0m-8.5 10.1h0m9.6-15.2h0m5.5 14h0m-3.4-10.2h0m-15.1-0.9h0m12.8-13.7h0m-3 7.5h0m2-15.9h0m-11 23.9h0m10.6 14.9h0m2.6-5.5h0m-16.6-3.3h0m31.5-6.4h0m-25.6-0.6h0m31.3-24.7h0m-39.2-1.2h0m14 38.5h0m6.3-1.7h0m-13.1-3.7h0m14.5-13.6h0m-13.9-14.7h0m11.1 26.2h0m8.3-14.7h0m-8.2 1.1h0m-1.4 16.6h0m-19.1 3h0m14.9-4.9h0m-9.2 4.1h0m20.4-7.4h0m-16.3 0.1h0m-7.4-6.9h0m-0.6-17.5h0m21.5 34.5h0m-13.7 0.5h0m-0.2-9h0m-2.1 6.1h0m-22.4-28.2h0m22.7 23h0m9 3.4h0m1.7-33.6h0m-15 33.4h0m22.2-40.9h0m-25.2 22.3h0m2.9 10.9h0m-3.3-7.8h0m15-9.8h0m-1.8 22.7h0m-5.8-27.3h0m-2.3-21.6h0m11.7 44.4h0m-7 1h0m9.1 3.8h0m-10.7-13.7h0m-15.4-16h0m-38 18.4h0m33.8-21.7h0m53.3 28.7h0m-29.1-5.6h0m-3.8 4.2h0m29.4-2h0m-23.8 15.7h0m17.6-26.6h0m-27 7.9h0m3.8-1.3h0m4 5h0m7.6-7.3h0m16.9 1.1h0m-34.8-3.1h0m10.8 4.4h0m-15.6 5.3h0m-9.5 0.7h0m31.6 9.4h0m-10.1-4.6h0m14.2 4.5h0m-15.1 1.1h0m11.1-6.6h0m9.1-42.3h0m-19.7-0.3h0m11 27.2h0m-10.5 13.4h0m0-18.1h0m5.4 20.6h0m-7.4-44.6h0m12.4 39h0m-16.7-15.2h0m-17.2-0.1h0m47.9 20.6h0m-18.8 5.7h0m-2-19.3h0m2.9 24.2h0m-8.4-20.9h0m-8.8 12.7h0m20.2-18.5h0m-14.5 12.4h0m16.1-0.4h0m-7.9-10h0m8.9 5.4h0m-7.3-31.2h0m10 47.2h0m-34.6-11.1h0m13.3-0.1h0m16.2-4.9h0m-6.6 5.6h0m-3.1-21.7h0m2.9 24h0m-15.9 1.5h0m21.4-24.1h0m-0.1 28.8h0m-11.5-10.8h0m-0.7-19.7h0m15.1 7.1h0m-5.8 18.9h0m34.3-13.9h0m-56.8 14.6h0m20.6 0h0m7.5 1.9h0m21.8-45.9h0m-26.6 44.3h0m-3.2-2.9h0m14.7-15.3h0m-32.8 6.4h0m13 17.8h0m-17.2-25.3h0m22.7 12.9h0m-8.4 15.5h0m22.7-19.5h0m-23.6-17.7h0m4.1 28.4h0m-2.1-2.3h0m7.4-19.9h0m5.2-19.6h0m-21.7 39.3h0m20 2.2h0m-4.2 2.6h0m2.6-7h0m-2.6 8.5h0m12.8-13.3h0m-17.9-23.9h0m5.6-19.6h0m1.2 54.5h0m9.5 4h0m-21.6 2.6h0m25.9-27.6h0m-21.3 0h0m15.9 9.1h0m-23.8-11.1h0m6.6 26.9h0m7.7-23.6h0m-15.9 10.7h0m11.7-14.5h0m-6.5 30h0m13-23.4h0m12.6 8.3h0m7.1-5.2h0m-21.7-14.6h0m-0.7 33h0m9.8-27.7h0m-33.1 7.7h0m25.4 12.1h0m-17.5-15.3h0m15.2-6h0m-3.4 34.2h0m5.3-30.4h0m-7.4-4.9h0m8.2 32.9h0m-10.5-9.6h0m9.6 6.7h0m1.9-9.4h0m15 5.8h0m-3.1 2h0m-65.9-21.3h0m55.7 23.5h0m-22.5-29.7h0m12.3 15.9h0m-4.6 1.8h0m14.3 0.8h0m-18.8 3.9h0m6.2-12.7h0m13.9 22.2h0m-9.8-50.3h0m-5.5 41.6h0m5.7-7.9h0m5.4-42.8h0m-1.4 4.4h0m3.3 31.7h0m-6.8-11h0m-4.5 28.4h0m4.9 5.6h0m22.7-13.9h0m-36.6-1.5h0m22.1-3.1h0m-18 17.6h0m9-2.6h0m11.2-33.5h0m-11.8 28.5h0m12 6.4h0m-17.4 2.8h0m24.5-12.2h0m-3-32h0m-28 31.5h0m5-1.4h0m13.2 11.9h0m-1.9-13.1h0m0 7.1h0m12.2-6.4h0m-11.9-0.3h0m3.5-12h0m-12.2-23.5h0m13.8 16h0m-13.4 28.8h0m-1.1-5.8h0m-6 7.7h0m30.5-28.9h0m-24.1-9.7h0m15.4 35.4h0m22-2.8h0m-39.1-1.1h0m15.8-13.9h0m-0.5 18.5h0m-18-12.5h0m21.5 15.9h0m5.5-1.9h0m-16.5 6.9h0m3.8-24.9h0m8.2 13.5h0m-23.7-12.2h0m28.9 5.4h0m-20.1-42.6h0m10.3 43.7h0m3.9 2.8h0m-33.4 3.6h0m15.4-4h0m-18.1-43h0m13.6 45.6h0m8.9-20.7h0m-2 4.2h0m3.5-19.4h0m33.7 13h0m-20.5-26.6h0m-5 11.9h0m-2.2 34.5h0m11.9 2.3h0m-11.7 2.4h0m12.5-16.6h0m-23.7 18.4h0m11.9-21.2h0m-3 27h0m-12.3-11.4h0m16.8-0.8h0m2.4 11.7h0m-12-24.9h0m-21.3 18.7h0m43.8-41.3h0m-15.8 45.6h0m1.4-6h0m-25.9-7.2h0m12.7-4h0m27.4 15.1h0m-16.1 6.7h0m17.1-10.2h0m-31.9-14h0m13.5 24.7h0m-6.5-11.1h0m5.7-6h0m0.1 5.5h0m22.9-7.8h0m-19.5 18h0m8.9-23.1h0m-17.4-6.9h0m10.1 8h0m-2.9-9.1h0m7.3-5.5h0m-9.4 34.8h0m3.7-6.5h0m16.5-0.1h0m-15.1-4h0m-7.4 11.9h0m-8.7-23.4h0m40.8-1.5h0m-63.8 9.2h0m14-8.9h0m4.5 14.7h0m-1 2h0m19.1-17.8h0m-22.5 19.2h0m27.4-3.5h0m-15.6 7.1h0m3.2-12.5h0m24.8-0.3h0m-16.2-47.2h0m-10.7 49.6h0m-26.1-5.4h0m40.8 6.9h0m-3.7-32.3h0m-12.9 12.5h0m-2.1 22.5h0m-12.9-9.7h0m19.7-15.5h0m1.3 32.5h0m-0.8-12.1h0m-23.8-17.5h0m35.2 11h0m7.2 8.6h0m-38-4.1h0m23.2-15.5h0m-4.5 18.1h0m1.3-27h0m7.4 33.9h0m1.5-11.6h0m-11.2-26.2h0m21.2 28.2h0m-38.9-4.2h0m23.1-11.5h0m0 7.7h0m-9.8 15.5h0m0.1 2.7h0m4.5 7.3h0m-5.5-3.2h0m23.7-19.6h0m-17-22.2h0m11.6 39.5h0m-24.1-1.1h0m22.8-37.9h0m-17.3 32.7h0m11.7-45.9h0m0.3 43.5h0m-0.1-10.3h0m-9.6 17.6h0m3.5-9.2h0m-7.4-4h0m9.6 20.1h0m3.3-5.5h0m18.8-1.3h0m-29.7-0.9h0m10.7-21.4h0m-25.8 16.9h0m14.5-10.2h0m11.6-0.8h0m-6.9 18.3h0m39.6-8.3h0m-49.7 3.6h0m17.9 8.1h0m7.3-32.8h0m-6.9 30.5h0m-15.7-8.5h0m14.3-10.9h0m-14.5 2.7h0m20.5 18.8h0m-4-1.6h0m-5 2.5h0m-0.2-51.1h0m-1.5 50.9h0m-0.3-5.7h0m18.8-20.4h0m-25.7-16.3h0m5.2-6.6h0m9.1 27.8h0m0.5 20.3h0m-24.9-5.8h0m3.2-18.7h0m30.9 22.3h0m-18.1 3.1h0m6.2-15.1h0m-7.1 10.7h0m13.6-18.6h0m-10.3 9.7h0m0.4-22.7h0m5.6 35.4h0m-12.1-18.2h0m5 12.7h0m-3.4-10.2h0m0.7 5.5h0m36.5 0.6h0m-32.5 3.4h0m4.1-4.4h0m5.2-39.8h0m0.9 48.1h0m-5.4-18h0m7.8 18.1h0m-12.7-8h0m6.5-3.9h0m12.6-1.1h0m-8.8 12.1h0m-18.5-3.7h0m16-9.7h0m6.9 7.2h0m-15.1-13.4h0m-10.7-20.6h0m23.8 35.5h0m-14.7 6.1h0m-6.2-22.6h0m8.3 7.7h0m-16.5 5.1h0m37.1 2.9h0m-21.4 8.5h0m18.6-20.7h0m-11.9 16.8h0m-10.1-21.2h0m3-1.7h0m15.5 22.5h0m-20-6.8h0m17.6-6.6h0m-15.3-48.1h0m18.8 47.9h0m-23.4 17.1h0m-5.2-7.6h0m18.1 10.6h0m-4.9-23.4h0m0.1-13.3h0m9.8 32.9h0m-6.9-53.6h0m-3.6 13.4h0m-11.9 38.4h0m9.9-6.6h0m5.9-24.3h0m-3.1 25.8h0m15 2.8h0m-37.5-4.4h0m66.2-7.5h0m-43.9-31.1h0m-6.1 39.1h0m15.9 9.8h0m-10.1-12.1h0m17.6-20.6h0m6 26.3h0m-38.7-4.7h0m26 5.9h0m-5 2.5h0m-26.7-16.3h0m27 14.5h0m-17.7-4.9h0m10-32.5h0m5.8 3.1h0m0.7 11.9h0m-11.9 21h0m7.2 1.3h0m10.5-33.2h0m-10.4 10.6h0m-26.4-22.2h0m36.6 12.3h0m-6.8 37h0m-3.3-3.4h0m8.7-6.2h0m-21.5 0.6h0m32.2-7.9h0m-9.8 6.4h0m-5.6-4.5h0m-11.8 11h0m1.9-24.5h0m14.6 27.5h0m-10.7-0.3h0m17.2-33.2h0m-2 29.5h0m2.3-24.2h0m-22.4 7.4h0m17.9 14.8h0m3-49.5h0m-19.4 35.8h0m-14.7 9.6h0m18.8 11.8h0m-6.9-24h0m11.8 0.1h0m0.5 18.9h0m17.8-4.6h0m-1.5-2.3h0m-19.9 10.7h0m-0.8 2.3h0m9.8-58.7h0m-5.8 17.7h0m-6.6 26.1h0m0.2 1.7h0m24-25.3h0m-17.9 26.7h0m-0.4-8.7h0m-5.1-21.8h0m9.9 36.1h0m-7.9-29.1h0m2.9-13.4h0m-24.9 36h0m15.1-4.1h0m-19.9-18.7h0m26.5 21.2h0m5.1-0.4h0m-12.7-9.1h0m7.9 15.3h0m-7.3 3.5h0m10.6-42.9h0m2-12.6h0m7.6 57.2h0m-16.1-2.2h0m1.5-29.6h0m-6.2 32.7h0m12.5-53.5h0m-4.7 54.8h0m6.4-35.2h0m11.5 18.7h0m-9.2-25.1h0m-18.8 6.5h0m7.3 6.9h0m12.9 14.2h0m-17.3 3h0m35-6h0m-40.7-11.8h0m18.5 20.1h0m16.4-30.8h0m-25.9 8.4h0m-25.1 20.9h0m32.1-26.9h0m-33.5 19.3h0m29.4-12.2h0m-6.4 28.5h0m-12.4-26.6h0m25 27.6h0m-2-13h0m-15.5-10.7h0m-0.1-10.6h0m17.8-5.5h0m10 34.6h0m-15.3-28.2h0m8.2 30.9h0m-13.6-0.2h0m11.4-14.9h0m7.8 9.5h0m-11.1 5.7h0m-3.1-23.7h0m14.7 23.8h0m-4.7-6h0m-22-2.1h0m15.8 0.2h0m1.8-11.5h0m-2 0.3h0m-5 21.4h0m5.2-4.4h0m-15.6-19.7h0m20.3 24.5h0m-16.5-7.2h0m17.8-30.8h0m-12.2 26.6h0m5.8-15.8h0m-13.1 9.1h0m17.4-23.9h0m-3.1 2.2h0m-0.4 2.2h0m13.4 21.1h0m-21.7-47.1h0m0.4 56.6h0m0.8-2.7h0m3.1 4.6h0m5.4-0.1h0m-6.3-12.8h0m8.3 12.4h0m-8.4-11.8h0m8.5-19.1h0m-10-8.3h0m-2.6 23.4h0m9.1-6.5h0m-6.4 28.6h0m5.7-11.6h0m13.1 5.1h0m-17.8-27.8h0m-2-2.7h0m9.2 11h0m8.9 21.7h0m-3.8-6.3h0m-2.3-18.5h0m-8.4 10.1h0m-2.3-21.8h0m12.1 20.5h0m-22.6-20.7h0m15.4 42.5h0m-2.6-11.9h0m-0.1-8.9h0m-11.1 0.4h0m-3.1 8.7h0m59-7.6h0m-49.5 12.6h0m2.3-15.6h0m-6.8 11.7h0m12.7-13.9h0m-12.7-24.4h0m13.8 40.6h0m-11.4 0.5h0m-26.3-10.9h0m49.4 7h0m-30.7-30.4h0m31.2 11.1h0m-21.6 21.7h0m27.8-30.9h0m-29.8 34.8h0m13.4-32.6h0m-8.8 22.3h0m36.9-6.1h0m-37.7 16.7h0m81-39.6h0m-66.8 17.9h0m-8.2 6.8h0m12.5-5.4h0m-16.9 5.6h0m-11 7.3h0m16.6 10.6h0m-13.7-22.5h0m-1.3-26.8h0m14.5 38.5h0m6.7-41.3h0m12.7 21.3h0m-34.5 24.6h0m8.4-27.5h0m12 27.9h0m-4.4 7h0m-12.5-9.2h0m1.6 6.5h0m1-15.2h0m-0.3 10.1h0m21.1-14h0m-30.6 3.3h0m18.8 2.3h0m3.3 2.2h0m-15.7-11.5h0m4.3 12.6h0m8 6.8h0m2.5 3.3h0m10.9-2.8h0m-7.3-22.5h0m-0.6-4.9h0m-9.1-2.4h0m-34.1 20.2h0m38.8-23h0m-8.7 31.2h0m14.6-22.6h0m-28.3-9.2h0m36.8 31.6h0m-19.9 1.5h0m-13.8-3.6h0m12-7.1h0m0.6 9h0m0.2-38.9h0m-1.4 3.2h0m3.3 15.5h0m-2.8 11.7h0m10.6 1.4h0m-9.4-1.3h0m1.6-3.1h0m-4.7-40.5h0m3.8 34.2h0m18.3 11.3h0m-30-11h0m18.2-4h0m-16 9.3h0m5.5 15.3h0m-7.7-20h0m18.8 19.4h0m5.8-12.5h0m4.6 4.2h0m5.9-5h0m-31.4-23.4h0m4.3 3.1h0m4.6-4.3h0m6 11.2h0m7.8-18h0m-16.7 46.6h0m6.1-29h0m6.9 22.4h0m-34.9-0.1h0m24.3-21.5h0m-1 31.1h0m7.4-2.8h0m-11.8 1.1h0m18.5-16.7h0m6.1-19.7h0m-3.7 23.7h0m-20.5 11.8h0m-4.8-2.9h0m-0.9-17.3h0m-2.4 7.9h0m0-7.2h0m16.8-4.8h0m8.6 3.6h0m-14.4 2.1h0m8.8 18.4h0m-5.5 3.9h0m-0.2-4.7h0m-3.3-0.9h0m2.4-21.9h0m4.4 13.2h0m1.5-20.7h0m2.4 32.7h0m-2.4 0.3h0m-14-17h0m8 2.9h0m-3 10.7h0m-8.6-2.7h0m-0.3-44.4h0m18.2 50.7h0m-2.3-44.1h0m-9.5 24.9h0m4.6 11h0m1.4 1.6h0m-0.7-8h0m9.1 8.7h0m-14.4-18.3h0m3 14.6h0m-2.2 4h0m-0.2-21.2h0m10.7 10.8h0m6.8 8.7h0m-12.1 2.5h0m-15.5-11.4h0m22-51.2h0m19.1 26.2h0m-13.6 5.4h0m7.6 24.9h0m-12.6-9.5h0m-14.5-15.2h0m49.5 10h0m-42 16.8h0m14 5.3h0m-10.8-34.1h0m-3.5 25.8h0m9.9-4.3h0m0 3.6h0m29.3-8.3h0m-31-3.9h0m-12.3 4.4h0m11.1-2.8h0m6.4 18.6h0m0.1 0h0m-34.2-5.7h0m24.1-3.6h0m3-35.4h0m10 37.6h0m-19.2 9.9h0m22.1-11.9h0m-2.2 8.6h0m-17.3-10.8h0m-20 8.7h0m3.2-7.6h0m-1.7 5.5h0m23.5-27.7h0m-5 11.5h0m24.1-2h0m-30-7.5h0m6.3-9.6h0m4.8 44h0m2.7-30.9h0m-12.1 29h0m2.8-50.4h0m-2.3 12.6h0m4.1 20.2h0m-3 4.4h0m25.4-15.5h0m-2.7-6.8h0m-19.9 29.2h0m-22.9-8.5h0m16.6 4.3h0m-7.4-23.1h0m27.5 13.6h0m-9.9-19h0m4.2 12.3h0m-5.4 27.6h0m-16.6-11.6h0m0.4-7h0m27.7 10.8h0m-5.9 7.8h0m-7 1.3h0m-20.1-24.9h0m18.9 12.3h0m3.4-64.7h0m-14.3 61.7h0m10-7.4h0m4.2-1.9h0m-17.3-4h0m5.7 24.7h0m0.8-51.2h0m7 54.3h0m7.9-6.2h0m-10.6-1.9h0m7.1-14.2h0m-10.2 11.4h0m9.5-43.6h0m-16.2 41.3h0m20.3-8h0m0.6-14.2h0m-23.1 28.8h0m18.5 5.1h0m2.1-10.4h0m9.2-11.2h0m-14.3 3.7h0m12 13.9h0m-19.8-27.4h0m4.1-14.3h0m-8.3 33.7h0m14.9 3.6h0m-5.2-21h0m10.8 30.9h0m-13.3-14.7h0m33.8-24.4h0m-12.3 2.9h0m-12.1 25.9h0m-15.1-9.9h0m15.8-29.2h0m-14.2 12h0m45 21h0m-49.6-21.5h0m3.1-7.9h0m9.1 45.4h0m5.8-35.2h0m1.9-24.9h0m-7.1 59.5h0m5.3-28.3h0m0.7 20h0m-0.3 8.1h0m10.2-22.6h0m-19.2-33.7h0m1.7 50.1h0m16.2-7.7h0m-11.1-14h0m10.2 5.7h0m-4.8 6.5h0m-26.1-6.9h0m17.1-28h0m-0.4 21.4h0m4.5 17.4h0m-5.4-12.8h0m16.8 11.3h0m0.5-4.4h0m-15.4 12.5h0m8.5-26.4h0m-5.2 31.4h0m2.5-9.4h0m-2.1-7.6h0m-3.6-32.1h0m8.6 41.6h0m-3.7-0.5h0m3-42.3h0m-3.9 42.2h0m-19.3 2h0m19.7-27.6h0m-22.3 22.1h0m13.8 7.7h0m7.3-6.7h0m-15.8 0h0m20.5 6.6h0m8.5-41.8h0m-22.2 33.7h0m3.3 3h0m-19.7-0.2h0m19.7-6.7h0m-1.4 18.1h0m3.5-54.8h0m-9.9 32.7h0m18.4 3.5h0m-14.4-14.4h0m19.9-20.8h0m-16.6 38.9h0m13.6-21h0m8.9 28h0m-4.7 1.8h0m-10-11.6h0m2.8-23.2h0m-19.8-12.3h0m9.4 36.4h0m6.8 0.7h0m-4-40.2h0m-0.3-4h0m-7.9 28.3h0m7.8-0.7h0m-15.3 21.6h0m23.3-5h0m-19.2-2.5h0m14.6-7.4h0m-15.1 4.8h0m17.1 0h0m-14.5-6.9h0m5.4 19.1h0m19.9-25.3h0m-2 29.2h0m2.3-14.3h0m-16.1-31.5h0m13.2 37.5h0m-13.1-10.5h0m-11.7 14.7h0m16.2-46.3h0m-22.6 42.1h0m18-8.5h0m12.8-13.4h0m-4.6 10.3h0m-17.8 19.1h0m-4.4-4.2h0m-6.8-7.6h0m23.7 11.1h0m-3 8.1h0m0.6-1.1h0m17.6-34h0m-1.7 28.1h0m-25.1-13.9h0m9.4 21.5h0m-1.6-11.7h0m-10.3 1.1h0m-2-23.8h0m9.8 20.9h0m6.3-1.5h0m10-15.6h0m-6.5 20.1h0m2.7 7.7h0m-5.7-5.1h0m-6.8-43.2h0m6.6 16.1h0m0.7 13.8h0m-6.2 16.7h0m-8.8-31.4h0m24.7 6.5h0m-25.2 22.4h0m6.6-17.1h0m5 5.9h0m9 14.6h0m-0.6 1.1h0m21.5-9.3h0m-23.5 10.3h0m1.1-20.3h0m-7.9-0.3h0m-0.3-2.3h0m10.6 11.4h0m2.9-7.1h0m-3.7 16.7h0m-6.1-24.3h0m-9 18.6h0m24.3-22.9h0m-25.2-31.9h0m6.9 26h0m-8.7 20.8h0m11.2 15h0m-6.6-23.8h0m19.6 13.5h0m-22.5-19.8h0m5 28.2h0m1.6-10.4h0m0.1 7.7h0m-29.8-24.9h0m45 4h0m-11.4-11.4h0m-0.7 37.1h0m-7-9.6h0m4.6 7.3h0m5.4 2.9h0m-15.7-19.3h0m-11-5.5h0m28.3 7.9h0m2.5 10.4h0m-9.9-39.3h0m-7.8 35.2h0m-2.9-16.3h0m7.9-4.2h0m38.7 4.6h0m-31.6 26.3h0m-0.1-21.6h0m-9.5 4.2h0m-2.1 0.5h0m13.3 7.7h0m1 2.7h0m-7.2-15.1h0m-6.6-4.7h0m-3 4.4h0m9.4 2.6h0m-7.1 0.7h0m14.3 6.5h0m-9.5 11.1h0m-1.7-55.5h0m-4.9-2.3h0m19.2 33.8h0m-12.5 18.5h0m2.6-15.2h0m6.8-14.5h0m-12.4-7.2h0m-4.7 39.8h0m19.8 0.5h0m-3.7-29.6h0m-9.4 9.6h0m13.4 18.8h0m-1.7-32.3h0m-5.5 35.3h0m0.7-9.4h0m10.6-16.5h0m6.8 2.9h0m-8-16.1h0m-12.6 4.4h0m-11.7 19.4h0m2.5-16.7h0m5.8 32.6h0m7.9 0.8h0m-4.9-19.9h0m-5.2 14h0m27-18.8h0m-17.7-10.8h0m-13.3 7.6h0m13.7 13.1h0m-0.5-5.5h0m-17.4-4h0m25.6-25.2h0m-13.2 42.9h0m-3.9-30.9h0m-17.1 24.3h0m18.9 9.9h0m9 0.8h0m1.1-3.3h0m3.1 2.9h0m-5.1-4h0m12.3-43.7h0m-29.5 16h0m10.6-14h0m-1.2 48.4h0m10.5-39.8h0m6.4 8.1h0m2.1 8.5h0m0-27.8h0m-2.5 26.7h0m-14 23.8h0m-9.1-5.2h0m24.5-19.6h0m-11.7-22.9h0m1.2 49.1h0m-0.9-22.9h0m-8.1 19.5h0m7.8-1.2h0m-13.1-3.5h0m15.6-62.1h0m-6.2 60h0m-2.4 0.9h0m21.7-12.9h0m-15.3 21.5h0m-25.4-19.4h0m39.2-1.6h0m-17.5 6.3h0m3.4-16.1h0m-3.3 30.4h0m7.3-11.8h0m-3 13.2h0m6-28.9h0m-6.6-26.4h0m-7-8.7h0m-7.9 41h0m18.3-28h0m-1.9 7.8h0m-25 32.9h0m19.5-43.3h0m-5.7 35.6h0m11.6-2h0m9.5 4.1h0m-21.5-10.3h0m-3.1 1.1h0m4.3-2.6h0m8.4 0.4h0m-4.2 5.9h0m1.2-20.5h0m16.5-17.7h0m-13.3 30h0m4.7 14.6h0m-16-2.6h0m7.8-33.4h0m3.3 46.1h0m-5.5-31.9h0m-0.4 18.5h0m-1-29h0m-6.3 35.6h0m18.2 6.4h0m-7.9-0.5h0m-1-8.8h0m21.3 6.2h0m-1.6 2h0m-40.7-17.9h0m19.5 10.2h0m-8.3 6.4h0m-12.4-13.3h0m26.7 8.4h0m-4.7 12.5h0m-2.6-52.8h0m10.4 17h0m-2.3-3.9h0m-4.6 12.2h0m11.6 17.7h0m-13.1-13.9h0m1.7 22.4h0m2.5-1.7h0m15.1-25.3h0m-20.9 23.7h0m1.2-10.9h0m9.1-0.7h0m-2.5 15.8h0m4.5-13.6h0m-1.6 2h0m-15.2 2.1h0m13.6-19.9h0m0 24.9h0m-7.1-23.5h0m9.9 20.7h0m5.7-32.3h0m-3.4-2.5h0m-10.9 11.9h0m-0.7 4.7h0m-1.3-4.7h0m-5.3 24.8h0m-7.1-13.5h0m33.3-2.1h0m-15.4-28.1h0m-19.2 37.5h0m14.4-9.1h0m-1.8-4.3h0m1.2 3.1h0m5.9 12.9h0m4.5-5.6h0m-18.5 6h0m13.1-25h0m20.5 7.3h0m-20.5 2.8h0m-3.8 22.6h0m-4.2-14.4h0m10.9-17.2h0m-9.6 30.7h0m-8-23.5h0m25.5 14.9h0m-15.2 9.3h0m18.5-7.5h0m-12.9 1.1h0m-1.1-41.5h0m-10.1 20.8h0m3.8 3.6h0m8.7 8.7h0m1.7 8.8h0m5.7-39.3h0m-9.9 20.8h0m41.1-11.3h0m-44.3-27.8h0m6.5 61.4h0m-6.3-40.6h0m-23.3 23.5h0m21.6 17.9h0m16.2-11.8h0m-11.4 1.5h0m-15.9 1.6h0m12.8 8.5h0m6.7-3.9h0m-2.7-35.6h0m-0.7 38.1h0m-3.6-11.1h0m15.1-2.3h0m-16 3.1h0m-1.1-5.3h0m-1.4 16.1h0m7.7-17.2h0m-5.7-1.7h0m19.7-9.1h0m-32.8 12.6h0m13.6-9.9h0m18.8-20h0m-21.4 32.1h0m0-18.7h0m8.4-8.5h0m22.5 25.3h0m-46.9-2.6h0m11.8 6.3h0m13.9-21.6h0m-6.5-0.7h0m-7.3 21.4h0m27.2 8.2h0m-10-21.9h0m-18.6 19.6h0m21.8-43.9h0m-17.3 19.1h0m20.8 11.7h0m-12.7 4.2h0m-8 9.7h0m-4.2-24.4h0m-21.9 18.3h0m24-22.3h0m-0.1 1.7h0m15.7 32h0m-1.1-10.4h0m-10.7-54h0m17.3 42.6h0m-14.5 4.2h0m-19.7 11.7h0m15.1-23.5h0m3.7-19.6h0m11 17.2h0m2 24.5h0m5 4.9h0m-38-5.4h0m33.8-4.2h0m-21.7-32.2h0m13.4 41h0m-4.5-3.7h0m-20.6-18.6h0m-0.7 8.4h0m11.8 11.6h0m0.6-33.3h0m3.5-2.4h0m11.7 12.8h0m-15.8 8.5h0m19.6-19.3h0m1.4 25.8h0m3.5 3.8h0m-19.5 11.6h0m11.8-8.1h0m-7.2-34.9h0m14.8 13.1h0m-6-4.1h0m-4 19.4h0m18.3 3.6h0m-13.5 11.1h0m-2.7-7.8h0m0.8-3h0m-7.8-43h0m-8.8 29.3h0m25.3 20h0m-28.2-24h0m5.4 4h0m0.2 6.9h0m-2.1 15.5h0m-2.6-4.5h0m13.9 1.2h0m1.9 5.9h0m0.8-2.7h0m-7.7-56.2h0m0.2 50.6h0m14.5-2.1h0m-15.9-20.9h0m2.7 30.2h0m-14.5-11.7h0m13.4 13.3h0m1.1-3.1h0m17.7-45h0m-17.1 31.3h0m9.4-7.2h0m-9.4-5.8h0m-12.9 16.8h0m2.5-31.1h0m-13.9 21.3h0m13.8 7.7h0m26.9-28.1h0m-9.8 38.8h0m-6.6 1.7h0m-17.6-9.9h0m16.2-23.7h0m16.4 17.4h0m-24.2 16.2h0m2.7-14.5h0m4.3 10h0m9.6-4.4h0m-0.8 8.3h0m9.3-20.7h0m-11.7 24.2h0m4.4-16.8h0m-4 16.1h0m17.8-12h0m-9.9 9.1h0m9.6-20.4h0m-14.2 14.3h0m-7.1 11.4h0m3.1-11.6h0m-0.4-2.2h0m17.8-26.3h0m-21.1 35.8h0m14.5-5.6h0m-1-6.9h0m9.5 3.5h0m-20 11.3h0m0.7-40.4h0m-17.7 22.9h0m19.2 9.2h0m-7.3-32.2h0m36.6 22.6h0m-22.8-33.6h0m0.7 46.4h0m-16.8-17.1h0m1.9 5.1h0m2.1-34.2h0m0.7 50.4h0m7.7-2.7h0m-15-49h0m16.2-7.1h0m-16-1.7h0m11.4 61.1h0m-10.5-18.7h0m-2.3 5.1h0m8 8.2h0m-2.6-35.6h0m18.4 36.2h0m-12.6-17.7h0m8.6-33.1h0m-12.3 27.9h0m-6.3-32.3h0m-8.1 47.1h0m14.7 3.9h0m9-11.5h0m-4.2 3.9h0m9.7-5.8h0m-14.6 2.4h0m8 3.2h0m-16 11.9h0m43.8-12.9h0m-32.3 9.8h0m-5.2-16.9h0m10.6-9.2h0m14.7 23.1h0m-26-27.4h0m0-12.6h0m15.5 33h0m7 12.5h0m-19.8-38.3h0m8.4 40.7h0m-10.4-0.2h0m1.1-14h0m15.6 2.4h0m-14.4 12.7h0m15.2-48.8h0m-25.9 43.1h0m5.8 2.5h0m7.9 5.6h0m-0.2-4.7h0m-4.7-14.8h0m13.5 11.4h0m-1.3-8.5h0m-10.9 5h0m-6.2-26.9h0m2-3.9h0m22.1 29.4h0m-10.9-2h0m21.4-20.3h0m-12.6 31.6h0m-20-9.2h0m-6.5-5.2h0m10.6 4h0m0.2-20.2h0m8.4-4.7h0m-10.4 38.3h0m1.3-41.3h0m-15.4 32.9h0m19.7-0.7h0m4.4-59.3h0m-10.6 43.8h0m5.4 22.9h0m-10.2 0.9h0m18.4-3.1h0m-0.6-3.6h0m-3.6 0.6h0m-7.1-2.5h0m-0.2-2h0m15.4 5.4h0m35.4-17.7h0m-50.8 7.2h0m-5.8-2.4h0m3.3 10.4h0m11.4 1.7h0m-5-23.8h0m15.1 19h0m-19.1-37.3h0m-4.7 49.1h0m-1.3-16.5h0m13.1-13.2h0m-1.8 15.5h0m-22.2-6.4h0m35.7-11.2h0m-14.4 15h0m22.4-17.1h0m-8.9 9.4h0m-4.5-29.7h0m-9 37.9h0m-12.6 5.7h0m7.5-3.7h0m1.8 12.8h0m17.5-20.4h0m-18.4 2.8h0m8.8 17h0m-27.9-46.9h0m34.3 43.9h0m11.7-47.3h0m-34.8 19.1h0m11.9 13.9h0m-10.4-7.3h0m16.5-4.5h0m-13.9-0.6h0m7.6-26.1h0m3.4 40.1h0m20.3 4.4h0m-22.8-31.8h0m-0.7 43.7h0m27.1-26.2h0m-27.5 9.9h0m-3.7 16.2h0m-16.5-19.4h0m12.4 14.8h0m10.4-19.7h0m-12.4 6.6h0m24.3-18.9h0m-18.1 21.1h0m-12.2-8.7h0m22.6 5.8h0m8.3 12.8h0m-13.3-4.2h0m-9.1-15h0m-2.9 9.8h0m10.3-22.9h0m0.3 41.4h0m-3.9-50.3h0m-12.4 35.1h0m-2.1 5.4h0m18.6-11.7h0m3.6 9h0m2.7 7.7h0m-13.9-38.2h0m24.5 33.2h0m-27 3.2h0m-11.9-20h0m34.4 14.7h0m-10-3.9h0m-2.4 9.7h0m10-47.7h0m-9.8 53.9h0m-0.9-49h0m-4.6 47.2h0m1.5 0.8h0m8.4-15.9h0m12-16.3h0m-13.1 10.9h0m-24.2 5.3h0m26.5-17.7h0m-10.8 21.2h0m-2.1-17h0m-7.8 19.4h0m9.1-5.8h0m15.5 12.9h0m-14.9-46.7h0m8.9 32.3h0m-12.4-10.4h0m5.4 27.8h0m11.9-2.8h0m-18.2-46h0m5.7 48.7h0m-5.3-20.3h0m2.8-1.8h0m-1.4 6.5h0m3.9-5.8h0m8.6 6.9h0m-0.9-40.6h0m-9 17.4h0m9.1 34.1h0m-9.4 3.1h0m-13.6-24.2h0m36.6 17.5h0m0.4-22.1h0m-11.7 11.4h0m2.9 7.1h0m-5.4 1.6h0m-7.3-8.1h0m4.8 7.5h0m-4.9-3.1h0m-19.9-5.1h0m24.6-25.8h0m-9.9 38h0m8.1-19.7h0m8 10.7h0m-7.1-1.6h0m-11.9-12.5h0m2.4 6h0m12 19.9h0m-8.7-4.7h0m-23.6-28.4h0m4.6 27.9h0m3.5 1.7h0m14.5 0.5h0m11-41.1h0m-9.3 26.3h0m-11.8 4.9h0m12.6 5.4h0m-16.9-7h0m6.7 6.5h0m29.1-8.2h0m-35-5.8h0m12.8 0.9h0m7.4 13.9h0m3.3-2.5h0m-9-50.3h0m10.8 61.9h0m-4.6-1.5h0m19.6-4.8h0m-23.2-14.6h0m9.3 5.4h0m-4.4-1.2h0m-2 5.6h0m-3.4 6.5h0m7.7-39h0m-0.7 19.3h0m-11.4 23.7h0m4.4-5.8h0m-3.1-8.5h0m-8.6-2.6h0m12.1-11.3h0m11.1 7.5h0m-31 6.9h0m33.6 6.7h0m-2.4-5.2h0m5.9-10.4h0m-50.1 6.9h0m40.3-8.1h0m1.3 3.1h0m-5-14.1h0m-6.2 34h0m0 1.5h0m14.5-6.2h0m-20.2-6.8h0m32.7-27.9h0m-4.9 32h0m-10.4-2.6h0m-22.3 5h0m20.2-1.2h0m0.7-2.2h0m-17.2 4.4h0m12 3.8h0m-1.8 3.2h0m5-18.3h0m-7 9.6h0m20.6-6h0m-21.4-22h0m-1.1 18h0m-13.8 1.5h0m28.8 2h0m-17-9.7h0m10.1-1.5h0m5.2 20.9h0m-15.8-20.9h0m4.8 21.7h0m-7.7-43h0m11.7 28.3h0m-16.2 0.8h0m17.6-16.2h0m-6.9 22.8h0m-6.3 3.5h0m3.8-60.5h0m20.4-0.3h0m-10.9-47.6h0m5.6 24.3h0m-6.6 13.2h0m-5.7-33.8h0m-0.9 47.6h0m0.9-17.9h0m17.4-5.4h0m-11.7 8.1h0m-9 14.8h0m2.4-8.5h0m0.1-8h0m6.7-5.4h0m-8.2-17.8h0m1.9 5.4h0m12.2 28.5h0m-15.5-3.9h0m11.5 10h0m-6.2-2.5h0m-3.2-10.8h0m8.2 18.1h0m1.4-1.9h0m-2.3-17.2h0m-13.8 12.6h0m16.2 1.5h0m8-8.7h0m-15.8 0.2h0m6.7-25.6h0m-16.4 33.5h0m7.1-14.9h0m7.8 6.5h0m-16.1-3.7h0m11.7 5.4h0m12.3 5.7h0m-13.4-63.8h0m-2.9 52.3h0m4.5 10.6h0m16 4.1h0m-21.2 0.6h0m2.1-15.1h0m-9.1-27.8h0m12.1 32.9h0m5.8-5.8h0m-9.8-26h0m0.7-27.1h0m-8.8 65.7h0m15.9-0.3h0m-9.6-1.1h0m0.2-23h0m11.9 2h0m-0.1 16.9h0m-9.3 4.3h0m16.8-0.4h0m-13.4 7.8h0m7.3-71.2h0m-3.9 71.1h0m5.8 1.2h0m-5.2-26.2h0m4.5 11h0m-15.4 1.7h0m-3.6 10.6h0m4.5-13.3h0m14 7.5h0m-4.4-0.5h0m1.2-17.6h0m10.9-33.6h0m-20.7 55.6h0m9.6-43.8h0m4.6 44.4h0m2.9-25.3h0m-1.2 25.4h0m-11.9 4.2h0m10.3-19.5h0m6.5-3.8h0m-17.4 23h0m13.8-51.8h0m-2.3-13.1h0m-10 58.1h0m4.1-19.3h0m-0.6 23.2h0m6.1-46.4h0m-4.5 11.4h0m-8.5-8h0m-3.7 13.4h0m-5.2 29.6h0m20.3-1.3h0m-13.8-23.7h0m5.5 11.8h0m-0.3-12.2h0m0.3 12.9h0m8.1-28h0m-19.5 22.5h0m9.4-72.9h0m6.5 64.9h0m-6.9-35.7h0m16.7 19.1h0m-17 25.5h0m-9.3 3.2h0m8 6.3h0m-7.8 4.6h0m22.8-12h0m-11.5-7.7h0m0.2-1.1h0m-1.1 20.6h0m-3.8-14.4h0m5.4 9.9h0m16 2.9h0m-6.1-9.2h0m-21 13.7h0m11.2-0.9h0m3.8-8.7h0m-7.9 12.8h0m4.2-2.6h0m-7.6-10.9h0m14.1-15.6h0m-14.1 28.9h0m4-14.6h0m15.7-13.5h0m-19.6 22.4h0m19.3-37h0m4 30h0m-7.1-6.8h0m0.9 0.4h0m-5.7-1.7h0m0.1-5.2h0m-6 19.1h0m7.5-2.3h0m-17.4-0.2h0m11.5 1.3h0"/>
<path stroke="#1f1fff" d="M556.3 120.9h0m14.9 2.3h0m-0.3 4.8h0m-1.7-4.4h0m-11.1 3.5h0m11-0.8h0m0.8-19.3h0m-15.3 17.3h0m13.5-5.1h0m-11.9 10.4h0m12.9-2.6h0m-1 6.4h0m-13-13.7h0m14.6-14.9h0m-8 20h0m-0.8 6.6h0m7.6-0.3h0m-4.7-1.7h0m-1.4 2.8h0m2.1 0.6h0m5.7-4.5h0m-1.2-21.7h0m2 13.7h0m-0.2-20.2h0m-10.8 31h0m-3.5-10.8h0m6.1-2.7h0m-0.9 13.7h0m3.9-5.4h0m6.8-35.8h0m-0.9 23.6h0m0.6 16.4h0m-3.1-4.7h0m2.9-21.8h0m-17.1 17.7h0m13 9.4h0m-12.8-42.2h0m8.6 35.5h0m-2.4-15.9h0m1.6 11.3h0m9.7-13.1h0"/>
<path stroke="#ff1f1f" d="M624.5 133.2h0m-21.5-42h0m2.1 32.9h0m7.7-2.5h0m-9.3-19h0m5.4 31.7h0m-1.7-0.4h0m1.4-14.9h0m4.1 14.1h0m-5.9-56h0m13 57h0m-12.7-24.2h0m-3.9 22.5h0m13.3-11h0m-11.6 3.2h0m0.9-10.7h0m0.5 12.9h0m33.2 0.5h0m-29.2 3.3h0m-4.2-18.4h0m25 8.9h0m-23-10.9h0m-3.3 17.4h0m15.8-4.5h0m-11.1-1.9h0m-4.1 12.5h0m9.2-3.5h0m19.1 0.5h0m-26.5-10.8h0m1.5 5.7h0m-4.5 8.2h0m14.7-25h0m-12-1.4h0m0.1 15.6h0m13.8 1.1h0m-10.3-6.5h0m-4.4 16.9h0m-2.5-0.2h0m2.7-8.5h0m-1.7 2.8h0m3.6-1.8h0m13.3 5.1h0m-6.5-33.4h0m-8.8 24.3h0m7 0.4h0m20.8-7h0m-24.1-19.7h0m-6.3 25.7h0m9.4 12.1h0m-3.8-2.1h0m-5.3-89.1h0m8.9 90.3h0m34.1-14h0m-29 14.9h0m-1.2-17.1h0m-13.2 14.1h0m0.1 1.2h0m8.9-14.1h0m-1.8 2.3h0m-4.9 10.4h0m0.8 3h0m-3.1-4.5h0m18.8-64.7h0m-4.1 66h0m-9.7-12.8h0m5.3 10.2h0m8.4 1.1h0m-3.1-25.4h0m-15.3 22.9h0m11-4.3h0m1.6 3.7h0m-8.7 0.2h0m47.9-12.7h0m-47.8-25.7h0m45 45.3h0m-42.9-4h0m-3.8 4.7h0m0.4 0.6h0m-2.9-18.6h0m32.9 17.9h0m-17.1-40.3h0m2 36.7h0m-9.5-10.9h0m6.7-18.6h0m-11.7 30.4h0m0.8-7h0m11.4 3.8h0m-12.3-22.3h0m22.8 16.5h0m-20.8-18.4h0m7.3 16.1h0m-1.6-72.5h0m2.3 67.1h0m-12.8-13.8h0m50.1 20.7h0m-48.4 3.8h0m4 0.2h0m1.8 3.6h0m-3.5-60.9h0m8 65.7h0m-11.5-3.4h0m13.6 2.4h0m-8.1-24h0m-6.5 12.9h0m5.7 10.7h0m13-15.2h0m-16 4.5h0m0.1 8.9h0m5.2-0.5h0"/>
</g>
<line x1="573.2" y1="20.2" x2="573.2" y2="205.4" stroke="#bdbdbd" stroke-width="2" stroke-dasharray="9.6 10"/>
<line x1="602.6" y1="20.2" x2="602.6" y2="205.4" stroke="#bdbdbd" stroke-width="2" stroke-dasharray="9.6 10"/>
<line x1="498.8" y1="135.6" x2="677.4" y2="135.6" stroke="#bdbdbd" stroke-width="2" stroke-dasharray="9.6 10"/>
<rect x="498.8" y="17.2" width="178.6" height="188.2" fill="none" stroke="#333" stroke-width="1.3"/>
<line x1="496.3" y1="197.0" x2="498.8" y2="197.0" stroke="#333" stroke-width="1"/>
<text x="494.5" y="200.6" font-size="10" fill="#4d4d4d" text-anchor="end">0</text>
<line x1="496.3" y1="149.8" x2="498.8" y2="149.8" stroke="#333" stroke-width="1"/>
<text x="494.5" y="153.4" font-size="10" fill="#4d4d4d" text-anchor="end">1</text>
<line x1="496.3" y1="102.7" x2="498.8" y2="102.7" stroke="#333" stroke-width="1"/>
<text x="494.5" y="106.3" font-size="10" fill="#4d4d4d" text-anchor="end">2</text>
<line x1="496.3" y1="55.5" x2="498.8" y2="55.5" stroke="#333" stroke-width="1"/>
<text x="494.5" y="59.1" font-size="10" fill="#4d4d4d" text-anchor="end">3</text>
<line x1="537.6" y1="205.4" x2="537.6" y2="207.9" stroke="#333" stroke-width="1"/>
<text x="537.6" y="216.4" font-size="10" fill="#4d4d4d" text-anchor="middle">−2</text>
<line x1="587.9" y1="205.4" x2="587.9" y2="207.9" stroke="#333" stroke-width="1"/>
<text x="587.9" y="216.4" font-size="10" fill="#4d4d4d" text-anchor="middle">0</text>
<line x1="638.2" y1="205.4" x2="638.2" y2="207.9" stroke="#333" stroke-width="1"/>
<text x="638.2" y="216.4" font-size="10" fill="#4d4d4d" text-anchor="middle">2</text>
<text x="588.9" y="227.2" font-size="10" fill="#1a1a1a" text-anchor="middle">log<tspan font-size="7" dy="2">2</tspan><tspan dy="-2">FC</tspan></text>
<text transform="translate(482.6,108.5) rotate(-90)" font-size="10.3" fill="#1a1a1a" text-anchor="middle">−log<tspan font-size="7.5" dy="1.5">10</tspan><tspan dy="-1.5">P-value</tspan></text>
<text x="505.8" y="47.0" font-size="11.5" fill="#1a1aff">41 proteins</text>
<text x="609.6" y="47.0" font-size="11.5" fill="#ff1a1a">109 proteins</text>
<line x1="48.9" y1="264.5" x2="48.9" y2="364" stroke="#ebebeb" stroke-width="1"/>
<line x1="76.2" y1="264.5" x2="76.2" y2="364" stroke="#ebebeb" stroke-width="1"/>
<line x1="103.5" y1="264.5" x2="103.5" y2="364" stroke="#ebebeb" stroke-width="1"/>
<line x1="130.8" y1="264.5" x2="130.8" y2="364" stroke="#ebebeb" stroke-width="1"/>
<line x1="158.1" y1="264.5" x2="158.1" y2="364" stroke="#ebebeb" stroke-width="1"/>
<line x1="185.4" y1="264.5" x2="185.4" y2="364" stroke="#ebebeb" stroke-width="1"/>
<line x1="212.7" y1="264.5" x2="212.7" y2="364" stroke="#ebebeb" stroke-width="1"/>
<line x1="21.6" y1="292.3" x2="222.7" y2="292.3" stroke="#b0b0b0" stroke-width="1"/>
<path d="M22.1 359.5H211.0M211.0 292.3V359.5" fill="none" stroke="#00ff00" stroke-width="1.5" stroke-dasharray="5 4.6"/>
<polyline points="21.8,283.4 22.4,276.1 22.7,273.0 23.9,271.5 24.0,270.0 24.8,268.5 26.6,270.3 29.7,274.1 30.3,272.8 30.4,271.4 31.0,270.3 35.1,274.5 35.7,274.8 35.7,273.6 37.8,275.0 38.9,276.2 38.9,275.0 39.2,275.4 40.9,274.6 40.9,273.5 41.4,273.1 45.0,276.7 45.2,277.0 45.3,275.9 49.5,279.7 50.5,279.1 50.5,278.1 52.2,277.4 52.5,277.7 52.5,276.7 54.5,278.4 54.5,277.5 56.5,279.2 56.5,278.3 58.6,280.0 58.6,279.0 59.4,279.7 60.6,281.0 60.6,280.1 63.4,282.6 63.4,281.7 64.8,282.8 68.0,285.5 68.5,285.1 68.6,284.3 70.2,283.6 70.5,283.9 70.6,283.1 73.0,284.5 73.0,283.7 73.8,284.1 76.8,286.5 76.8,285.7 78.3,287.2 78.8,287.5 78.8,286.7 80.1,287.3 82.4,289.3 82.4,288.5 84.0,290.3 84.0,289.6 86.4,291.6 88.0,292.7 88.1,292.0 90.0,293.2 93.7,296.4 93.7,295.7 98.5,300.0 98.5,299.3 101.2,302.1 101.3,301.4 104.4,304.1 106.9,306.3 106.9,305.6 109.2,308.1 109.3,307.4 114.5,312.0 114.6,311.3 117.4,314.1 117.4,313.4 118.5,315.0 118.6,314.3 119.8,315.9 119.8,315.2 125.0,319.7 125.4,320.1 125.4,319.4 131.9,326.2 132.0,325.5 135.8,329.5 137.2,330.8 137.3,330.1 139.6,332.6 139.7,331.9 141.2,333.8 141.3,333.1 143.2,335.3 143.3,334.6 144.4,336.2 144.5,335.5 146.4,337.7 146.5,337.0 146.6,337.1 150.4,340.5 150.5,339.8 153.5,342.7 153.6,341.9 155.6,344.2 155.7,343.4 156.8,345.0 156.9,344.3 157.4,344.8 159.2,346.5 159.3,345.7 161.0,347.4 161.2,347.7 161.3,346.9 163.7,348.9 164.1,349.4 164.2,348.5 170.9,354.0 170.9,353.9 171.0,353.0 171.8,352.5 173.8,353.5 173.8,352.5 176.9,353.9 177.0,352.9 178.1,353.2 184.4,359.1 184.8,359.1 184.8,358.0 186.3,359.0 186.4,357.8 188.0,358.3 189.6,357.4 189.7,356.1 191.2,356.1 191.3,354.7 194.0,353.6 194.1,352.1 194.3,352.0 196.1,354.4 198.8,352.9 198.8,353.1 198.9,351.5 200.6,353.9 202.8,355.2 202.9,353.4 204.2,354.0 207.8,359.3 208.4,359.5 208.5,357.6 210.5,359.0 211.2,356.8 211.3,354.6 212.3,352.4 212.9,352.5 213.0,350.2 214.1,349.9 215.3,350.7 215.4,348.3 216.8,349.3 217.8,343.8 217.8,341.3 218.6,337.8 218.9,337.3 219.0,334.6 220.4,332.0 220.5,332.4 220.6,331.1 222.2,332.0 222.7,292.4" fill="none" stroke="#00ff00" stroke-width="1.5" stroke-linejoin="round"/>
<line x1="21.6" y1="264.5" x2="21.6" y2="364" stroke="#000" stroke-width="1.3"/>
<line x1="19.6" y1="275.0" x2="21.6" y2="275.0" stroke="#000" stroke-width="0.9"/>
<text transform="translate(19.6,276.5) scale(0.88,1)" font-size="7.2" fill="#1a1a1a" text-anchor="end">0.1</text>
<line x1="19.6" y1="292.3" x2="21.6" y2="292.3" stroke="#000" stroke-width="0.9"/>
<text transform="translate(19.6,293.8) scale(0.88,1)" font-size="7.2" fill="#1a1a1a" text-anchor="end">0.0</text>
<line x1="19.6" y1="309.6" x2="21.6" y2="309.6" stroke="#000" stroke-width="0.9"/>
<text transform="translate(19.6,311.1) scale(0.88,1)" font-size="7.2" fill="#1a1a1a" text-anchor="end">-0.1</text>
<line x1="19.6" y1="326.9" x2="21.6" y2="326.9" stroke="#000" stroke-width="0.9"/>
<text transform="translate(19.6,328.4) scale(0.88,1)" font-size="7.2" fill="#1a1a1a" text-anchor="end">-0.2</text>
<line x1="19.6" y1="344.2" x2="21.6" y2="344.2" stroke="#000" stroke-width="0.9"/>
<text transform="translate(19.6,345.7) scale(0.88,1)" font-size="7.2" fill="#1a1a1a" text-anchor="end">-0.3</text>
<line x1="19.6" y1="361.5" x2="21.6" y2="361.5" stroke="#000" stroke-width="0.9"/>
<text transform="translate(19.6,363.0) scale(0.88,1)" font-size="7.2" fill="#1a1a1a" text-anchor="end">-0.4</text>
<text transform="translate(8.1,314.2) rotate(-90)" font-size="10" fill="#1a1a1a" text-anchor="middle">Enrichment Score (ES)</text>
<path d="M35.7 365v23.6M45.3 365v23.6M78.8 365v23.6M84 365v23.6M141.3 365v23.6M143.3 365v23.6M150.5 365v23.6M202.9 365v23.6" stroke="#a8a8a8" stroke-width="1"/>
<path d="M22.4 365v23.6M30.4 365v23.6M38.9 365v23.6M54.5 365v23.6M56.5 365v23.6M58.6 365v23.6M63.4 365v23.6M73 365v23.6M76.8 365v23.6M93.7 365v23.6M101.3 365v23.6M117.4 365v23.6M139.7 365v23.6M144.5 365v23.6M155.7 365v23.6M156.9 365v23.6M161.3 365v23.6M215.4 365v23.6M220.6 365v23.6" stroke="#6a6a6a" stroke-width="1"/>
<path d="M24 365v23.6M40.9 365v23.6M50.5 365v23.6M52.5 365v23.6M60.6 365v23.6M70.6 365v23.6M114.6 365v23.6M118.6 365v23.6M119.8 365v23.6M125.4 365v23.6M137.3 365v23.6M146.5 365v23.6M153.6 365v23.6M164.2 365v23.6M173.8 365v23.6M177 365v23.6M184.8 365v23.6M186.4 365v23.6M191.3 365v23.6M194.1 365v23.6M198.9 365v23.6M208.5 365v23.6" stroke="#2e2e2e" stroke-width="1"/>
<path d="M106.9 365v23.6" stroke="#2e2e2e" stroke-width="1.9"/>
<path d="M21.4 365v23.6M68.6 365v23.6M82.4 365v23.6M98.5 365v23.6M109.3 365v23.6M159.3 365v23.6M171 365v23.6M189.7 365v23.6M211.3 365v23.6M213 365v23.6M217.8 365v23.6M219 365v23.6M222.6 365v23.6" stroke="#000" stroke-width="1"/>
<path d="M88.1 365v23.6M132 365v23.6" stroke="#000" stroke-width="1.9"/>
<rect x="21.4" y="388.6" width="29.9" height="10.0" fill="#e0403a"/>
<rect x="51.3" y="388.6" width="24.7" height="10.0" fill="#f4714f"/>
<rect x="76" y="388.6" width="25.1" height="10.0" fill="#f8a98a"/>
<rect x="101.1" y="388.6" width="32.6" height="10.0" fill="#fcdccf"/>
<rect x="133.7" y="388.6" width="30.3" height="10.0" fill="#eaedf8"/>
<rect x="164" y="388.6" width="25.0" height="10.0" fill="#bfd8e8"/>
<rect x="189" y="388.6" width="22.2" height="10.0" fill="#6eaad7"/>
<rect x="211.2" y="388.6" width="11.8" height="10.0" fill="#3b7fbd"/>
<path d="M21.4 388.6v10.0M22.4 388.6v10.0M24 388.6v10.0M30.4 388.6v10.0M35.7 388.6v10.0M38.9 388.6v10.0M40.9 388.6v10.0M45.3 388.6v10.0M50.5 388.6v10.0M52.5 388.6v10.0M54.5 388.6v10.0M56.5 388.6v10.0M58.6 388.6v10.0M60.6 388.6v10.0M63.4 388.6v10.0M68.6 388.6v10.0M70.6 388.6v10.0M73 388.6v10.0M76.8 388.6v10.0M78.8 388.6v10.0M82.4 388.6v10.0M84 388.6v10.0M88.1 388.6v10.0M93.7 388.6v10.0M98.5 388.6v10.0M101.3 388.6v10.0M106.9 388.6v10.0M109.3 388.6v10.0M114.6 388.6v10.0M117.4 388.6v10.0M118.6 388.6v10.0M119.8 388.6v10.0M125.4 388.6v10.0M132 388.6v10.0M137.3 388.6v10.0M139.7 388.6v10.0M141.3 388.6v10.0M143.3 388.6v10.0M144.5 388.6v10.0M146.5 388.6v10.0M150.5 388.6v10.0M153.6 388.6v10.0M155.7 388.6v10.0M156.9 388.6v10.0M159.3 388.6v10.0M161.3 388.6v10.0M164.2 388.6v10.0M171 388.6v10.0M173.8 388.6v10.0M177 388.6v10.0M184.8 388.6v10.0M186.4 388.6v10.0M189.7 388.6v10.0M191.3 388.6v10.0M194.1 388.6v10.0M198.9 388.6v10.0M202.9 388.6v10.0M208.5 388.6v10.0M211.3 388.6v10.0M213 388.6v10.0M215.4 388.6v10.0M217.8 388.6v10.0M219 388.6v10.0M220.6 388.6v10.0" stroke="#000" stroke-opacity="0.05" stroke-width="1.1"/>
<path d="M21.9 388.6V398.6" stroke="#000" stroke-opacity="0.55" stroke-width="1"/>
<line x1="279.4" y1="264.9" x2="279.4" y2="364" stroke="#ebebeb" stroke-width="1"/>
<line x1="308.4" y1="264.9" x2="308.4" y2="364" stroke="#ebebeb" stroke-width="1"/>
<line x1="338.6" y1="264.9" x2="338.6" y2="364" stroke="#ebebeb" stroke-width="1"/>
<line x1="367.8" y1="264.9" x2="367.8" y2="364" stroke="#ebebeb" stroke-width="1"/>
<line x1="397.1" y1="264.9" x2="397.1" y2="364" stroke="#ebebeb" stroke-width="1"/>
<line x1="426.6" y1="264.9" x2="426.6" y2="364" stroke="#ebebeb" stroke-width="1"/>
<line x1="250.6" y1="290.4" x2="452.7" y2="290.4" stroke="#b0b0b0" stroke-width="1"/>
<path d="M251.1 359.2H435.6M435.6 290.4V359.2" fill="none" stroke="#00ff00" stroke-width="1.5" stroke-dasharray="5 4.6"/>
<polyline points="250.8,291.9 252.0,284.7 252.8,280.4 253.4,277.9 256.0,280.6 256.8,276.1 256.8,274.7 257.8,268.9 264.6,275.4 264.8,274.3 264.9,273.0 265.5,270.9 266.8,273.2 267.6,272.2 267.7,271.0 269.1,269.1 272.7,273.3 274.1,272.5 274.1,271.4 274.5,271.1 280.4,276.0 280.5,275.0 280.8,275.3 282.8,275.6 282.9,274.6 284.4,275.1 284.5,274.2 285.3,274.1 289.3,276.9 289.4,276.0 291.6,277.9 291.8,277.9 291.8,277.1 296.1,277.9 296.2,277.1 297.0,277.6 297.3,278.0 297.4,277.2 300.6,278.5 300.6,277.7 302.4,278.8 302.4,278.9 302.5,278.1 306.8,281.0 306.8,280.2 308.8,282.0 308.8,281.2 309.6,281.8 311.9,283.6 312.0,282.8 314.4,284.8 314.5,284.1 315.0,284.4 318.4,287.3 318.5,286.5 320.8,288.8 320.9,288.0 322.2,289.4 322.4,289.8 322.5,289.0 324.1,290.8 324.1,290.0 328.1,293.3 328.1,292.6 331.2,295.3 331.3,294.6 333.6,296.8 333.7,296.1 335.0,297.5 335.2,297.9 335.3,297.2 339.3,301.7 339.4,301.0 342.1,304.3 342.2,303.5 345.3,307.2 345.4,306.5 345.8,307.0 347.8,309.1 347.8,308.4 352.9,313.2 353.0,312.4 355.6,315.2 355.6,314.5 360.2,318.6 361.1,319.4 361.2,318.7 363.1,320.7 363.2,320.0 367.4,323.3 368.1,323.8 368.1,323.0 370.8,325.4 370.9,324.6 373.2,326.7 373.3,326.0 373.7,326.3 379.6,331.6 379.7,330.9 380.0,331.3 381.2,332.3 381.3,331.6 383.2,333.1 383.3,332.3 386.1,334.1 386.1,333.3 386.3,333.4 393.5,339.1 393.8,339.2 393.8,338.4 396.6,340.2 396.6,339.4 397.1,339.9 397.8,340.9 397.8,340.0 402.9,344.2 403.0,343.3 404.3,344.7 405.1,345.1 405.2,344.1 407.3,345.1 407.4,344.1 407.9,344.2 412.4,348.1 413.1,348.1 413.2,347.0 415.1,346.8 420.0,351.0 426.5,357.2 426.8,356.7 426.9,355.3 427.8,354.4 431.8,358.8 432.4,359.2 432.5,357.4 435.0,359.4 435.6,359.0 435.7,357.1 436.8,357.6 436.9,355.6 438.3,355.1 439.2,352.2 439.3,350.1 440.8,346.2 440.9,344.0 441.6,342.0 442.9,340.6 443.3,341.5 443.4,339.2 444.2,340.5 446.1,340.3 447.3,343.5 447.4,341.0 447.5,341.3 448.8,338.1 451.1,342.1 451.4,334.5 451.8,322.4 451.8,321.1 452.0,315.0 452.7,290.9" fill="none" stroke="#00ff00" stroke-width="1.5" stroke-linejoin="round"/>
<line x1="250.6" y1="264.9" x2="250.6" y2="364" stroke="#000" stroke-width="1.3"/>
<line x1="248.6" y1="290.4" x2="250.6" y2="290.4" stroke="#000" stroke-width="0.9"/>
<text transform="translate(248.6,291.9) scale(0.88,1)" font-size="7.2" fill="#1a1a1a" text-anchor="end">0.0</text>
<line x1="248.6" y1="324.6" x2="250.6" y2="324.6" stroke="#000" stroke-width="0.9"/>
<text transform="translate(248.6,326.1) scale(0.88,1)" font-size="7.2" fill="#1a1a1a" text-anchor="end">-0.2</text>
<line x1="248.6" y1="358.8" x2="250.6" y2="358.8" stroke="#000" stroke-width="0.9"/>
<text transform="translate(248.6,360.3) scale(0.88,1)" font-size="7.2" fill="#1a1a1a" text-anchor="end">-0.4</text>
<text transform="translate(237.1,314.4) rotate(-90)" font-size="10" fill="#1a1a1a" text-anchor="middle">Enrichment Score (ES)</text>
<path d="M291.8 365v23.3M339.4 365v23.3M355.6 365v23.3M370.9 365v23.3M381.3 365v23.3M397.8 365v23.3M432.5 365v23.3" stroke="#a8a8a8" stroke-width="1"/>
<path d="M250.2 365v23.3M264.9 365v23.3M280.5 365v23.3M297.4 365v23.3M302.5 365v23.3M306.8 365v23.3M314.5 365v23.3M322.5 365v23.3M335.3 365v23.3M373.3 365v23.3M379.7 365v23.3M396.6 365v23.3M403 365v23.3M426.9 365v23.3M443.4 365v23.3M447.4 365v23.3" stroke="#6a6a6a" stroke-width="1"/>
<path d="M252.8 365v23.3M256.8 365v23.3M267.7 365v23.3M274.1 365v23.3M284.5 365v23.3M289.4 365v23.3M300.6 365v23.3M308.8 365v23.3M312 365v23.3M318.5 365v23.3M331.3 365v23.3M342.2 365v23.3M345.4 365v23.3M361.2 365v23.3M368.1 365v23.3M393.8 365v23.3M436.9 365v23.3" stroke="#2e2e2e" stroke-width="1"/>
<path d="M282.9 365v23.3M320.9 365v23.3M333.7 365v23.3M347.8 365v23.3M413.2 365v23.3M435.7 365v23.3" stroke="#2e2e2e" stroke-width="1.9"/>
<path d="M296.2 365v23.3M324.1 365v23.3M353 365v23.3M363.2 365v23.3M383.3 365v23.3M405.2 365v23.3M407.4 365v23.3M439.3 365v23.3M440.9 365v23.3" stroke="#000" stroke-width="1"/>
<path d="M328.1 365v23.3M386.1 365v23.3M451.8 365v23.3" stroke="#000" stroke-width="1.9"/>
<rect x="249.6" y="388.3" width="34.4" height="10.1" fill="#e0403a"/>
<rect x="284" y="388.3" width="23.0" height="10.1" fill="#f4714f"/>
<rect x="307" y="388.3" width="20.9" height="10.1" fill="#f8a98a"/>
<rect x="327.9" y="388.3" width="25.7" height="10.1" fill="#fcdccf"/>
<rect x="353.6" y="388.3" width="18.1" height="10.1" fill="#eaedf8"/>
<rect x="371.7" y="388.3" width="24.9" height="10.1" fill="#bfd8e8"/>
<rect x="396.6" y="388.3" width="40.2" height="10.1" fill="#6eaad7"/>
<rect x="436.8" y="388.3" width="16.2" height="10.1" fill="#3b7fbd"/>
<path d="M250.2 388.3v10.1M252.8 388.3v10.1M256.8 388.3v10.1M264.9 388.3v10.1M267.7 388.3v10.1M274.1 388.3v10.1M280.5 388.3v10.1M282.9 388.3v10.1M284.5 388.3v10.1M289.4 388.3v10.1M291.8 388.3v10.1M296.2 388.3v10.1M297.4 388.3v10.1M300.6 388.3v10.1M302.5 388.3v10.1M306.8 388.3v10.1M308.8 388.3v10.1M312 388.3v10.1M314.5 388.3v10.1M318.5 388.3v10.1M320.9 388.3v10.1M322.5 388.3v10.1M324.1 388.3v10.1M328.1 388.3v10.1M331.3 388.3v10.1M333.7 388.3v10.1M335.3 388.3v10.1M339.4 388.3v10.1M342.2 388.3v10.1M345.4 388.3v10.1M347.8 388.3v10.1M353 388.3v10.1M355.6 388.3v10.1M361.2 388.3v10.1M363.2 388.3v10.1M368.1 388.3v10.1M370.9 388.3v10.1M373.3 388.3v10.1M379.7 388.3v10.1M381.3 388.3v10.1M383.3 388.3v10.1M386.1 388.3v10.1M393.8 388.3v10.1M396.6 388.3v10.1M397.8 388.3v10.1M403 388.3v10.1M405.2 388.3v10.1M407.4 388.3v10.1M413.2 388.3v10.1M426.9 388.3v10.1M432.5 388.3v10.1M435.7 388.3v10.1M436.9 388.3v10.1M439.3 388.3v10.1M440.9 388.3v10.1M443.4 388.3v10.1M447.4 388.3v10.1M451.8 388.3v10.1" stroke="#000" stroke-opacity="0.05" stroke-width="1.1"/>
<path d="M250.1 388.3V398.4" stroke="#000" stroke-opacity="0.55" stroke-width="1"/>
<line x1="510.6" y1="264.4" x2="510.6" y2="364" stroke="#ebebeb" stroke-width="1"/>
<line x1="539.2" y1="264.4" x2="539.2" y2="364" stroke="#ebebeb" stroke-width="1"/>
<line x1="567.5" y1="264.4" x2="567.5" y2="364" stroke="#ebebeb" stroke-width="1"/>
<line x1="595.5" y1="264.4" x2="595.5" y2="364" stroke="#ebebeb" stroke-width="1"/>
<line x1="623.8" y1="264.4" x2="623.8" y2="364" stroke="#ebebeb" stroke-width="1"/>
<line x1="652.4" y1="264.4" x2="652.4" y2="364" stroke="#ebebeb" stroke-width="1"/>
<line x1="680.9" y1="264.4" x2="680.9" y2="364" stroke="#ebebeb" stroke-width="1"/>
<line x1="482.1" y1="306.5" x2="686" y2="306.5" stroke="#b0b0b0" stroke-width="1"/>
<path d="M482.6 359.5H667.5M667.5 306.5V359.5" fill="none" stroke="#00ff00" stroke-width="1.5" stroke-dasharray="5 4.6"/>
<polyline points="482.5,307.0 482.9,286.4 484.0,287.4 485.4,289.4 485.6,284.3 486.0,275.8 487.6,275.6 487.6,274.2 488.0,274.0 490.4,276.6 492.8,276.9 492.9,275.6 493.3,275.7 498.2,280.7 498.4,280.1 498.5,278.9 499.8,277.1 499.9,275.9 501.2,273.4 503.1,274.6 506.4,278.2 506.5,277.1 507.6,273.4 507.7,272.4 508.0,271.3 509.6,270.8 509.6,269.8 511.0,269.0 513.2,270.9 513.3,269.9 513.9,270.4 517.2,273.8 517.3,272.9 517.8,273.4 519.9,274.2 519.9,273.3 520.8,273.4 525.0,277.0 525.0,276.1 525.7,276.8 527.6,278.2 527.6,277.4 530.4,279.3 530.4,278.5 530.6,278.6 533.4,280.5 533.4,279.7 535.5,280.8 539.6,284.4 539.6,283.6 541.4,285.4 543.2,286.8 543.2,286.1 545.8,288.3 545.8,287.6 547.3,288.6 551.2,292.2 551.3,291.5 553.2,293.4 554.5,294.1 554.5,293.4 555.7,294.5 555.7,293.8 556.1,294.0 559.5,297.1 559.5,296.4 562.4,299.1 562.4,298.4 563.0,298.9 566.9,302.4 566.9,301.7 570.6,305.2 570.6,304.5 572.9,306.7 573.4,307.2 573.4,306.5 576.6,309.2 576.6,308.5 580.2,311.5 580.2,310.8 584.5,314.2 584.5,313.5 584.6,313.6 586.4,315.7 586.4,315.0 588.8,317.7 588.8,317.0 593.6,321.7 593.6,321.0 596.4,323.8 598.0,325.4 598.0,324.7 600.1,327.2 600.1,326.4 601.2,328.2 601.3,327.5 605.5,331.7 605.5,331.0 607.5,333.4 607.5,332.6 608.2,333.3 614.5,339.0 614.5,338.2 618.0,341.6 619.2,342.6 619.3,341.8 621.2,343.8 621.3,343.0 623.4,345.1 623.4,344.3 623.9,344.9 624.6,345.8 624.6,345.0 626.6,346.9 626.6,346.0 630.6,349.0 630.6,348.1 633.7,350.7 633.7,349.7 639.6,354.4 639.6,353.4 641.6,355.4 642.4,356.0 642.4,354.9 644.1,356.7 644.1,355.6 646.1,357.4 646.1,356.3 647.2,357.9 647.3,356.7 649.4,358.3 650.5,358.7 650.5,357.4 653.2,358.8 653.3,357.4 654.9,358.8 654.9,357.4 656.5,358.8 656.5,357.4 657.3,357.7 659.7,357.2 659.7,355.7 661.2,356.2 661.2,356.4 661.3,354.7 665.2,358.8 665.3,357.1 667.1,359.5 667.8,359.0 667.8,357.2 669.8,356.3 669.8,354.3 672.0,352.3 673.8,349.3 673.8,347.2 676.2,344.2 676.2,342.0 677.0,341.2 678.2,339.7 678.2,337.3 681.0,333.0 681.0,330.5 681.9,329.5 683.0,325.2 683.0,323.9 683.8,319.8 684.6,309.0 685.5,306.5" fill="none" stroke="#00ff00" stroke-width="1.5" stroke-linejoin="round"/>
<line x1="482.1" y1="264.4" x2="482.1" y2="364" stroke="#000" stroke-width="1.3"/>
<line x1="480.1" y1="272.5" x2="482.1" y2="272.5" stroke="#000" stroke-width="0.9"/>
<text transform="translate(480.1,274.0) scale(0.88,1)" font-size="7.2" fill="#1a1a1a" text-anchor="end">0.2</text>
<line x1="480.1" y1="289.5" x2="482.1" y2="289.5" stroke="#000" stroke-width="0.9"/>
<text transform="translate(480.1,291.0) scale(0.88,1)" font-size="7.2" fill="#1a1a1a" text-anchor="end">0.1</text>
<line x1="480.1" y1="306.5" x2="482.1" y2="306.5" stroke="#000" stroke-width="0.9"/>
<text transform="translate(480.1,308.0) scale(0.88,1)" font-size="7.2" fill="#1a1a1a" text-anchor="end">0.0</text>
<line x1="480.1" y1="323.5" x2="482.1" y2="323.5" stroke="#000" stroke-width="0.9"/>
<text transform="translate(480.1,325.0) scale(0.88,1)" font-size="7.2" fill="#1a1a1a" text-anchor="end">-0.1</text>
<line x1="480.1" y1="340.5" x2="482.1" y2="340.5" stroke="#000" stroke-width="0.9"/>
<text transform="translate(480.1,342.0) scale(0.88,1)" font-size="7.2" fill="#1a1a1a" text-anchor="end">-0.2</text>
<line x1="480.1" y1="357.5" x2="482.1" y2="357.5" stroke="#000" stroke-width="0.9"/>
<text transform="translate(480.1,359.0) scale(0.88,1)" font-size="7.2" fill="#1a1a1a" text-anchor="end">-0.3</text>
<text transform="translate(468.6,314.2) rotate(-90)" font-size="10" fill="#1a1a1a" text-anchor="middle">Enrichment Score (ES)</text>
<path d="M525 365v23.6M545.8 365v23.6M555.7 365v23.6M600.1 365v23.6M601.3 365v23.6M626.6 365v23.6M646.1 365v23.6" stroke="#a8a8a8" stroke-width="1"/>
<path d="M487.6 365v23.6M598 365v23.6M644.1 365v23.6" stroke="#a8a8a8" stroke-width="1.9"/>
<path d="M485.6 365v23.6M492.9 365v23.6M498.5 365v23.6M517.3 365v23.6M527.6 365v23.6M533.4 365v23.6M539.6 365v23.6M584.5 365v23.6M614.5 365v23.6M623.4 365v23.6M647.3 365v23.6M654.9 365v23.6M656.5 365v23.6M667.8 365v23.6M669.8 365v23.6" stroke="#6a6a6a" stroke-width="1"/>
<path d="M566.9 365v23.6M588.8 365v23.6M621.3 365v23.6M653.3 365v23.6" stroke="#6a6a6a" stroke-width="1.9"/>
<path d="M499.9 365v23.6M509.6 365v23.6M513.3 365v23.6M519.9 365v23.6M543.2 365v23.6M551.3 365v23.6M559.5 365v23.6M562.4 365v23.6M570.6 365v23.6M580.2 365v23.6M586.4 365v23.6M605.5 365v23.6M607.5 365v23.6M619.3 365v23.6M630.6 365v23.6M639.6 365v23.6M659.7 365v23.6M661.3 365v23.6M665.3 365v23.6M676.2 365v23.6M681 365v23.6M683 365v23.6" stroke="#2e2e2e" stroke-width="1"/>
<path d="M673.8 365v23.6" stroke="#2e2e2e" stroke-width="1.9"/>
<path d="M482.6 365v23.6M507.7 365v23.6M530.4 365v23.6M573.4 365v23.6M576.6 365v23.6M593.6 365v23.6M624.6 365v23.6M642.4 365v23.6M650.5 365v23.6M678.2 365v23.6" stroke="#000" stroke-width="1"/>
<path d="M506.5 365v23.6M554.5 365v23.6M633.7 365v23.6" stroke="#000" stroke-width="1.9"/>
<rect x="481.9" y="388.6" width="25.0" height="10.0" fill="#e0403a"/>
<rect x="506.9" y="388.6" width="36.3" height="10.0" fill="#f4714f"/>
<rect x="543.2" y="388.6" width="36.9" height="10.0" fill="#f8a98a"/>
<rect x="580.1" y="388.6" width="34.8" height="10.0" fill="#fcdccf"/>
<rect x="614.9" y="388.6" width="18.4" height="10.0" fill="#eaedf8"/>
<rect x="633.3" y="388.6" width="21.5" height="10.0" fill="#bfd8e8"/>
<rect x="654.8" y="388.6" width="18.8" height="10.0" fill="#6eaad7"/>
<rect x="673.6" y="388.6" width="12.4" height="10.0" fill="#3b7fbd"/>
<path d="M482.6 388.6v10.0M485.6 388.6v10.0M487.6 388.6v10.0M492.9 388.6v10.0M498.5 388.6v10.0M499.9 388.6v10.0M506.5 388.6v10.0M507.7 388.6v10.0M509.6 388.6v10.0M513.3 388.6v10.0M517.3 388.6v10.0M519.9 388.6v10.0M525 388.6v10.0M527.6 388.6v10.0M530.4 388.6v10.0M533.4 388.6v10.0M539.6 388.6v10.0M543.2 388.6v10.0M545.8 388.6v10.0M551.3 388.6v10.0M554.5 388.6v10.0M555.7 388.6v10.0M559.5 388.6v10.0M562.4 388.6v10.0M566.9 388.6v10.0M570.6 388.6v10.0M573.4 388.6v10.0M576.6 388.6v10.0M580.2 388.6v10.0M584.5 388.6v10.0M586.4 388.6v10.0M588.8 388.6v10.0M593.6 388.6v10.0M598 388.6v10.0M600.1 388.6v10.0M601.3 388.6v10.0M605.5 388.6v10.0M607.5 388.6v10.0M614.5 388.6v10.0M619.3 388.6v10.0M621.3 388.6v10.0M623.4 388.6v10.0M624.6 388.6v10.0M626.6 388.6v10.0M630.6 388.6v10.0M633.7 388.6v10.0M639.6 388.6v10.0M642.4 388.6v10.0M644.1 388.6v10.0M646.1 388.6v10.0M647.3 388.6v10.0M650.5 388.6v10.0M653.3 388.6v10.0M654.9 388.6v10.0M656.5 388.6v10.0M659.7 388.6v10.0M661.3 388.6v10.0M665.3 388.6v10.0M667.8 388.6v10.0M669.8 388.6v10.0M673.8 388.6v10.0M676.2 388.6v10.0M678.2 388.6v10.0M681 388.6v10.0M683 388.6v10.0" stroke="#000" stroke-opacity="0.05" stroke-width="1.1"/>
<path d="M482.4 388.6V398.6" stroke="#000" stroke-opacity="0.55" stroke-width="1"/>
<line x1="48.6" y1="458" x2="48.6" y2="556.5" stroke="#ebebeb" stroke-width="1"/>
<line x1="76.0" y1="458" x2="76.0" y2="556.5" stroke="#ebebeb" stroke-width="1"/>
<line x1="103.4" y1="458" x2="103.4" y2="556.5" stroke="#ebebeb" stroke-width="1"/>
<line x1="130.8" y1="458" x2="130.8" y2="556.5" stroke="#ebebeb" stroke-width="1"/>
<line x1="158.2" y1="458" x2="158.2" y2="556.5" stroke="#ebebeb" stroke-width="1"/>
<line x1="185.4" y1="458" x2="185.4" y2="556.5" stroke="#ebebeb" stroke-width="1"/>
<line x1="212.7" y1="458" x2="212.7" y2="556.5" stroke="#ebebeb" stroke-width="1"/>
<line x1="21.6" y1="530.9" x2="222.6" y2="530.9" stroke="#b0b0b0" stroke-width="1"/>
<path d="M22.1 462.2H36.5M36.5 462.2V530.9" fill="none" stroke="#00ff00" stroke-width="1.5" stroke-dasharray="5 4.6"/>
<polyline points="21.7,500.0 22.6,484.4 23.2,482.7 24.3,474.2 24.4,472.7 24.5,471.9 26.5,474.4 28.5,475.9 29.4,473.9 29.5,472.5 31.4,475.7 32.4,472.5 32.4,471.2 33.0,469.4 34.1,469.5 34.1,468.3 34.4,468.4 35.2,466.6 35.3,465.4 35.4,465.2 36.5,463.7 36.5,462.5 36.9,461.6 46.2,471.1 46.9,470.5 46.9,469.4 48.1,469.2 48.1,468.2 50.1,468.7 50.1,467.7 50.7,467.7 52.0,468.9 60.9,478.0 61.4,476.5 61.4,475.6 61.9,474.2 63.8,476.5 65.8,475.9 65.8,475.1 68.5,478.2 68.6,477.4 68.7,477.5 70.5,477.0 70.6,476.2 72.2,476.0 72.2,475.2 72.3,475.1 75.5,478.9 75.6,478.1 78.0,479.6 78.0,478.8 80.4,480.2 80.4,479.4 82.5,480.6 83.2,481.1 83.2,480.4 86.9,483.0 86.9,482.3 88.9,484.0 88.9,483.3 90.3,484.5 90.9,485.1 90.9,484.3 94.5,486.8 94.5,486.1 96.2,487.6 96.5,487.8 96.5,487.1 98.5,488.8 98.5,488.1 99.7,489.4 99.7,488.7 102.1,490.4 103.2,491.7 103.3,491.0 110.5,498.0 110.6,497.3 115.0,501.5 118.5,505.3 118.6,504.6 121.4,508.0 121.4,507.3 124.8,511.1 125.4,511.9 125.4,511.2 127.5,514.2 127.6,513.5 129.9,516.7 130.0,516.0 133.4,520.3 133.5,519.6 134.6,520.9 138.0,523.6 138.1,522.9 138.6,523.4 140.0,525.2 140.1,524.5 144.4,528.7 144.5,528.0 146.8,530.7 146.9,529.9 148.4,531.3 154.3,536.7 154.8,537.1 154.9,536.4 158.4,539.4 158.5,538.6 160.4,540.7 160.5,539.9 162.1,541.3 163.8,542.6 163.8,541.7 164.9,543.2 165.0,542.3 166.1,543.2 167.8,544.8 167.8,543.9 173.8,548.6 173.8,547.6 173.9,547.7 175.9,549.3 177.3,550.3 177.4,549.2 180.3,551.5 180.4,550.4 180.8,550.8 182.3,548.5 182.4,547.4 182.8,546.8 184.7,548.6 185.1,549.1 185.2,547.9 189.6,551.6 190.0,551.2 190.1,549.9 191.6,549.1 193.6,550.9 193.6,550.7 193.7,549.2 195.2,547.1 195.3,545.5 197.2,542.5 197.3,540.9 197.5,540.5 204.4,546.9 204.8,546.7 204.9,545.0 206.3,544.8 209.3,548.6 209.6,547.9 209.7,545.9 210.8,545.6 210.9,543.4 211.2,542.9 214.2,547.4 216.5,546.2 216.6,545.1 217.1,544.7 222.0,549.2 222.6,531.5" fill="none" stroke="#00ff00" stroke-width="1.5" stroke-linejoin="round"/>
<line x1="21.6" y1="458" x2="21.6" y2="556.5" stroke="#000" stroke-width="1.3"/>
<line x1="19.6" y1="472.4" x2="21.6" y2="472.4" stroke="#000" stroke-width="0.9"/>
<text transform="translate(19.6,473.9) scale(0.88,1)" font-size="7.2" fill="#1a1a1a" text-anchor="end">0.3</text>
<line x1="19.6" y1="491.9" x2="21.6" y2="491.9" stroke="#000" stroke-width="0.9"/>
<text transform="translate(19.6,493.4) scale(0.88,1)" font-size="7.2" fill="#1a1a1a" text-anchor="end">0.2</text>
<line x1="19.6" y1="511.4" x2="21.6" y2="511.4" stroke="#000" stroke-width="0.9"/>
<text transform="translate(19.6,512.9) scale(0.88,1)" font-size="7.2" fill="#1a1a1a" text-anchor="end">0.1</text>
<line x1="19.6" y1="530.9" x2="21.6" y2="530.9" stroke="#000" stroke-width="0.9"/>
<text transform="translate(19.6,532.4) scale(0.88,1)" font-size="7.2" fill="#1a1a1a" text-anchor="end">0.0</text>
<line x1="19.6" y1="550.4" x2="21.6" y2="550.4" stroke="#000" stroke-width="0.9"/>
<text transform="translate(19.6,551.9) scale(0.88,1)" font-size="7.2" fill="#1a1a1a" text-anchor="end">-0.1</text>
<text transform="translate(8.1,507.2) rotate(-90)" font-size="10" fill="#1a1a1a" text-anchor="middle">Enrichment Score (ES)</text>
<path d="M48.1 558v23.3M86.9 558v23.3M130 558v23.3M146.9 558v23.3M165 558v23.3M185.2 558v23.3M210.9 558v23.3" stroke="#a8a8a8" stroke-width="1"/>
<path d="M23.2 558v23.3M24.4 558v23.3M29.5 558v23.3M35.3 558v23.3M46.9 558v23.3M50.1 558v23.3M65.8 558v23.3M68.6 558v23.3M78 558v23.3M80.4 558v23.3M83.2 558v23.3M99.7 558v23.3M110.6 558v23.3M118.6 558v23.3M127.6 558v23.3M144.5 558v23.3M167.8 558v23.3M180.4 558v23.3M190.1 558v23.3M204.9 558v23.3M216.6 558v23.3M222.4 558v23.3" stroke="#6a6a6a" stroke-width="1"/>
<path d="M34.1 558v23.3" stroke="#6a6a6a" stroke-width="1.9"/>
<path d="M32.4 558v23.3M72.2 558v23.3M75.6 558v23.3M90.9 558v23.3M94.5 558v23.3M103.3 558v23.3M121.4 558v23.3M125.4 558v23.3M133.5 558v23.3M140.1 558v23.3M158.5 558v23.3M160.5 558v23.3M163.8 558v23.3M177.4 558v23.3M209.7 558v23.3" stroke="#2e2e2e" stroke-width="1"/>
<path d="M88.9 558v23.3M98.5 558v23.3M138.1 558v23.3M154.9 558v23.3M193.7 558v23.3" stroke="#2e2e2e" stroke-width="1.9"/>
<path d="M21.4 558v23.3M36.5 558v23.3M61.4 558v23.3M96.5 558v23.3M173.8 558v23.3M182.4 558v23.3M195.3 558v23.3M197.3 558v23.3" stroke="#000" stroke-width="1"/>
<path d="M70.6 558v23.3" stroke="#000" stroke-width="1.9"/>
<rect x="21.4" y="581.3" width="25.1" height="9.9" fill="#e0403a"/>
<rect x="46.5" y="581.3" width="24.6" height="9.9" fill="#f4714f"/>
<rect x="71.1" y="581.3" width="18.3" height="9.9" fill="#f8a98a"/>
<rect x="89.4" y="581.3" width="13.7" height="9.9" fill="#fcdccf"/>
<rect x="103.1" y="581.3" width="35.7" height="9.9" fill="#eaedf8"/>
<rect x="138.8" y="581.3" width="34.4" height="9.9" fill="#bfd8e8"/>
<rect x="173.2" y="581.3" width="19.8" height="9.9" fill="#6eaad7"/>
<rect x="193" y="581.3" width="30.0" height="9.9" fill="#3b7fbd"/>
<path d="M21.4 581.3v9.9M23.2 581.3v9.9M24.4 581.3v9.9M29.5 581.3v9.9M32.4 581.3v9.9M34.1 581.3v9.9M35.3 581.3v9.9M36.5 581.3v9.9M46.9 581.3v9.9M48.1 581.3v9.9M50.1 581.3v9.9M61.4 581.3v9.9M65.8 581.3v9.9M68.6 581.3v9.9M70.6 581.3v9.9M72.2 581.3v9.9M75.6 581.3v9.9M78 581.3v9.9M80.4 581.3v9.9M83.2 581.3v9.9M86.9 581.3v9.9M88.9 581.3v9.9M90.9 581.3v9.9M94.5 581.3v9.9M96.5 581.3v9.9M98.5 581.3v9.9M99.7 581.3v9.9M103.3 581.3v9.9M110.6 581.3v9.9M118.6 581.3v9.9M121.4 581.3v9.9M125.4 581.3v9.9M127.6 581.3v9.9M130 581.3v9.9M133.5 581.3v9.9M138.1 581.3v9.9M140.1 581.3v9.9M144.5 581.3v9.9M146.9 581.3v9.9M154.9 581.3v9.9M158.5 581.3v9.9M160.5 581.3v9.9M163.8 581.3v9.9M165 581.3v9.9M167.8 581.3v9.9M173.8 581.3v9.9M177.4 581.3v9.9M180.4 581.3v9.9M182.4 581.3v9.9M185.2 581.3v9.9M190.1 581.3v9.9M193.7 581.3v9.9M195.3 581.3v9.9M197.3 581.3v9.9M204.9 581.3v9.9M209.7 581.3v9.9M210.9 581.3v9.9M216.6 581.3v9.9M222.4 581.3v9.9" stroke="#000" stroke-opacity="0.05" stroke-width="1.1"/>
<path d="M21.9 581.3V591.2" stroke="#000" stroke-opacity="0.55" stroke-width="1"/>
<line x1="277.6" y1="458.8" x2="277.6" y2="557" stroke="#ebebeb" stroke-width="1"/>
<line x1="306.3" y1="458.8" x2="306.3" y2="557" stroke="#ebebeb" stroke-width="1"/>
<line x1="334.9" y1="458.8" x2="334.9" y2="557" stroke="#ebebeb" stroke-width="1"/>
<line x1="363.3" y1="458.8" x2="363.3" y2="557" stroke="#ebebeb" stroke-width="1"/>
<line x1="391.6" y1="458.8" x2="391.6" y2="557" stroke="#ebebeb" stroke-width="1"/>
<line x1="420.0" y1="458.8" x2="420.0" y2="557" stroke="#ebebeb" stroke-width="1"/>
<line x1="448.4" y1="458.8" x2="448.4" y2="557" stroke="#ebebeb" stroke-width="1"/>
<line x1="249.5" y1="537.2" x2="452.9" y2="537.2" stroke="#b0b0b0" stroke-width="1"/>
<path d="M250.0 463.2H260.5M260.5 463.2V537.2" fill="none" stroke="#00ff00" stroke-width="1.5" stroke-dasharray="5 4.6"/>
<polyline points="249.6,497.1 252.5,500.7 252.6,499.5 254.1,493.4 254.9,487.4 255.0,486.0 256.0,479.2 257.4,481.6 258.6,473.7 258.6,472.3 258.8,471.1 259.4,474.5 260.2,465.2 260.3,463.9 260.4,462.8 266.2,469.2 267.1,467.5 267.1,466.3 268.2,464.4 272.6,468.9 272.7,467.8 273.1,468.3 276.6,471.0 276.7,469.9 277.0,470.2 279.0,468.0 279.4,468.0 279.5,467.0 281.4,466.9 281.5,465.9 282.9,465.9 283.4,465.9 283.5,464.9 285.6,464.9 285.6,464.0 286.3,463.8 289.6,466.1 289.6,465.2 289.8,465.3 297.7,473.0 298.3,472.8 298.4,472.0 300.1,472.1 300.2,471.3 300.6,471.4 301.6,470.8 301.6,470.0 302.6,469.1 304.4,469.7 304.5,468.9 306.9,469.8 307.0,469.1 308.1,469.9 308.2,469.1 309.4,469.6 310.6,470.7 310.6,470.0 312.2,471.7 312.3,471.0 315.3,473.3 317.4,474.4 317.5,473.7 320.2,475.5 320.3,474.8 321.2,475.5 322.2,476.5 322.3,475.8 329.1,480.7 330.2,481.6 330.3,480.9 335.0,484.7 335.4,484.4 335.5,483.7 337.0,482.8 340.0,486.4 342.3,488.6 342.4,487.9 345.3,491.0 345.4,490.3 348.1,493.3 348.2,492.6 349.8,494.0 355.3,499.6 355.4,498.9 356.6,500.7 356.6,500.0 359.3,503.2 359.4,502.5 359.6,502.7 363.3,507.0 363.4,506.3 365.4,509.0 365.5,508.3 369.5,512.7 370.6,514.0 370.7,513.3 372.2,515.5 372.3,514.8 376.6,519.6 376.7,518.9 379.3,522.0 379.4,522.3 379.5,521.5 388.8,531.6 388.8,530.8 389.1,531.1 395.6,537.6 395.6,536.7 397.0,538.6 397.6,539.4 397.6,538.5 402.8,544.2 403.4,544.6 403.5,543.6 406.8,545.5 407.3,545.8 407.4,544.8 412.1,546.7 412.2,545.5 412.7,545.7 417.4,549.7 417.5,548.5 417.6,548.6 420.2,551.0 420.3,549.7 424.2,552.8 424.3,551.3 424.4,551.4 427.1,551.6 427.1,550.0 428.2,551.1 428.3,549.4 428.4,549.4 433.3,553.2 433.8,552.9 433.9,551.2 436.6,551.2 436.7,549.2 438.2,549.0 440.2,548.0 440.3,546.0 442.1,545.1 444.3,544.6 444.4,542.3 446.0,541.9 448.4,546.0 449.1,538.9 449.2,537.7 449.6,534.0 452.9,536.8" fill="none" stroke="#00ff00" stroke-width="1.5" stroke-linejoin="round"/>
<line x1="249.5" y1="458.8" x2="249.5" y2="557" stroke="#000" stroke-width="1.3"/>
<line x1="247.5" y1="476.0" x2="249.5" y2="476.0" stroke="#000" stroke-width="0.9"/>
<text transform="translate(247.5,477.5) scale(0.88,1)" font-size="7.2" fill="#1a1a1a" text-anchor="end">0.3</text>
<line x1="247.5" y1="496.4" x2="249.5" y2="496.4" stroke="#000" stroke-width="0.9"/>
<text transform="translate(247.5,497.9) scale(0.88,1)" font-size="7.2" fill="#1a1a1a" text-anchor="end">0.2</text>
<line x1="247.5" y1="516.8" x2="249.5" y2="516.8" stroke="#000" stroke-width="0.9"/>
<text transform="translate(247.5,518.3) scale(0.88,1)" font-size="7.2" fill="#1a1a1a" text-anchor="end">0.1</text>
<line x1="247.5" y1="537.2" x2="249.5" y2="537.2" stroke="#000" stroke-width="0.9"/>
<text transform="translate(247.5,538.7) scale(0.88,1)" font-size="7.2" fill="#1a1a1a" text-anchor="end">0.0</text>
<text transform="translate(236.0,507.9) rotate(-90)" font-size="10" fill="#1a1a1a" text-anchor="middle">Enrichment Score (ES)</text>
<path d="M249 559v23.8M276.7 559v23.8M310.6 559v23.8M356.6 559v23.8M420.3 559v23.8" stroke="#a8a8a8" stroke-width="1"/>
<path d="M283.5 559v23.8M322.3 559v23.8" stroke="#a8a8a8" stroke-width="1.9"/>
<path d="M252.6 559v23.8M272.7 559v23.8M281.5 559v23.8M298.4 559v23.8M345.4 559v23.8M363.4 559v23.8M379.5 559v23.8M388.8 559v23.8M395.6 559v23.8M428.3 559v23.8M436.7 559v23.8" stroke="#6a6a6a" stroke-width="1"/>
<path d="M267.1 559v23.8M427.1 559v23.8M433.9 559v23.8" stroke="#6a6a6a" stroke-width="1.9"/>
<path d="M258.6 559v23.8M260.3 559v23.8M279.5 559v23.8M285.6 559v23.8M289.6 559v23.8M300.2 559v23.8M301.6 559v23.8M308.2 559v23.8M312.3 559v23.8M317.5 559v23.8M330.3 559v23.8M342.4 559v23.8M348.2 559v23.8M359.4 559v23.8M365.5 559v23.8M372.3 559v23.8M376.7 559v23.8M397.6 559v23.8M403.5 559v23.8M412.2 559v23.8M440.3 559v23.8M449.2 559v23.8" stroke="#2e2e2e" stroke-width="1"/>
<path d="M307 559v23.8M320.3 559v23.8M355.4 559v23.8M407.4 559v23.8" stroke="#2e2e2e" stroke-width="1.9"/>
<path d="M255 559v23.8M304.5 559v23.8M417.5 559v23.8M424.3 559v23.8M444.4 559v23.8" stroke="#000" stroke-width="1"/>
<path d="M335.5 559v23.8M370.7 559v23.8" stroke="#000" stroke-width="1.9"/>
<rect x="249" y="582.8" width="23.7" height="9.6" fill="#e0403a"/>
<rect x="272.7" y="582.8" width="27.9" height="9.6" fill="#f4714f"/>
<rect x="300.6" y="582.8" width="16.5" height="9.6" fill="#f8a98a"/>
<rect x="317.1" y="582.8" width="25.2" height="9.6" fill="#fcdccf"/>
<rect x="342.3" y="582.8" width="30.5" height="9.6" fill="#eaedf8"/>
<rect x="372.8" y="582.8" width="33.7" height="9.6" fill="#bfd8e8"/>
<rect x="406.5" y="582.8" width="21.4" height="9.6" fill="#6eaad7"/>
<rect x="427.9" y="582.8" width="25.2" height="9.6" fill="#3b7fbd"/>
<path d="M249 582.8v9.6M252.6 582.8v9.6M255 582.8v9.6M258.6 582.8v9.6M260.3 582.8v9.6M267.1 582.8v9.6M272.7 582.8v9.6M276.7 582.8v9.6M279.5 582.8v9.6M281.5 582.8v9.6M283.5 582.8v9.6M285.6 582.8v9.6M289.6 582.8v9.6M298.4 582.8v9.6M300.2 582.8v9.6M301.6 582.8v9.6M304.5 582.8v9.6M307 582.8v9.6M308.2 582.8v9.6M310.6 582.8v9.6M312.3 582.8v9.6M317.5 582.8v9.6M320.3 582.8v9.6M322.3 582.8v9.6M330.3 582.8v9.6M335.5 582.8v9.6M342.4 582.8v9.6M345.4 582.8v9.6M348.2 582.8v9.6M355.4 582.8v9.6M356.6 582.8v9.6M359.4 582.8v9.6M363.4 582.8v9.6M365.5 582.8v9.6M370.7 582.8v9.6M372.3 582.8v9.6M376.7 582.8v9.6M379.5 582.8v9.6M388.8 582.8v9.6M395.6 582.8v9.6M397.6 582.8v9.6M403.5 582.8v9.6M407.4 582.8v9.6M412.2 582.8v9.6M417.5 582.8v9.6M420.3 582.8v9.6M424.3 582.8v9.6M427.1 582.8v9.6M428.3 582.8v9.6M433.9 582.8v9.6M436.7 582.8v9.6M440.3 582.8v9.6M444.4 582.8v9.6M449.2 582.8v9.6" stroke="#000" stroke-opacity="0.05" stroke-width="1.1"/>
<path d="M249.5 582.8V592.4" stroke="#000" stroke-opacity="0.55" stroke-width="1"/>
</svg></body></html>
